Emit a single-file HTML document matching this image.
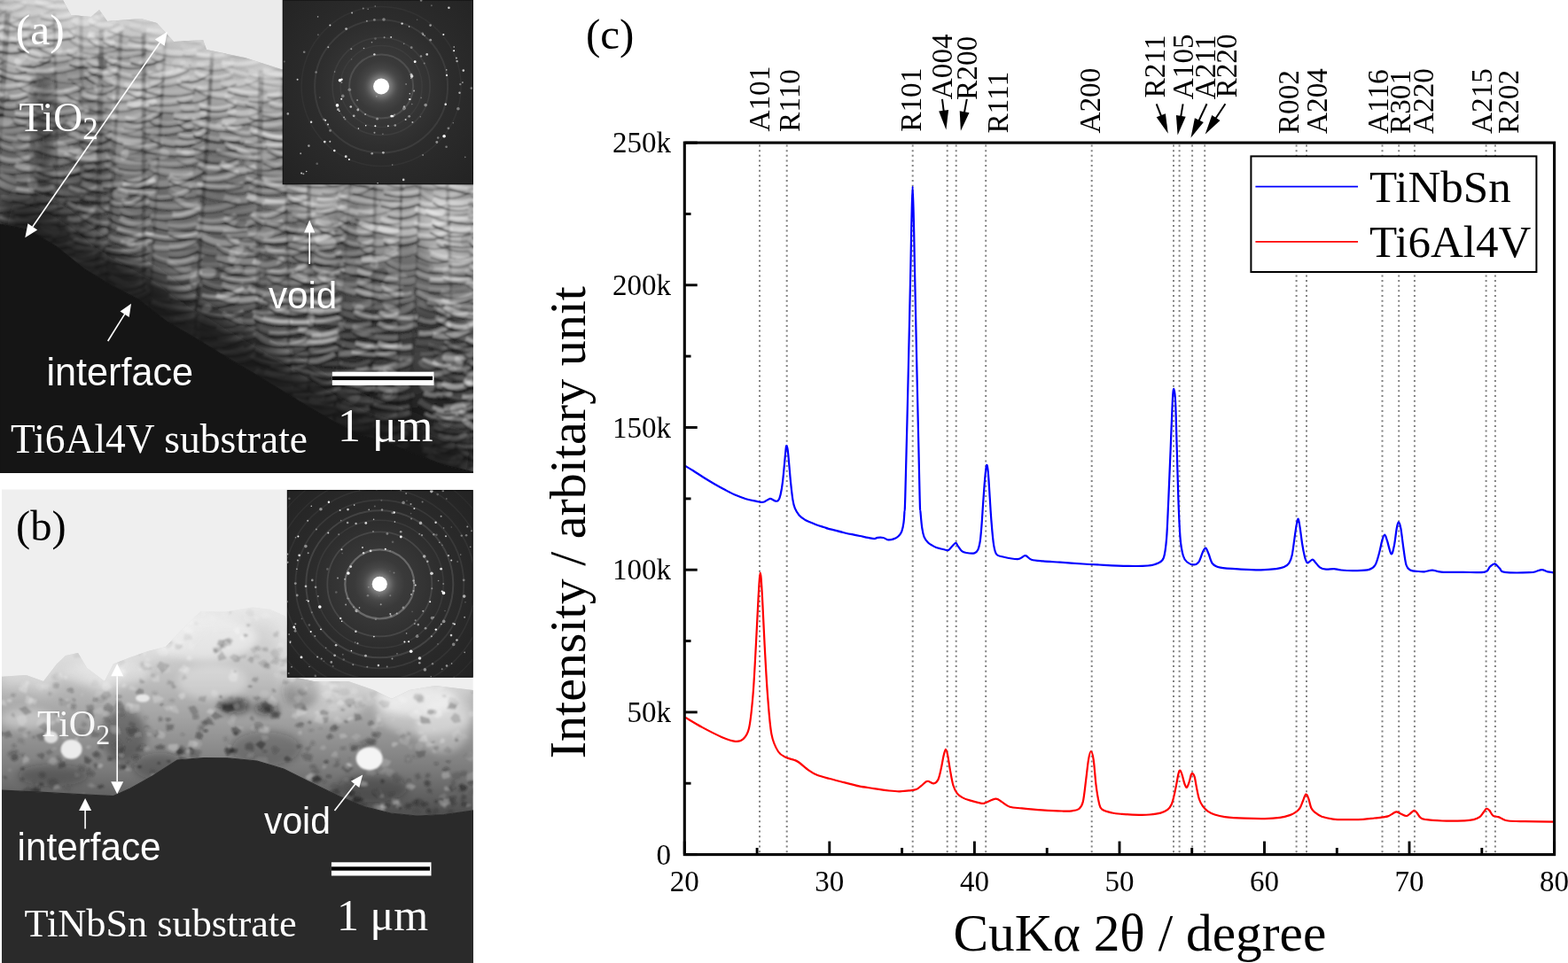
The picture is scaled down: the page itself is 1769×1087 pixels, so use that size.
<!DOCTYPE html>
<html><head><meta charset="utf-8"><title>Figure</title>
<style>
html,body{margin:0;padding:0;background:#fff;}
#fig{position:relative;width:1769px;height:1087px;overflow:hidden;background:#fff;}
svg{position:absolute;left:0;top:0;}
</style></head><body><div id="fig">
<svg width="1769" height="1087" viewBox="0 0 1769 1087">
<defs>
<filter id="bl1" x="-5%" y="-5%" width="110%" height="110%"><feGaussianBlur stdDeviation="1.2"/></filter>
<filter id="bl3" x="-50%" y="-50%" width="200%" height="200%"><feGaussianBlur stdDeviation="4"/></filter>
<filter id="bl8" x="-20%" y="-20%" width="140%" height="140%"><feGaussianBlur stdDeviation="8"/></filter>
<filter id="bl12" x="-30%" y="-30%" width="160%" height="160%"><feGaussianBlur stdDeviation="13"/></filter>
<clipPath id="cpA"><rect x="0" y="0" width="533.7" height="533.7"/></clipPath>
<clipPath id="cpB"><rect x="2" y="552.5" width="531.7" height="534.5"/></clipPath>
<clipPath id="fA"><path d="M0.0 0.0 L71.0 0.0 L80.0 17.0 L103.0 19.0 L112.0 11.0 L121.0 24.0 L159.0 21.0 L177.0 26.0 L196.0 47.0 L229.0 45.0 L233.0 56.0 L276.0 65.0 L317.0 78.0 L534.0 78.0 L534.0 534.0 L534.0 533.0 L501.0 525.0 L469.0 513.0 L438.0 500.0 L407.0 491.0 L375.0 475.0 L344.0 457.0 L313.0 438.0 L282.0 419.0 L250.0 400.0 L219.0 381.0 L188.0 363.0 L156.0 338.0 L125.0 322.0 L94.0 303.0 L63.0 278.0 L31.0 259.0 L0.0 253.0 Z"/></clipPath>
<clipPath id="fB"><path d="M0.0 764.0 L29.5 762.0 L49.0 769.0 L64.0 749.5 L74.0 740.0 L88.0 737.0 L98.0 754.0 L118.0 769.0 L128.0 749.5 L147.0 742.0 L167.0 735.0 L187.0 730.0 L206.0 710.0 L226.0 690.5 L255.0 690.5 L285.0 685.6 L305.0 688.0 L322.0 695.5 L330.0 764.0 L354.0 769.0 L393.0 769.0 L422.0 779.0 L442.0 789.0 L462.0 779.0 L491.0 774.0 L534.0 779.0 L534.0 915.0 L501.0 919.5 L470.8 921.0 L440.7 918.0 L410.6 910.5 L380.6 898.0 L350.0 883.0 L320.0 868.0 L290.0 859.0 L260.0 856.0 L230.0 855.5 L200.0 858.0 L172.0 876.0 L147.0 890.0 L128.0 898.6 L98.0 897.0 L49.0 894.4 L0.0 892.0 Z"/></clipPath>
<linearGradient id="gA" gradientUnits="userSpaceOnUse" x1="101.2" y1="439.8" x2="241.5" y2="0.6"><stop offset="0" stop-color="#222222"/><stop offset="0.5" stop-color="#686868"/><stop offset="0.8" stop-color="#959595"/><stop offset="1" stop-color="#c0c0c0"/></linearGradient>
<linearGradient id="gB" gradientUnits="userSpaceOnUse" x1="0" y1="690" x2="0" y2="915"><stop offset="0" stop-color="#e0e0e0"/><stop offset="0.3" stop-color="#c4c4c4"/><stop offset="0.55" stop-color="#a0a0a0"/><stop offset="0.8" stop-color="#7a7a7a"/><stop offset="1" stop-color="#525252"/></linearGradient>
</defs>
<g clip-path="url(#cpA)">
<rect x="0" y="0" width="534" height="534" fill="#ebebeb"/>
<path d="M0.0 0.0 L71.0 0.0 L80.0 17.0 L103.0 19.0 L112.0 11.0 L121.0 24.0 L159.0 21.0 L177.0 26.0 L196.0 47.0 L229.0 45.0 L233.0 56.0 L276.0 65.0 L317.0 78.0 L534.0 78.0 L534.0 534.0 L534.0 533.0 L501.0 525.0 L469.0 513.0 L438.0 500.0 L407.0 491.0 L375.0 475.0 L344.0 457.0 L313.0 438.0 L282.0 419.0 L250.0 400.0 L219.0 381.0 L188.0 363.0 L156.0 338.0 L125.0 322.0 L94.0 303.0 L63.0 278.0 L31.0 259.0 L0.0 253.0 Z" fill="url(#gA)"/>
<g clip-path="url(#fA)"><g filter="url(#bl1)"><ellipse cx="100" cy="170" rx="8" ry="70" fill="#2a2a2a" opacity="0.30" filter="url(#bl8)"/>
<ellipse cx="140" cy="120" rx="30" ry="50" fill="#ffffff" opacity="0.22" filter="url(#bl8)"/>
<ellipse cx="20" cy="90" rx="20" ry="30" fill="#ffffff" opacity="0.25" filter="url(#bl8)"/>
<ellipse cx="300" cy="95" rx="25" ry="15" fill="#ffffff" opacity="0.30" filter="url(#bl8)"/>
<ellipse cx="360" cy="228" rx="25" ry="20" fill="#ffffff" opacity="0.35" filter="url(#bl8)"/>
<ellipse cx="505" cy="260" rx="30" ry="50" fill="#ffffff" opacity="0.35" filter="url(#bl8)"/>
<ellipse cx="460" cy="240" rx="40" ry="25" fill="#ffffff" opacity="0.25" filter="url(#bl8)"/>
<ellipse cx="430" cy="260" rx="20" ry="40" fill="#ffffff" opacity="0.12" filter="url(#bl8)"/>
<ellipse cx="250" cy="200" rx="30" ry="40" fill="#202020" opacity="0.18" filter="url(#bl8)"/>
<ellipse cx="390" cy="300" rx="25" ry="50" fill="#202020" opacity="0.18" filter="url(#bl8)"/>
<ellipse cx="180" cy="290" rx="40" ry="25" fill="#ffffff" opacity="0.12" filter="url(#bl8)"/>
<ellipse cx="460" cy="420" rx="40" ry="30" fill="#ffffff" opacity="0.10" filter="url(#bl8)"/>
<ellipse cx="215" cy="75" rx="30" ry="20" fill="#ffffff" opacity="0.20" filter="url(#bl8)"/>
<ellipse cx="270" cy="100" rx="20" ry="20" fill="#ffffff" opacity="0.15" filter="url(#bl8)"/>
<ellipse cx="160" cy="40" rx="30" ry="15" fill="#ffffff" opacity="0.25" filter="url(#bl8)"/>
<ellipse cx="60" cy="35" rx="70" ry="35" fill="#ffffff" opacity="0.30" filter="url(#bl8)"/>
<ellipse cx="210" cy="100" rx="70" ry="25" fill="#ffffff" opacity="0.20" filter="url(#bl8)"/>
<ellipse cx="450" cy="410" rx="100" ry="60" fill="#101010" opacity="0.35" filter="url(#bl8)"/>
<ellipse cx="360" cy="360" rx="40" ry="30" fill="#101010" opacity="0.20" filter="url(#bl8)"/>
<ellipse cx="480" cy="470" rx="70" ry="50" fill="#101010" opacity="0.30" filter="url(#bl8)"/>
<path d="M-23.7 -10.7 Q-8.4 -3.7 7.0 -13.3" stroke="#fafafa" stroke-width="3.2" fill="none" opacity="0.27"/>
<path d="M-23.7 -5.7 Q-8.4 1.3 7.0 -8.3" stroke="#121212" stroke-width="1.6" fill="none" opacity="0.13"/>
<path d="M-29.9 1.1 Q-12.3 8.0 5.3 -6.4" stroke="#fafafa" stroke-width="3.8" fill="none" opacity="0.31"/>
<path d="M-29.9 6.1 Q-12.3 13.0 5.3 -1.4" stroke="#121212" stroke-width="2.9" fill="none" opacity="0.15"/>
<path d="M-22.8 10.4 Q-7.7 19.2 7.5 6.2" stroke="#fafafa" stroke-width="3.5" fill="none" opacity="0.12"/>
<path d="M-22.8 15.4 Q-7.7 24.2 7.5 11.2" stroke="#121212" stroke-width="2.0" fill="none" opacity="0.26"/>
<path d="M-29.6 17.8 Q-10.6 25.2 8.4 18.7" stroke="#fafafa" stroke-width="3.2" fill="none" opacity="0.10"/>
<path d="M-29.6 22.8 Q-10.6 30.2 8.4 23.7" stroke="#121212" stroke-width="1.8" fill="none" opacity="0.31"/>
<path d="M-31.6 31.4 Q-12.9 37.0 5.7 27.4" stroke="#fafafa" stroke-width="5.8" fill="none" opacity="0.34"/>
<path d="M-31.6 36.4 Q-12.9 42.0 5.7 32.4" stroke="#121212" stroke-width="1.9" fill="none" opacity="0.36"/>
<path d="M-29.9 36.2 Q-10.3 47.3 9.3 45.8" stroke="#fafafa" stroke-width="3.4" fill="none" opacity="0.23"/>
<path d="M-29.9 41.2 Q-10.3 52.3 9.3 50.8" stroke="#121212" stroke-width="2.6" fill="none" opacity="0.26"/>
<path d="M-35.2 51.7 Q-16.0 62.6 3.2 53.2" stroke="#fafafa" stroke-width="6.1" fill="none" opacity="0.20"/>
<path d="M-35.2 56.7 Q-16.0 67.6 3.2 58.2" stroke="#121212" stroke-width="2.5" fill="none" opacity="0.44"/>
<path d="M-34.6 64.6 Q-14.2 75.9 6.1 64.1" stroke="#fafafa" stroke-width="5.3" fill="none" opacity="0.10"/>
<path d="M-34.6 69.6 Q-14.2 80.9 6.1 69.1" stroke="#121212" stroke-width="2.6" fill="none" opacity="0.46"/>
<path d="M-29.6 76.6 Q-12.9 85.4 3.8 80.0" stroke="#fafafa" stroke-width="3.1" fill="none" opacity="0.25"/>
<path d="M-29.6 81.6 Q-12.9 90.4 3.8 85.0" stroke="#121212" stroke-width="1.8" fill="none" opacity="0.25"/>
<path d="M-29.5 88.7 Q-13.8 93.6 1.9 86.5" stroke="#fafafa" stroke-width="6.0" fill="none" opacity="0.11"/>
<path d="M-29.5 93.7 Q-13.8 98.6 1.9 91.5" stroke="#121212" stroke-width="2.2" fill="none" opacity="0.42"/>
<path d="M-34.8 101.9 Q-14.3 107.2 6.1 100.2" stroke="#fafafa" stroke-width="4.3" fill="none" opacity="0.41"/>
<path d="M-34.8 106.9 Q-14.3 112.2 6.1 105.2" stroke="#121212" stroke-width="2.9" fill="none" opacity="0.26"/>
<path d="M-34.8 110.0 Q-18.5 118.8 -2.1 111.8" stroke="#fafafa" stroke-width="3.9" fill="none" opacity="0.08"/>
<path d="M-34.8 115.0 Q-18.5 123.8 -2.1 116.8" stroke="#121212" stroke-width="2.1" fill="none" opacity="0.35"/>
<path d="M-34.2 121.6 Q-14.9 130.9 4.5 123.9" stroke="#fafafa" stroke-width="5.4" fill="none" opacity="0.10"/>
<path d="M-34.2 126.6 Q-14.9 135.9 4.5 128.9" stroke="#121212" stroke-width="2.8" fill="none" opacity="0.51"/>
<path d="M-34.0 140.1 Q-16.6 143.3 0.8 132.1" stroke="#fafafa" stroke-width="5.2" fill="none" opacity="0.10"/>
<path d="M-34.0 145.1 Q-16.6 148.3 0.8 137.1" stroke="#121212" stroke-width="1.6" fill="none" opacity="0.28"/>
<path d="M-35.2 149.4 Q-20.0 149.9 -4.8 142.4" stroke="#fafafa" stroke-width="3.4" fill="none" opacity="0.21"/>
<path d="M-35.2 154.4 Q-20.0 154.9 -4.8 147.4" stroke="#121212" stroke-width="1.5" fill="none" opacity="0.55"/>
<path d="M-38.4 159.3 Q-21.9 164.8 -5.4 156.6" stroke="#fafafa" stroke-width="3.4" fill="none" opacity="0.39"/>
<path d="M-38.4 164.3 Q-21.9 169.8 -5.4 161.6" stroke="#121212" stroke-width="3.0" fill="none" opacity="0.39"/>
<path d="M-38.5 171.8 Q-23.0 176.1 -7.5 167.1" stroke="#fafafa" stroke-width="5.9" fill="none" opacity="0.14"/>
<path d="M-38.5 176.8 Q-23.0 181.1 -7.5 172.1" stroke="#121212" stroke-width="1.5" fill="none" opacity="0.58"/>
<path d="M-41.7 180.8 Q-23.3 185.3 -4.9 181.3" stroke="#fafafa" stroke-width="6.4" fill="none" opacity="0.40"/>
<path d="M-41.7 185.8 Q-23.3 190.3 -4.9 186.3" stroke="#121212" stroke-width="2.5" fill="none" opacity="0.30"/>
<path d="M-43.7 189.1 Q-23.9 200.1 -4.0 194.7" stroke="#fafafa" stroke-width="4.2" fill="none" opacity="0.16"/>
<path d="M-43.7 194.1 Q-23.9 205.1 -4.0 199.7" stroke="#121212" stroke-width="2.7" fill="none" opacity="0.59"/>
<path d="M-41.0 207.9 Q-20.9 215.1 -0.7 202.4" stroke="#fafafa" stroke-width="4.8" fill="none" opacity="0.21"/>
<path d="M-41.0 212.9 Q-20.9 220.1 -0.7 207.4" stroke="#121212" stroke-width="1.5" fill="none" opacity="0.21"/>
<path d="M-44.1 216.1 Q-24.8 227.2 -5.4 215.0" stroke="#fafafa" stroke-width="6.3" fill="none" opacity="0.45"/>
<path d="M-44.1 221.1 Q-24.8 232.2 -5.4 220.0" stroke="#121212" stroke-width="2.9" fill="none" opacity="0.35"/>
<path d="M-41.7 224.4 Q-25.6 231.3 -9.5 226.9" stroke="#fafafa" stroke-width="6.2" fill="none" opacity="0.39"/>
<path d="M-41.7 229.4 Q-25.6 236.3 -9.5 231.9" stroke="#121212" stroke-width="2.2" fill="none" opacity="0.46"/>
<path d="M-46.4 235.8 Q-27.3 249.9 -8.1 241.5" stroke="#fafafa" stroke-width="5.6" fill="none" opacity="0.26"/>
<path d="M-46.4 240.8 Q-27.3 254.9 -8.1 246.5" stroke="#121212" stroke-width="1.8" fill="none" opacity="0.52"/>
<path d="M-44.8 250.3 Q-23.6 256.5 -2.5 248.3" stroke="#fafafa" stroke-width="6.3" fill="none" opacity="0.35"/>
<path d="M-44.8 255.3 Q-23.6 261.5 -2.5 253.3" stroke="#121212" stroke-width="1.8" fill="none" opacity="0.25"/>
<path d="M-43.7 255.8 Q-23.6 264.2 -3.5 262.3" stroke="#fafafa" stroke-width="6.4" fill="none" opacity="0.32"/>
<path d="M-43.7 260.8 Q-23.6 269.2 -3.5 267.3" stroke="#121212" stroke-width="2.0" fill="none" opacity="0.42"/>
<line x1="8.6" y1="15.0" x2="-7.1" y2="253.0" stroke="#1a1a1a" stroke-width="6.9" opacity="0.31"/>
<path d="M-11.3 -4.1 Q11.7 3.6 34.6 -9.9" stroke="#fafafa" stroke-width="3.9" fill="none" opacity="0.19"/>
<path d="M-11.3 0.9 Q11.7 8.6 34.6 -4.9" stroke="#121212" stroke-width="1.9" fill="none" opacity="0.15"/>
<path d="M-5.7 4.8 Q11.9 14.6 29.5 1.8" stroke="#fafafa" stroke-width="4.6" fill="none" opacity="0.30"/>
<path d="M-5.7 9.8 Q11.9 19.6 29.5 6.8" stroke="#121212" stroke-width="2.9" fill="none" opacity="0.15"/>
<path d="M-7.7 21.7 Q12.8 25.1 33.3 12.1" stroke="#fafafa" stroke-width="4.5" fill="none" opacity="0.15"/>
<path d="M-7.7 26.7 Q12.8 30.1 33.3 17.1" stroke="#121212" stroke-width="1.5" fill="none" opacity="0.33"/>
<path d="M-8.9 28.5 Q13.0 35.2 34.9 25.0" stroke="#fafafa" stroke-width="4.8" fill="none" opacity="0.29"/>
<path d="M-8.9 33.5 Q13.0 40.2 34.9 30.0" stroke="#121212" stroke-width="2.7" fill="none" opacity="0.19"/>
<path d="M-6.6 38.5 Q12.0 48.7 30.6 38.6" stroke="#fafafa" stroke-width="5.0" fill="none" opacity="0.36"/>
<path d="M-6.6 43.5 Q12.0 53.7 30.6 43.6" stroke="#121212" stroke-width="2.9" fill="none" opacity="0.37"/>
<path d="M-6.4 51.1 Q13.9 60.2 34.3 50.1" stroke="#fafafa" stroke-width="4.9" fill="none" opacity="0.26"/>
<path d="M-6.4 56.1 Q13.9 65.2 34.3 55.1" stroke="#121212" stroke-width="2.9" fill="none" opacity="0.48"/>
<path d="M-1.5 59.6 Q17.0 72.5 35.5 68.4" stroke="#fafafa" stroke-width="5.9" fill="none" opacity="0.13"/>
<path d="M-1.5 64.6 Q17.0 77.5 35.5 73.4" stroke="#121212" stroke-width="1.7" fill="none" opacity="0.38"/>
<path d="M-4.1 70.5 Q13.1 82.7 30.2 76.2" stroke="#fafafa" stroke-width="6.1" fill="none" opacity="0.14"/>
<path d="M-4.1 75.5 Q13.1 87.7 30.2 81.2" stroke="#121212" stroke-width="2.6" fill="none" opacity="0.46"/>
<path d="M-6.4 78.5 Q17.2 88.8 40.9 87.6" stroke="#fafafa" stroke-width="4.4" fill="none" opacity="0.26"/>
<path d="M-6.4 83.5 Q17.2 93.8 40.9 92.6" stroke="#121212" stroke-width="3.0" fill="none" opacity="0.53"/>
<path d="M-5.5 95.9 Q14.8 99.6 35.2 89.8" stroke="#fafafa" stroke-width="4.1" fill="none" opacity="0.35"/>
<path d="M-5.5 100.9 Q14.8 104.6 35.2 94.8" stroke="#121212" stroke-width="1.5" fill="none" opacity="0.42"/>
<path d="M-6.3 104.0 Q12.7 113.1 31.8 104.2" stroke="#fafafa" stroke-width="3.2" fill="none" opacity="0.44"/>
<path d="M-6.3 109.0 Q12.7 118.1 31.8 109.2" stroke="#121212" stroke-width="2.7" fill="none" opacity="0.59"/>
<path d="M-2.4 115.9 Q14.5 123.8 31.4 111.3" stroke="#fafafa" stroke-width="3.5" fill="none" opacity="0.24"/>
<path d="M-2.4 120.9 Q14.5 128.8 31.4 116.3" stroke="#121212" stroke-width="2.9" fill="none" opacity="0.53"/>
<path d="M-9.2 121.9 Q14.1 132.5 37.5 125.9" stroke="#fafafa" stroke-width="3.3" fill="none" opacity="0.10"/>
<path d="M-9.2 126.9 Q14.1 137.5 37.5 130.9" stroke="#121212" stroke-width="2.5" fill="none" opacity="0.37"/>
<path d="M-2.1 137.4 Q19.2 143.7 40.4 129.1" stroke="#fafafa" stroke-width="6.0" fill="none" opacity="0.10"/>
<path d="M-2.1 142.4 Q19.2 148.7 40.4 134.1" stroke="#121212" stroke-width="2.8" fill="none" opacity="0.38"/>
<path d="M-6.2 147.7 Q17.2 150.1 40.6 140.2" stroke="#fafafa" stroke-width="4.8" fill="none" opacity="0.17"/>
<path d="M-6.2 152.7 Q17.2 155.1 40.6 145.2" stroke="#121212" stroke-width="1.7" fill="none" opacity="0.26"/>
<path d="M-3.5 150.6 Q15.4 159.6 34.3 155.8" stroke="#fafafa" stroke-width="4.0" fill="none" opacity="0.27"/>
<path d="M-3.5 155.6 Q15.4 164.6 34.3 160.8" stroke="#121212" stroke-width="1.8" fill="none" opacity="0.34"/>
<path d="M-0.8 161.8 Q16.0 172.2 32.7 162.8" stroke="#fafafa" stroke-width="3.7" fill="none" opacity="0.26"/>
<path d="M-0.8 166.8 Q16.0 177.2 32.7 167.8" stroke="#121212" stroke-width="2.9" fill="none" opacity="0.24"/>
<path d="M-2.7 176.5 Q17.5 186.1 37.7 174.3" stroke="#fafafa" stroke-width="4.8" fill="none" opacity="0.33"/>
<path d="M-2.7 181.5 Q17.5 191.1 37.7 179.3" stroke="#121212" stroke-width="3.0" fill="none" opacity="0.34"/>
<path d="M-1.7 190.1 Q19.6 195.8 40.8 187.0" stroke="#fafafa" stroke-width="3.2" fill="none" opacity="0.13"/>
<path d="M-1.7 195.1 Q19.6 200.8 40.8 192.0" stroke="#121212" stroke-width="1.6" fill="none" opacity="0.50"/>
<path d="M-0.6 195.1 Q16.6 209.6 33.9 202.5" stroke="#fafafa" stroke-width="5.3" fill="none" opacity="0.18"/>
<path d="M-0.6 200.1 Q16.6 214.6 33.9 207.5" stroke="#121212" stroke-width="1.9" fill="none" opacity="0.32"/>
<path d="M-2.9 205.5 Q17.0 216.2 36.8 214.7" stroke="#fafafa" stroke-width="6.4" fill="none" opacity="0.28"/>
<path d="M-2.9 210.5 Q17.0 221.2 36.8 219.7" stroke="#121212" stroke-width="1.9" fill="none" opacity="0.59"/>
<path d="M1.8 220.9 Q18.5 227.7 35.1 220.4" stroke="#fafafa" stroke-width="4.8" fill="none" opacity="0.15"/>
<path d="M1.8 225.9 Q18.5 232.7 35.1 225.4" stroke="#121212" stroke-width="2.3" fill="none" opacity="0.20"/>
<path d="M-2.3 235.8 Q17.2 235.3 36.8 226.2" stroke="#fafafa" stroke-width="4.1" fill="none" opacity="0.17"/>
<path d="M-2.3 240.8 Q17.2 240.3 36.8 231.2" stroke="#121212" stroke-width="2.4" fill="none" opacity="0.41"/>
<path d="M-0.8 244.9 Q21.0 254.8 42.9 242.6" stroke="#fafafa" stroke-width="4.1" fill="none" opacity="0.44"/>
<path d="M-0.8 249.9 Q21.0 259.8 42.9 247.6" stroke="#121212" stroke-width="1.7" fill="none" opacity="0.49"/>
<path d="M-5.0 254.7 Q17.7 267.1 40.4 257.2" stroke="#fafafa" stroke-width="5.6" fill="none" opacity="0.38"/>
<path d="M-5.0 259.7 Q17.7 272.1 40.4 262.2" stroke="#121212" stroke-width="1.7" fill="none" opacity="0.41"/>
<path d="M11.0 -13.9 Q37.5 -2.5 64.0 -10.1" stroke="#fafafa" stroke-width="3.8" fill="none" opacity="0.09"/>
<path d="M11.0 -8.9 Q37.5 2.5 64.0 -5.1" stroke="#121212" stroke-width="1.7" fill="none" opacity="0.12"/>
<path d="M15.4 -3.7 Q39.2 6.5 62.9 -1.2" stroke="#fafafa" stroke-width="5.4" fill="none" opacity="0.26"/>
<path d="M15.4 1.3 Q39.2 11.5 62.9 3.8" stroke="#121212" stroke-width="1.5" fill="none" opacity="0.18"/>
<path d="M13.9 14.6 Q37.4 19.5 61.0 5.9" stroke="#fafafa" stroke-width="5.6" fill="none" opacity="0.17"/>
<path d="M13.9 19.6 Q37.4 24.5 61.0 10.9" stroke="#121212" stroke-width="1.6" fill="none" opacity="0.16"/>
<path d="M10.6 23.0 Q35.9 34.7 61.2 22.9" stroke="#fafafa" stroke-width="4.3" fill="none" opacity="0.26"/>
<path d="M10.6 28.0 Q35.9 39.7 61.2 27.9" stroke="#121212" stroke-width="2.5" fill="none" opacity="0.37"/>
<path d="M19.0 37.5 Q38.8 40.2 58.5 32.5" stroke="#fafafa" stroke-width="5.6" fill="none" opacity="0.19"/>
<path d="M19.0 42.5 Q38.8 45.2 58.5 37.5" stroke="#121212" stroke-width="2.4" fill="none" opacity="0.19"/>
<path d="M12.0 42.5 Q36.7 53.8 61.4 46.1" stroke="#fafafa" stroke-width="4.0" fill="none" opacity="0.27"/>
<path d="M12.0 47.5 Q36.7 58.8 61.4 51.1" stroke="#121212" stroke-width="2.2" fill="none" opacity="0.39"/>
<path d="M19.9 49.5 Q40.6 65.7 61.4 58.3" stroke="#fafafa" stroke-width="3.1" fill="none" opacity="0.25"/>
<path d="M19.9 54.5 Q40.6 70.7 61.4 63.3" stroke="#121212" stroke-width="2.7" fill="none" opacity="0.59"/>
<path d="M16.3 68.0 Q37.1 76.7 57.9 62.2" stroke="#fafafa" stroke-width="5.0" fill="none" opacity="0.13"/>
<path d="M16.3 73.0 Q37.1 81.7 57.9 67.2" stroke="#121212" stroke-width="2.3" fill="none" opacity="0.58"/>
<path d="M17.3 72.8 Q40.6 85.9 63.9 76.8" stroke="#fafafa" stroke-width="3.8" fill="none" opacity="0.41"/>
<path d="M17.3 77.8 Q40.6 90.9 63.9 81.8" stroke="#121212" stroke-width="2.2" fill="none" opacity="0.21"/>
<path d="M15.9 87.4 Q38.8 90.2 61.6 80.2" stroke="#fafafa" stroke-width="4.2" fill="none" opacity="0.20"/>
<path d="M15.9 92.4 Q38.8 95.2 61.6 85.2" stroke="#121212" stroke-width="2.8" fill="none" opacity="0.20"/>
<path d="M21.0 94.4 Q41.1 108.0 61.2 98.7" stroke="#fafafa" stroke-width="6.2" fill="none" opacity="0.19"/>
<path d="M21.0 99.4 Q41.1 113.0 61.2 103.7" stroke="#121212" stroke-width="2.1" fill="none" opacity="0.36"/>
<path d="M17.8 112.8 Q39.9 118.0 62.0 108.3" stroke="#fafafa" stroke-width="3.2" fill="none" opacity="0.12"/>
<path d="M17.8 117.8 Q39.9 123.0 62.0 113.3" stroke="#121212" stroke-width="2.8" fill="none" opacity="0.31"/>
<path d="M16.8 127.3 Q38.1 132.3 59.4 121.1" stroke="#fafafa" stroke-width="4.3" fill="none" opacity="0.43"/>
<path d="M16.8 132.3 Q38.1 137.3 59.4 126.1" stroke="#121212" stroke-width="2.8" fill="none" opacity="0.52"/>
<path d="M15.4 134.2 Q42.3 144.8 69.3 138.6" stroke="#fafafa" stroke-width="3.2" fill="none" opacity="0.35"/>
<path d="M15.4 139.2 Q42.3 149.8 69.3 143.6" stroke="#121212" stroke-width="2.2" fill="none" opacity="0.50"/>
<path d="M19.3 152.4 Q38.8 160.0 58.3 144.9" stroke="#fafafa" stroke-width="4.7" fill="none" opacity="0.21"/>
<path d="M19.3 157.4 Q38.8 165.0 58.3 149.9" stroke="#121212" stroke-width="1.9" fill="none" opacity="0.50"/>
<path d="M14.3 161.9 Q38.9 168.9 63.5 163.1" stroke="#fafafa" stroke-width="4.4" fill="none" opacity="0.14"/>
<path d="M14.3 166.9 Q38.9 173.9 63.5 168.1" stroke="#121212" stroke-width="1.7" fill="none" opacity="0.28"/>
<path d="M19.7 171.1 Q40.6 187.3 61.5 181.0" stroke="#fafafa" stroke-width="4.6" fill="none" opacity="0.13"/>
<path d="M19.7 176.1 Q40.6 192.3 61.5 186.0" stroke="#121212" stroke-width="1.8" fill="none" opacity="0.24"/>
<path d="M17.3 186.0 Q38.4 192.8 59.4 187.4" stroke="#fafafa" stroke-width="6.1" fill="none" opacity="0.36"/>
<path d="M17.3 191.0 Q38.4 197.8 59.4 192.4" stroke="#121212" stroke-width="2.1" fill="none" opacity="0.37"/>
<path d="M18.4 200.6 Q40.3 202.9 62.2 196.1" stroke="#fafafa" stroke-width="6.4" fill="none" opacity="0.13"/>
<path d="M18.4 205.6 Q40.3 207.9 62.2 201.1" stroke="#121212" stroke-width="2.3" fill="none" opacity="0.45"/>
<path d="M18.2 212.7 Q39.6 217.7 60.9 210.7" stroke="#fafafa" stroke-width="4.6" fill="none" opacity="0.43"/>
<path d="M18.2 217.7 Q39.6 222.7 60.9 215.7" stroke="#121212" stroke-width="2.8" fill="none" opacity="0.55"/>
<path d="M13.6 221.1 Q38.7 232.0 63.7 220.5" stroke="#fafafa" stroke-width="5.1" fill="none" opacity="0.08"/>
<path d="M13.6 226.1 Q38.7 237.0 63.7 225.5" stroke="#121212" stroke-width="2.1" fill="none" opacity="0.57"/>
<path d="M16.6 237.8 Q43.8 239.9 71.0 230.0" stroke="#fafafa" stroke-width="3.5" fill="none" opacity="0.27"/>
<path d="M16.6 242.8 Q43.8 244.9 71.0 235.0" stroke="#121212" stroke-width="2.5" fill="none" opacity="0.58"/>
<path d="M17.4 246.0 Q42.8 254.2 68.3 247.0" stroke="#fafafa" stroke-width="3.1" fill="none" opacity="0.37"/>
<path d="M17.4 251.0 Q42.8 259.2 68.3 252.0" stroke="#121212" stroke-width="1.8" fill="none" opacity="0.57"/>
<path d="M20.9 257.4 Q41.0 264.8 61.2 260.1" stroke="#fafafa" stroke-width="5.4" fill="none" opacity="0.12"/>
<path d="M20.9 262.4 Q41.0 269.8 61.2 265.1" stroke="#121212" stroke-width="1.6" fill="none" opacity="0.41"/>
<path d="M20.8 275.6 Q41.7 279.5 62.7 265.8" stroke="#fafafa" stroke-width="4.1" fill="none" opacity="0.25"/>
<path d="M20.8 280.6 Q41.7 284.5 62.7 270.8" stroke="#121212" stroke-width="2.9" fill="none" opacity="0.46"/>
<line x1="61.1" y1="15.0" x2="66.1" y2="262.7" stroke="#1a1a1a" stroke-width="3.9" opacity="0.21"/>
<path d="M44.0 -8.7 Q64.7 1.0 85.3 -5.3" stroke="#fafafa" stroke-width="4.5" fill="none" opacity="0.18"/>
<path d="M44.0 -3.7 Q64.7 6.0 85.3 -0.3" stroke="#121212" stroke-width="2.5" fill="none" opacity="0.20"/>
<path d="M39.6 1.3 Q63.1 10.5 86.5 5.0" stroke="#fafafa" stroke-width="3.7" fill="none" opacity="0.37"/>
<path d="M39.6 6.3 Q63.1 15.5 86.5 10.0" stroke="#121212" stroke-width="2.6" fill="none" opacity="0.16"/>
<path d="M45.5 15.9 Q68.7 23.7 92.0 10.5" stroke="#fafafa" stroke-width="3.8" fill="none" opacity="0.36"/>
<path d="M45.5 20.9 Q68.7 28.7 92.0 15.5" stroke="#121212" stroke-width="1.9" fill="none" opacity="0.33"/>
<path d="M41.6 23.0 Q64.1 32.0 86.5 26.3" stroke="#fafafa" stroke-width="6.3" fill="none" opacity="0.13"/>
<path d="M41.6 28.0 Q64.1 37.0 86.5 31.3" stroke="#121212" stroke-width="2.1" fill="none" opacity="0.22"/>
<path d="M43.0 39.6 Q63.9 43.0 84.8 37.4" stroke="#fafafa" stroke-width="6.1" fill="none" opacity="0.41"/>
<path d="M43.0 44.6 Q63.9 48.0 84.8 42.4" stroke="#121212" stroke-width="2.6" fill="none" opacity="0.59"/>
<path d="M42.9 49.7 Q65.1 63.7 87.2 54.6" stroke="#fafafa" stroke-width="3.1" fill="none" opacity="0.33"/>
<path d="M42.9 54.7 Q65.1 68.7 87.2 59.6" stroke="#121212" stroke-width="2.1" fill="none" opacity="0.35"/>
<path d="M43.7 64.3 Q64.1 69.1 84.6 61.3" stroke="#fafafa" stroke-width="6.3" fill="none" opacity="0.13"/>
<path d="M43.7 69.3 Q64.1 74.1 84.6 66.3" stroke="#121212" stroke-width="2.9" fill="none" opacity="0.28"/>
<path d="M40.3 78.1 Q68.1 81.1 95.9 69.1" stroke="#fafafa" stroke-width="4.7" fill="none" opacity="0.22"/>
<path d="M40.3 83.1 Q68.1 86.1 95.9 74.1" stroke="#121212" stroke-width="2.9" fill="none" opacity="0.28"/>
<path d="M47.9 81.3 Q68.6 91.7 89.3 87.5" stroke="#fafafa" stroke-width="5.7" fill="none" opacity="0.10"/>
<path d="M47.9 86.3 Q68.6 96.7 89.3 92.5" stroke="#121212" stroke-width="1.6" fill="none" opacity="0.23"/>
<path d="M37.7 99.6 Q64.8 109.2 92.0 96.4" stroke="#fafafa" stroke-width="4.0" fill="none" opacity="0.43"/>
<path d="M37.7 104.6 Q64.8 114.2 92.0 101.4" stroke="#121212" stroke-width="2.4" fill="none" opacity="0.30"/>
<path d="M42.3 108.1 Q65.3 114.6 88.2 113.2" stroke="#fafafa" stroke-width="6.2" fill="none" opacity="0.31"/>
<path d="M42.3 113.1 Q65.3 119.6 88.2 118.2" stroke="#121212" stroke-width="2.9" fill="none" opacity="0.21"/>
<path d="M37.2 121.9 Q66.2 132.4 95.3 119.6" stroke="#fafafa" stroke-width="3.9" fill="none" opacity="0.24"/>
<path d="M37.2 126.9 Q66.2 137.4 95.3 124.6" stroke="#121212" stroke-width="2.2" fill="none" opacity="0.57"/>
<path d="M41.2 128.0 Q68.3 141.3 95.3 133.4" stroke="#fafafa" stroke-width="5.1" fill="none" opacity="0.20"/>
<path d="M41.2 133.0 Q68.3 146.3 95.3 138.4" stroke="#121212" stroke-width="2.0" fill="none" opacity="0.34"/>
<path d="M41.8 146.1 Q64.0 153.6 86.2 141.1" stroke="#fafafa" stroke-width="3.2" fill="none" opacity="0.09"/>
<path d="M41.8 151.1 Q64.0 158.6 86.2 146.1" stroke="#121212" stroke-width="2.3" fill="none" opacity="0.33"/>
<path d="M39.6 161.7 Q68.9 163.6 98.2 153.4" stroke="#fafafa" stroke-width="3.3" fill="none" opacity="0.26"/>
<path d="M39.6 166.7 Q68.9 168.6 98.2 158.4" stroke="#121212" stroke-width="2.6" fill="none" opacity="0.38"/>
<path d="M40.1 165.2 Q66.1 177.1 92.1 170.2" stroke="#fafafa" stroke-width="6.0" fill="none" opacity="0.33"/>
<path d="M40.1 170.2 Q66.1 182.1 92.1 175.2" stroke="#121212" stroke-width="1.7" fill="none" opacity="0.54"/>
<path d="M43.3 181.2 Q67.1 188.1 90.9 175.1" stroke="#fafafa" stroke-width="3.9" fill="none" opacity="0.17"/>
<path d="M43.3 186.2 Q67.1 193.1 90.9 180.1" stroke="#121212" stroke-width="1.7" fill="none" opacity="0.55"/>
<path d="M41.7 190.0 Q65.7 202.0 89.7 190.1" stroke="#fafafa" stroke-width="3.8" fill="none" opacity="0.38"/>
<path d="M41.7 195.0 Q65.7 207.0 89.7 195.1" stroke="#121212" stroke-width="2.5" fill="none" opacity="0.60"/>
<path d="M38.8 195.4 Q66.6 210.3 94.4 203.7" stroke="#fafafa" stroke-width="3.1" fill="none" opacity="0.19"/>
<path d="M38.8 200.4 Q66.6 215.3 94.4 208.7" stroke="#121212" stroke-width="1.7" fill="none" opacity="0.28"/>
<path d="M38.5 209.8 Q67.3 220.4 96.1 217.1" stroke="#fafafa" stroke-width="4.6" fill="none" opacity="0.18"/>
<path d="M38.5 214.8 Q67.3 225.4 96.1 222.1" stroke="#121212" stroke-width="2.7" fill="none" opacity="0.58"/>
<path d="M41.4 224.3 Q67.4 228.7 93.4 221.6" stroke="#fafafa" stroke-width="3.5" fill="none" opacity="0.16"/>
<path d="M41.4 229.3 Q67.4 233.7 93.4 226.6" stroke="#121212" stroke-width="1.9" fill="none" opacity="0.44"/>
<path d="M44.6 233.4 Q65.1 241.8 85.7 237.0" stroke="#fafafa" stroke-width="3.6" fill="none" opacity="0.20"/>
<path d="M44.6 238.4 Q65.1 246.8 85.7 242.0" stroke="#121212" stroke-width="1.8" fill="none" opacity="0.52"/>
<path d="M43.0 246.4 Q64.4 254.1 85.7 247.4" stroke="#fafafa" stroke-width="5.2" fill="none" opacity="0.11"/>
<path d="M43.0 251.4 Q64.4 259.1 85.7 252.4" stroke="#121212" stroke-width="1.7" fill="none" opacity="0.48"/>
<path d="M42.5 259.9 Q65.7 269.6 88.9 256.1" stroke="#fafafa" stroke-width="5.0" fill="none" opacity="0.21"/>
<path d="M42.5 264.9 Q65.7 274.6 88.9 261.1" stroke="#121212" stroke-width="2.1" fill="none" opacity="0.55"/>
<path d="M44.1 274.9 Q66.3 281.8 88.5 269.0" stroke="#fafafa" stroke-width="3.0" fill="none" opacity="0.41"/>
<path d="M44.1 279.9 Q66.3 286.8 88.5 274.0" stroke="#121212" stroke-width="2.1" fill="none" opacity="0.53"/>
<path d="M44.9 287.9 Q69.4 288.3 94.0 278.2" stroke="#fafafa" stroke-width="4.9" fill="none" opacity="0.32"/>
<path d="M44.9 292.9 Q69.4 293.3 94.0 283.2" stroke="#121212" stroke-width="2.9" fill="none" opacity="0.24"/>
<line x1="91.4" y1="15.0" x2="92.7" y2="280.3" stroke="#1a1a1a" stroke-width="5.0" opacity="0.19"/>
<path d="M84.1 3.4 Q99.3 14.4 114.5 9.5" stroke="#fafafa" stroke-width="6.4" fill="none" opacity="0.15"/>
<path d="M84.1 8.4 Q99.3 19.4 114.5 14.5" stroke="#121212" stroke-width="1.7" fill="none" opacity="0.20"/>
<path d="M81.6 21.4 Q96.4 31.7 111.2 19.2" stroke="#fafafa" stroke-width="6.2" fill="none" opacity="0.31"/>
<path d="M81.6 26.4 Q96.4 36.7 111.2 24.2" stroke="#121212" stroke-width="2.7" fill="none" opacity="0.10"/>
<path d="M77.5 30.0 Q94.6 44.0 111.7 36.5" stroke="#fafafa" stroke-width="3.6" fill="none" opacity="0.16"/>
<path d="M77.5 35.0 Q94.6 49.0 111.7 41.5" stroke="#121212" stroke-width="2.1" fill="none" opacity="0.24"/>
<path d="M77.8 40.2 Q93.8 54.0 109.9 48.1" stroke="#fafafa" stroke-width="3.1" fill="none" opacity="0.29"/>
<path d="M77.8 45.2 Q93.8 59.0 109.9 53.1" stroke="#121212" stroke-width="2.6" fill="none" opacity="0.17"/>
<path d="M75.3 56.1 Q93.6 65.8 111.8 58.6" stroke="#fafafa" stroke-width="4.1" fill="none" opacity="0.24"/>
<path d="M75.3 61.1 Q93.6 70.8 111.8 63.6" stroke="#121212" stroke-width="2.4" fill="none" opacity="0.37"/>
<path d="M78.0 68.5 Q95.3 73.8 112.6 70.8" stroke="#fafafa" stroke-width="4.7" fill="none" opacity="0.17"/>
<path d="M78.0 73.5 Q95.3 78.8 112.6 75.8" stroke="#121212" stroke-width="2.6" fill="none" opacity="0.51"/>
<path d="M76.0 84.7 Q93.5 85.8 111.0 77.2" stroke="#fafafa" stroke-width="4.5" fill="none" opacity="0.11"/>
<path d="M76.0 89.7 Q93.5 90.8 111.0 82.2" stroke="#121212" stroke-width="2.2" fill="none" opacity="0.40"/>
<path d="M81.1 87.4 Q96.1 100.0 111.1 92.9" stroke="#fafafa" stroke-width="4.8" fill="none" opacity="0.10"/>
<path d="M81.1 92.4 Q96.1 105.0 111.1 97.9" stroke="#121212" stroke-width="2.3" fill="none" opacity="0.35"/>
<path d="M72.9 101.6 Q92.9 115.9 112.8 106.2" stroke="#fafafa" stroke-width="5.9" fill="none" opacity="0.15"/>
<path d="M72.9 106.6 Q92.9 120.9 112.8 111.2" stroke="#121212" stroke-width="3.0" fill="none" opacity="0.40"/>
<path d="M81.8 113.4 Q97.3 128.0 112.8 122.0" stroke="#fafafa" stroke-width="3.2" fill="none" opacity="0.21"/>
<path d="M81.8 118.4 Q97.3 133.0 112.8 127.0" stroke="#121212" stroke-width="2.6" fill="none" opacity="0.26"/>
<path d="M73.5 131.1 Q93.2 136.3 112.9 131.2" stroke="#fafafa" stroke-width="6.2" fill="none" opacity="0.16"/>
<path d="M73.5 136.1 Q93.2 141.3 112.9 136.2" stroke="#121212" stroke-width="1.9" fill="none" opacity="0.40"/>
<path d="M75.9 137.4 Q91.6 147.0 107.2 146.1" stroke="#fafafa" stroke-width="5.4" fill="none" opacity="0.41"/>
<path d="M75.9 142.4 Q91.6 152.0 107.2 151.1" stroke="#121212" stroke-width="1.8" fill="none" opacity="0.51"/>
<path d="M75.9 147.6 Q94.4 158.2 112.9 155.1" stroke="#fafafa" stroke-width="4.9" fill="none" opacity="0.29"/>
<path d="M75.9 152.6 Q94.4 163.2 112.9 160.1" stroke="#121212" stroke-width="2.8" fill="none" opacity="0.24"/>
<path d="M77.7 167.7 Q94.7 175.7 111.7 162.9" stroke="#fafafa" stroke-width="6.5" fill="none" opacity="0.29"/>
<path d="M77.7 172.7 Q94.7 180.7 111.7 167.9" stroke="#121212" stroke-width="2.0" fill="none" opacity="0.51"/>
<path d="M72.6 173.3 Q91.8 180.9 111.0 179.7" stroke="#fafafa" stroke-width="3.9" fill="none" opacity="0.32"/>
<path d="M72.6 178.3 Q91.8 185.9 111.0 184.7" stroke="#121212" stroke-width="3.0" fill="none" opacity="0.43"/>
<path d="M77.9 192.3 Q92.4 193.1 106.9 185.3" stroke="#fafafa" stroke-width="5.2" fill="none" opacity="0.24"/>
<path d="M77.9 197.3 Q92.4 198.1 106.9 190.3" stroke="#121212" stroke-width="2.3" fill="none" opacity="0.56"/>
<path d="M73.1 203.5 Q91.7 202.7 110.4 193.5" stroke="#fafafa" stroke-width="4.2" fill="none" opacity="0.12"/>
<path d="M73.1 208.5 Q91.7 207.7 110.4 198.5" stroke="#121212" stroke-width="2.0" fill="none" opacity="0.29"/>
<path d="M77.9 210.7 Q93.7 219.4 109.5 210.2" stroke="#fafafa" stroke-width="3.5" fill="none" opacity="0.43"/>
<path d="M77.9 215.7 Q93.7 224.4 109.5 215.2" stroke="#121212" stroke-width="1.9" fill="none" opacity="0.26"/>
<path d="M73.8 220.9 Q93.8 230.1 113.9 218.9" stroke="#fafafa" stroke-width="3.9" fill="none" opacity="0.08"/>
<path d="M73.8 225.9 Q93.8 235.1 113.9 223.9" stroke="#121212" stroke-width="2.5" fill="none" opacity="0.42"/>
<path d="M76.4 228.3 Q93.7 242.1 111.0 233.0" stroke="#fafafa" stroke-width="3.9" fill="none" opacity="0.41"/>
<path d="M76.4 233.3 Q93.7 247.1 111.0 238.0" stroke="#121212" stroke-width="1.6" fill="none" opacity="0.41"/>
<path d="M76.2 246.5 Q91.1 251.9 105.9 236.8" stroke="#fafafa" stroke-width="4.9" fill="none" opacity="0.43"/>
<path d="M76.2 251.5 Q91.1 256.9 105.9 241.8" stroke="#121212" stroke-width="1.7" fill="none" opacity="0.28"/>
<path d="M73.9 257.0 Q92.5 264.2 111.0 250.5" stroke="#fafafa" stroke-width="4.1" fill="none" opacity="0.19"/>
<path d="M73.9 262.0 Q92.5 269.2 111.0 255.5" stroke="#121212" stroke-width="1.6" fill="none" opacity="0.56"/>
<path d="M79.0 264.2 Q93.5 277.4 108.0 269.1" stroke="#fafafa" stroke-width="4.6" fill="none" opacity="0.35"/>
<path d="M79.0 269.2 Q93.5 282.4 108.0 274.1" stroke="#121212" stroke-width="2.2" fill="none" opacity="0.29"/>
<path d="M75.7 273.7 Q90.4 282.8 105.2 278.6" stroke="#fafafa" stroke-width="5.4" fill="none" opacity="0.39"/>
<path d="M75.7 278.7 Q90.4 287.8 105.2 283.6" stroke="#121212" stroke-width="2.6" fill="none" opacity="0.31"/>
<path d="M71.9 290.3 Q91.4 296.1 110.9 285.6" stroke="#fafafa" stroke-width="5.2" fill="none" opacity="0.44"/>
<path d="M71.9 295.3 Q91.4 301.1 110.9 290.6" stroke="#121212" stroke-width="1.8" fill="none" opacity="0.55"/>
<path d="M74.2 292.5 Q90.2 306.9 106.2 301.4" stroke="#fafafa" stroke-width="5.6" fill="none" opacity="0.20"/>
<path d="M74.2 297.5 Q90.2 311.9 106.2 306.4" stroke="#121212" stroke-width="2.8" fill="none" opacity="0.33"/>
<path d="M75.4 305.5 Q93.9 316.7 112.4 308.8" stroke="#fafafa" stroke-width="6.4" fill="none" opacity="0.25"/>
<path d="M75.4 310.5 Q93.9 321.7 112.4 313.8" stroke="#121212" stroke-width="2.8" fill="none" opacity="0.48"/>
<line x1="114.6" y1="33.4" x2="109.6" y2="304.5" stroke="#1a1a1a" stroke-width="5.9" opacity="0.29"/>
<path d="M104.2 16.6 Q119.4 24.3 134.6 9.5" stroke="#fafafa" stroke-width="3.1" fill="none" opacity="0.12"/>
<path d="M104.2 21.6 Q119.4 29.3 134.6 14.5" stroke="#121212" stroke-width="2.9" fill="none" opacity="0.12"/>
<path d="M100.3 21.4 Q115.3 32.3 130.3 24.1" stroke="#fafafa" stroke-width="5.4" fill="none" opacity="0.35"/>
<path d="M100.3 26.4 Q115.3 37.3 130.3 29.1" stroke="#121212" stroke-width="1.6" fill="none" opacity="0.17"/>
<path d="M99.5 37.9 Q119.4 44.7 139.4 29.2" stroke="#fafafa" stroke-width="6.0" fill="none" opacity="0.42"/>
<path d="M99.5 42.9 Q119.4 49.7 139.4 34.2" stroke="#121212" stroke-width="2.9" fill="none" opacity="0.14"/>
<path d="M99.7 40.5 Q114.7 54.4 129.6 46.7" stroke="#fafafa" stroke-width="5.2" fill="none" opacity="0.39"/>
<path d="M99.7 45.5 Q114.7 59.4 129.6 51.7" stroke="#121212" stroke-width="2.4" fill="none" opacity="0.23"/>
<path d="M94.5 54.9 Q114.1 58.7 133.6 51.3" stroke="#fafafa" stroke-width="4.5" fill="none" opacity="0.09"/>
<path d="M94.5 59.9 Q114.1 63.7 133.6 56.3" stroke="#121212" stroke-width="1.9" fill="none" opacity="0.28"/>
<path d="M98.2 65.6 Q115.0 77.4 131.8 65.7" stroke="#fafafa" stroke-width="6.0" fill="none" opacity="0.31"/>
<path d="M98.2 70.6 Q115.0 82.4 131.8 70.7" stroke="#121212" stroke-width="1.5" fill="none" opacity="0.37"/>
<path d="M99.9 76.5 Q116.8 86.5 133.7 77.2" stroke="#fafafa" stroke-width="3.8" fill="none" opacity="0.40"/>
<path d="M99.9 81.5 Q116.8 91.5 133.7 82.2" stroke="#121212" stroke-width="1.6" fill="none" opacity="0.53"/>
<path d="M95.6 81.9 Q111.6 96.8 127.6 91.5" stroke="#fafafa" stroke-width="3.0" fill="none" opacity="0.26"/>
<path d="M95.6 86.9 Q111.6 101.8 127.6 96.5" stroke="#121212" stroke-width="2.2" fill="none" opacity="0.52"/>
<path d="M97.1 99.0 Q114.1 107.3 131.0 94.2" stroke="#fafafa" stroke-width="6.3" fill="none" opacity="0.18"/>
<path d="M97.1 104.0 Q114.1 112.3 131.0 99.2" stroke="#121212" stroke-width="1.8" fill="none" opacity="0.48"/>
<path d="M92.3 105.3 Q111.1 112.8 129.9 111.0" stroke="#fafafa" stroke-width="5.4" fill="none" opacity="0.37"/>
<path d="M92.3 110.3 Q111.1 117.8 129.9 116.0" stroke="#121212" stroke-width="2.4" fill="none" opacity="0.34"/>
<path d="M91.8 115.3 Q112.2 123.8 132.7 123.0" stroke="#fafafa" stroke-width="3.1" fill="none" opacity="0.16"/>
<path d="M91.8 120.3 Q112.2 128.8 132.7 128.0" stroke="#121212" stroke-width="1.9" fill="none" opacity="0.56"/>
<path d="M91.1 131.0 Q111.5 136.5 131.9 130.3" stroke="#fafafa" stroke-width="4.9" fill="none" opacity="0.36"/>
<path d="M91.1 136.0 Q111.5 141.5 131.9 135.3" stroke="#121212" stroke-width="2.6" fill="none" opacity="0.46"/>
<path d="M94.9 139.8 Q110.6 152.1 126.3 143.0" stroke="#fafafa" stroke-width="5.6" fill="none" opacity="0.14"/>
<path d="M94.9 144.8 Q110.6 157.1 126.3 148.0" stroke="#121212" stroke-width="2.2" fill="none" opacity="0.51"/>
<path d="M91.1 155.9 Q108.8 164.4 126.4 150.7" stroke="#fafafa" stroke-width="3.7" fill="none" opacity="0.19"/>
<path d="M91.1 160.9 Q108.8 169.4 126.4 155.7" stroke="#121212" stroke-width="2.6" fill="none" opacity="0.54"/>
<path d="M92.1 162.8 Q108.4 169.7 124.7 163.3" stroke="#fafafa" stroke-width="3.6" fill="none" opacity="0.20"/>
<path d="M92.1 167.8 Q108.4 174.7 124.7 168.3" stroke="#121212" stroke-width="1.8" fill="none" opacity="0.59"/>
<path d="M86.5 176.9 Q107.4 180.5 128.3 174.5" stroke="#fafafa" stroke-width="6.4" fill="none" opacity="0.37"/>
<path d="M86.5 181.9 Q107.4 185.5 128.3 179.5" stroke="#121212" stroke-width="2.6" fill="none" opacity="0.37"/>
<path d="M94.7 186.8 Q110.1 191.3 125.5 184.6" stroke="#fafafa" stroke-width="3.1" fill="none" opacity="0.23"/>
<path d="M94.7 191.8 Q110.1 196.3 125.5 189.6" stroke="#121212" stroke-width="2.7" fill="none" opacity="0.48"/>
<path d="M91.7 196.1 Q109.4 202.3 127.1 198.2" stroke="#fafafa" stroke-width="4.4" fill="none" opacity="0.35"/>
<path d="M91.7 201.1 Q109.4 207.3 127.1 203.2" stroke="#121212" stroke-width="2.9" fill="none" opacity="0.37"/>
<path d="M92.0 206.8 Q109.4 214.9 126.9 211.3" stroke="#fafafa" stroke-width="6.1" fill="none" opacity="0.37"/>
<path d="M92.0 211.8 Q109.4 219.9 126.9 216.3" stroke="#121212" stroke-width="2.6" fill="none" opacity="0.54"/>
<path d="M90.5 220.2 Q108.1 228.0 125.8 222.7" stroke="#fafafa" stroke-width="3.3" fill="none" opacity="0.24"/>
<path d="M90.5 225.2 Q108.1 233.0 125.8 227.7" stroke="#121212" stroke-width="2.7" fill="none" opacity="0.49"/>
<path d="M87.7 232.4 Q105.1 241.2 122.5 234.8" stroke="#fafafa" stroke-width="4.4" fill="none" opacity="0.33"/>
<path d="M87.7 237.4 Q105.1 246.2 122.5 239.8" stroke="#121212" stroke-width="2.9" fill="none" opacity="0.27"/>
<path d="M90.4 241.1 Q107.6 253.8 124.8 250.6" stroke="#fafafa" stroke-width="3.1" fill="none" opacity="0.28"/>
<path d="M90.4 246.1 Q107.6 258.8 124.8 255.6" stroke="#121212" stroke-width="1.7" fill="none" opacity="0.51"/>
<path d="M90.0 259.2 Q105.3 268.2 120.7 260.0" stroke="#fafafa" stroke-width="5.5" fill="none" opacity="0.27"/>
<path d="M90.0 264.2 Q105.3 273.2 120.7 265.0" stroke="#121212" stroke-width="2.5" fill="none" opacity="0.53"/>
<path d="M83.2 269.3 Q104.0 276.9 124.8 273.0" stroke="#fafafa" stroke-width="4.4" fill="none" opacity="0.36"/>
<path d="M83.2 274.3 Q104.0 281.9 124.8 278.0" stroke="#121212" stroke-width="1.7" fill="none" opacity="0.59"/>
<path d="M84.8 286.8 Q101.3 289.2 117.8 277.1" stroke="#fafafa" stroke-width="4.5" fill="none" opacity="0.24"/>
<path d="M84.8 291.8 Q101.3 294.2 117.8 282.1" stroke="#121212" stroke-width="2.5" fill="none" opacity="0.34"/>
<path d="M82.3 292.0 Q101.8 303.8 121.2 292.6" stroke="#fafafa" stroke-width="3.8" fill="none" opacity="0.38"/>
<path d="M82.3 297.0 Q101.8 308.8 121.2 297.6" stroke="#121212" stroke-width="2.1" fill="none" opacity="0.28"/>
<path d="M84.6 302.2 Q104.5 311.0 124.5 301.6" stroke="#fafafa" stroke-width="5.0" fill="none" opacity="0.16"/>
<path d="M84.6 307.2 Q104.5 316.0 124.5 306.6" stroke="#121212" stroke-width="2.9" fill="none" opacity="0.34"/>
<path d="M84.2 316.2 Q104.1 321.9 124.1 312.1" stroke="#fafafa" stroke-width="4.9" fill="none" opacity="0.13"/>
<path d="M84.2 321.2 Q104.1 326.9 124.1 317.1" stroke="#121212" stroke-width="2.8" fill="none" opacity="0.34"/>
<path d="M83.0 328.1 Q100.1 333.4 117.2 326.6" stroke="#fafafa" stroke-width="3.7" fill="none" opacity="0.08"/>
<path d="M83.0 333.1 Q100.1 338.4 117.2 331.6" stroke="#121212" stroke-width="2.6" fill="none" opacity="0.31"/>
<line x1="136.7" y1="35.1" x2="120.4" y2="317.9" stroke="#1a1a1a" stroke-width="4.9" opacity="0.26"/>
<path d="M114.8 14.9 Q139.5 21.3 164.3 6.0" stroke="#fafafa" stroke-width="5.9" fill="none" opacity="0.42"/>
<path d="M114.8 19.9 Q139.5 26.3 164.3 11.0" stroke="#121212" stroke-width="2.7" fill="none" opacity="0.09"/>
<path d="M123.4 19.1 Q141.1 27.7 158.9 28.1" stroke="#fafafa" stroke-width="5.3" fill="none" opacity="0.17"/>
<path d="M123.4 24.1 Q141.1 32.7 158.9 33.1" stroke="#121212" stroke-width="1.7" fill="none" opacity="0.09"/>
<path d="M121.7 29.8 Q142.0 39.0 162.3 37.8" stroke="#fafafa" stroke-width="5.8" fill="none" opacity="0.14"/>
<path d="M121.7 34.8 Q142.0 44.0 162.3 42.8" stroke="#121212" stroke-width="2.8" fill="none" opacity="0.24"/>
<path d="M116.8 43.3 Q141.3 57.0 165.8 50.1" stroke="#fafafa" stroke-width="3.7" fill="none" opacity="0.34"/>
<path d="M116.8 48.3 Q141.3 62.0 165.8 55.1" stroke="#121212" stroke-width="2.3" fill="none" opacity="0.37"/>
<path d="M120.7 60.6 Q142.6 64.0 164.5 55.2" stroke="#fafafa" stroke-width="3.5" fill="none" opacity="0.26"/>
<path d="M120.7 65.6 Q142.6 69.0 164.5 60.2" stroke="#121212" stroke-width="1.6" fill="none" opacity="0.36"/>
<path d="M118.8 64.0 Q140.2 75.9 161.7 71.2" stroke="#fafafa" stroke-width="3.0" fill="none" opacity="0.39"/>
<path d="M118.8 69.0 Q140.2 80.9 161.7 76.2" stroke="#121212" stroke-width="2.2" fill="none" opacity="0.43"/>
<path d="M121.8 75.3 Q142.3 87.3 162.8 84.6" stroke="#fafafa" stroke-width="3.3" fill="none" opacity="0.32"/>
<path d="M121.8 80.3 Q142.3 92.3 162.8 89.6" stroke="#121212" stroke-width="2.5" fill="none" opacity="0.21"/>
<path d="M116.6 87.2 Q141.4 98.6 166.1 96.8" stroke="#fafafa" stroke-width="4.8" fill="none" opacity="0.26"/>
<path d="M116.6 92.2 Q141.4 103.6 166.1 101.8" stroke="#121212" stroke-width="2.8" fill="none" opacity="0.21"/>
<path d="M120.8 105.9 Q141.0 115.5 161.2 103.2" stroke="#fafafa" stroke-width="4.7" fill="none" opacity="0.27"/>
<path d="M120.8 110.9 Q141.0 120.5 161.2 108.2" stroke="#121212" stroke-width="2.7" fill="none" opacity="0.28"/>
<path d="M117.9 117.8 Q139.8 126.4 161.7 113.7" stroke="#fafafa" stroke-width="5.9" fill="none" opacity="0.23"/>
<path d="M117.9 122.8 Q139.8 131.4 161.7 118.7" stroke="#121212" stroke-width="2.3" fill="none" opacity="0.31"/>
<path d="M120.4 129.0 Q143.1 137.6 165.7 125.6" stroke="#fafafa" stroke-width="4.1" fill="none" opacity="0.19"/>
<path d="M120.4 134.0 Q143.1 142.6 165.7 130.6" stroke="#121212" stroke-width="2.4" fill="none" opacity="0.45"/>
<path d="M114.3 139.8 Q137.5 151.3 160.6 140.7" stroke="#fafafa" stroke-width="3.2" fill="none" opacity="0.19"/>
<path d="M114.3 144.8 Q137.5 156.3 160.6 145.7" stroke="#121212" stroke-width="1.5" fill="none" opacity="0.28"/>
<path d="M118.2 149.7 Q140.9 164.1 163.5 157.9" stroke="#fafafa" stroke-width="5.1" fill="none" opacity="0.31"/>
<path d="M118.2 154.7 Q140.9 169.1 163.5 162.9" stroke="#121212" stroke-width="2.4" fill="none" opacity="0.48"/>
<path d="M122.0 166.2 Q141.3 175.1 160.5 165.4" stroke="#fafafa" stroke-width="5.7" fill="none" opacity="0.12"/>
<path d="M122.0 171.2 Q141.3 180.1 160.5 170.4" stroke="#121212" stroke-width="1.8" fill="none" opacity="0.21"/>
<path d="M120.0 175.5 Q142.7 185.6 165.3 181.9" stroke="#fafafa" stroke-width="5.8" fill="none" opacity="0.29"/>
<path d="M120.0 180.5 Q142.7 190.6 165.3 186.9" stroke="#121212" stroke-width="1.9" fill="none" opacity="0.32"/>
<path d="M118.2 185.4 Q139.1 198.9 160.0 194.1" stroke="#fafafa" stroke-width="3.2" fill="none" opacity="0.29"/>
<path d="M118.2 190.4 Q139.1 203.9 160.0 199.1" stroke="#121212" stroke-width="1.6" fill="none" opacity="0.25"/>
<path d="M115.9 207.7 Q140.6 210.4 165.3 198.0" stroke="#fafafa" stroke-width="4.4" fill="none" opacity="0.30"/>
<path d="M115.9 212.7 Q140.6 215.4 165.3 203.0" stroke="#121212" stroke-width="2.9" fill="none" opacity="0.59"/>
<path d="M121.2 217.1 Q139.6 223.4 158.0 211.3" stroke="#fafafa" stroke-width="3.5" fill="none" opacity="0.09"/>
<path d="M121.2 222.1 Q139.6 228.4 158.0 216.3" stroke="#121212" stroke-width="1.5" fill="none" opacity="0.47"/>
<path d="M124.7 227.5 Q142.9 234.8 161.2 220.1" stroke="#fafafa" stroke-width="3.1" fill="none" opacity="0.35"/>
<path d="M124.7 232.5 Q142.9 239.8 161.2 225.1" stroke="#121212" stroke-width="1.9" fill="none" opacity="0.49"/>
<path d="M113.9 230.2 Q137.4 243.5 161.0 237.3" stroke="#fafafa" stroke-width="5.6" fill="none" opacity="0.11"/>
<path d="M113.9 235.2 Q137.4 248.5 161.0 242.3" stroke="#121212" stroke-width="2.4" fill="none" opacity="0.48"/>
<path d="M123.2 242.9 Q142.7 256.8 162.3 247.2" stroke="#fafafa" stroke-width="3.0" fill="none" opacity="0.09"/>
<path d="M123.2 247.9 Q142.7 261.8 162.3 252.2" stroke="#121212" stroke-width="2.5" fill="none" opacity="0.53"/>
<path d="M115.8 250.9 Q139.0 259.8 162.2 258.1" stroke="#fafafa" stroke-width="4.7" fill="none" opacity="0.10"/>
<path d="M115.8 255.9 Q139.0 264.8 162.2 263.1" stroke="#121212" stroke-width="2.1" fill="none" opacity="0.43"/>
<path d="M122.4 267.0 Q141.2 276.0 159.9 264.3" stroke="#fafafa" stroke-width="5.3" fill="none" opacity="0.31"/>
<path d="M122.4 272.0 Q141.2 281.0 159.9 269.3" stroke="#121212" stroke-width="2.1" fill="none" opacity="0.35"/>
<path d="M119.1 280.7 Q142.8 287.1 166.4 276.5" stroke="#fafafa" stroke-width="3.2" fill="none" opacity="0.44"/>
<path d="M119.1 285.7 Q142.8 292.1 166.4 281.5" stroke="#121212" stroke-width="2.6" fill="none" opacity="0.53"/>
<path d="M115.6 288.2 Q140.7 299.9 165.9 290.3" stroke="#fafafa" stroke-width="4.1" fill="none" opacity="0.24"/>
<path d="M115.6 293.2 Q140.7 304.9 165.9 295.3" stroke="#121212" stroke-width="2.8" fill="none" opacity="0.35"/>
<path d="M116.2 303.8 Q140.7 312.1 165.2 299.5" stroke="#fafafa" stroke-width="3.0" fill="none" opacity="0.18"/>
<path d="M116.2 308.8 Q140.7 317.1 165.2 304.5" stroke="#121212" stroke-width="2.1" fill="none" opacity="0.43"/>
<path d="M124.5 311.6 Q142.4 325.4 160.3 317.9" stroke="#fafafa" stroke-width="6.0" fill="none" opacity="0.29"/>
<path d="M124.5 316.6 Q142.4 330.4 160.3 322.9" stroke="#121212" stroke-width="1.9" fill="none" opacity="0.54"/>
<path d="M116.5 331.9 Q141.2 334.6 165.8 323.6" stroke="#fafafa" stroke-width="4.9" fill="none" opacity="0.38"/>
<path d="M116.5 336.9 Q141.2 339.6 165.8 328.6" stroke="#121212" stroke-width="1.8" fill="none" opacity="0.50"/>
<line x1="162.3" y1="37.5" x2="162.1" y2="329.9" stroke="#1a1a1a" stroke-width="5.4" opacity="0.32"/>
<path d="M144.3 16.6 Q165.7 26.5 187.0 15.7" stroke="#fafafa" stroke-width="3.3" fill="none" opacity="0.38"/>
<path d="M144.3 21.6 Q165.7 31.5 187.0 20.7" stroke="#121212" stroke-width="2.7" fill="none" opacity="0.10"/>
<path d="M146.5 28.3 Q168.9 36.2 191.2 27.8" stroke="#fafafa" stroke-width="5.1" fill="none" opacity="0.15"/>
<path d="M146.5 33.3 Q168.9 41.2 191.2 32.8" stroke="#121212" stroke-width="1.8" fill="none" opacity="0.12"/>
<path d="M144.9 40.4 Q165.0 47.8 185.0 40.7" stroke="#fafafa" stroke-width="3.5" fill="none" opacity="0.10"/>
<path d="M144.9 45.4 Q165.0 52.8 185.0 45.7" stroke="#121212" stroke-width="3.0" fill="none" opacity="0.22"/>
<path d="M144.4 49.1 Q166.1 55.3 187.7 51.1" stroke="#fafafa" stroke-width="4.2" fill="none" opacity="0.27"/>
<path d="M144.4 54.1 Q166.1 60.3 187.7 56.1" stroke="#121212" stroke-width="1.5" fill="none" opacity="0.17"/>
<path d="M147.2 66.4 Q166.7 72.6 186.2 61.7" stroke="#fafafa" stroke-width="5.7" fill="none" opacity="0.24"/>
<path d="M147.2 71.4 Q166.7 77.6 186.2 66.7" stroke="#121212" stroke-width="2.9" fill="none" opacity="0.51"/>
<path d="M148.7 80.1 Q166.5 81.4 184.4 74.1" stroke="#fafafa" stroke-width="3.6" fill="none" opacity="0.11"/>
<path d="M148.7 85.1 Q166.5 86.4 184.4 79.1" stroke="#121212" stroke-width="1.6" fill="none" opacity="0.42"/>
<path d="M140.0 94.8 Q162.8 101.8 185.5 86.1" stroke="#fafafa" stroke-width="5.1" fill="none" opacity="0.23"/>
<path d="M140.0 99.8 Q162.8 106.8 185.5 91.1" stroke="#121212" stroke-width="1.7" fill="none" opacity="0.58"/>
<path d="M142.2 99.1 Q162.8 112.4 183.4 102.5" stroke="#fafafa" stroke-width="4.4" fill="none" opacity="0.25"/>
<path d="M142.2 104.1 Q162.8 117.4 183.4 107.5" stroke="#121212" stroke-width="1.7" fill="none" opacity="0.59"/>
<path d="M143.6 116.2 Q160.0 120.8 176.4 113.2" stroke="#fafafa" stroke-width="6.2" fill="none" opacity="0.41"/>
<path d="M143.6 121.2 Q160.0 125.8 176.4 118.2" stroke="#121212" stroke-width="2.8" fill="none" opacity="0.22"/>
<path d="M141.6 132.1 Q162.2 139.5 182.9 123.2" stroke="#fafafa" stroke-width="3.5" fill="none" opacity="0.36"/>
<path d="M141.6 137.1 Q162.2 144.5 182.9 128.2" stroke="#121212" stroke-width="2.9" fill="none" opacity="0.47"/>
<path d="M139.5 139.9 Q160.9 143.0 182.4 136.4" stroke="#fafafa" stroke-width="3.9" fill="none" opacity="0.13"/>
<path d="M139.5 144.9 Q160.9 148.0 182.4 141.4" stroke="#121212" stroke-width="2.2" fill="none" opacity="0.27"/>
<path d="M136.8 146.2 Q157.7 152.4 178.6 150.5" stroke="#fafafa" stroke-width="3.7" fill="none" opacity="0.09"/>
<path d="M136.8 151.2 Q157.7 157.4 178.6 155.5" stroke="#121212" stroke-width="2.9" fill="none" opacity="0.29"/>
<path d="M138.9 162.5 Q161.3 167.1 183.6 161.5" stroke="#fafafa" stroke-width="3.3" fill="none" opacity="0.42"/>
<path d="M138.9 167.5 Q161.3 172.1 183.6 166.5" stroke="#121212" stroke-width="2.8" fill="none" opacity="0.45"/>
<path d="M135.6 172.0 Q157.5 181.1 179.4 174.6" stroke="#fafafa" stroke-width="3.5" fill="none" opacity="0.16"/>
<path d="M135.6 177.0 Q157.5 186.1 179.4 179.6" stroke="#121212" stroke-width="1.6" fill="none" opacity="0.49"/>
<path d="M133.4 185.9 Q155.7 191.2 177.9 184.2" stroke="#fafafa" stroke-width="3.5" fill="none" opacity="0.18"/>
<path d="M133.4 190.9 Q155.7 196.2 177.9 189.2" stroke="#121212" stroke-width="2.8" fill="none" opacity="0.33"/>
<path d="M138.9 198.7 Q157.2 206.1 175.5 191.0" stroke="#fafafa" stroke-width="6.4" fill="none" opacity="0.10"/>
<path d="M138.9 203.7 Q157.2 211.1 175.5 196.0" stroke="#121212" stroke-width="2.8" fill="none" opacity="0.47"/>
<path d="M138.5 207.9 Q156.6 211.0 174.7 202.0" stroke="#fafafa" stroke-width="4.3" fill="none" opacity="0.45"/>
<path d="M138.5 212.9 Q156.6 216.0 174.7 207.0" stroke="#121212" stroke-width="3.0" fill="none" opacity="0.57"/>
<path d="M132.5 212.2 Q154.9 218.9 177.3 216.7" stroke="#fafafa" stroke-width="4.0" fill="none" opacity="0.44"/>
<path d="M132.5 217.2 Q154.9 223.9 177.3 221.7" stroke="#121212" stroke-width="1.5" fill="none" opacity="0.52"/>
<path d="M137.3 224.9 Q153.4 235.8 169.5 225.4" stroke="#fafafa" stroke-width="3.7" fill="none" opacity="0.24"/>
<path d="M137.3 229.9 Q153.4 240.8 169.5 230.4" stroke="#121212" stroke-width="2.9" fill="none" opacity="0.29"/>
<path d="M135.4 234.9 Q152.8 247.2 170.1 239.1" stroke="#fafafa" stroke-width="3.7" fill="none" opacity="0.11"/>
<path d="M135.4 239.9 Q152.8 252.2 170.1 244.1" stroke="#121212" stroke-width="1.6" fill="none" opacity="0.44"/>
<path d="M135.4 246.4 Q152.9 257.4 170.5 250.5" stroke="#fafafa" stroke-width="5.8" fill="none" opacity="0.30"/>
<path d="M135.4 251.4 Q152.9 262.4 170.5 255.5" stroke="#121212" stroke-width="1.8" fill="none" opacity="0.23"/>
<path d="M131.9 258.0 Q153.1 265.6 174.2 264.2" stroke="#fafafa" stroke-width="4.2" fill="none" opacity="0.39"/>
<path d="M131.9 263.0 Q153.1 270.6 174.2 269.2" stroke="#121212" stroke-width="2.8" fill="none" opacity="0.40"/>
<path d="M136.1 272.5 Q155.6 281.2 175.0 267.9" stroke="#fafafa" stroke-width="3.7" fill="none" opacity="0.39"/>
<path d="M136.1 277.5 Q155.6 286.2 175.0 272.9" stroke="#121212" stroke-width="2.1" fill="none" opacity="0.27"/>
<path d="M136.9 281.6 Q153.1 289.2 169.2 280.5" stroke="#fafafa" stroke-width="4.8" fill="none" opacity="0.12"/>
<path d="M136.9 286.6 Q153.1 294.2 169.2 285.5" stroke="#121212" stroke-width="2.6" fill="none" opacity="0.53"/>
<path d="M129.6 291.9 Q150.7 301.4 171.8 296.9" stroke="#fafafa" stroke-width="3.2" fill="none" opacity="0.40"/>
<path d="M129.6 296.9 Q150.7 306.4 171.8 301.9" stroke="#121212" stroke-width="2.9" fill="none" opacity="0.40"/>
<path d="M131.4 301.3 Q151.3 310.1 171.2 310.6" stroke="#fafafa" stroke-width="3.8" fill="none" opacity="0.15"/>
<path d="M131.4 306.3 Q151.3 315.1 171.2 315.6" stroke="#121212" stroke-width="1.7" fill="none" opacity="0.30"/>
<path d="M130.8 322.1 Q147.6 328.6 164.4 316.0" stroke="#fafafa" stroke-width="3.1" fill="none" opacity="0.30"/>
<path d="M130.8 327.1 Q147.6 333.6 164.4 321.0" stroke="#121212" stroke-width="2.4" fill="none" opacity="0.41"/>
<path d="M125.1 336.1 Q147.3 341.3 169.5 327.0" stroke="#fafafa" stroke-width="3.4" fill="none" opacity="0.26"/>
<path d="M125.1 341.1 Q147.3 346.3 169.5 332.0" stroke="#121212" stroke-width="2.3" fill="none" opacity="0.31"/>
<path d="M131.6 337.6 Q148.6 349.9 165.7 344.8" stroke="#fafafa" stroke-width="3.5" fill="none" opacity="0.29"/>
<path d="M131.6 342.6 Q148.6 354.9 165.7 349.8" stroke="#121212" stroke-width="2.6" fill="none" opacity="0.27"/>
<path d="M132.3 350.9 Q151.1 361.7 169.9 357.7" stroke="#fafafa" stroke-width="4.8" fill="none" opacity="0.23"/>
<path d="M132.3 355.9 Q151.1 366.7 169.9 362.7" stroke="#121212" stroke-width="2.9" fill="none" opacity="0.51"/>
<line x1="186.9" y1="38.2" x2="169.0" y2="346.4" stroke="#1a1a1a" stroke-width="4.3" opacity="0.26"/>
<path d="M165.2 33.8 Q193.2 40.1 221.2 24.9" stroke="#fafafa" stroke-width="4.8" fill="none" opacity="0.43"/>
<path d="M165.2 38.8 Q193.2 45.1 221.2 29.9" stroke="#121212" stroke-width="2.9" fill="none" opacity="0.10"/>
<path d="M167.7 44.8 Q191.7 48.7 215.6 36.1" stroke="#fafafa" stroke-width="4.5" fill="none" opacity="0.27"/>
<path d="M167.7 49.8 Q191.7 53.7 215.6 41.1" stroke="#121212" stroke-width="1.5" fill="none" opacity="0.09"/>
<path d="M163.7 51.2 Q192.8 63.4 221.9 57.4" stroke="#fafafa" stroke-width="6.1" fill="none" opacity="0.41"/>
<path d="M163.7 56.2 Q192.8 68.4 221.9 62.4" stroke="#121212" stroke-width="1.6" fill="none" opacity="0.26"/>
<path d="M169.2 60.4 Q192.3 73.0 215.4 68.9" stroke="#fafafa" stroke-width="5.2" fill="none" opacity="0.17"/>
<path d="M169.2 65.4 Q192.3 78.0 215.4 73.9" stroke="#121212" stroke-width="2.3" fill="none" opacity="0.28"/>
<path d="M166.8 82.2 Q190.2 87.6 213.6 74.6" stroke="#fafafa" stroke-width="5.1" fill="none" opacity="0.43"/>
<path d="M166.8 87.2 Q190.2 92.6 213.6 79.6" stroke="#121212" stroke-width="2.3" fill="none" opacity="0.30"/>
<path d="M169.9 93.4 Q191.9 94.7 213.9 86.0" stroke="#fafafa" stroke-width="4.0" fill="none" opacity="0.23"/>
<path d="M169.9 98.4 Q191.9 99.7 213.9 91.0" stroke="#121212" stroke-width="1.9" fill="none" opacity="0.30"/>
<path d="M163.9 98.5 Q192.1 108.0 220.3 99.9" stroke="#fafafa" stroke-width="5.3" fill="none" opacity="0.15"/>
<path d="M163.9 103.5 Q192.1 113.0 220.3 104.9" stroke="#121212" stroke-width="2.6" fill="none" opacity="0.38"/>
<path d="M167.8 113.5 Q192.7 117.4 217.6 108.3" stroke="#fafafa" stroke-width="3.8" fill="none" opacity="0.27"/>
<path d="M167.8 118.5 Q192.7 122.4 217.6 113.3" stroke="#121212" stroke-width="2.1" fill="none" opacity="0.43"/>
<path d="M162.9 119.4 Q191.3 125.9 219.7 120.5" stroke="#fafafa" stroke-width="4.7" fill="none" opacity="0.19"/>
<path d="M162.9 124.4 Q191.3 130.9 219.7 125.5" stroke="#121212" stroke-width="3.0" fill="none" opacity="0.32"/>
<path d="M169.1 133.4 Q190.3 143.8 211.6 132.2" stroke="#fafafa" stroke-width="3.2" fill="none" opacity="0.22"/>
<path d="M169.1 138.4 Q190.3 148.8 211.6 137.2" stroke="#121212" stroke-width="2.2" fill="none" opacity="0.49"/>
<path d="M161.6 145.8 Q190.9 152.3 220.2 138.9" stroke="#fafafa" stroke-width="4.2" fill="none" opacity="0.21"/>
<path d="M161.6 150.8 Q190.9 157.3 220.2 143.9" stroke="#121212" stroke-width="2.5" fill="none" opacity="0.45"/>
<path d="M169.4 153.2 Q194.7 165.5 220.0 158.0" stroke="#fafafa" stroke-width="5.7" fill="none" opacity="0.26"/>
<path d="M169.4 158.2 Q194.7 170.5 220.0 163.0" stroke="#121212" stroke-width="2.7" fill="none" opacity="0.48"/>
<path d="M162.3 166.5 Q190.8 173.2 219.3 171.8" stroke="#fafafa" stroke-width="5.1" fill="none" opacity="0.26"/>
<path d="M162.3 171.5 Q190.8 178.2 219.3 176.8" stroke="#121212" stroke-width="2.9" fill="none" opacity="0.43"/>
<path d="M166.4 181.5 Q194.9 189.1 223.4 179.1" stroke="#fafafa" stroke-width="4.6" fill="none" opacity="0.25"/>
<path d="M166.4 186.5 Q194.9 194.1 223.4 184.1" stroke="#121212" stroke-width="2.6" fill="none" opacity="0.32"/>
<path d="M169.6 188.4 Q193.7 197.8 217.8 194.1" stroke="#fafafa" stroke-width="6.0" fill="none" opacity="0.26"/>
<path d="M169.6 193.4 Q193.7 202.8 217.8 199.1" stroke="#121212" stroke-width="2.2" fill="none" opacity="0.27"/>
<path d="M165.6 205.9 Q191.4 210.4 217.2 197.6" stroke="#fafafa" stroke-width="6.2" fill="none" opacity="0.20"/>
<path d="M165.6 210.9 Q191.4 215.4 217.2 202.6" stroke="#121212" stroke-width="2.8" fill="none" opacity="0.54"/>
<path d="M167.5 220.4 Q192.0 226.8 216.5 210.7" stroke="#fafafa" stroke-width="3.2" fill="none" opacity="0.29"/>
<path d="M167.5 225.4 Q192.0 231.8 216.5 215.7" stroke="#121212" stroke-width="2.2" fill="none" opacity="0.57"/>
<path d="M164.6 228.2 Q194.2 236.6 223.9 228.6" stroke="#fafafa" stroke-width="5.4" fill="none" opacity="0.22"/>
<path d="M164.6 233.2 Q194.2 241.6 223.9 233.6" stroke="#121212" stroke-width="2.0" fill="none" opacity="0.44"/>
<path d="M170.1 243.2 Q196.8 247.4 223.6 235.2" stroke="#fafafa" stroke-width="4.3" fill="none" opacity="0.23"/>
<path d="M170.1 248.2 Q196.8 252.4 223.6 240.2" stroke="#121212" stroke-width="2.3" fill="none" opacity="0.43"/>
<path d="M172.1 251.3 Q197.2 260.1 222.2 253.8" stroke="#fafafa" stroke-width="6.5" fill="none" opacity="0.21"/>
<path d="M172.1 256.3 Q197.2 265.1 222.2 258.8" stroke="#121212" stroke-width="2.3" fill="none" opacity="0.53"/>
<path d="M164.0 262.3 Q193.4 273.0 222.9 262.5" stroke="#fafafa" stroke-width="3.4" fill="none" opacity="0.41"/>
<path d="M164.0 267.3 Q193.4 278.0 222.9 267.5" stroke="#121212" stroke-width="2.5" fill="none" opacity="0.53"/>
<path d="M172.7 278.5 Q197.1 281.6 221.5 274.3" stroke="#fafafa" stroke-width="4.8" fill="none" opacity="0.27"/>
<path d="M172.7 283.5 Q197.1 286.6 221.5 279.3" stroke="#121212" stroke-width="1.8" fill="none" opacity="0.27"/>
<path d="M171.8 287.2 Q195.6 300.5 219.4 289.9" stroke="#fafafa" stroke-width="3.1" fill="none" opacity="0.23"/>
<path d="M171.8 292.2 Q195.6 305.5 219.4 294.9" stroke="#121212" stroke-width="2.7" fill="none" opacity="0.32"/>
<path d="M168.8 300.1 Q192.2 311.7 215.6 301.8" stroke="#fafafa" stroke-width="5.3" fill="none" opacity="0.15"/>
<path d="M168.8 305.1 Q192.2 316.7 215.6 306.8" stroke="#121212" stroke-width="2.2" fill="none" opacity="0.42"/>
<path d="M170.8 310.6 Q196.2 323.3 221.7 312.1" stroke="#fafafa" stroke-width="4.4" fill="none" opacity="0.12"/>
<path d="M170.8 315.6 Q196.2 328.3 221.7 317.1" stroke="#121212" stroke-width="1.7" fill="none" opacity="0.50"/>
<path d="M170.9 317.6 Q193.1 329.0 215.3 324.1" stroke="#fafafa" stroke-width="5.1" fill="none" opacity="0.38"/>
<path d="M170.9 322.6 Q193.1 334.0 215.3 329.1" stroke="#121212" stroke-width="1.6" fill="none" opacity="0.20"/>
<path d="M167.6 337.0 Q194.7 340.5 221.7 330.4" stroke="#fafafa" stroke-width="3.9" fill="none" opacity="0.12"/>
<path d="M167.6 342.0 Q194.7 345.5 221.7 335.4" stroke="#121212" stroke-width="2.9" fill="none" opacity="0.43"/>
<path d="M171.5 340.5 Q195.6 348.9 219.7 348.3" stroke="#fafafa" stroke-width="5.0" fill="none" opacity="0.44"/>
<path d="M171.5 345.5 Q195.6 353.9 219.7 353.3" stroke="#121212" stroke-width="2.2" fill="none" opacity="0.45"/>
<path d="M164.3 356.5 Q193.3 365.5 222.4 352.8" stroke="#fafafa" stroke-width="6.1" fill="none" opacity="0.38"/>
<path d="M164.3 361.5 Q193.3 370.5 222.4 357.8" stroke="#121212" stroke-width="2.0" fill="none" opacity="0.44"/>
<path d="M167.1 369.6 Q196.3 374.4 225.5 367.4" stroke="#fafafa" stroke-width="5.5" fill="none" opacity="0.16"/>
<path d="M167.1 374.6 Q196.3 379.4 225.5 372.4" stroke="#121212" stroke-width="2.0" fill="none" opacity="0.55"/>
<path d="M206.1 40.5 Q221.4 50.2 236.7 36.3" stroke="#fafafa" stroke-width="5.0" fill="none" opacity="0.12"/>
<path d="M206.1 45.5 Q221.4 55.2 236.7 41.3" stroke="#121212" stroke-width="2.3" fill="none" opacity="0.12"/>
<path d="M204.1 50.9 Q219.0 60.1 233.9 48.0" stroke="#fafafa" stroke-width="3.9" fill="none" opacity="0.15"/>
<path d="M204.1 55.9 Q219.0 65.1 233.9 53.0" stroke="#121212" stroke-width="1.9" fill="none" opacity="0.12"/>
<path d="M205.8 56.6 Q222.0 63.9 238.3 60.7" stroke="#fafafa" stroke-width="3.3" fill="none" opacity="0.18"/>
<path d="M205.8 61.6 Q222.0 68.9 238.3 65.7" stroke="#121212" stroke-width="2.8" fill="none" opacity="0.14"/>
<path d="M203.3 71.3 Q222.4 75.1 241.5 68.4" stroke="#fafafa" stroke-width="5.5" fill="none" opacity="0.22"/>
<path d="M203.3 76.3 Q222.4 80.1 241.5 73.4" stroke="#121212" stroke-width="2.9" fill="none" opacity="0.21"/>
<path d="M204.1 87.3 Q219.6 91.2 235.2 79.9" stroke="#fafafa" stroke-width="5.5" fill="none" opacity="0.18"/>
<path d="M204.1 92.3 Q219.6 96.2 235.2 84.9" stroke="#121212" stroke-width="2.8" fill="none" opacity="0.43"/>
<path d="M199.5 90.7 Q217.4 100.1 235.3 98.2" stroke="#fafafa" stroke-width="3.4" fill="none" opacity="0.27"/>
<path d="M199.5 95.7 Q217.4 105.1 235.3 103.2" stroke="#121212" stroke-width="2.3" fill="none" opacity="0.31"/>
<path d="M199.3 109.2 Q217.5 115.8 235.7 105.4" stroke="#fafafa" stroke-width="4.4" fill="none" opacity="0.11"/>
<path d="M199.3 114.2 Q217.5 120.8 235.7 110.4" stroke="#121212" stroke-width="1.8" fill="none" opacity="0.54"/>
<path d="M203.7 119.3 Q218.5 126.4 233.3 116.5" stroke="#fafafa" stroke-width="4.8" fill="none" opacity="0.19"/>
<path d="M203.7 124.3 Q218.5 131.4 233.3 121.5" stroke="#121212" stroke-width="1.6" fill="none" opacity="0.32"/>
<path d="M196.1 129.0 Q214.7 134.3 233.3 127.1" stroke="#fafafa" stroke-width="6.2" fill="none" opacity="0.37"/>
<path d="M196.1 134.0 Q214.7 139.3 233.3 132.1" stroke="#121212" stroke-width="2.8" fill="none" opacity="0.54"/>
<path d="M200.7 136.1 Q215.0 147.1 229.4 139.3" stroke="#fafafa" stroke-width="4.2" fill="none" opacity="0.23"/>
<path d="M200.7 141.1 Q215.0 152.1 229.4 144.3" stroke="#121212" stroke-width="2.5" fill="none" opacity="0.48"/>
<path d="M201.5 151.1 Q217.8 157.0 234.2 144.8" stroke="#fafafa" stroke-width="3.4" fill="none" opacity="0.42"/>
<path d="M201.5 156.1 Q217.8 162.0 234.2 149.8" stroke="#121212" stroke-width="2.6" fill="none" opacity="0.49"/>
<path d="M197.3 159.1 Q212.5 162.7 227.6 155.2" stroke="#fafafa" stroke-width="4.3" fill="none" opacity="0.09"/>
<path d="M197.3 164.1 Q212.5 167.7 227.6 160.2" stroke="#121212" stroke-width="2.0" fill="none" opacity="0.46"/>
<path d="M199.0 169.5 Q216.7 176.8 234.3 164.6" stroke="#fafafa" stroke-width="4.5" fill="none" opacity="0.33"/>
<path d="M199.0 174.5 Q216.7 181.8 234.3 169.6" stroke="#121212" stroke-width="2.0" fill="none" opacity="0.20"/>
<path d="M199.6 176.7 Q215.5 184.6 231.4 183.7" stroke="#fafafa" stroke-width="5.1" fill="none" opacity="0.10"/>
<path d="M199.6 181.7 Q215.5 189.6 231.4 188.7" stroke="#121212" stroke-width="1.9" fill="none" opacity="0.24"/>
<path d="M191.6 197.3 Q211.4 203.2 231.2 189.0" stroke="#fafafa" stroke-width="5.4" fill="none" opacity="0.23"/>
<path d="M191.6 202.3 Q211.4 208.2 231.2 194.0" stroke="#121212" stroke-width="2.6" fill="none" opacity="0.53"/>
<path d="M190.0 199.3 Q210.0 211.0 230.0 207.9" stroke="#fafafa" stroke-width="5.4" fill="none" opacity="0.35"/>
<path d="M190.0 204.3 Q210.0 216.0 230.0 212.9" stroke="#121212" stroke-width="2.7" fill="none" opacity="0.45"/>
<path d="M190.7 214.7 Q209.1 222.3 227.6 215.0" stroke="#fafafa" stroke-width="6.2" fill="none" opacity="0.13"/>
<path d="M190.7 219.7 Q209.1 227.3 227.6 220.0" stroke="#121212" stroke-width="2.6" fill="none" opacity="0.22"/>
<path d="M197.1 222.7 Q212.9 235.7 228.7 232.0" stroke="#fafafa" stroke-width="5.2" fill="none" opacity="0.28"/>
<path d="M197.1 227.7 Q212.9 240.7 228.7 237.0" stroke="#121212" stroke-width="1.9" fill="none" opacity="0.22"/>
<path d="M194.5 241.8 Q209.9 244.6 225.3 234.5" stroke="#fafafa" stroke-width="5.5" fill="none" opacity="0.33"/>
<path d="M194.5 246.8 Q209.9 249.6 225.3 239.5" stroke="#121212" stroke-width="1.9" fill="none" opacity="0.30"/>
<path d="M189.5 251.7 Q209.4 256.5 229.3 247.7" stroke="#fafafa" stroke-width="6.1" fill="none" opacity="0.13"/>
<path d="M189.5 256.7 Q209.4 261.5 229.3 252.7" stroke="#121212" stroke-width="2.3" fill="none" opacity="0.33"/>
<path d="M190.4 261.1 Q209.3 268.1 228.1 264.5" stroke="#fafafa" stroke-width="5.1" fill="none" opacity="0.25"/>
<path d="M190.4 266.1 Q209.3 273.1 228.1 269.5" stroke="#121212" stroke-width="2.6" fill="none" opacity="0.53"/>
<path d="M190.8 276.8 Q207.1 278.0 223.5 268.0" stroke="#fafafa" stroke-width="4.0" fill="none" opacity="0.15"/>
<path d="M190.8 281.8 Q207.1 283.0 223.5 273.0" stroke="#121212" stroke-width="2.6" fill="none" opacity="0.38"/>
<path d="M189.7 285.2 Q206.8 288.8 223.8 278.6" stroke="#fafafa" stroke-width="3.3" fill="none" opacity="0.08"/>
<path d="M189.7 290.2 Q206.8 293.8 223.8 283.6" stroke="#121212" stroke-width="3.0" fill="none" opacity="0.50"/>
<path d="M188.4 295.3 Q208.6 299.9 228.8 287.4" stroke="#fafafa" stroke-width="4.7" fill="none" opacity="0.24"/>
<path d="M188.4 300.3 Q208.6 304.9 228.8 292.4" stroke="#121212" stroke-width="1.8" fill="none" opacity="0.42"/>
<path d="M191.1 296.0 Q209.3 309.4 227.4 304.7" stroke="#fafafa" stroke-width="5.3" fill="none" opacity="0.17"/>
<path d="M191.1 301.0 Q209.3 314.4 227.4 309.7" stroke="#121212" stroke-width="1.9" fill="none" opacity="0.26"/>
<path d="M188.5 312.7 Q207.9 315.9 227.2 306.4" stroke="#fafafa" stroke-width="5.2" fill="none" opacity="0.39"/>
<path d="M188.5 317.7 Q207.9 320.9 227.2 311.4" stroke="#121212" stroke-width="2.9" fill="none" opacity="0.27"/>
<path d="M188.7 325.6 Q207.4 329.1 226.2 319.3" stroke="#fafafa" stroke-width="5.9" fill="none" opacity="0.20"/>
<path d="M188.7 330.6 Q207.4 334.1 226.2 324.3" stroke="#121212" stroke-width="2.1" fill="none" opacity="0.42"/>
<path d="M191.2 332.6 Q206.8 337.6 222.4 334.0" stroke="#fafafa" stroke-width="5.2" fill="none" opacity="0.38"/>
<path d="M191.2 337.6 Q206.8 342.6 222.4 339.0" stroke="#121212" stroke-width="2.6" fill="none" opacity="0.56"/>
<path d="M186.7 349.0 Q204.0 352.3 221.2 345.0" stroke="#fafafa" stroke-width="5.0" fill="none" opacity="0.11"/>
<path d="M186.7 354.0 Q204.0 357.3 221.2 350.0" stroke="#121212" stroke-width="2.5" fill="none" opacity="0.27"/>
<path d="M191.4 358.8 Q206.1 362.6 220.8 357.6" stroke="#fafafa" stroke-width="3.7" fill="none" opacity="0.35"/>
<path d="M191.4 363.8 Q206.1 367.6 220.8 362.6" stroke="#121212" stroke-width="1.5" fill="none" opacity="0.54"/>
<path d="M187.5 369.9 Q204.3 377.8 221.0 373.1" stroke="#fafafa" stroke-width="4.8" fill="none" opacity="0.24"/>
<path d="M187.5 374.9 Q204.3 382.8 221.0 378.1" stroke="#121212" stroke-width="2.0" fill="none" opacity="0.38"/>
<path d="M184.0 385.9 Q203.8 389.2 223.5 381.8" stroke="#fafafa" stroke-width="4.6" fill="none" opacity="0.29"/>
<path d="M184.0 390.9 Q203.8 394.2 223.5 386.8" stroke="#121212" stroke-width="2.0" fill="none" opacity="0.28"/>
<line x1="239.5" y1="60.4" x2="219.6" y2="382.7" stroke="#1a1a1a" stroke-width="4.8" opacity="0.39"/>
<path d="M217.2 43.0 Q245.6 55.1 274.0 49.2" stroke="#fafafa" stroke-width="3.2" fill="none" opacity="0.33"/>
<path d="M217.2 48.0 Q245.6 60.1 274.0 54.2" stroke="#121212" stroke-width="2.4" fill="none" opacity="0.11"/>
<path d="M221.6 60.0 Q245.8 67.1 270.0 56.0" stroke="#fafafa" stroke-width="4.2" fill="none" opacity="0.41"/>
<path d="M221.6 65.0 Q245.8 72.1 270.0 61.0" stroke="#121212" stroke-width="1.5" fill="none" opacity="0.10"/>
<path d="M222.3 71.6 Q243.0 79.6 263.8 69.1" stroke="#fafafa" stroke-width="5.0" fill="none" opacity="0.23"/>
<path d="M222.3 76.6 Q243.0 84.6 263.8 74.1" stroke="#121212" stroke-width="2.3" fill="none" opacity="0.24"/>
<path d="M219.7 80.9 Q241.3 92.5 262.9 81.8" stroke="#fafafa" stroke-width="3.4" fill="none" opacity="0.40"/>
<path d="M219.7 85.9 Q241.3 97.5 262.9 86.8" stroke="#121212" stroke-width="1.9" fill="none" opacity="0.18"/>
<path d="M218.1 95.7 Q242.4 101.4 266.7 90.3" stroke="#fafafa" stroke-width="5.0" fill="none" opacity="0.12"/>
<path d="M218.1 100.7 Q242.4 106.4 266.7 95.3" stroke="#121212" stroke-width="2.3" fill="none" opacity="0.41"/>
<path d="M222.9 98.8 Q243.6 109.9 264.2 106.0" stroke="#fafafa" stroke-width="4.9" fill="none" opacity="0.34"/>
<path d="M222.9 103.8 Q243.6 114.9 264.2 111.0" stroke="#121212" stroke-width="2.6" fill="none" opacity="0.25"/>
<path d="M224.9 117.4 Q245.8 127.0 266.7 115.3" stroke="#fafafa" stroke-width="3.6" fill="none" opacity="0.44"/>
<path d="M224.9 122.4 Q245.8 132.0 266.7 120.3" stroke="#121212" stroke-width="2.3" fill="none" opacity="0.51"/>
<path d="M225.8 127.3 Q246.3 131.9 266.8 124.7" stroke="#fafafa" stroke-width="3.1" fill="none" opacity="0.30"/>
<path d="M225.8 132.3 Q246.3 136.9 266.8 129.7" stroke="#121212" stroke-width="1.8" fill="none" opacity="0.32"/>
<path d="M216.8 134.8 Q244.5 147.5 272.3 142.3" stroke="#fafafa" stroke-width="5.0" fill="none" opacity="0.42"/>
<path d="M216.8 139.8 Q244.5 152.5 272.3 147.3" stroke="#121212" stroke-width="2.8" fill="none" opacity="0.27"/>
<path d="M217.6 148.0 Q244.3 160.7 271.0 154.5" stroke="#fafafa" stroke-width="3.4" fill="none" opacity="0.22"/>
<path d="M217.6 153.0 Q244.3 165.7 271.0 159.5" stroke="#121212" stroke-width="2.6" fill="none" opacity="0.58"/>
<path d="M217.6 163.4 Q242.8 168.7 268.1 164.4" stroke="#fafafa" stroke-width="5.8" fill="none" opacity="0.12"/>
<path d="M217.6 168.4 Q242.8 173.7 268.1 169.4" stroke="#121212" stroke-width="2.9" fill="none" opacity="0.47"/>
<path d="M220.1 173.4 Q244.0 184.9 267.9 175.0" stroke="#fafafa" stroke-width="3.4" fill="none" opacity="0.09"/>
<path d="M220.1 178.4 Q244.0 189.9 267.9 180.0" stroke="#121212" stroke-width="1.7" fill="none" opacity="0.52"/>
<path d="M223.8 185.3 Q246.4 193.6 268.9 182.9" stroke="#fafafa" stroke-width="3.5" fill="none" opacity="0.40"/>
<path d="M223.8 190.3 Q246.4 198.6 268.9 187.9" stroke="#121212" stroke-width="2.3" fill="none" opacity="0.48"/>
<path d="M228.9 200.6 Q249.1 203.9 269.2 193.6" stroke="#fafafa" stroke-width="4.8" fill="none" opacity="0.40"/>
<path d="M228.9 205.6 Q249.1 208.9 269.2 198.6" stroke="#121212" stroke-width="2.7" fill="none" opacity="0.21"/>
<path d="M222.6 207.3 Q248.5 214.2 274.5 206.8" stroke="#fafafa" stroke-width="3.6" fill="none" opacity="0.39"/>
<path d="M222.6 212.3 Q248.5 219.2 274.5 211.8" stroke="#121212" stroke-width="2.1" fill="none" opacity="0.55"/>
<path d="M221.5 215.2 Q244.3 224.8 267.2 223.0" stroke="#fafafa" stroke-width="5.1" fill="none" opacity="0.10"/>
<path d="M221.5 220.2 Q244.3 229.8 267.2 228.0" stroke="#121212" stroke-width="1.8" fill="none" opacity="0.34"/>
<path d="M224.2 235.4 Q247.6 237.3 271.0 225.5" stroke="#fafafa" stroke-width="5.0" fill="none" opacity="0.20"/>
<path d="M224.2 240.4 Q247.6 242.3 271.0 230.5" stroke="#121212" stroke-width="1.5" fill="none" opacity="0.38"/>
<path d="M223.5 246.6 Q244.8 253.7 266.0 242.1" stroke="#fafafa" stroke-width="4.0" fill="none" opacity="0.27"/>
<path d="M223.5 251.6 Q244.8 258.7 266.0 247.1" stroke="#121212" stroke-width="1.9" fill="none" opacity="0.43"/>
<path d="M221.8 255.4 Q250.5 260.3 279.2 256.6" stroke="#fafafa" stroke-width="5.7" fill="none" opacity="0.40"/>
<path d="M221.8 260.4 Q250.5 265.3 279.2 261.6" stroke="#121212" stroke-width="2.7" fill="none" opacity="0.45"/>
<path d="M224.8 264.5 Q247.2 278.6 269.7 271.9" stroke="#fafafa" stroke-width="6.3" fill="none" opacity="0.33"/>
<path d="M224.8 269.5 Q247.2 283.6 269.7 276.9" stroke="#121212" stroke-width="2.0" fill="none" opacity="0.51"/>
<path d="M222.9 280.4 Q248.4 287.7 274.0 281.4" stroke="#fafafa" stroke-width="4.4" fill="none" opacity="0.10"/>
<path d="M222.9 285.4 Q248.4 292.7 274.0 286.4" stroke="#121212" stroke-width="2.0" fill="none" opacity="0.33"/>
<path d="M225.4 297.5 Q248.6 300.8 271.8 292.2" stroke="#fafafa" stroke-width="4.2" fill="none" opacity="0.13"/>
<path d="M225.4 302.5 Q248.6 305.8 271.8 297.2" stroke="#121212" stroke-width="1.5" fill="none" opacity="0.55"/>
<path d="M223.7 309.4 Q248.6 312.5 273.6 302.8" stroke="#fafafa" stroke-width="3.2" fill="none" opacity="0.19"/>
<path d="M223.7 314.4 Q248.6 317.5 273.6 307.8" stroke="#121212" stroke-width="2.0" fill="none" opacity="0.49"/>
<path d="M228.9 317.0 Q251.9 329.2 274.8 318.7" stroke="#fafafa" stroke-width="3.3" fill="none" opacity="0.15"/>
<path d="M228.9 322.0 Q251.9 334.2 274.8 323.7" stroke="#121212" stroke-width="2.4" fill="none" opacity="0.59"/>
<path d="M227.4 333.0 Q251.1 339.6 274.9 324.3" stroke="#fafafa" stroke-width="4.7" fill="none" opacity="0.41"/>
<path d="M227.4 338.0 Q251.1 344.6 274.9 329.3" stroke="#121212" stroke-width="1.9" fill="none" opacity="0.30"/>
<path d="M225.4 340.6 Q247.7 347.4 270.0 334.9" stroke="#fafafa" stroke-width="4.4" fill="none" opacity="0.15"/>
<path d="M225.4 345.6 Q247.7 352.4 270.0 339.9" stroke="#121212" stroke-width="2.4" fill="none" opacity="0.55"/>
<path d="M221.8 349.0 Q248.2 361.7 274.6 351.0" stroke="#fafafa" stroke-width="3.3" fill="none" opacity="0.38"/>
<path d="M221.8 354.0 Q248.2 366.7 274.6 356.0" stroke="#121212" stroke-width="2.8" fill="none" opacity="0.34"/>
<path d="M223.7 358.3 Q248.4 370.7 273.1 361.1" stroke="#fafafa" stroke-width="6.2" fill="none" opacity="0.16"/>
<path d="M223.7 363.3 Q248.4 375.7 273.1 366.1" stroke="#121212" stroke-width="2.0" fill="none" opacity="0.50"/>
<path d="M224.0 376.3 Q250.0 378.6 275.9 367.5" stroke="#fafafa" stroke-width="4.4" fill="none" opacity="0.10"/>
<path d="M224.0 381.3 Q250.0 383.6 275.9 372.5" stroke="#121212" stroke-width="2.4" fill="none" opacity="0.33"/>
<path d="M229.1 388.3 Q251.4 391.1 273.6 378.5" stroke="#fafafa" stroke-width="6.2" fill="none" opacity="0.29"/>
<path d="M229.1 393.3 Q251.4 396.1 273.6 383.5" stroke="#121212" stroke-width="3.0" fill="none" opacity="0.22"/>
<path d="M229.6 398.9 Q252.4 400.2 275.3 392.0" stroke="#fafafa" stroke-width="3.5" fill="none" opacity="0.36"/>
<path d="M229.6 403.9 Q252.4 405.2 275.3 397.0" stroke="#121212" stroke-width="1.6" fill="none" opacity="0.53"/>
<path d="M252.4 55.0 Q274.1 64.0 295.8 59.8" stroke="#fafafa" stroke-width="3.9" fill="none" opacity="0.34"/>
<path d="M252.4 60.0 Q274.1 69.0 295.8 64.8" stroke="#121212" stroke-width="2.6" fill="none" opacity="0.18"/>
<path d="M250.1 70.1 Q274.6 75.6 299.2 65.7" stroke="#fafafa" stroke-width="4.8" fill="none" opacity="0.43"/>
<path d="M250.1 75.1 Q274.6 80.6 299.2 70.7" stroke="#121212" stroke-width="1.7" fill="none" opacity="0.08"/>
<path d="M250.8 74.4 Q273.8 86.2 296.8 84.2" stroke="#fafafa" stroke-width="3.8" fill="none" opacity="0.36"/>
<path d="M250.8 79.4 Q273.8 91.2 296.8 89.2" stroke="#121212" stroke-width="1.6" fill="none" opacity="0.13"/>
<path d="M249.1 92.2 Q270.1 97.4 291.0 85.8" stroke="#fafafa" stroke-width="6.3" fill="none" opacity="0.22"/>
<path d="M249.1 97.2 Q270.1 102.4 291.0 90.8" stroke="#121212" stroke-width="1.7" fill="none" opacity="0.21"/>
<path d="M256.7 98.9 Q275.1 105.9 293.5 104.4" stroke="#fafafa" stroke-width="3.8" fill="none" opacity="0.44"/>
<path d="M256.7 103.9 Q275.1 110.9 293.5 109.4" stroke="#121212" stroke-width="2.2" fill="none" opacity="0.44"/>
<path d="M253.6 108.4 Q274.2 119.0 294.8 116.4" stroke="#fafafa" stroke-width="3.4" fill="none" opacity="0.35"/>
<path d="M253.6 113.4 Q274.2 124.0 294.8 121.4" stroke="#121212" stroke-width="1.6" fill="none" opacity="0.46"/>
<path d="M256.8 124.3 Q274.4 131.9 292.1 122.5" stroke="#fafafa" stroke-width="6.2" fill="none" opacity="0.43"/>
<path d="M256.8 129.3 Q274.4 136.9 292.1 127.5" stroke="#121212" stroke-width="2.4" fill="none" opacity="0.29"/>
<path d="M250.3 136.6 Q270.7 139.5 291.1 130.7" stroke="#fafafa" stroke-width="5.7" fill="none" opacity="0.32"/>
<path d="M250.3 141.6 Q270.7 144.5 291.1 135.7" stroke="#121212" stroke-width="1.9" fill="none" opacity="0.60"/>
<path d="M254.0 140.0 Q272.4 154.6 290.8 147.4" stroke="#fafafa" stroke-width="3.9" fill="none" opacity="0.36"/>
<path d="M254.0 145.0 Q272.4 159.6 290.8 152.4" stroke="#121212" stroke-width="2.7" fill="none" opacity="0.31"/>
<path d="M247.9 152.6 Q271.8 159.7 295.6 156.2" stroke="#fafafa" stroke-width="5.1" fill="none" opacity="0.25"/>
<path d="M247.9 157.6 Q271.8 164.7 295.6 161.2" stroke="#121212" stroke-width="2.4" fill="none" opacity="0.55"/>
<path d="M254.1 160.8 Q274.0 174.7 293.9 168.1" stroke="#fafafa" stroke-width="3.6" fill="none" opacity="0.40"/>
<path d="M254.1 165.8 Q274.0 179.7 293.9 173.1" stroke="#121212" stroke-width="3.0" fill="none" opacity="0.32"/>
<path d="M244.7 169.5 Q269.2 177.6 293.8 177.7" stroke="#fafafa" stroke-width="3.5" fill="none" opacity="0.35"/>
<path d="M244.7 174.5 Q269.2 182.6 293.8 182.7" stroke="#121212" stroke-width="1.6" fill="none" opacity="0.27"/>
<path d="M249.2 183.8 Q269.0 197.3 288.7 188.1" stroke="#fafafa" stroke-width="6.1" fill="none" opacity="0.44"/>
<path d="M249.2 188.8 Q269.0 202.3 288.7 193.1" stroke="#121212" stroke-width="1.5" fill="none" opacity="0.29"/>
<path d="M254.9 201.6 Q272.4 207.0 289.8 196.3" stroke="#fafafa" stroke-width="4.5" fill="none" opacity="0.12"/>
<path d="M254.9 206.6 Q272.4 212.0 289.8 201.3" stroke="#121212" stroke-width="1.5" fill="none" opacity="0.60"/>
<path d="M255.3 213.2 Q273.4 217.4 291.5 205.9" stroke="#fafafa" stroke-width="4.5" fill="none" opacity="0.15"/>
<path d="M255.3 218.2 Q273.4 222.4 291.5 210.9" stroke="#121212" stroke-width="2.5" fill="none" opacity="0.26"/>
<path d="M252.9 222.3 Q270.9 229.0 289.0 222.2" stroke="#fafafa" stroke-width="6.2" fill="none" opacity="0.21"/>
<path d="M252.9 227.3 Q270.9 234.0 289.0 227.2" stroke="#121212" stroke-width="1.8" fill="none" opacity="0.59"/>
<path d="M252.9 238.0 Q272.1 241.0 291.4 233.3" stroke="#fafafa" stroke-width="3.2" fill="none" opacity="0.10"/>
<path d="M252.9 243.0 Q272.1 246.0 291.4 238.3" stroke="#121212" stroke-width="2.3" fill="none" opacity="0.36"/>
<path d="M252.5 245.9 Q269.8 256.9 287.0 248.9" stroke="#fafafa" stroke-width="4.9" fill="none" opacity="0.28"/>
<path d="M252.5 250.9 Q269.8 261.9 287.0 253.9" stroke="#121212" stroke-width="2.5" fill="none" opacity="0.59"/>
<path d="M251.5 261.6 Q271.7 267.3 291.9 260.0" stroke="#fafafa" stroke-width="6.4" fill="none" opacity="0.22"/>
<path d="M251.5 266.6 Q271.7 272.3 291.9 265.0" stroke="#121212" stroke-width="2.1" fill="none" opacity="0.36"/>
<path d="M256.1 266.2 Q273.3 279.4 290.5 274.8" stroke="#fafafa" stroke-width="3.9" fill="none" opacity="0.31"/>
<path d="M256.1 271.2 Q273.3 284.4 290.5 279.8" stroke="#121212" stroke-width="2.1" fill="none" opacity="0.30"/>
<path d="M244.3 276.4 Q267.8 290.8 291.4 284.6" stroke="#fafafa" stroke-width="3.2" fill="none" opacity="0.34"/>
<path d="M244.3 281.4 Q267.8 295.8 291.4 289.6" stroke="#121212" stroke-width="2.0" fill="none" opacity="0.46"/>
<path d="M244.4 289.8 Q268.9 296.2 293.4 294.7" stroke="#fafafa" stroke-width="6.0" fill="none" opacity="0.27"/>
<path d="M244.4 294.8 Q268.9 301.2 293.4 299.7" stroke="#121212" stroke-width="2.4" fill="none" opacity="0.60"/>
<path d="M247.9 300.3 Q270.6 309.4 293.4 304.5" stroke="#fafafa" stroke-width="4.4" fill="none" opacity="0.27"/>
<path d="M247.9 305.3 Q270.6 314.4 293.4 309.5" stroke="#121212" stroke-width="2.4" fill="none" opacity="0.47"/>
<path d="M249.2 311.9 Q270.5 318.8 291.7 314.1" stroke="#fafafa" stroke-width="3.9" fill="none" opacity="0.42"/>
<path d="M249.2 316.9 Q270.5 323.8 291.7 319.1" stroke="#121212" stroke-width="2.2" fill="none" opacity="0.49"/>
<path d="M250.6 320.4 Q269.4 329.8 288.3 328.9" stroke="#fafafa" stroke-width="4.9" fill="none" opacity="0.27"/>
<path d="M250.6 325.4 Q269.4 334.8 288.3 333.9" stroke="#121212" stroke-width="2.3" fill="none" opacity="0.53"/>
<path d="M244.1 333.4 Q267.5 342.5 290.8 336.2" stroke="#fafafa" stroke-width="5.9" fill="none" opacity="0.41"/>
<path d="M244.1 338.4 Q267.5 347.5 290.8 341.2" stroke="#121212" stroke-width="2.8" fill="none" opacity="0.22"/>
<path d="M247.9 349.2 Q271.3 350.7 294.6 342.3" stroke="#fafafa" stroke-width="3.9" fill="none" opacity="0.12"/>
<path d="M247.9 354.2 Q271.3 355.7 294.6 347.3" stroke="#121212" stroke-width="2.0" fill="none" opacity="0.52"/>
<path d="M251.0 352.4 Q268.8 364.5 286.7 362.3" stroke="#fafafa" stroke-width="5.4" fill="none" opacity="0.25"/>
<path d="M251.0 357.4 Q268.8 369.5 286.7 367.3" stroke="#121212" stroke-width="2.2" fill="none" opacity="0.52"/>
<path d="M244.6 369.9 Q266.8 377.1 289.1 370.3" stroke="#fafafa" stroke-width="3.8" fill="none" opacity="0.22"/>
<path d="M244.6 374.9 Q266.8 382.1 289.1 375.3" stroke="#121212" stroke-width="2.0" fill="none" opacity="0.35"/>
<path d="M245.6 382.4 Q267.0 383.7 288.5 376.0" stroke="#fafafa" stroke-width="5.5" fill="none" opacity="0.18"/>
<path d="M245.6 387.4 Q267.0 388.7 288.5 381.0" stroke="#121212" stroke-width="2.0" fill="none" opacity="0.30"/>
<path d="M244.2 395.4 Q266.2 403.3 288.2 389.4" stroke="#fafafa" stroke-width="4.5" fill="none" opacity="0.37"/>
<path d="M244.2 400.4 Q266.2 408.3 288.2 394.4" stroke="#121212" stroke-width="2.4" fill="none" opacity="0.35"/>
<path d="M248.2 403.7 Q268.2 411.3 288.1 399.6" stroke="#fafafa" stroke-width="4.4" fill="none" opacity="0.32"/>
<path d="M248.2 408.7 Q268.2 416.3 288.1 404.6" stroke="#121212" stroke-width="2.7" fill="none" opacity="0.34"/>
<path d="M244.7 407.8 Q268.9 418.1 293.0 417.2" stroke="#fafafa" stroke-width="5.5" fill="none" opacity="0.22"/>
<path d="M244.7 412.8 Q268.9 423.1 293.0 422.2" stroke="#121212" stroke-width="2.5" fill="none" opacity="0.33"/>
<path d="M249.8 421.9 Q269.8 430.1 289.8 421.9" stroke="#fafafa" stroke-width="6.2" fill="none" opacity="0.36"/>
<path d="M249.8 426.9 Q269.8 435.1 289.8 426.9" stroke="#121212" stroke-width="1.5" fill="none" opacity="0.44"/>
<line x1="294.5" y1="79.4" x2="289.8" y2="413.7" stroke="#1a1a1a" stroke-width="6.4" opacity="0.25"/>
<path d="M278.5 57.0 Q298.1 68.3 317.8 63.5" stroke="#fafafa" stroke-width="5.3" fill="none" opacity="0.35"/>
<path d="M278.5 62.0 Q298.1 73.3 317.8 68.5" stroke="#121212" stroke-width="2.1" fill="none" opacity="0.08"/>
<path d="M277.5 76.5 Q299.1 82.8 320.8 68.8" stroke="#fafafa" stroke-width="3.8" fill="none" opacity="0.11"/>
<path d="M277.5 81.5 Q299.1 87.8 320.8 73.8" stroke="#121212" stroke-width="2.7" fill="none" opacity="0.09"/>
<path d="M280.4 80.3 Q300.6 86.5 320.8 83.9" stroke="#fafafa" stroke-width="5.5" fill="none" opacity="0.26"/>
<path d="M280.4 85.3 Q300.6 91.5 320.8 88.9" stroke="#121212" stroke-width="1.6" fill="none" opacity="0.24"/>
<path d="M276.6 89.4 Q299.9 103.7 323.1 96.9" stroke="#fafafa" stroke-width="3.5" fill="none" opacity="0.20"/>
<path d="M276.6 94.4 Q299.9 108.7 323.1 101.9" stroke="#121212" stroke-width="2.3" fill="none" opacity="0.14"/>
<path d="M280.4 109.6 Q298.4 113.6 316.4 104.7" stroke="#fafafa" stroke-width="6.0" fill="none" opacity="0.29"/>
<path d="M280.4 114.6 Q298.4 118.6 316.4 109.7" stroke="#121212" stroke-width="2.3" fill="none" opacity="0.34"/>
<path d="M276.5 112.8 Q298.8 126.8 321.1 119.9" stroke="#fafafa" stroke-width="3.9" fill="none" opacity="0.15"/>
<path d="M276.5 117.8 Q298.8 131.8 321.1 124.9" stroke="#121212" stroke-width="1.6" fill="none" opacity="0.41"/>
<path d="M280.4 128.6 Q300.1 135.9 319.7 125.9" stroke="#fafafa" stroke-width="5.8" fill="none" opacity="0.15"/>
<path d="M280.4 133.6 Q300.1 140.9 319.7 130.9" stroke="#121212" stroke-width="2.9" fill="none" opacity="0.42"/>
<path d="M279.5 135.8 Q299.4 143.8 319.4 137.1" stroke="#fafafa" stroke-width="4.1" fill="none" opacity="0.18"/>
<path d="M279.5 140.8 Q299.4 148.8 319.4 142.1" stroke="#121212" stroke-width="2.7" fill="none" opacity="0.32"/>
<path d="M282.3 144.7 Q302.7 156.7 323.0 153.4" stroke="#fafafa" stroke-width="4.6" fill="none" opacity="0.40"/>
<path d="M282.3 149.7 Q302.7 161.7 323.0 158.4" stroke="#121212" stroke-width="1.6" fill="none" opacity="0.37"/>
<path d="M276.2 160.3 Q298.5 165.8 320.8 162.2" stroke="#fafafa" stroke-width="3.6" fill="none" opacity="0.42"/>
<path d="M276.2 165.3 Q298.5 170.8 320.8 167.2" stroke="#121212" stroke-width="2.3" fill="none" opacity="0.52"/>
<path d="M281.6 175.6 Q302.6 179.1 323.5 169.8" stroke="#fafafa" stroke-width="5.9" fill="none" opacity="0.13"/>
<path d="M281.6 180.6 Q302.6 184.1 323.5 174.8" stroke="#121212" stroke-width="2.9" fill="none" opacity="0.28"/>
<path d="M277.6 183.1 Q299.3 193.8 321.1 181.4" stroke="#fafafa" stroke-width="5.3" fill="none" opacity="0.18"/>
<path d="M277.6 188.1 Q299.3 198.8 321.1 186.4" stroke="#121212" stroke-width="2.9" fill="none" opacity="0.47"/>
<path d="M278.3 188.6 Q299.4 196.3 320.5 195.4" stroke="#fafafa" stroke-width="4.0" fill="none" opacity="0.17"/>
<path d="M278.3 193.6 Q299.4 201.3 320.5 200.4" stroke="#121212" stroke-width="2.4" fill="none" opacity="0.33"/>
<path d="M277.6 200.4 Q300.3 210.4 322.9 207.2" stroke="#fafafa" stroke-width="3.5" fill="none" opacity="0.38"/>
<path d="M277.6 205.4 Q300.3 215.4 322.9 212.2" stroke="#121212" stroke-width="3.0" fill="none" opacity="0.36"/>
<path d="M281.2 212.5 Q301.9 218.8 322.6 213.4" stroke="#fafafa" stroke-width="3.3" fill="none" opacity="0.25"/>
<path d="M281.2 217.5 Q301.9 223.8 322.6 218.4" stroke="#121212" stroke-width="2.6" fill="none" opacity="0.37"/>
<path d="M278.6 221.1 Q300.6 230.3 322.6 229.6" stroke="#fafafa" stroke-width="6.5" fill="none" opacity="0.43"/>
<path d="M278.6 226.1 Q300.6 235.3 322.6 234.6" stroke="#121212" stroke-width="2.3" fill="none" opacity="0.32"/>
<path d="M285.0 240.2 Q304.7 247.5 324.4 232.0" stroke="#fafafa" stroke-width="4.7" fill="none" opacity="0.40"/>
<path d="M285.0 245.2 Q304.7 252.5 324.4 237.0" stroke="#121212" stroke-width="2.4" fill="none" opacity="0.42"/>
<path d="M283.2 242.1 Q301.3 256.7 319.4 249.0" stroke="#fafafa" stroke-width="3.8" fill="none" opacity="0.42"/>
<path d="M283.2 247.1 Q301.3 261.7 319.4 254.0" stroke="#121212" stroke-width="1.5" fill="none" opacity="0.44"/>
<path d="M280.1 263.9 Q302.9 268.6 325.7 254.9" stroke="#fafafa" stroke-width="4.2" fill="none" opacity="0.25"/>
<path d="M280.1 268.9 Q302.9 273.6 325.7 259.9" stroke="#121212" stroke-width="1.9" fill="none" opacity="0.50"/>
<path d="M287.5 268.7 Q305.8 273.8 324.1 269.9" stroke="#fafafa" stroke-width="3.3" fill="none" opacity="0.28"/>
<path d="M287.5 273.7 Q305.8 278.8 324.1 274.9" stroke="#121212" stroke-width="2.7" fill="none" opacity="0.44"/>
<path d="M281.8 279.1 Q301.6 285.4 321.4 282.1" stroke="#fafafa" stroke-width="3.5" fill="none" opacity="0.29"/>
<path d="M281.8 284.1 Q301.6 290.4 321.4 287.1" stroke="#121212" stroke-width="2.0" fill="none" opacity="0.35"/>
<path d="M285.4 294.6 Q302.7 304.4 320.1 291.2" stroke="#fafafa" stroke-width="5.9" fill="none" opacity="0.40"/>
<path d="M285.4 299.6 Q302.7 309.4 320.1 296.2" stroke="#121212" stroke-width="2.2" fill="none" opacity="0.26"/>
<path d="M290.3 302.0 Q307.3 310.3 324.3 302.7" stroke="#fafafa" stroke-width="3.4" fill="none" opacity="0.25"/>
<path d="M290.3 307.0 Q307.3 315.3 324.3 307.7" stroke="#121212" stroke-width="1.7" fill="none" opacity="0.41"/>
<path d="M286.9 316.9 Q304.5 321.1 322.1 310.9" stroke="#fafafa" stroke-width="3.4" fill="none" opacity="0.17"/>
<path d="M286.9 321.9 Q304.5 326.1 322.1 315.9" stroke="#121212" stroke-width="2.8" fill="none" opacity="0.40"/>
<path d="M279.9 324.5 Q302.8 335.3 325.6 330.3" stroke="#fafafa" stroke-width="5.0" fill="none" opacity="0.33"/>
<path d="M279.9 329.5 Q302.8 340.3 325.6 335.3" stroke="#121212" stroke-width="1.8" fill="none" opacity="0.50"/>
<path d="M288.1 336.9 Q304.5 344.3 320.9 337.3" stroke="#fafafa" stroke-width="4.0" fill="none" opacity="0.41"/>
<path d="M288.1 341.9 Q304.5 349.3 320.9 342.3" stroke="#121212" stroke-width="1.6" fill="none" opacity="0.43"/>
<path d="M285.1 351.7 Q306.8 357.0 328.5 342.9" stroke="#fafafa" stroke-width="3.9" fill="none" opacity="0.30"/>
<path d="M285.1 356.7 Q306.8 362.0 328.5 347.9" stroke="#121212" stroke-width="3.0" fill="none" opacity="0.22"/>
<path d="M285.7 356.3 Q307.7 366.1 329.6 362.5" stroke="#fafafa" stroke-width="4.6" fill="none" opacity="0.42"/>
<path d="M285.7 361.3 Q307.7 371.1 329.6 367.5" stroke="#121212" stroke-width="1.5" fill="none" opacity="0.58"/>
<path d="M289.5 368.1 Q306.3 376.4 323.0 372.8" stroke="#fafafa" stroke-width="5.4" fill="none" opacity="0.14"/>
<path d="M289.5 373.1 Q306.3 381.4 323.0 377.8" stroke="#121212" stroke-width="2.0" fill="none" opacity="0.26"/>
<path d="M286.9 375.5 Q305.4 392.2 323.9 385.4" stroke="#fafafa" stroke-width="5.8" fill="none" opacity="0.26"/>
<path d="M286.9 380.5 Q305.4 397.2 323.9 390.4" stroke="#121212" stroke-width="2.2" fill="none" opacity="0.51"/>
<path d="M288.3 392.7 Q309.0 399.6 329.6 395.2" stroke="#fafafa" stroke-width="6.0" fill="none" opacity="0.37"/>
<path d="M288.3 397.7 Q309.0 404.6 329.6 400.2" stroke="#121212" stroke-width="1.6" fill="none" opacity="0.49"/>
<path d="M282.7 402.3 Q305.7 414.1 328.7 407.2" stroke="#fafafa" stroke-width="3.5" fill="none" opacity="0.39"/>
<path d="M282.7 407.3 Q305.7 419.1 328.7 412.2" stroke="#121212" stroke-width="2.9" fill="none" opacity="0.56"/>
<path d="M288.2 418.1 Q310.1 426.2 331.9 416.8" stroke="#fafafa" stroke-width="5.9" fill="none" opacity="0.37"/>
<path d="M288.2 423.1 Q310.1 431.2 331.9 421.8" stroke="#121212" stroke-width="2.8" fill="none" opacity="0.32"/>
<path d="M285.8 426.6 Q308.6 436.2 331.5 435.9" stroke="#fafafa" stroke-width="5.8" fill="none" opacity="0.17"/>
<path d="M285.8 431.6 Q308.6 441.2 331.5 440.9" stroke="#121212" stroke-width="2.8" fill="none" opacity="0.29"/>
<line x1="319.0" y1="87.2" x2="328.6" y2="429.3" stroke="#1a1a1a" stroke-width="3.9" opacity="0.27"/>
<path d="M300.9 68.1 Q324.3 81.3 347.7 73.9" stroke="#fafafa" stroke-width="5.4" fill="none" opacity="0.43"/>
<path d="M300.9 73.1 Q324.3 86.3 347.7 78.9" stroke="#121212" stroke-width="2.7" fill="none" opacity="0.13"/>
<path d="M296.7 79.5 Q324.0 87.2 351.3 81.4" stroke="#fafafa" stroke-width="5.9" fill="none" opacity="0.37"/>
<path d="M296.7 84.5 Q324.0 92.2 351.3 86.4" stroke="#121212" stroke-width="1.5" fill="none" opacity="0.15"/>
<path d="M293.7 88.5 Q320.8 96.9 347.8 90.6" stroke="#fafafa" stroke-width="4.6" fill="none" opacity="0.20"/>
<path d="M293.7 93.5 Q320.8 101.9 347.8 95.6" stroke="#121212" stroke-width="1.8" fill="none" opacity="0.19"/>
<path d="M301.3 105.0 Q323.8 107.4 346.4 100.5" stroke="#fafafa" stroke-width="5.5" fill="none" opacity="0.24"/>
<path d="M301.3 110.0 Q323.8 112.4 346.4 105.5" stroke="#121212" stroke-width="2.5" fill="none" opacity="0.40"/>
<path d="M303.9 115.5 Q324.2 122.9 344.6 109.2" stroke="#fafafa" stroke-width="4.0" fill="none" opacity="0.43"/>
<path d="M303.9 120.5 Q324.2 127.9 344.6 114.2" stroke="#121212" stroke-width="2.0" fill="none" opacity="0.27"/>
<path d="M296.0 125.8 Q323.8 132.9 351.6 125.8" stroke="#fafafa" stroke-width="6.3" fill="none" opacity="0.27"/>
<path d="M296.0 130.8 Q323.8 137.9 351.6 130.8" stroke="#121212" stroke-width="3.0" fill="none" opacity="0.28"/>
<path d="M296.6 142.2 Q321.2 142.9 345.8 135.7" stroke="#fafafa" stroke-width="6.3" fill="none" opacity="0.25"/>
<path d="M296.6 147.2 Q321.2 147.9 345.8 140.7" stroke="#121212" stroke-width="2.7" fill="none" opacity="0.30"/>
<path d="M296.0 149.6 Q320.8 160.6 345.7 149.8" stroke="#fafafa" stroke-width="4.3" fill="none" opacity="0.42"/>
<path d="M296.0 154.6 Q320.8 165.6 345.7 154.8" stroke="#121212" stroke-width="2.8" fill="none" opacity="0.47"/>
<path d="M300.1 160.5 Q324.0 170.7 347.9 157.7" stroke="#fafafa" stroke-width="5.3" fill="none" opacity="0.31"/>
<path d="M300.1 165.5 Q324.0 175.7 347.9 162.7" stroke="#121212" stroke-width="2.1" fill="none" opacity="0.41"/>
<path d="M301.4 166.7 Q325.7 178.4 350.1 176.2" stroke="#fafafa" stroke-width="3.2" fill="none" opacity="0.39"/>
<path d="M301.4 171.7 Q325.7 183.4 350.1 181.2" stroke="#121212" stroke-width="2.5" fill="none" opacity="0.42"/>
<path d="M297.0 180.2 Q324.8 192.5 352.6 185.2" stroke="#fafafa" stroke-width="3.1" fill="none" opacity="0.20"/>
<path d="M297.0 185.2 Q324.8 197.5 352.6 190.2" stroke="#121212" stroke-width="1.7" fill="none" opacity="0.58"/>
<path d="M296.1 200.7 Q321.2 204.8 346.3 191.6" stroke="#fafafa" stroke-width="4.4" fill="none" opacity="0.36"/>
<path d="M296.1 205.7 Q321.2 209.8 346.3 196.6" stroke="#121212" stroke-width="2.5" fill="none" opacity="0.31"/>
<path d="M297.4 204.2 Q322.1 216.3 346.9 213.8" stroke="#fafafa" stroke-width="5.3" fill="none" opacity="0.38"/>
<path d="M297.4 209.2 Q322.1 221.3 346.9 218.8" stroke="#121212" stroke-width="2.5" fill="none" opacity="0.35"/>
<path d="M298.6 226.2 Q324.6 229.0 350.7 219.4" stroke="#fafafa" stroke-width="5.0" fill="none" opacity="0.39"/>
<path d="M298.6 231.2 Q324.6 234.0 350.7 224.4" stroke="#121212" stroke-width="2.7" fill="none" opacity="0.34"/>
<path d="M295.8 230.1 Q323.5 237.8 351.2 234.9" stroke="#fafafa" stroke-width="3.6" fill="none" opacity="0.20"/>
<path d="M295.8 235.1 Q323.5 242.8 351.2 239.9" stroke="#121212" stroke-width="1.6" fill="none" opacity="0.32"/>
<path d="M297.8 245.3 Q326.2 248.9 354.6 241.5" stroke="#fafafa" stroke-width="6.3" fill="none" opacity="0.15"/>
<path d="M297.8 250.3 Q326.2 253.9 354.6 246.5" stroke="#121212" stroke-width="2.0" fill="none" opacity="0.38"/>
<path d="M298.6 248.3 Q322.0 260.0 345.5 257.6" stroke="#fafafa" stroke-width="3.9" fill="none" opacity="0.16"/>
<path d="M298.6 253.3 Q322.0 265.0 345.5 262.6" stroke="#121212" stroke-width="2.9" fill="none" opacity="0.38"/>
<path d="M297.5 269.6 Q324.3 272.7 351.1 262.7" stroke="#fafafa" stroke-width="5.6" fill="none" opacity="0.25"/>
<path d="M297.5 274.6 Q324.3 277.7 351.1 267.7" stroke="#121212" stroke-width="2.3" fill="none" opacity="0.47"/>
<path d="M299.0 278.6 Q322.2 290.2 345.3 279.2" stroke="#fafafa" stroke-width="4.0" fill="none" opacity="0.31"/>
<path d="M299.0 283.6 Q322.2 295.2 345.3 284.2" stroke="#121212" stroke-width="1.9" fill="none" opacity="0.51"/>
<path d="M300.5 283.7 Q325.5 294.9 350.4 292.5" stroke="#fafafa" stroke-width="3.9" fill="none" opacity="0.17"/>
<path d="M300.5 288.7 Q325.5 299.9 350.4 297.5" stroke="#121212" stroke-width="1.6" fill="none" opacity="0.42"/>
<path d="M301.0 304.8 Q324.6 311.3 348.2 297.0" stroke="#fafafa" stroke-width="4.1" fill="none" opacity="0.32"/>
<path d="M301.0 309.8 Q324.6 316.3 348.2 302.0" stroke="#121212" stroke-width="3.0" fill="none" opacity="0.45"/>
<path d="M301.8 310.9 Q325.2 324.9 348.7 315.8" stroke="#fafafa" stroke-width="4.2" fill="none" opacity="0.23"/>
<path d="M301.8 315.9 Q325.2 329.9 348.7 320.8" stroke="#121212" stroke-width="2.7" fill="none" opacity="0.34"/>
<path d="M301.2 321.6 Q325.8 331.4 350.5 325.0" stroke="#fafafa" stroke-width="6.2" fill="none" opacity="0.13"/>
<path d="M301.2 326.6 Q325.8 336.4 350.5 330.0" stroke="#121212" stroke-width="2.0" fill="none" opacity="0.23"/>
<path d="M296.2 333.5 Q323.6 343.7 351.1 335.1" stroke="#fafafa" stroke-width="4.4" fill="none" opacity="0.29"/>
<path d="M296.2 338.5 Q323.6 348.7 351.1 340.1" stroke="#121212" stroke-width="1.9" fill="none" opacity="0.54"/>
<path d="M304.4 344.7 Q325.7 356.6 347.0 349.8" stroke="#fafafa" stroke-width="4.8" fill="none" opacity="0.41"/>
<path d="M304.4 349.7 Q325.7 361.6 347.0 354.8" stroke="#121212" stroke-width="2.8" fill="none" opacity="0.50"/>
<path d="M296.9 358.3 Q324.6 365.4 352.3 362.4" stroke="#fafafa" stroke-width="5.5" fill="none" opacity="0.31"/>
<path d="M296.9 363.3 Q324.6 370.4 352.3 367.4" stroke="#121212" stroke-width="1.9" fill="none" opacity="0.23"/>
<path d="M303.3 375.2 Q325.7 378.1 348.0 369.6" stroke="#fafafa" stroke-width="3.3" fill="none" opacity="0.33"/>
<path d="M303.3 380.2 Q325.7 383.1 348.0 374.6" stroke="#121212" stroke-width="3.0" fill="none" opacity="0.52"/>
<path d="M304.3 384.9 Q324.9 393.9 345.6 381.4" stroke="#fafafa" stroke-width="3.0" fill="none" opacity="0.31"/>
<path d="M304.3 389.9 Q324.9 398.9 345.6 386.4" stroke="#121212" stroke-width="1.7" fill="none" opacity="0.31"/>
<path d="M298.6 397.1 Q323.4 402.9 348.3 387.9" stroke="#fafafa" stroke-width="5.9" fill="none" opacity="0.12"/>
<path d="M298.6 402.1 Q323.4 407.9 348.3 392.9" stroke="#121212" stroke-width="1.8" fill="none" opacity="0.45"/>
<path d="M297.8 400.3 Q322.8 408.9 347.7 406.1" stroke="#fafafa" stroke-width="3.7" fill="none" opacity="0.39"/>
<path d="M297.8 405.3 Q322.8 413.9 347.7 411.1" stroke="#121212" stroke-width="2.7" fill="none" opacity="0.41"/>
<path d="M305.2 413.1 Q325.5 420.4 345.7 411.6" stroke="#fafafa" stroke-width="3.2" fill="none" opacity="0.31"/>
<path d="M305.2 418.1 Q325.5 425.4 345.7 416.6" stroke="#121212" stroke-width="2.6" fill="none" opacity="0.43"/>
<path d="M298.8 419.7 Q323.9 429.2 349.0 427.0" stroke="#fafafa" stroke-width="6.5" fill="none" opacity="0.38"/>
<path d="M298.8 424.7 Q323.9 434.2 349.0 432.0" stroke="#121212" stroke-width="2.9" fill="none" opacity="0.33"/>
<path d="M297.1 437.7 Q321.3 442.3 345.5 436.8" stroke="#fafafa" stroke-width="5.4" fill="none" opacity="0.34"/>
<path d="M297.1 442.7 Q321.3 447.3 345.5 441.8" stroke="#121212" stroke-width="2.2" fill="none" opacity="0.34"/>
<path d="M300.8 444.9 Q323.3 452.8 345.8 449.6" stroke="#fafafa" stroke-width="4.8" fill="none" opacity="0.24"/>
<path d="M300.8 449.9 Q323.3 457.8 345.8 454.6" stroke="#121212" stroke-width="1.8" fill="none" opacity="0.48"/>
<line x1="348.1" y1="93.0" x2="348.9" y2="444.2" stroke="#1a1a1a" stroke-width="5.2" opacity="0.33"/>
<path d="M326.8 63.8 Q355.6 75.8 384.5 68.2" stroke="#fafafa" stroke-width="3.2" fill="none" opacity="0.16"/>
<path d="M326.8 68.8 Q355.6 80.8 384.5 73.2" stroke="#121212" stroke-width="1.5" fill="none" opacity="0.19"/>
<path d="M330.9 82.0 Q353.8 85.5 376.8 75.2" stroke="#fafafa" stroke-width="5.2" fill="none" opacity="0.45"/>
<path d="M330.9 87.0 Q353.8 90.5 376.8 80.2" stroke="#121212" stroke-width="2.0" fill="none" opacity="0.08"/>
<path d="M323.6 88.9 Q352.3 98.9 380.9 88.0" stroke="#fafafa" stroke-width="3.4" fill="none" opacity="0.12"/>
<path d="M323.6 93.9 Q352.3 103.9 380.9 93.0" stroke="#121212" stroke-width="1.7" fill="none" opacity="0.27"/>
<path d="M327.4 100.1 Q356.2 110.2 385.0 99.6" stroke="#fafafa" stroke-width="5.9" fill="none" opacity="0.13"/>
<path d="M327.4 105.1 Q356.2 115.2 385.0 104.6" stroke="#121212" stroke-width="1.7" fill="none" opacity="0.30"/>
<path d="M328.8 107.3 Q351.6 115.6 374.5 115.5" stroke="#fafafa" stroke-width="5.5" fill="none" opacity="0.43"/>
<path d="M328.8 112.3 Q351.6 120.6 374.5 120.5" stroke="#121212" stroke-width="3.0" fill="none" opacity="0.34"/>
<path d="M324.9 127.7 Q352.8 134.8 380.7 120.4" stroke="#fafafa" stroke-width="3.0" fill="none" opacity="0.16"/>
<path d="M324.9 132.7 Q352.8 139.8 380.7 125.4" stroke="#121212" stroke-width="2.4" fill="none" opacity="0.35"/>
<path d="M327.9 137.7 Q355.6 140.8 383.2 128.5" stroke="#fafafa" stroke-width="6.1" fill="none" opacity="0.28"/>
<path d="M327.9 142.7 Q355.6 145.8 383.2 133.5" stroke="#121212" stroke-width="1.6" fill="none" opacity="0.33"/>
<path d="M331.1 148.2 Q356.0 154.3 380.9 142.3" stroke="#fafafa" stroke-width="3.9" fill="none" opacity="0.42"/>
<path d="M331.1 153.2 Q356.0 159.3 380.9 147.3" stroke="#121212" stroke-width="2.1" fill="none" opacity="0.24"/>
<path d="M329.2 156.3 Q351.6 164.8 373.9 158.0" stroke="#fafafa" stroke-width="5.2" fill="none" opacity="0.34"/>
<path d="M329.2 161.3 Q351.6 169.8 373.9 163.0" stroke="#121212" stroke-width="2.2" fill="none" opacity="0.23"/>
<path d="M326.5 168.1 Q351.3 177.0 376.1 171.5" stroke="#fafafa" stroke-width="5.5" fill="none" opacity="0.17"/>
<path d="M326.5 173.1 Q351.3 182.0 376.1 176.5" stroke="#121212" stroke-width="2.5" fill="none" opacity="0.48"/>
<path d="M323.2 185.5 Q351.9 189.9 380.6 176.8" stroke="#fafafa" stroke-width="3.8" fill="none" opacity="0.45"/>
<path d="M323.2 190.5 Q351.9 194.9 380.6 181.8" stroke="#121212" stroke-width="1.8" fill="none" opacity="0.36"/>
<path d="M329.9 198.7 Q356.1 204.0 382.4 189.5" stroke="#fafafa" stroke-width="3.3" fill="none" opacity="0.44"/>
<path d="M329.9 203.7 Q356.1 209.0 382.4 194.5" stroke="#121212" stroke-width="2.7" fill="none" opacity="0.22"/>
<path d="M323.8 201.6 Q352.7 209.1 381.6 205.1" stroke="#fafafa" stroke-width="6.3" fill="none" opacity="0.32"/>
<path d="M323.8 206.6 Q352.7 214.1 381.6 210.1" stroke="#121212" stroke-width="2.9" fill="none" opacity="0.31"/>
<path d="M324.1 208.4 Q351.5 217.9 378.8 217.8" stroke="#fafafa" stroke-width="5.5" fill="none" opacity="0.15"/>
<path d="M324.1 213.4 Q351.5 222.9 378.8 222.8" stroke="#121212" stroke-width="2.7" fill="none" opacity="0.27"/>
<path d="M324.5 220.5 Q352.1 235.8 379.8 228.8" stroke="#fafafa" stroke-width="3.0" fill="none" opacity="0.40"/>
<path d="M324.5 225.5 Q352.1 240.8 379.8 233.8" stroke="#121212" stroke-width="2.3" fill="none" opacity="0.53"/>
<path d="M329.4 240.4 Q355.3 246.6 381.2 231.9" stroke="#fafafa" stroke-width="3.2" fill="none" opacity="0.28"/>
<path d="M329.4 245.4 Q355.3 251.6 381.2 236.9" stroke="#121212" stroke-width="1.9" fill="none" opacity="0.36"/>
<path d="M335.4 242.1 Q356.1 255.8 376.9 248.3" stroke="#fafafa" stroke-width="4.6" fill="none" opacity="0.13"/>
<path d="M335.4 247.1 Q356.1 260.8 376.9 253.3" stroke="#121212" stroke-width="2.5" fill="none" opacity="0.28"/>
<path d="M323.1 257.8 Q352.4 264.7 381.8 254.9" stroke="#fafafa" stroke-width="3.3" fill="none" opacity="0.35"/>
<path d="M323.1 262.8 Q352.4 269.7 381.8 259.9" stroke="#121212" stroke-width="2.8" fill="none" opacity="0.54"/>
<path d="M330.8 269.4 Q354.1 276.0 377.4 262.3" stroke="#fafafa" stroke-width="5.1" fill="none" opacity="0.44"/>
<path d="M330.8 274.4 Q354.1 281.0 377.4 267.3" stroke="#121212" stroke-width="2.7" fill="none" opacity="0.20"/>
<path d="M325.9 275.0 Q352.6 284.0 379.4 275.4" stroke="#fafafa" stroke-width="4.6" fill="none" opacity="0.23"/>
<path d="M325.9 280.0 Q352.6 289.0 379.4 280.4" stroke="#121212" stroke-width="2.4" fill="none" opacity="0.46"/>
<path d="M328.8 285.4 Q356.5 300.1 384.2 292.2" stroke="#fafafa" stroke-width="5.5" fill="none" opacity="0.09"/>
<path d="M328.8 290.4 Q356.5 305.1 384.2 297.2" stroke="#121212" stroke-width="2.5" fill="none" opacity="0.54"/>
<path d="M335.3 300.6 Q357.5 311.5 379.7 299.4" stroke="#fafafa" stroke-width="5.5" fill="none" opacity="0.17"/>
<path d="M335.3 305.6 Q357.5 316.5 379.7 304.4" stroke="#121212" stroke-width="2.0" fill="none" opacity="0.34"/>
<path d="M328.3 309.1 Q352.9 322.4 377.4 312.1" stroke="#fafafa" stroke-width="6.3" fill="none" opacity="0.36"/>
<path d="M328.3 314.1 Q352.9 327.4 377.4 317.1" stroke="#121212" stroke-width="2.8" fill="none" opacity="0.60"/>
<path d="M331.3 328.2 Q354.1 330.7 376.9 318.6" stroke="#fafafa" stroke-width="3.8" fill="none" opacity="0.41"/>
<path d="M331.3 333.2 Q354.1 335.7 376.9 323.6" stroke="#121212" stroke-width="2.9" fill="none" opacity="0.33"/>
<path d="M328.6 335.9 Q357.2 346.6 385.8 336.5" stroke="#fafafa" stroke-width="3.4" fill="none" opacity="0.39"/>
<path d="M328.6 340.9 Q357.2 351.6 385.8 341.5" stroke="#121212" stroke-width="2.0" fill="none" opacity="0.45"/>
<path d="M326.6 346.7 Q355.9 352.3 385.1 347.4" stroke="#fafafa" stroke-width="5.3" fill="none" opacity="0.28"/>
<path d="M326.6 351.7 Q355.9 357.3 385.1 352.4" stroke="#121212" stroke-width="2.9" fill="none" opacity="0.36"/>
<path d="M327.7 363.5 Q356.9 365.3 386.2 357.7" stroke="#fafafa" stroke-width="4.0" fill="none" opacity="0.42"/>
<path d="M327.7 368.5 Q356.9 370.3 386.2 362.7" stroke="#121212" stroke-width="1.5" fill="none" opacity="0.30"/>
<path d="M336.7 371.3 Q358.9 380.7 381.0 375.1" stroke="#fafafa" stroke-width="5.4" fill="none" opacity="0.36"/>
<path d="M336.7 376.3 Q358.9 385.7 381.0 380.1" stroke="#121212" stroke-width="2.6" fill="none" opacity="0.30"/>
<path d="M326.4 385.9 Q353.2 389.2 380.0 381.1" stroke="#fafafa" stroke-width="6.4" fill="none" opacity="0.32"/>
<path d="M326.4 390.9 Q353.2 394.2 380.0 386.1" stroke="#121212" stroke-width="2.4" fill="none" opacity="0.46"/>
<path d="M334.0 399.8 Q357.3 400.0 380.6 391.1" stroke="#fafafa" stroke-width="3.1" fill="none" opacity="0.21"/>
<path d="M334.0 404.8 Q357.3 405.0 380.6 396.1" stroke="#121212" stroke-width="1.7" fill="none" opacity="0.25"/>
<path d="M332.3 404.2 Q359.1 413.1 385.8 409.6" stroke="#fafafa" stroke-width="3.6" fill="none" opacity="0.12"/>
<path d="M332.3 409.2 Q359.1 418.1 385.8 414.6" stroke="#121212" stroke-width="2.0" fill="none" opacity="0.36"/>
<path d="M328.9 415.1 Q356.0 424.1 383.2 423.7" stroke="#fafafa" stroke-width="4.2" fill="none" opacity="0.39"/>
<path d="M328.9 420.1 Q356.0 429.1 383.2 428.7" stroke="#121212" stroke-width="1.5" fill="none" opacity="0.53"/>
<path d="M330.8 431.7 Q358.6 438.9 386.4 427.3" stroke="#fafafa" stroke-width="3.0" fill="none" opacity="0.15"/>
<path d="M330.8 436.7 Q358.6 443.9 386.4 432.3" stroke="#121212" stroke-width="2.9" fill="none" opacity="0.26"/>
<path d="M330.6 445.4 Q357.1 447.3 383.6 438.3" stroke="#fafafa" stroke-width="3.3" fill="none" opacity="0.44"/>
<path d="M330.6 450.4 Q357.1 452.3 383.6 443.3" stroke="#121212" stroke-width="2.1" fill="none" opacity="0.46"/>
<path d="M333.9 450.1 Q355.0 457.8 376.2 457.2" stroke="#fafafa" stroke-width="3.5" fill="none" opacity="0.44"/>
<path d="M333.9 455.1 Q355.0 462.8 376.2 462.2" stroke="#121212" stroke-width="2.0" fill="none" opacity="0.49"/>
<path d="M335.7 463.1 Q358.5 470.3 381.3 463.6" stroke="#fafafa" stroke-width="3.4" fill="none" opacity="0.17"/>
<path d="M335.7 468.1 Q358.5 475.3 381.3 468.6" stroke="#121212" stroke-width="2.7" fill="none" opacity="0.31"/>
<path d="M366.3 69.6 Q382.6 77.9 398.9 72.4" stroke="#fafafa" stroke-width="4.7" fill="none" opacity="0.40"/>
<path d="M366.3 74.6 Q382.6 82.9 398.9 77.4" stroke="#121212" stroke-width="1.6" fill="none" opacity="0.16"/>
<path d="M367.8 88.0 Q382.0 91.7 396.1 80.3" stroke="#fafafa" stroke-width="4.6" fill="none" opacity="0.34"/>
<path d="M367.8 93.0 Q382.0 96.7 396.1 85.3" stroke="#121212" stroke-width="1.6" fill="none" opacity="0.11"/>
<path d="M365.6 99.4 Q380.9 103.1 396.3 91.8" stroke="#fafafa" stroke-width="3.2" fill="none" opacity="0.21"/>
<path d="M365.6 104.4 Q380.9 108.1 396.3 96.8" stroke="#121212" stroke-width="2.2" fill="none" opacity="0.37"/>
<path d="M364.3 106.7 Q379.7 117.3 395.0 108.0" stroke="#fafafa" stroke-width="6.0" fill="none" opacity="0.44"/>
<path d="M364.3 111.7 Q379.7 122.3 395.0 113.0" stroke="#121212" stroke-width="2.8" fill="none" opacity="0.20"/>
<path d="M366.2 117.4 Q381.6 126.4 397.0 124.7" stroke="#fafafa" stroke-width="3.7" fill="none" opacity="0.11"/>
<path d="M366.2 122.4 Q381.6 131.4 397.0 129.7" stroke="#121212" stroke-width="1.9" fill="none" opacity="0.57"/>
<path d="M367.8 134.2 Q382.2 140.0 396.6 130.6" stroke="#fafafa" stroke-width="3.7" fill="none" opacity="0.33"/>
<path d="M367.8 139.2 Q382.2 145.0 396.6 135.6" stroke="#121212" stroke-width="2.0" fill="none" opacity="0.25"/>
<path d="M364.8 144.8 Q379.9 150.4 395.0 147.8" stroke="#fafafa" stroke-width="4.8" fill="none" opacity="0.09"/>
<path d="M364.8 149.8 Q379.9 155.4 395.0 152.8" stroke="#121212" stroke-width="2.2" fill="none" opacity="0.50"/>
<path d="M360.7 156.5 Q377.8 166.8 394.8 159.5" stroke="#fafafa" stroke-width="3.5" fill="none" opacity="0.38"/>
<path d="M360.7 161.5 Q377.8 171.8 394.8 164.5" stroke="#121212" stroke-width="2.9" fill="none" opacity="0.50"/>
<path d="M358.3 174.0 Q377.8 176.7 397.3 168.5" stroke="#fafafa" stroke-width="5.1" fill="none" opacity="0.41"/>
<path d="M358.3 179.0 Q377.8 181.7 397.3 173.5" stroke="#121212" stroke-width="1.6" fill="none" opacity="0.29"/>
<path d="M362.9 178.0 Q377.7 186.0 392.5 182.9" stroke="#fafafa" stroke-width="5.0" fill="none" opacity="0.43"/>
<path d="M362.9 183.0 Q377.7 191.0 392.5 187.9" stroke="#121212" stroke-width="2.1" fill="none" opacity="0.47"/>
<path d="M364.9 189.4 Q380.3 197.3 395.7 189.6" stroke="#fafafa" stroke-width="6.3" fill="none" opacity="0.26"/>
<path d="M364.9 194.4 Q380.3 202.3 395.7 194.6" stroke="#121212" stroke-width="3.0" fill="none" opacity="0.45"/>
<path d="M363.8 200.0 Q379.0 211.6 394.2 199.2" stroke="#fafafa" stroke-width="3.8" fill="none" opacity="0.44"/>
<path d="M363.8 205.0 Q379.0 216.6 394.2 204.2" stroke="#121212" stroke-width="2.0" fill="none" opacity="0.36"/>
<path d="M363.3 213.7 Q377.4 217.3 391.5 206.9" stroke="#fafafa" stroke-width="5.9" fill="none" opacity="0.08"/>
<path d="M363.3 218.7 Q377.4 222.3 391.5 211.9" stroke="#121212" stroke-width="2.4" fill="none" opacity="0.30"/>
<path d="M357.8 224.2 Q376.1 226.7 394.4 219.0" stroke="#fafafa" stroke-width="3.4" fill="none" opacity="0.44"/>
<path d="M357.8 229.2 Q376.1 231.7 394.4 224.0" stroke="#121212" stroke-width="1.7" fill="none" opacity="0.25"/>
<path d="M356.2 235.8 Q375.6 237.6 395.0 230.5" stroke="#fafafa" stroke-width="3.6" fill="none" opacity="0.30"/>
<path d="M356.2 240.8 Q375.6 242.6 395.0 235.5" stroke="#121212" stroke-width="2.2" fill="none" opacity="0.36"/>
<path d="M356.1 248.9 Q375.3 258.3 394.5 244.3" stroke="#fafafa" stroke-width="6.3" fill="none" opacity="0.23"/>
<path d="M356.1 253.9 Q375.3 263.3 394.5 249.3" stroke="#121212" stroke-width="1.6" fill="none" opacity="0.57"/>
<path d="M355.2 251.5 Q370.9 262.5 386.6 260.8" stroke="#fafafa" stroke-width="6.0" fill="none" opacity="0.24"/>
<path d="M355.2 256.5 Q370.9 267.5 386.6 265.8" stroke="#121212" stroke-width="2.3" fill="none" opacity="0.54"/>
<path d="M356.9 271.8 Q374.0 274.1 391.1 266.6" stroke="#fafafa" stroke-width="5.3" fill="none" opacity="0.30"/>
<path d="M356.9 276.8 Q374.0 279.1 391.1 271.6" stroke="#121212" stroke-width="2.7" fill="none" opacity="0.56"/>
<path d="M356.0 282.3 Q370.4 294.2 384.9 283.7" stroke="#fafafa" stroke-width="3.6" fill="none" opacity="0.34"/>
<path d="M356.0 287.3 Q370.4 299.2 384.9 288.7" stroke="#121212" stroke-width="1.9" fill="none" opacity="0.29"/>
<path d="M353.7 291.4 Q371.8 298.4 389.9 296.2" stroke="#fafafa" stroke-width="5.2" fill="none" opacity="0.25"/>
<path d="M353.7 296.4 Q371.8 303.4 389.9 301.2" stroke="#121212" stroke-width="2.5" fill="none" opacity="0.52"/>
<path d="M352.9 301.4 Q371.0 312.6 389.1 304.4" stroke="#fafafa" stroke-width="3.6" fill="none" opacity="0.43"/>
<path d="M352.9 306.4 Q371.0 317.6 389.1 309.4" stroke="#121212" stroke-width="2.7" fill="none" opacity="0.29"/>
<path d="M358.0 309.4 Q373.3 321.3 388.5 318.7" stroke="#fafafa" stroke-width="6.2" fill="none" opacity="0.17"/>
<path d="M358.0 314.4 Q373.3 326.3 388.5 323.7" stroke="#121212" stroke-width="2.6" fill="none" opacity="0.34"/>
<path d="M356.7 329.2 Q371.4 332.1 386.2 323.5" stroke="#fafafa" stroke-width="3.9" fill="none" opacity="0.09"/>
<path d="M356.7 334.2 Q371.4 337.1 386.2 328.5" stroke="#121212" stroke-width="1.7" fill="none" opacity="0.36"/>
<path d="M349.1 336.7 Q366.6 349.0 384.2 338.2" stroke="#fafafa" stroke-width="4.2" fill="none" opacity="0.34"/>
<path d="M349.1 341.7 Q366.6 354.0 384.2 343.2" stroke="#121212" stroke-width="2.2" fill="none" opacity="0.27"/>
<path d="M347.5 350.2 Q365.6 354.2 383.7 347.6" stroke="#fafafa" stroke-width="6.4" fill="none" opacity="0.36"/>
<path d="M347.5 355.2 Q365.6 359.2 383.7 352.6" stroke="#121212" stroke-width="2.8" fill="none" opacity="0.46"/>
<path d="M349.2 358.4 Q369.1 366.6 388.9 363.7" stroke="#fafafa" stroke-width="4.1" fill="none" opacity="0.17"/>
<path d="M349.2 363.4 Q369.1 371.6 388.9 368.7" stroke="#121212" stroke-width="2.7" fill="none" opacity="0.44"/>
<path d="M351.8 379.1 Q369.3 379.9 386.9 369.4" stroke="#fafafa" stroke-width="4.9" fill="none" opacity="0.35"/>
<path d="M351.8 384.1 Q369.3 384.9 386.9 374.4" stroke="#121212" stroke-width="1.9" fill="none" opacity="0.23"/>
<path d="M346.4 386.0 Q364.6 387.3 382.8 380.6" stroke="#fafafa" stroke-width="3.9" fill="none" opacity="0.34"/>
<path d="M346.4 391.0 Q364.6 392.3 382.8 385.6" stroke="#121212" stroke-width="3.0" fill="none" opacity="0.21"/>
<path d="M348.7 394.5 Q368.6 398.1 388.5 391.2" stroke="#fafafa" stroke-width="4.8" fill="none" opacity="0.20"/>
<path d="M348.7 399.5 Q368.6 403.1 388.5 396.2" stroke="#121212" stroke-width="2.1" fill="none" opacity="0.39"/>
<path d="M348.3 407.3 Q362.8 408.5 377.3 399.1" stroke="#fafafa" stroke-width="5.2" fill="none" opacity="0.34"/>
<path d="M348.3 412.3 Q362.8 413.5 377.3 404.1" stroke="#121212" stroke-width="1.9" fill="none" opacity="0.52"/>
<path d="M346.8 411.5 Q363.8 421.3 380.8 420.1" stroke="#fafafa" stroke-width="5.0" fill="none" opacity="0.10"/>
<path d="M346.8 416.5 Q363.8 426.3 380.8 425.1" stroke="#121212" stroke-width="1.7" fill="none" opacity="0.48"/>
<path d="M350.0 423.7 Q365.4 437.1 380.8 429.8" stroke="#fafafa" stroke-width="3.3" fill="none" opacity="0.30"/>
<path d="M350.0 428.7 Q365.4 442.1 380.8 434.8" stroke="#121212" stroke-width="1.8" fill="none" opacity="0.48"/>
<path d="M349.7 438.1 Q365.1 444.5 380.5 441.4" stroke="#fafafa" stroke-width="5.0" fill="none" opacity="0.13"/>
<path d="M349.7 443.1 Q365.1 449.5 380.5 446.4" stroke="#121212" stroke-width="1.8" fill="none" opacity="0.43"/>
<path d="M348.2 450.1 Q363.6 455.4 379.1 448.5" stroke="#fafafa" stroke-width="4.9" fill="none" opacity="0.35"/>
<path d="M348.2 455.1 Q363.6 460.4 379.1 453.5" stroke="#121212" stroke-width="1.5" fill="none" opacity="0.49"/>
<path d="M343.1 458.3 Q361.0 468.9 378.9 460.6" stroke="#fafafa" stroke-width="6.2" fill="none" opacity="0.16"/>
<path d="M343.1 463.3 Q361.0 473.9 378.9 465.6" stroke="#121212" stroke-width="2.0" fill="none" opacity="0.47"/>
<path d="M344.3 466.4 Q359.6 479.9 375.0 473.0" stroke="#fafafa" stroke-width="5.5" fill="none" opacity="0.43"/>
<path d="M344.3 471.4 Q359.6 484.9 375.0 478.0" stroke="#121212" stroke-width="2.7" fill="none" opacity="0.32"/>
<path d="M348.1 484.4 Q362.4 489.2 376.7 476.2" stroke="#fafafa" stroke-width="3.2" fill="none" opacity="0.27"/>
<path d="M348.1 489.4 Q362.4 494.2 376.7 481.2" stroke="#121212" stroke-width="1.7" fill="none" opacity="0.57"/>
<line x1="401.4" y1="93.0" x2="378.6" y2="479.4" stroke="#1a1a1a" stroke-width="3.8" opacity="0.18"/>
<path d="M382.6 63.2 Q404.2 74.2 425.9 68.8" stroke="#fafafa" stroke-width="3.4" fill="none" opacity="0.11"/>
<path d="M382.6 68.2 Q404.2 79.2 425.9 73.8" stroke="#121212" stroke-width="2.1" fill="none" opacity="0.14"/>
<path d="M387.8 76.5 Q405.9 82.8 423.9 76.0" stroke="#fafafa" stroke-width="5.5" fill="none" opacity="0.37"/>
<path d="M387.8 81.5 Q405.9 87.8 423.9 81.0" stroke="#121212" stroke-width="2.1" fill="none" opacity="0.13"/>
<path d="M386.3 90.3 Q407.2 94.7 428.2 89.5" stroke="#fafafa" stroke-width="5.2" fill="none" opacity="0.18"/>
<path d="M386.3 95.3 Q407.2 99.7 428.2 94.5" stroke="#121212" stroke-width="1.6" fill="none" opacity="0.32"/>
<path d="M382.4 105.4 Q402.2 112.4 422.0 101.4" stroke="#fafafa" stroke-width="3.2" fill="none" opacity="0.36"/>
<path d="M382.4 110.4 Q402.2 117.4 422.0 106.4" stroke="#121212" stroke-width="2.7" fill="none" opacity="0.29"/>
<path d="M386.5 117.4 Q403.6 124.6 420.7 108.4" stroke="#fafafa" stroke-width="4.0" fill="none" opacity="0.36"/>
<path d="M386.5 122.4 Q403.6 129.6 420.7 113.4" stroke="#121212" stroke-width="1.7" fill="none" opacity="0.23"/>
<path d="M381.8 125.5 Q402.1 132.9 422.4 118.9" stroke="#fafafa" stroke-width="3.6" fill="none" opacity="0.36"/>
<path d="M381.8 130.5 Q402.1 137.9 422.4 123.9" stroke="#121212" stroke-width="2.1" fill="none" opacity="0.34"/>
<path d="M378.9 134.3 Q402.4 136.8 425.8 129.4" stroke="#fafafa" stroke-width="5.6" fill="none" opacity="0.41"/>
<path d="M378.9 139.3 Q402.4 141.8 425.8 134.4" stroke="#121212" stroke-width="2.9" fill="none" opacity="0.39"/>
<path d="M385.8 143.5 Q404.3 153.4 422.8 147.8" stroke="#fafafa" stroke-width="5.6" fill="none" opacity="0.13"/>
<path d="M385.8 148.5 Q404.3 158.4 422.8 152.8" stroke="#121212" stroke-width="1.8" fill="none" opacity="0.58"/>
<path d="M386.5 157.6 Q405.4 161.1 424.3 152.7" stroke="#fafafa" stroke-width="4.6" fill="none" opacity="0.45"/>
<path d="M386.5 162.6 Q405.4 166.1 424.3 157.7" stroke="#121212" stroke-width="1.7" fill="none" opacity="0.54"/>
<path d="M379.5 168.9 Q401.4 172.5 423.2 162.6" stroke="#fafafa" stroke-width="4.5" fill="none" opacity="0.38"/>
<path d="M379.5 173.9 Q401.4 177.5 423.2 167.6" stroke="#121212" stroke-width="2.8" fill="none" opacity="0.43"/>
<path d="M383.9 170.3 Q404.7 186.0 425.6 179.3" stroke="#fafafa" stroke-width="4.1" fill="none" opacity="0.39"/>
<path d="M383.9 175.3 Q404.7 191.0 425.6 184.3" stroke="#121212" stroke-width="2.7" fill="none" opacity="0.31"/>
<path d="M383.2 189.5 Q402.2 192.7 421.2 181.8" stroke="#fafafa" stroke-width="3.8" fill="none" opacity="0.42"/>
<path d="M383.2 194.5 Q402.2 197.7 421.2 186.8" stroke="#121212" stroke-width="2.1" fill="none" opacity="0.45"/>
<path d="M386.1 196.0 Q404.3 210.4 422.5 202.1" stroke="#fafafa" stroke-width="6.5" fill="none" opacity="0.35"/>
<path d="M386.1 201.0 Q404.3 215.4 422.5 207.1" stroke="#121212" stroke-width="2.6" fill="none" opacity="0.53"/>
<path d="M384.3 213.0 Q403.5 220.1 422.7 205.7" stroke="#fafafa" stroke-width="4.9" fill="none" opacity="0.20"/>
<path d="M384.3 218.0 Q403.5 225.1 422.7 210.7" stroke="#121212" stroke-width="2.7" fill="none" opacity="0.34"/>
<path d="M381.6 218.2 Q404.4 227.7 427.2 227.0" stroke="#fafafa" stroke-width="5.6" fill="none" opacity="0.33"/>
<path d="M381.6 223.2 Q404.4 232.7 427.2 232.0" stroke="#121212" stroke-width="2.5" fill="none" opacity="0.22"/>
<path d="M382.6 233.1 Q402.4 242.6 422.1 238.8" stroke="#fafafa" stroke-width="5.7" fill="none" opacity="0.40"/>
<path d="M382.6 238.1 Q402.4 247.6 422.1 243.8" stroke="#121212" stroke-width="1.8" fill="none" opacity="0.34"/>
<path d="M380.7 243.2 Q399.5 250.4 418.3 249.1" stroke="#fafafa" stroke-width="3.8" fill="none" opacity="0.11"/>
<path d="M380.7 248.2 Q399.5 255.4 418.3 254.1" stroke="#121212" stroke-width="1.6" fill="none" opacity="0.50"/>
<path d="M382.2 251.6 Q401.5 266.6 420.9 260.7" stroke="#fafafa" stroke-width="4.1" fill="none" opacity="0.31"/>
<path d="M382.2 256.6 Q401.5 271.6 420.9 265.7" stroke="#121212" stroke-width="2.8" fill="none" opacity="0.39"/>
<path d="M384.2 268.9 Q402.9 280.7 421.6 270.4" stroke="#fafafa" stroke-width="3.4" fill="none" opacity="0.30"/>
<path d="M384.2 273.9 Q402.9 285.7 421.6 275.4" stroke="#121212" stroke-width="2.7" fill="none" opacity="0.41"/>
<path d="M378.0 284.0 Q400.8 290.4 423.6 278.2" stroke="#fafafa" stroke-width="4.3" fill="none" opacity="0.21"/>
<path d="M378.0 289.0 Q400.8 295.4 423.6 283.2" stroke="#121212" stroke-width="2.9" fill="none" opacity="0.48"/>
<path d="M386.9 291.4 Q403.6 299.4 420.3 290.0" stroke="#fafafa" stroke-width="5.5" fill="none" opacity="0.24"/>
<path d="M386.9 296.4 Q403.6 304.4 420.3 295.0" stroke="#121212" stroke-width="1.6" fill="none" opacity="0.41"/>
<path d="M383.6 301.4 Q402.6 309.6 421.7 306.3" stroke="#fafafa" stroke-width="5.8" fill="none" opacity="0.16"/>
<path d="M383.6 306.4 Q402.6 314.6 421.7 311.3" stroke="#121212" stroke-width="2.8" fill="none" opacity="0.60"/>
<path d="M378.4 318.0 Q400.0 326.4 421.6 312.0" stroke="#fafafa" stroke-width="4.1" fill="none" opacity="0.20"/>
<path d="M378.4 323.0 Q400.0 331.4 421.6 317.0" stroke="#121212" stroke-width="2.6" fill="none" opacity="0.27"/>
<path d="M379.2 322.1 Q400.5 331.9 421.8 331.3" stroke="#fafafa" stroke-width="6.5" fill="none" opacity="0.29"/>
<path d="M379.2 327.1 Q400.5 336.9 421.8 336.3" stroke="#121212" stroke-width="2.7" fill="none" opacity="0.27"/>
<path d="M378.7 341.6 Q400.6 351.2 422.5 338.9" stroke="#fafafa" stroke-width="6.2" fill="none" opacity="0.16"/>
<path d="M378.7 346.6 Q400.6 356.2 422.5 343.9" stroke="#121212" stroke-width="1.5" fill="none" opacity="0.40"/>
<path d="M379.1 349.4 Q402.4 361.8 425.8 358.1" stroke="#fafafa" stroke-width="5.0" fill="none" opacity="0.13"/>
<path d="M379.1 354.4 Q402.4 366.8 425.8 363.1" stroke="#121212" stroke-width="2.4" fill="none" opacity="0.52"/>
<path d="M382.1 365.7 Q400.5 371.1 418.8 364.1" stroke="#fafafa" stroke-width="4.8" fill="none" opacity="0.25"/>
<path d="M382.1 370.7 Q400.5 376.1 418.8 369.1" stroke="#121212" stroke-width="1.6" fill="none" opacity="0.20"/>
<path d="M379.1 378.0 Q401.0 381.5 422.8 373.1" stroke="#fafafa" stroke-width="4.8" fill="none" opacity="0.14"/>
<path d="M379.1 383.0 Q401.0 386.5 422.8 378.1" stroke="#121212" stroke-width="2.4" fill="none" opacity="0.56"/>
<path d="M378.3 383.5 Q400.0 395.6 421.6 387.7" stroke="#fafafa" stroke-width="5.5" fill="none" opacity="0.18"/>
<path d="M378.3 388.5 Q400.0 400.6 421.6 392.7" stroke="#121212" stroke-width="2.8" fill="none" opacity="0.57"/>
<path d="M382.3 399.2 Q402.0 399.5 421.6 390.5" stroke="#fafafa" stroke-width="5.8" fill="none" opacity="0.33"/>
<path d="M382.3 404.2 Q402.0 404.5 421.6 395.5" stroke="#121212" stroke-width="1.7" fill="none" opacity="0.38"/>
<path d="M383.2 409.6 Q402.1 417.2 421.0 404.5" stroke="#fafafa" stroke-width="3.7" fill="none" opacity="0.14"/>
<path d="M383.2 414.6 Q402.1 422.2 421.0 409.5" stroke="#121212" stroke-width="2.1" fill="none" opacity="0.45"/>
<path d="M378.9 420.6 Q396.9 422.2 414.9 414.5" stroke="#fafafa" stroke-width="4.1" fill="none" opacity="0.27"/>
<path d="M378.9 425.6 Q396.9 427.2 414.9 419.5" stroke="#121212" stroke-width="1.8" fill="none" opacity="0.39"/>
<path d="M381.6 429.0 Q401.6 440.3 421.5 428.5" stroke="#fafafa" stroke-width="3.7" fill="none" opacity="0.30"/>
<path d="M381.6 434.0 Q401.6 445.3 421.5 433.5" stroke="#121212" stroke-width="1.7" fill="none" opacity="0.27"/>
<path d="M376.4 439.6 Q399.8 445.3 423.2 436.7" stroke="#fafafa" stroke-width="4.5" fill="none" opacity="0.21"/>
<path d="M376.4 444.6 Q399.8 450.3 423.2 441.7" stroke="#121212" stroke-width="2.5" fill="none" opacity="0.36"/>
<path d="M380.0 444.4 Q400.6 451.9 421.2 451.4" stroke="#fafafa" stroke-width="5.5" fill="none" opacity="0.21"/>
<path d="M380.0 449.4 Q400.6 456.9 421.2 456.4" stroke="#121212" stroke-width="2.4" fill="none" opacity="0.57"/>
<path d="M379.2 457.3 Q397.8 467.3 416.4 460.5" stroke="#fafafa" stroke-width="5.6" fill="none" opacity="0.43"/>
<path d="M379.2 462.3 Q397.8 472.3 416.4 465.5" stroke="#121212" stroke-width="1.7" fill="none" opacity="0.35"/>
<path d="M379.0 473.7 Q399.7 481.6 420.4 470.6" stroke="#fafafa" stroke-width="6.3" fill="none" opacity="0.28"/>
<path d="M379.0 478.7 Q399.7 486.6 420.4 475.6" stroke="#121212" stroke-width="2.1" fill="none" opacity="0.27"/>
<path d="M378.0 483.5 Q400.2 485.9 422.4 480.0" stroke="#fafafa" stroke-width="4.7" fill="none" opacity="0.26"/>
<path d="M378.0 488.5 Q400.2 490.9 422.4 485.0" stroke="#121212" stroke-width="2.0" fill="none" opacity="0.56"/>
<path d="M374.7 492.7 Q397.8 501.6 421.0 492.2" stroke="#fafafa" stroke-width="4.2" fill="none" opacity="0.22"/>
<path d="M374.7 497.7 Q397.8 506.6 421.0 497.2" stroke="#121212" stroke-width="2.4" fill="none" opacity="0.51"/>
<line x1="425.4" y1="93.0" x2="418.2" y2="489.9" stroke="#1a1a1a" stroke-width="4.6" opacity="0.24"/>
<path d="M405.4 74.4 Q428.3 81.6 451.2 67.6" stroke="#fafafa" stroke-width="5.4" fill="none" opacity="0.09"/>
<path d="M405.4 79.4 Q428.3 86.6 451.2 72.6" stroke="#121212" stroke-width="1.8" fill="none" opacity="0.08"/>
<path d="M405.3 86.4 Q427.3 88.5 449.4 81.7" stroke="#fafafa" stroke-width="5.6" fill="none" opacity="0.35"/>
<path d="M405.3 91.4 Q427.3 93.5 449.4 86.7" stroke="#121212" stroke-width="2.9" fill="none" opacity="0.26"/>
<path d="M411.0 96.4 Q431.8 107.2 452.6 95.1" stroke="#fafafa" stroke-width="3.7" fill="none" opacity="0.36"/>
<path d="M411.0 101.4 Q431.8 112.2 452.6 100.1" stroke="#121212" stroke-width="2.8" fill="none" opacity="0.23"/>
<path d="M404.7 100.5 Q431.4 114.0 458.0 110.0" stroke="#fafafa" stroke-width="3.1" fill="none" opacity="0.10"/>
<path d="M404.7 105.5 Q431.4 119.0 458.0 115.0" stroke="#121212" stroke-width="1.7" fill="none" opacity="0.17"/>
<path d="M408.7 121.0 Q429.7 123.1 450.7 114.6" stroke="#fafafa" stroke-width="5.1" fill="none" opacity="0.33"/>
<path d="M408.7 126.0 Q429.7 128.1 450.7 119.6" stroke="#121212" stroke-width="3.0" fill="none" opacity="0.34"/>
<path d="M404.9 134.4 Q428.3 137.7 451.8 129.0" stroke="#fafafa" stroke-width="6.4" fill="none" opacity="0.45"/>
<path d="M404.9 139.4 Q428.3 142.7 451.8 134.0" stroke="#121212" stroke-width="2.6" fill="none" opacity="0.27"/>
<path d="M403.4 146.0 Q426.5 151.5 449.6 137.2" stroke="#fafafa" stroke-width="4.9" fill="none" opacity="0.33"/>
<path d="M403.4 151.0 Q426.5 156.5 449.6 142.2" stroke="#121212" stroke-width="1.6" fill="none" opacity="0.38"/>
<path d="M404.8 153.5 Q428.8 165.6 452.8 155.5" stroke="#fafafa" stroke-width="4.2" fill="none" opacity="0.23"/>
<path d="M404.8 158.5 Q428.8 170.6 452.8 160.5" stroke="#121212" stroke-width="2.9" fill="none" opacity="0.54"/>
<path d="M407.2 169.3 Q428.5 173.5 449.8 166.9" stroke="#fafafa" stroke-width="5.4" fill="none" opacity="0.08"/>
<path d="M407.2 174.3 Q428.5 178.5 449.8 171.9" stroke="#121212" stroke-width="2.7" fill="none" opacity="0.51"/>
<path d="M398.0 178.0 Q425.0 187.0 452.0 181.4" stroke="#fafafa" stroke-width="5.0" fill="none" opacity="0.35"/>
<path d="M398.0 183.0 Q425.0 192.0 452.0 186.4" stroke="#121212" stroke-width="2.1" fill="none" opacity="0.58"/>
<path d="M404.9 194.7 Q430.3 200.0 455.8 192.2" stroke="#fafafa" stroke-width="3.9" fill="none" opacity="0.41"/>
<path d="M404.9 199.7 Q430.3 205.0 455.8 197.2" stroke="#121212" stroke-width="2.7" fill="none" opacity="0.52"/>
<path d="M404.4 204.0 Q430.5 213.1 456.6 209.1" stroke="#fafafa" stroke-width="3.9" fill="none" opacity="0.31"/>
<path d="M404.4 209.0 Q430.5 218.1 456.6 214.1" stroke="#121212" stroke-width="1.7" fill="none" opacity="0.54"/>
<path d="M397.9 213.7 Q426.0 222.7 454.2 222.3" stroke="#fafafa" stroke-width="5.6" fill="none" opacity="0.14"/>
<path d="M397.9 218.7 Q426.0 227.7 454.2 227.3" stroke="#121212" stroke-width="2.6" fill="none" opacity="0.43"/>
<path d="M403.9 235.7 Q427.7 243.0 451.5 227.4" stroke="#fafafa" stroke-width="5.7" fill="none" opacity="0.12"/>
<path d="M403.9 240.7 Q427.7 248.0 451.5 232.4" stroke="#121212" stroke-width="1.9" fill="none" opacity="0.25"/>
<path d="M400.2 242.6 Q426.6 251.0 453.0 247.2" stroke="#fafafa" stroke-width="5.3" fill="none" opacity="0.12"/>
<path d="M400.2 247.6 Q426.6 256.0 453.0 252.2" stroke="#121212" stroke-width="2.2" fill="none" opacity="0.49"/>
<path d="M405.3 250.8 Q427.8 261.9 450.2 259.2" stroke="#fafafa" stroke-width="6.3" fill="none" opacity="0.45"/>
<path d="M405.3 255.8 Q427.8 266.9 450.2 264.2" stroke="#121212" stroke-width="2.1" fill="none" opacity="0.43"/>
<path d="M404.1 269.0 Q428.2 278.9 452.2 267.0" stroke="#fafafa" stroke-width="6.3" fill="none" opacity="0.25"/>
<path d="M404.1 274.0 Q428.2 283.9 452.2 272.0" stroke="#121212" stroke-width="1.7" fill="none" opacity="0.50"/>
<path d="M407.1 277.3 Q427.6 289.7 448.1 278.2" stroke="#fafafa" stroke-width="5.6" fill="none" opacity="0.13"/>
<path d="M407.1 282.3 Q427.6 294.7 448.1 283.2" stroke="#121212" stroke-width="2.5" fill="none" opacity="0.35"/>
<path d="M407.9 292.1 Q428.2 295.8 448.5 283.9" stroke="#fafafa" stroke-width="6.0" fill="none" opacity="0.41"/>
<path d="M407.9 297.1 Q428.2 300.8 448.5 288.9" stroke="#121212" stroke-width="1.6" fill="none" opacity="0.39"/>
<path d="M401.0 295.0 Q427.5 306.1 453.9 303.7" stroke="#fafafa" stroke-width="3.6" fill="none" opacity="0.13"/>
<path d="M401.0 300.0 Q427.5 311.1 453.9 308.7" stroke="#121212" stroke-width="2.7" fill="none" opacity="0.25"/>
<path d="M403.0 305.0 Q426.0 314.6 449.0 313.6" stroke="#fafafa" stroke-width="4.7" fill="none" opacity="0.37"/>
<path d="M403.0 310.0 Q426.0 319.6 449.0 318.6" stroke="#121212" stroke-width="1.9" fill="none" opacity="0.57"/>
<path d="M402.9 316.7 Q428.3 331.1 453.7 322.1" stroke="#fafafa" stroke-width="5.2" fill="none" opacity="0.28"/>
<path d="M402.9 321.7 Q428.3 336.1 453.7 327.1" stroke="#121212" stroke-width="2.8" fill="none" opacity="0.38"/>
<path d="M401.1 326.4 Q428.2 338.3 455.3 331.3" stroke="#fafafa" stroke-width="3.8" fill="none" opacity="0.25"/>
<path d="M401.1 331.4 Q428.2 343.3 455.3 336.3" stroke="#121212" stroke-width="2.7" fill="none" opacity="0.58"/>
<path d="M397.4 343.4 Q423.4 350.9 449.5 341.5" stroke="#fafafa" stroke-width="3.6" fill="none" opacity="0.13"/>
<path d="M397.4 348.4 Q423.4 355.9 449.5 346.5" stroke="#121212" stroke-width="2.2" fill="none" opacity="0.40"/>
<path d="M399.6 351.9 Q424.5 362.9 449.4 353.7" stroke="#fafafa" stroke-width="3.6" fill="none" opacity="0.41"/>
<path d="M399.6 356.9 Q424.5 367.9 449.4 358.7" stroke="#121212" stroke-width="2.1" fill="none" opacity="0.58"/>
<path d="M397.8 367.9 Q423.0 378.5 448.1 365.6" stroke="#fafafa" stroke-width="4.9" fill="none" opacity="0.20"/>
<path d="M397.8 372.9 Q423.0 383.5 448.1 370.6" stroke="#121212" stroke-width="1.5" fill="none" opacity="0.28"/>
<path d="M398.1 371.9 Q423.7 384.9 449.2 380.8" stroke="#fafafa" stroke-width="5.4" fill="none" opacity="0.21"/>
<path d="M398.1 376.9 Q423.7 389.9 449.2 385.8" stroke="#121212" stroke-width="2.9" fill="none" opacity="0.45"/>
<path d="M401.1 387.0 Q427.0 394.9 452.9 389.1" stroke="#fafafa" stroke-width="4.1" fill="none" opacity="0.44"/>
<path d="M401.1 392.0 Q427.0 399.9 452.9 394.1" stroke="#121212" stroke-width="1.9" fill="none" opacity="0.59"/>
<path d="M396.8 397.3 Q421.7 403.0 446.6 397.5" stroke="#fafafa" stroke-width="3.4" fill="none" opacity="0.39"/>
<path d="M396.8 402.3 Q421.7 408.0 446.6 402.5" stroke="#121212" stroke-width="2.5" fill="none" opacity="0.47"/>
<path d="M401.4 416.0 Q427.4 420.7 453.4 406.0" stroke="#fafafa" stroke-width="3.2" fill="none" opacity="0.24"/>
<path d="M401.4 421.0 Q427.4 425.7 453.4 411.0" stroke="#121212" stroke-width="3.0" fill="none" opacity="0.33"/>
<path d="M397.6 422.0 Q421.3 434.1 445.0 423.8" stroke="#fafafa" stroke-width="5.9" fill="none" opacity="0.08"/>
<path d="M397.6 427.0 Q421.3 439.1 445.0 428.8" stroke="#121212" stroke-width="1.8" fill="none" opacity="0.27"/>
<path d="M393.5 432.2 Q421.7 442.2 449.9 439.8" stroke="#fafafa" stroke-width="4.8" fill="none" opacity="0.20"/>
<path d="M393.5 437.2 Q421.7 447.2 449.9 444.8" stroke="#121212" stroke-width="2.9" fill="none" opacity="0.36"/>
<path d="M394.0 452.4 Q421.3 460.4 448.6 444.6" stroke="#fafafa" stroke-width="5.6" fill="none" opacity="0.18"/>
<path d="M394.0 457.4 Q421.3 465.4 448.6 449.6" stroke="#121212" stroke-width="1.7" fill="none" opacity="0.35"/>
<path d="M397.6 459.6 Q426.4 472.8 455.1 462.1" stroke="#fafafa" stroke-width="5.3" fill="none" opacity="0.14"/>
<path d="M397.6 464.6 Q426.4 477.8 455.1 467.1" stroke="#121212" stroke-width="2.6" fill="none" opacity="0.42"/>
<path d="M403.6 475.0 Q425.9 476.7 448.2 468.2" stroke="#fafafa" stroke-width="3.5" fill="none" opacity="0.30"/>
<path d="M403.6 480.0 Q425.9 481.7 448.2 473.2" stroke="#121212" stroke-width="2.7" fill="none" opacity="0.26"/>
<path d="M398.8 482.7 Q423.8 490.4 448.7 483.6" stroke="#fafafa" stroke-width="3.1" fill="none" opacity="0.10"/>
<path d="M398.8 487.7 Q423.8 495.4 448.7 488.6" stroke="#121212" stroke-width="2.1" fill="none" opacity="0.29"/>
<path d="M394.3 500.0 Q421.6 501.8 448.8 491.8" stroke="#fafafa" stroke-width="4.7" fill="none" opacity="0.22"/>
<path d="M394.3 505.0 Q421.6 506.8 448.8 496.8" stroke="#121212" stroke-width="2.0" fill="none" opacity="0.51"/>
<path d="M396.6 506.0 Q424.0 513.6 451.4 506.1" stroke="#fafafa" stroke-width="6.2" fill="none" opacity="0.30"/>
<path d="M396.6 511.0 Q424.0 518.6 451.4 511.1" stroke="#121212" stroke-width="1.8" fill="none" opacity="0.23"/>
<line x1="454.6" y1="93.0" x2="448.2" y2="497.5" stroke="#1a1a1a" stroke-width="3.4" opacity="0.31"/>
<path d="M438.0 69.5 Q460.2 72.0 482.4 62.5" stroke="#fafafa" stroke-width="4.1" fill="none" opacity="0.20"/>
<path d="M438.0 74.5 Q460.2 77.0 482.4 67.5" stroke="#121212" stroke-width="2.9" fill="none" opacity="0.17"/>
<path d="M441.6 73.7 Q457.6 82.1 473.7 80.6" stroke="#fafafa" stroke-width="5.3" fill="none" opacity="0.14"/>
<path d="M441.6 78.7 Q457.6 87.1 473.7 85.6" stroke="#121212" stroke-width="2.4" fill="none" opacity="0.08"/>
<path d="M441.7 86.5 Q458.1 98.6 474.6 90.8" stroke="#fafafa" stroke-width="4.8" fill="none" opacity="0.14"/>
<path d="M441.7 91.5 Q458.1 103.6 474.6 95.8" stroke="#121212" stroke-width="2.5" fill="none" opacity="0.20"/>
<path d="M434.2 103.8 Q456.2 105.0 478.1 98.2" stroke="#fafafa" stroke-width="4.4" fill="none" opacity="0.15"/>
<path d="M434.2 108.8 Q456.2 110.0 478.1 103.2" stroke="#121212" stroke-width="1.6" fill="none" opacity="0.35"/>
<path d="M439.5 117.7 Q457.0 124.3 474.6 112.2" stroke="#fafafa" stroke-width="4.4" fill="none" opacity="0.33"/>
<path d="M439.5 122.7 Q457.0 129.3 474.6 117.2" stroke="#121212" stroke-width="2.1" fill="none" opacity="0.25"/>
<path d="M435.3 128.3 Q457.9 135.7 480.4 120.3" stroke="#fafafa" stroke-width="4.8" fill="none" opacity="0.26"/>
<path d="M435.3 133.3 Q457.9 140.7 480.4 125.3" stroke="#121212" stroke-width="1.8" fill="none" opacity="0.47"/>
<path d="M441.2 132.6 Q459.0 147.3 476.7 138.9" stroke="#fafafa" stroke-width="4.7" fill="none" opacity="0.13"/>
<path d="M441.2 137.6 Q459.0 152.3 476.7 143.9" stroke="#121212" stroke-width="2.2" fill="none" opacity="0.25"/>
<path d="M438.1 152.8 Q457.8 160.0 477.5 143.7" stroke="#fafafa" stroke-width="5.5" fill="none" opacity="0.38"/>
<path d="M438.1 157.8 Q457.8 165.0 477.5 148.7" stroke="#121212" stroke-width="1.7" fill="none" opacity="0.33"/>
<path d="M436.0 155.5 Q456.7 164.3 477.4 159.4" stroke="#fafafa" stroke-width="4.3" fill="none" opacity="0.34"/>
<path d="M436.0 160.5 Q456.7 169.3 477.4 164.4" stroke="#121212" stroke-width="1.9" fill="none" opacity="0.59"/>
<path d="M436.4 165.0 Q452.7 178.5 469.1 172.3" stroke="#fafafa" stroke-width="5.2" fill="none" opacity="0.14"/>
<path d="M436.4 170.0 Q452.7 183.5 469.1 177.3" stroke="#121212" stroke-width="2.8" fill="none" opacity="0.49"/>
<path d="M434.2 182.8 Q454.6 182.3 474.9 173.7" stroke="#fafafa" stroke-width="4.2" fill="none" opacity="0.40"/>
<path d="M434.2 187.8 Q454.6 187.3 474.9 178.7" stroke="#121212" stroke-width="3.0" fill="none" opacity="0.33"/>
<path d="M434.7 187.1 Q456.4 200.5 478.1 196.5" stroke="#fafafa" stroke-width="5.3" fill="none" opacity="0.43"/>
<path d="M434.7 192.1 Q456.4 205.5 478.1 201.5" stroke="#121212" stroke-width="2.3" fill="none" opacity="0.28"/>
<path d="M436.1 203.3 Q454.1 210.4 472.1 203.5" stroke="#fafafa" stroke-width="5.1" fill="none" opacity="0.16"/>
<path d="M436.1 208.3 Q454.1 215.4 472.1 208.5" stroke="#121212" stroke-width="1.9" fill="none" opacity="0.40"/>
<path d="M432.9 214.6 Q453.2 220.4 473.5 215.2" stroke="#fafafa" stroke-width="4.0" fill="none" opacity="0.36"/>
<path d="M432.9 219.6 Q453.2 225.4 473.5 220.2" stroke="#121212" stroke-width="2.6" fill="none" opacity="0.51"/>
<path d="M429.6 227.7 Q451.7 234.6 473.8 225.2" stroke="#fafafa" stroke-width="4.0" fill="none" opacity="0.23"/>
<path d="M429.6 232.7 Q451.7 239.6 473.8 230.2" stroke="#121212" stroke-width="2.6" fill="none" opacity="0.53"/>
<path d="M436.9 239.3 Q454.1 245.5 471.3 236.5" stroke="#fafafa" stroke-width="4.1" fill="none" opacity="0.21"/>
<path d="M436.9 244.3 Q454.1 250.5 471.3 241.5" stroke="#121212" stroke-width="2.6" fill="none" opacity="0.49"/>
<path d="M429.6 246.2 Q450.7 257.2 471.8 249.7" stroke="#fafafa" stroke-width="5.2" fill="none" opacity="0.34"/>
<path d="M429.6 251.2 Q450.7 262.2 471.8 254.7" stroke="#121212" stroke-width="1.9" fill="none" opacity="0.22"/>
<path d="M426.7 257.0 Q449.0 266.9 471.4 260.4" stroke="#fafafa" stroke-width="6.4" fill="none" opacity="0.38"/>
<path d="M426.7 262.0 Q449.0 271.9 471.4 265.4" stroke="#121212" stroke-width="1.8" fill="none" opacity="0.33"/>
<path d="M432.4 269.6 Q453.2 276.2 474.0 267.0" stroke="#fafafa" stroke-width="3.9" fill="none" opacity="0.26"/>
<path d="M432.4 274.6 Q453.2 281.2 474.0 272.0" stroke="#121212" stroke-width="2.6" fill="none" opacity="0.56"/>
<path d="M434.3 283.4 Q453.1 288.9 471.8 279.7" stroke="#fafafa" stroke-width="6.4" fill="none" opacity="0.15"/>
<path d="M434.3 288.4 Q453.1 293.9 471.8 284.7" stroke="#121212" stroke-width="1.7" fill="none" opacity="0.31"/>
<path d="M434.4 291.2 Q452.4 306.0 470.4 299.0" stroke="#fafafa" stroke-width="4.5" fill="none" opacity="0.15"/>
<path d="M434.4 296.2 Q452.4 311.0 470.4 304.0" stroke="#121212" stroke-width="2.7" fill="none" opacity="0.35"/>
<path d="M433.5 303.8 Q452.3 311.9 471.0 305.7" stroke="#fafafa" stroke-width="3.9" fill="none" opacity="0.09"/>
<path d="M433.5 308.8 Q452.3 316.9 471.0 310.7" stroke="#121212" stroke-width="2.1" fill="none" opacity="0.35"/>
<path d="M427.7 312.0 Q448.7 320.5 469.7 315.6" stroke="#fafafa" stroke-width="5.2" fill="none" opacity="0.15"/>
<path d="M427.7 317.0 Q448.7 325.5 469.7 320.6" stroke="#121212" stroke-width="1.5" fill="none" opacity="0.47"/>
<path d="M430.6 321.8 Q447.7 336.7 464.8 329.9" stroke="#fafafa" stroke-width="3.8" fill="none" opacity="0.30"/>
<path d="M430.6 326.8 Q447.7 341.7 464.8 334.9" stroke="#121212" stroke-width="2.4" fill="none" opacity="0.33"/>
<path d="M427.3 334.9 Q447.5 343.8 467.7 335.1" stroke="#fafafa" stroke-width="3.4" fill="none" opacity="0.16"/>
<path d="M427.3 339.9 Q447.5 348.8 467.7 340.1" stroke="#121212" stroke-width="2.0" fill="none" opacity="0.37"/>
<path d="M434.0 348.4 Q450.5 357.7 467.0 343.3" stroke="#fafafa" stroke-width="6.0" fill="none" opacity="0.17"/>
<path d="M434.0 353.4 Q450.5 362.7 467.0 348.3" stroke="#121212" stroke-width="2.4" fill="none" opacity="0.35"/>
<path d="M428.2 352.3 Q449.5 361.2 470.8 357.8" stroke="#fafafa" stroke-width="4.7" fill="none" opacity="0.45"/>
<path d="M428.2 357.3 Q449.5 366.2 470.8 362.8" stroke="#121212" stroke-width="1.6" fill="none" opacity="0.35"/>
<path d="M426.9 364.7 Q448.0 375.9 469.1 365.7" stroke="#fafafa" stroke-width="4.4" fill="none" opacity="0.38"/>
<path d="M426.9 369.7 Q448.0 380.9 469.1 370.7" stroke="#121212" stroke-width="1.7" fill="none" opacity="0.30"/>
<path d="M423.8 378.3 Q446.3 382.7 468.9 377.6" stroke="#fafafa" stroke-width="3.7" fill="none" opacity="0.08"/>
<path d="M423.8 383.3 Q446.3 387.7 468.9 382.6" stroke="#121212" stroke-width="1.6" fill="none" opacity="0.24"/>
<path d="M426.6 386.8 Q445.8 395.1 465.1 390.8" stroke="#fafafa" stroke-width="4.8" fill="none" opacity="0.44"/>
<path d="M426.6 391.8 Q445.8 400.1 465.1 395.8" stroke="#121212" stroke-width="1.8" fill="none" opacity="0.40"/>
<path d="M423.3 396.5 Q445.0 405.9 466.6 404.0" stroke="#fafafa" stroke-width="4.3" fill="none" opacity="0.20"/>
<path d="M423.3 401.5 Q445.0 410.9 466.6 409.0" stroke="#121212" stroke-width="2.4" fill="none" opacity="0.43"/>
<path d="M420.5 414.5 Q442.8 417.6 465.1 406.8" stroke="#fafafa" stroke-width="5.3" fill="none" opacity="0.28"/>
<path d="M420.5 419.5 Q442.8 422.6 465.1 411.8" stroke="#121212" stroke-width="2.0" fill="none" opacity="0.33"/>
<path d="M425.2 425.3 Q443.8 435.6 462.4 422.5" stroke="#fafafa" stroke-width="4.4" fill="none" opacity="0.14"/>
<path d="M425.2 430.3 Q443.8 440.6 462.4 427.5" stroke="#121212" stroke-width="2.5" fill="none" opacity="0.47"/>
<path d="M426.3 435.6 Q443.7 445.4 461.0 434.7" stroke="#fafafa" stroke-width="5.9" fill="none" opacity="0.22"/>
<path d="M426.3 440.6 Q443.7 450.4 461.0 439.7" stroke="#121212" stroke-width="2.6" fill="none" opacity="0.21"/>
<path d="M426.2 445.3 Q446.6 454.6 467.0 445.2" stroke="#fafafa" stroke-width="4.7" fill="none" opacity="0.15"/>
<path d="M426.2 450.3 Q446.6 459.6 467.0 450.2" stroke="#121212" stroke-width="1.8" fill="none" opacity="0.46"/>
<path d="M421.7 456.6 Q441.8 462.8 462.0 458.8" stroke="#fafafa" stroke-width="3.6" fill="none" opacity="0.27"/>
<path d="M421.7 461.6 Q441.8 467.8 462.0 463.8" stroke="#121212" stroke-width="2.0" fill="none" opacity="0.42"/>
<path d="M422.8 469.3 Q442.8 472.4 462.7 465.5" stroke="#fafafa" stroke-width="5.4" fill="none" opacity="0.28"/>
<path d="M422.8 474.3 Q442.8 477.4 462.7 470.5" stroke="#121212" stroke-width="2.4" fill="none" opacity="0.51"/>
<path d="M421.9 478.6 Q440.7 489.9 459.5 479.9" stroke="#fafafa" stroke-width="5.6" fill="none" opacity="0.21"/>
<path d="M421.9 483.6 Q440.7 494.9 459.5 484.9" stroke="#121212" stroke-width="2.2" fill="none" opacity="0.59"/>
<path d="M426.2 497.0 Q442.7 501.2 459.2 487.7" stroke="#fafafa" stroke-width="6.3" fill="none" opacity="0.44"/>
<path d="M426.2 502.0 Q442.7 506.2 459.2 492.7" stroke="#121212" stroke-width="2.6" fill="none" opacity="0.31"/>
<path d="M417.9 510.4 Q439.3 513.7 460.7 500.7" stroke="#fafafa" stroke-width="6.1" fill="none" opacity="0.24"/>
<path d="M417.9 515.4 Q439.3 518.7 460.7 505.7" stroke="#121212" stroke-width="2.7" fill="none" opacity="0.48"/>
<path d="M425.8 518.8 Q442.9 528.4 460.0 515.6" stroke="#fafafa" stroke-width="3.1" fill="none" opacity="0.20"/>
<path d="M425.8 523.8 Q442.9 533.4 460.0 520.6" stroke="#121212" stroke-width="1.6" fill="none" opacity="0.23"/>
<line x1="479.3" y1="93.0" x2="460.7" y2="509.1" stroke="#1a1a1a" stroke-width="3.6" opacity="0.22"/>
<path d="M465.4 71.6 Q485.4 82.9 505.4 70.4" stroke="#fafafa" stroke-width="5.8" fill="none" opacity="0.18"/>
<path d="M465.4 76.6 Q485.4 87.9 505.4 75.4" stroke="#121212" stroke-width="2.9" fill="none" opacity="0.18"/>
<path d="M466.7 83.1 Q481.7 95.1 496.8 84.2" stroke="#fafafa" stroke-width="5.1" fill="none" opacity="0.40"/>
<path d="M466.7 88.1 Q481.7 100.1 496.8 89.2" stroke="#121212" stroke-width="1.7" fill="none" opacity="0.21"/>
<path d="M468.1 90.4 Q485.4 100.6 502.8 99.5" stroke="#fafafa" stroke-width="4.0" fill="none" opacity="0.36"/>
<path d="M468.1 95.4 Q485.4 105.6 502.8 104.5" stroke="#121212" stroke-width="2.7" fill="none" opacity="0.19"/>
<path d="M467.6 102.9 Q483.5 113.2 499.3 112.0" stroke="#fafafa" stroke-width="4.3" fill="none" opacity="0.27"/>
<path d="M467.6 107.9 Q483.5 118.2 499.3 117.0" stroke="#121212" stroke-width="2.3" fill="none" opacity="0.18"/>
<path d="M465.9 123.1 Q485.9 127.1 505.9 117.3" stroke="#fafafa" stroke-width="4.2" fill="none" opacity="0.35"/>
<path d="M465.9 128.1 Q485.9 132.1 505.9 122.3" stroke="#121212" stroke-width="2.5" fill="none" opacity="0.36"/>
<path d="M462.5 131.8 Q482.7 139.6 503.0 131.9" stroke="#fafafa" stroke-width="5.8" fill="none" opacity="0.15"/>
<path d="M462.5 136.8 Q482.7 144.6 503.0 136.9" stroke="#121212" stroke-width="2.6" fill="none" opacity="0.34"/>
<path d="M466.6 145.1 Q482.8 154.0 499.0 144.7" stroke="#fafafa" stroke-width="4.3" fill="none" opacity="0.29"/>
<path d="M466.6 150.1 Q482.8 159.0 499.0 149.7" stroke="#121212" stroke-width="1.8" fill="none" opacity="0.37"/>
<path d="M471.2 153.4 Q487.3 164.6 503.3 154.4" stroke="#fafafa" stroke-width="5.1" fill="none" opacity="0.31"/>
<path d="M471.2 158.4 Q487.3 169.6 503.3 159.4" stroke="#121212" stroke-width="1.7" fill="none" opacity="0.51"/>
<path d="M468.6 161.2 Q488.0 173.8 507.4 167.5" stroke="#fafafa" stroke-width="4.5" fill="none" opacity="0.33"/>
<path d="M468.6 166.2 Q488.0 178.8 507.4 172.5" stroke="#121212" stroke-width="2.9" fill="none" opacity="0.28"/>
<path d="M467.9 176.7 Q485.6 179.1 503.2 171.1" stroke="#fafafa" stroke-width="6.0" fill="none" opacity="0.22"/>
<path d="M467.9 181.7 Q485.6 184.1 503.2 176.1" stroke="#121212" stroke-width="1.7" fill="none" opacity="0.27"/>
<path d="M467.1 186.4 Q484.6 194.1 502.1 185.2" stroke="#fafafa" stroke-width="4.8" fill="none" opacity="0.39"/>
<path d="M467.1 191.4 Q484.6 199.1 502.1 190.2" stroke="#121212" stroke-width="1.5" fill="none" opacity="0.57"/>
<path d="M464.7 195.4 Q484.0 204.3 503.3 196.1" stroke="#fafafa" stroke-width="3.8" fill="none" opacity="0.37"/>
<path d="M464.7 200.4 Q484.0 209.3 503.3 201.1" stroke="#121212" stroke-width="2.0" fill="none" opacity="0.49"/>
<path d="M469.0 206.1 Q487.5 212.9 506.1 205.7" stroke="#fafafa" stroke-width="3.2" fill="none" opacity="0.32"/>
<path d="M469.0 211.1 Q487.5 217.9 506.1 210.7" stroke="#121212" stroke-width="2.5" fill="none" opacity="0.26"/>
<path d="M473.7 214.0 Q488.8 228.4 503.9 221.4" stroke="#fafafa" stroke-width="3.2" fill="none" opacity="0.17"/>
<path d="M473.7 219.0 Q488.8 233.4 503.9 226.4" stroke="#121212" stroke-width="1.6" fill="none" opacity="0.30"/>
<path d="M471.6 227.5 Q487.7 233.5 503.7 226.7" stroke="#fafafa" stroke-width="4.3" fill="none" opacity="0.37"/>
<path d="M471.6 232.5 Q487.7 238.5 503.7 231.7" stroke="#121212" stroke-width="2.6" fill="none" opacity="0.25"/>
<path d="M468.5 235.2 Q485.1 242.1 501.6 239.2" stroke="#fafafa" stroke-width="5.7" fill="none" opacity="0.45"/>
<path d="M468.5 240.2 Q485.1 247.1 501.6 244.2" stroke="#121212" stroke-width="1.8" fill="none" opacity="0.21"/>
<path d="M467.5 251.9 Q487.9 257.1 508.2 248.1" stroke="#fafafa" stroke-width="3.3" fill="none" opacity="0.43"/>
<path d="M467.5 256.9 Q487.9 262.1 508.2 253.1" stroke="#121212" stroke-width="2.3" fill="none" opacity="0.38"/>
<path d="M470.7 264.4 Q490.4 269.0 510.1 258.0" stroke="#fafafa" stroke-width="4.4" fill="none" opacity="0.41"/>
<path d="M470.7 269.4 Q490.4 274.0 510.1 263.0" stroke="#121212" stroke-width="2.1" fill="none" opacity="0.46"/>
<path d="M470.8 272.4 Q488.9 278.9 507.0 273.6" stroke="#fafafa" stroke-width="6.0" fill="none" opacity="0.11"/>
<path d="M470.8 277.4 Q488.9 283.9 507.0 278.6" stroke="#121212" stroke-width="2.1" fill="none" opacity="0.55"/>
<path d="M468.2 283.4 Q486.6 295.9 505.0 290.3" stroke="#fafafa" stroke-width="4.6" fill="none" opacity="0.13"/>
<path d="M468.2 288.4 Q486.6 300.9 505.0 295.3" stroke="#121212" stroke-width="2.0" fill="none" opacity="0.49"/>
<path d="M469.6 297.9 Q488.1 308.8 506.7 301.1" stroke="#fafafa" stroke-width="3.1" fill="none" opacity="0.24"/>
<path d="M469.6 302.9 Q488.1 313.8 506.7 306.1" stroke="#121212" stroke-width="2.0" fill="none" opacity="0.44"/>
<path d="M469.3 307.3 Q488.0 316.5 506.7 313.1" stroke="#fafafa" stroke-width="4.1" fill="none" opacity="0.28"/>
<path d="M469.3 312.3 Q488.0 321.5 506.7 318.1" stroke="#121212" stroke-width="2.7" fill="none" opacity="0.25"/>
<path d="M467.7 320.6 Q488.0 327.1 508.4 325.1" stroke="#fafafa" stroke-width="4.3" fill="none" opacity="0.15"/>
<path d="M467.7 325.6 Q488.0 332.1 508.4 330.1" stroke="#121212" stroke-width="2.1" fill="none" opacity="0.40"/>
<path d="M470.9 329.3 Q488.7 340.3 506.5 338.6" stroke="#fafafa" stroke-width="4.3" fill="none" opacity="0.24"/>
<path d="M470.9 334.3 Q488.7 345.3 506.5 343.6" stroke="#121212" stroke-width="1.8" fill="none" opacity="0.59"/>
<path d="M472.4 342.0 Q492.2 351.7 511.9 347.1" stroke="#fafafa" stroke-width="4.0" fill="none" opacity="0.12"/>
<path d="M472.4 347.0 Q492.2 356.7 511.9 352.1" stroke="#121212" stroke-width="1.6" fill="none" opacity="0.38"/>
<path d="M472.7 360.1 Q489.9 368.0 507.2 355.7" stroke="#fafafa" stroke-width="3.5" fill="none" opacity="0.27"/>
<path d="M472.7 365.1 Q489.9 373.0 507.2 360.7" stroke="#121212" stroke-width="2.1" fill="none" opacity="0.58"/>
<path d="M472.5 376.1 Q490.5 378.7 508.5 366.7" stroke="#fafafa" stroke-width="4.6" fill="none" opacity="0.42"/>
<path d="M472.5 381.1 Q490.5 383.7 508.5 371.7" stroke="#121212" stroke-width="2.0" fill="none" opacity="0.43"/>
<path d="M469.6 385.9 Q489.9 388.8 510.2 382.0" stroke="#fafafa" stroke-width="5.5" fill="none" opacity="0.09"/>
<path d="M469.6 390.9 Q489.9 393.8 510.2 387.0" stroke="#121212" stroke-width="2.1" fill="none" opacity="0.25"/>
<path d="M474.5 399.5 Q489.9 401.1 505.3 391.1" stroke="#fafafa" stroke-width="3.3" fill="none" opacity="0.15"/>
<path d="M474.5 404.5 Q489.9 406.1 505.3 396.1" stroke="#121212" stroke-width="2.3" fill="none" opacity="0.25"/>
<path d="M476.7 405.0 Q492.7 414.3 508.8 411.8" stroke="#fafafa" stroke-width="3.2" fill="none" opacity="0.35"/>
<path d="M476.7 410.0 Q492.7 419.3 508.8 416.8" stroke="#121212" stroke-width="1.6" fill="none" opacity="0.58"/>
<path d="M474.2 423.8 Q494.2 424.3 514.1 415.1" stroke="#fafafa" stroke-width="5.4" fill="none" opacity="0.30"/>
<path d="M474.2 428.8 Q494.2 429.3 514.1 420.1" stroke="#121212" stroke-width="2.6" fill="none" opacity="0.31"/>
<path d="M474.8 430.1 Q492.0 437.2 509.3 431.8" stroke="#fafafa" stroke-width="4.0" fill="none" opacity="0.18"/>
<path d="M474.8 435.1 Q492.0 442.2 509.3 436.8" stroke="#121212" stroke-width="2.5" fill="none" opacity="0.23"/>
<path d="M478.4 443.9 Q494.3 448.9 510.2 444.0" stroke="#fafafa" stroke-width="4.8" fill="none" opacity="0.35"/>
<path d="M478.4 448.9 Q494.3 453.9 510.2 449.0" stroke="#121212" stroke-width="2.1" fill="none" opacity="0.36"/>
<path d="M472.7 452.5 Q493.4 468.5 514.0 462.3" stroke="#fafafa" stroke-width="6.3" fill="none" opacity="0.18"/>
<path d="M472.7 457.5 Q493.4 473.5 514.0 467.3" stroke="#121212" stroke-width="2.7" fill="none" opacity="0.44"/>
<path d="M479.5 466.8 Q498.0 477.9 516.6 468.0" stroke="#fafafa" stroke-width="3.3" fill="none" opacity="0.40"/>
<path d="M479.5 471.8 Q498.0 482.9 516.6 473.0" stroke="#121212" stroke-width="1.8" fill="none" opacity="0.30"/>
<path d="M476.2 483.6 Q493.6 489.2 510.9 475.5" stroke="#fafafa" stroke-width="5.3" fill="none" opacity="0.12"/>
<path d="M476.2 488.6 Q493.6 494.2 510.9 480.5" stroke="#121212" stroke-width="2.2" fill="none" opacity="0.46"/>
<path d="M477.4 493.0 Q493.0 503.6 508.7 490.9" stroke="#fafafa" stroke-width="4.5" fill="none" opacity="0.22"/>
<path d="M477.4 498.0 Q493.0 508.6 508.7 495.9" stroke="#121212" stroke-width="2.5" fill="none" opacity="0.50"/>
<path d="M477.5 507.3 Q495.6 512.3 513.6 501.1" stroke="#fafafa" stroke-width="6.3" fill="none" opacity="0.44"/>
<path d="M477.5 512.3 Q495.6 517.3 513.6 506.1" stroke="#121212" stroke-width="2.7" fill="none" opacity="0.60"/>
<path d="M482.5 513.4 Q498.5 525.5 514.5 517.7" stroke="#fafafa" stroke-width="6.3" fill="none" opacity="0.39"/>
<path d="M482.5 518.4 Q498.5 530.5 514.5 522.7" stroke="#121212" stroke-width="2.8" fill="none" opacity="0.31"/>
<line x1="501.2" y1="93.0" x2="514.6" y2="518.3" stroke="#1a1a1a" stroke-width="4.2" opacity="0.24"/>
<path d="M482.1 69.4 Q506.7 71.4 531.3 62.6" stroke="#fafafa" stroke-width="5.0" fill="none" opacity="0.16"/>
<path d="M482.1 74.4 Q506.7 76.4 531.3 67.6" stroke="#121212" stroke-width="2.0" fill="none" opacity="0.08"/>
<path d="M485.2 77.5 Q506.1 86.6 527.0 74.1" stroke="#fafafa" stroke-width="6.0" fill="none" opacity="0.19"/>
<path d="M485.2 82.5 Q506.1 91.6 527.0 79.1" stroke="#121212" stroke-width="1.9" fill="none" opacity="0.13"/>
<path d="M482.4 81.2 Q504.6 88.9 526.8 88.4" stroke="#fafafa" stroke-width="4.3" fill="none" opacity="0.08"/>
<path d="M482.4 86.2 Q504.6 93.9 526.8 93.4" stroke="#121212" stroke-width="2.9" fill="none" opacity="0.14"/>
<path d="M482.5 94.3 Q502.4 104.8 522.2 95.9" stroke="#fafafa" stroke-width="4.8" fill="none" opacity="0.17"/>
<path d="M482.5 99.3 Q502.4 109.8 522.2 100.9" stroke="#121212" stroke-width="1.9" fill="none" opacity="0.37"/>
<path d="M482.0 102.5 Q508.4 111.0 534.8 109.4" stroke="#fafafa" stroke-width="3.1" fill="none" opacity="0.34"/>
<path d="M482.0 107.5 Q508.4 116.0 534.8 114.4" stroke="#121212" stroke-width="2.7" fill="none" opacity="0.39"/>
<path d="M487.3 120.1 Q507.6 126.0 527.9 115.4" stroke="#fafafa" stroke-width="4.4" fill="none" opacity="0.15"/>
<path d="M487.3 125.1 Q507.6 131.0 527.9 120.4" stroke="#121212" stroke-width="2.6" fill="none" opacity="0.43"/>
<path d="M482.7 127.5 Q506.7 142.0 530.8 133.7" stroke="#fafafa" stroke-width="5.0" fill="none" opacity="0.20"/>
<path d="M482.7 132.5 Q506.7 147.0 530.8 138.7" stroke="#121212" stroke-width="2.9" fill="none" opacity="0.35"/>
<path d="M480.3 138.7 Q505.2 151.6 530.1 141.6" stroke="#fafafa" stroke-width="5.3" fill="none" opacity="0.43"/>
<path d="M480.3 143.7 Q505.2 156.6 530.1 146.6" stroke="#121212" stroke-width="2.7" fill="none" opacity="0.38"/>
<path d="M486.3 150.2 Q508.0 156.3 529.6 152.6" stroke="#fafafa" stroke-width="5.8" fill="none" opacity="0.17"/>
<path d="M486.3 155.2 Q508.0 161.3 529.6 157.6" stroke="#121212" stroke-width="2.5" fill="none" opacity="0.56"/>
<path d="M481.3 156.6 Q504.4 167.7 527.6 165.6" stroke="#fafafa" stroke-width="6.5" fill="none" opacity="0.24"/>
<path d="M481.3 161.6 Q504.4 172.7 527.6 170.6" stroke="#121212" stroke-width="2.7" fill="none" opacity="0.45"/>
<path d="M489.2 171.4 Q509.7 175.5 530.1 170.5" stroke="#fafafa" stroke-width="3.1" fill="none" opacity="0.26"/>
<path d="M489.2 176.4 Q509.7 180.5 530.1 175.5" stroke="#121212" stroke-width="2.1" fill="none" opacity="0.58"/>
<path d="M483.6 184.6 Q509.2 190.7 534.7 179.4" stroke="#fafafa" stroke-width="4.1" fill="none" opacity="0.26"/>
<path d="M483.6 189.6 Q509.2 195.7 534.7 184.4" stroke="#121212" stroke-width="2.1" fill="none" opacity="0.46"/>
<path d="M482.2 196.5 Q506.2 205.5 530.3 190.6" stroke="#fafafa" stroke-width="4.2" fill="none" opacity="0.08"/>
<path d="M482.2 201.5 Q506.2 210.5 530.3 195.6" stroke="#121212" stroke-width="1.6" fill="none" opacity="0.22"/>
<path d="M484.7 201.3 Q509.6 216.4 534.4 208.0" stroke="#fafafa" stroke-width="5.1" fill="none" opacity="0.29"/>
<path d="M484.7 206.3 Q509.6 221.4 534.4 213.0" stroke="#121212" stroke-width="1.5" fill="none" opacity="0.35"/>
<path d="M488.9 216.2 Q508.5 223.3 528.1 213.7" stroke="#fafafa" stroke-width="4.7" fill="none" opacity="0.23"/>
<path d="M488.9 221.2 Q508.5 228.3 528.1 218.7" stroke="#121212" stroke-width="1.7" fill="none" opacity="0.49"/>
<path d="M488.6 224.2 Q508.6 236.7 528.6 231.7" stroke="#fafafa" stroke-width="6.5" fill="none" opacity="0.36"/>
<path d="M488.6 229.2 Q508.6 241.7 528.6 236.7" stroke="#121212" stroke-width="1.6" fill="none" opacity="0.55"/>
<path d="M480.3 236.3 Q507.0 250.9 533.6 244.2" stroke="#fafafa" stroke-width="3.9" fill="none" opacity="0.29"/>
<path d="M480.3 241.3 Q507.0 255.9 533.6 249.2" stroke="#121212" stroke-width="2.1" fill="none" opacity="0.32"/>
<path d="M487.5 248.8 Q509.3 261.4 531.1 257.4" stroke="#fafafa" stroke-width="5.0" fill="none" opacity="0.42"/>
<path d="M487.5 253.8 Q509.3 266.4 531.1 262.4" stroke="#121212" stroke-width="2.3" fill="none" opacity="0.60"/>
<path d="M484.9 257.5 Q508.5 272.0 532.1 266.9" stroke="#fafafa" stroke-width="5.2" fill="none" opacity="0.26"/>
<path d="M484.9 262.5 Q508.5 277.0 532.1 271.9" stroke="#121212" stroke-width="2.5" fill="none" opacity="0.41"/>
<path d="M492.6 271.0 Q511.7 281.3 530.8 278.5" stroke="#fafafa" stroke-width="3.2" fill="none" opacity="0.37"/>
<path d="M492.6 276.0 Q511.7 286.3 530.8 283.5" stroke="#121212" stroke-width="1.5" fill="none" opacity="0.46"/>
<path d="M485.5 285.7 Q507.7 293.6 529.9 289.8" stroke="#fafafa" stroke-width="4.9" fill="none" opacity="0.30"/>
<path d="M485.5 290.7 Q507.7 298.6 529.9 294.8" stroke="#121212" stroke-width="2.0" fill="none" opacity="0.43"/>
<path d="M484.3 301.4 Q511.3 307.5 538.2 301.7" stroke="#fafafa" stroke-width="4.3" fill="none" opacity="0.21"/>
<path d="M484.3 306.4 Q511.3 312.5 538.2 306.7" stroke="#121212" stroke-width="2.7" fill="none" opacity="0.27"/>
<path d="M484.7 315.6 Q511.5 317.5 538.3 311.0" stroke="#fafafa" stroke-width="4.7" fill="none" opacity="0.43"/>
<path d="M484.7 320.6 Q511.5 322.5 538.3 316.0" stroke="#121212" stroke-width="1.7" fill="none" opacity="0.54"/>
<path d="M483.6 326.0 Q510.4 328.8 537.1 322.6" stroke="#fafafa" stroke-width="3.5" fill="none" opacity="0.13"/>
<path d="M483.6 331.0 Q510.4 333.8 537.1 327.6" stroke="#121212" stroke-width="2.0" fill="none" opacity="0.48"/>
<path d="M482.3 339.8 Q508.0 344.3 533.8 332.6" stroke="#fafafa" stroke-width="5.9" fill="none" opacity="0.38"/>
<path d="M482.3 344.8 Q508.0 349.3 533.8 337.6" stroke="#121212" stroke-width="1.8" fill="none" opacity="0.58"/>
<path d="M489.9 346.0 Q509.0 360.2 528.0 352.5" stroke="#fafafa" stroke-width="3.3" fill="none" opacity="0.36"/>
<path d="M489.9 351.0 Q509.0 365.2 528.0 357.5" stroke="#121212" stroke-width="2.7" fill="none" opacity="0.45"/>
<path d="M492.0 358.2 Q513.8 373.1 535.5 366.6" stroke="#fafafa" stroke-width="4.1" fill="none" opacity="0.33"/>
<path d="M492.0 363.2 Q513.8 378.1 535.5 371.6" stroke="#121212" stroke-width="2.5" fill="none" opacity="0.54"/>
<path d="M488.7 377.9 Q509.8 382.6 530.9 370.6" stroke="#fafafa" stroke-width="6.0" fill="none" opacity="0.41"/>
<path d="M488.7 382.9 Q509.8 387.6 530.9 375.6" stroke="#121212" stroke-width="1.9" fill="none" opacity="0.48"/>
<path d="M483.6 388.6 Q509.1 396.8 534.6 384.7" stroke="#fafafa" stroke-width="3.3" fill="none" opacity="0.18"/>
<path d="M483.6 393.6 Q509.1 401.8 534.6 389.7" stroke="#121212" stroke-width="2.7" fill="none" opacity="0.39"/>
<path d="M489.7 395.9 Q509.6 406.5 529.5 403.5" stroke="#fafafa" stroke-width="3.6" fill="none" opacity="0.11"/>
<path d="M489.7 400.9 Q509.6 411.5 529.5 408.5" stroke="#121212" stroke-width="2.6" fill="none" opacity="0.24"/>
<path d="M488.3 408.3 Q509.4 421.3 530.5 415.8" stroke="#fafafa" stroke-width="4.4" fill="none" opacity="0.25"/>
<path d="M488.3 413.3 Q509.4 426.3 530.5 420.8" stroke="#121212" stroke-width="1.5" fill="none" opacity="0.34"/>
<path d="M488.9 421.9 Q513.9 432.5 538.8 422.6" stroke="#fafafa" stroke-width="5.4" fill="none" opacity="0.13"/>
<path d="M488.9 426.9 Q513.9 437.5 538.8 427.6" stroke="#121212" stroke-width="2.1" fill="none" opacity="0.32"/>
<path d="M493.0 434.8 Q513.8 439.3 534.6 430.5" stroke="#fafafa" stroke-width="6.0" fill="none" opacity="0.32"/>
<path d="M493.0 439.8 Q513.8 444.3 534.6 435.5" stroke="#121212" stroke-width="2.2" fill="none" opacity="0.35"/>
<path d="M492.5 442.6 Q515.3 454.8 538.1 449.9" stroke="#fafafa" stroke-width="3.9" fill="none" opacity="0.18"/>
<path d="M492.5 447.6 Q515.3 459.8 538.1 454.9" stroke="#121212" stroke-width="1.7" fill="none" opacity="0.40"/>
<path d="M488.2 459.3 Q510.9 471.0 533.5 458.9" stroke="#fafafa" stroke-width="4.3" fill="none" opacity="0.39"/>
<path d="M488.2 464.3 Q510.9 476.0 533.5 463.9" stroke="#121212" stroke-width="2.8" fill="none" opacity="0.35"/>
<path d="M488.7 467.1 Q513.9 480.1 539.1 470.3" stroke="#fafafa" stroke-width="4.1" fill="none" opacity="0.27"/>
<path d="M488.7 472.1 Q513.9 485.1 539.1 475.3" stroke="#121212" stroke-width="1.9" fill="none" opacity="0.38"/>
<path d="M489.3 480.3 Q515.8 491.5 542.4 479.8" stroke="#fafafa" stroke-width="6.4" fill="none" opacity="0.13"/>
<path d="M489.3 485.3 Q515.8 496.5 542.4 484.8" stroke="#121212" stroke-width="2.9" fill="none" opacity="0.46"/>
<path d="M485.8 490.0 Q513.1 497.6 540.4 496.9" stroke="#fafafa" stroke-width="5.9" fill="none" opacity="0.22"/>
<path d="M485.8 495.0 Q513.1 502.6 540.4 501.9" stroke="#121212" stroke-width="2.7" fill="none" opacity="0.29"/>
<path d="M491.3 503.2 Q513.7 511.8 536.2 509.2" stroke="#fafafa" stroke-width="5.6" fill="none" opacity="0.11"/>
<path d="M491.3 508.2 Q513.7 516.8 536.2 514.2" stroke="#121212" stroke-width="3.0" fill="none" opacity="0.29"/>
<path d="M489.8 512.6 Q513.6 528.2 537.5 521.5" stroke="#fafafa" stroke-width="5.2" fill="none" opacity="0.22"/>
<path d="M489.8 517.6 Q513.6 533.2 537.5 526.5" stroke="#121212" stroke-width="1.7" fill="none" opacity="0.23"/>
<path d="M492.1 529.5 Q514.9 540.5 537.6 527.8" stroke="#fafafa" stroke-width="4.2" fill="none" opacity="0.23"/>
<path d="M492.1 534.5 Q514.9 545.5 537.6 532.8" stroke="#121212" stroke-width="1.8" fill="none" opacity="0.58"/>
<path d="M513.5 66.2 Q532.7 78.6 551.8 75.8" stroke="#fafafa" stroke-width="5.0" fill="none" opacity="0.16"/>
<path d="M513.5 71.2 Q532.7 83.6 551.8 80.8" stroke="#121212" stroke-width="1.6" fill="none" opacity="0.09"/>
<path d="M513.0 78.9 Q534.9 87.6 556.8 84.5" stroke="#fafafa" stroke-width="4.5" fill="none" opacity="0.28"/>
<path d="M513.0 83.9 Q534.9 92.6 556.8 89.5" stroke="#121212" stroke-width="2.3" fill="none" opacity="0.09"/>
<path d="M513.3 86.9 Q533.8 98.1 554.3 95.3" stroke="#fafafa" stroke-width="5.9" fill="none" opacity="0.19"/>
<path d="M513.3 91.9 Q533.8 103.1 554.3 100.3" stroke="#121212" stroke-width="1.6" fill="none" opacity="0.24"/>
<path d="M514.4 108.0 Q530.5 111.2 546.5 98.7" stroke="#fafafa" stroke-width="5.6" fill="none" opacity="0.31"/>
<path d="M514.4 113.0 Q530.5 116.2 546.5 103.7" stroke="#121212" stroke-width="1.9" fill="none" opacity="0.29"/>
<path d="M512.8 114.0 Q529.7 124.0 546.7 113.0" stroke="#fafafa" stroke-width="5.5" fill="none" opacity="0.21"/>
<path d="M512.8 119.0 Q529.7 129.0 546.7 118.0" stroke="#121212" stroke-width="2.7" fill="none" opacity="0.41"/>
<path d="M510.8 121.0 Q530.4 131.3 550.0 130.5" stroke="#fafafa" stroke-width="5.4" fill="none" opacity="0.28"/>
<path d="M510.8 126.0 Q530.4 136.3 550.0 135.5" stroke="#121212" stroke-width="2.5" fill="none" opacity="0.24"/>
<path d="M507.3 137.0 Q528.9 140.5 550.4 135.9" stroke="#fafafa" stroke-width="6.0" fill="none" opacity="0.37"/>
<path d="M507.3 142.0 Q528.9 145.5 550.4 140.9" stroke="#121212" stroke-width="2.6" fill="none" opacity="0.32"/>
<path d="M513.4 148.1 Q531.2 156.4 549.0 145.1" stroke="#fafafa" stroke-width="5.7" fill="none" opacity="0.29"/>
<path d="M513.4 153.1 Q531.2 161.4 549.0 150.1" stroke="#121212" stroke-width="2.7" fill="none" opacity="0.59"/>
<path d="M516.5 162.2 Q532.4 168.5 548.2 152.8" stroke="#fafafa" stroke-width="4.9" fill="none" opacity="0.22"/>
<path d="M516.5 167.2 Q532.4 173.5 548.2 157.8" stroke="#121212" stroke-width="2.7" fill="none" opacity="0.33"/>
<path d="M511.1 167.6 Q530.6 177.6 550.2 167.4" stroke="#fafafa" stroke-width="3.1" fill="none" opacity="0.37"/>
<path d="M511.1 172.6 Q530.6 182.6 550.2 172.4" stroke="#121212" stroke-width="1.8" fill="none" opacity="0.39"/>
<path d="M506.7 175.2 Q527.0 186.7 547.4 177.9" stroke="#fafafa" stroke-width="4.6" fill="none" opacity="0.35"/>
<path d="M506.7 180.2 Q527.0 191.7 547.4 182.9" stroke="#121212" stroke-width="2.5" fill="none" opacity="0.28"/>
<path d="M507.7 190.1 Q528.5 193.8 549.3 186.3" stroke="#fafafa" stroke-width="4.2" fill="none" opacity="0.12"/>
<path d="M507.7 195.1 Q528.5 198.8 549.3 191.3" stroke="#121212" stroke-width="2.0" fill="none" opacity="0.49"/>
<path d="M504.6 197.6 Q525.3 205.0 546.1 202.6" stroke="#fafafa" stroke-width="3.5" fill="none" opacity="0.12"/>
<path d="M504.6 202.6 Q525.3 210.0 546.1 207.6" stroke="#121212" stroke-width="1.9" fill="none" opacity="0.41"/>
<path d="M506.9 208.0 Q529.1 216.7 551.3 213.0" stroke="#fafafa" stroke-width="5.4" fill="none" opacity="0.29"/>
<path d="M506.9 213.0 Q529.1 221.7 551.3 218.0" stroke="#121212" stroke-width="1.9" fill="none" opacity="0.58"/>
<path d="M505.2 227.2 Q523.2 230.8 541.2 221.2" stroke="#fafafa" stroke-width="4.5" fill="none" opacity="0.41"/>
<path d="M505.2 232.2 Q523.2 235.8 541.2 226.2" stroke="#121212" stroke-width="1.5" fill="none" opacity="0.53"/>
<path d="M500.7 237.7 Q522.7 241.0 544.6 231.9" stroke="#fafafa" stroke-width="3.4" fill="none" opacity="0.22"/>
<path d="M500.7 242.7 Q522.7 246.0 544.6 236.9" stroke="#121212" stroke-width="1.7" fill="none" opacity="0.27"/>
<path d="M506.7 244.8 Q525.5 251.5 544.3 245.3" stroke="#fafafa" stroke-width="5.7" fill="none" opacity="0.35"/>
<path d="M506.7 249.8 Q525.5 256.5 544.3 250.3" stroke="#121212" stroke-width="2.0" fill="none" opacity="0.57"/>
<path d="M505.8 261.6 Q524.8 264.6 543.8 254.3" stroke="#fafafa" stroke-width="6.1" fill="none" opacity="0.31"/>
<path d="M505.8 266.6 Q524.8 269.6 543.8 259.3" stroke="#121212" stroke-width="1.6" fill="none" opacity="0.57"/>
<path d="M500.4 271.1 Q520.9 277.3 541.5 271.8" stroke="#fafafa" stroke-width="5.9" fill="none" opacity="0.21"/>
<path d="M500.4 276.1 Q520.9 282.3 541.5 276.8" stroke="#121212" stroke-width="2.2" fill="none" opacity="0.47"/>
<path d="M505.3 284.5 Q524.0 293.2 542.7 278.3" stroke="#fafafa" stroke-width="5.5" fill="none" opacity="0.10"/>
<path d="M505.3 289.5 Q524.0 298.2 542.7 283.3" stroke="#121212" stroke-width="1.9" fill="none" opacity="0.25"/>
<path d="M506.0 295.2 Q522.9 301.5 539.9 287.1" stroke="#fafafa" stroke-width="5.2" fill="none" opacity="0.40"/>
<path d="M506.0 300.2 Q522.9 306.5 539.9 292.1" stroke="#121212" stroke-width="1.7" fill="none" opacity="0.29"/>
<path d="M499.8 305.0 Q521.9 310.7 544.1 302.9" stroke="#fafafa" stroke-width="6.4" fill="none" opacity="0.21"/>
<path d="M499.8 310.0 Q521.9 315.7 544.1 307.9" stroke="#121212" stroke-width="2.9" fill="none" opacity="0.56"/>
<path d="M499.7 310.5 Q521.9 318.9 544.1 317.4" stroke="#fafafa" stroke-width="5.7" fill="none" opacity="0.36"/>
<path d="M499.7 315.5 Q521.9 323.9 544.1 322.4" stroke="#121212" stroke-width="2.4" fill="none" opacity="0.24"/>
<path d="M497.4 329.6 Q518.5 337.5 539.7 325.9" stroke="#fafafa" stroke-width="5.4" fill="none" opacity="0.23"/>
<path d="M497.4 334.6 Q518.5 342.5 539.7 330.9" stroke="#121212" stroke-width="2.6" fill="none" opacity="0.22"/>
<path d="M498.3 338.3 Q519.5 349.2 540.8 344.5" stroke="#fafafa" stroke-width="4.1" fill="none" opacity="0.28"/>
<path d="M498.3 343.3 Q519.5 354.2 540.8 349.5" stroke="#121212" stroke-width="1.5" fill="none" opacity="0.40"/>
<path d="M501.5 346.1 Q521.9 358.2 542.3 355.6" stroke="#fafafa" stroke-width="6.3" fill="none" opacity="0.43"/>
<path d="M501.5 351.1 Q521.9 363.2 542.3 360.6" stroke="#121212" stroke-width="1.6" fill="none" opacity="0.48"/>
<path d="M503.9 364.1 Q519.8 374.8 535.6 362.8" stroke="#fafafa" stroke-width="5.1" fill="none" opacity="0.38"/>
<path d="M503.9 369.1 Q519.8 379.8 535.6 367.8" stroke="#121212" stroke-width="1.9" fill="none" opacity="0.21"/>
<path d="M501.0 372.1 Q517.1 382.2 533.1 382.0" stroke="#fafafa" stroke-width="5.6" fill="none" opacity="0.16"/>
<path d="M501.0 377.1 Q517.1 387.2 533.1 387.0" stroke="#121212" stroke-width="1.7" fill="none" opacity="0.56"/>
<path d="M501.7 384.9 Q518.3 396.7 535.0 393.9" stroke="#fafafa" stroke-width="3.0" fill="none" opacity="0.24"/>
<path d="M501.7 389.9 Q518.3 401.7 535.0 398.9" stroke="#121212" stroke-width="1.6" fill="none" opacity="0.60"/>
<path d="M498.5 403.5 Q520.1 408.8 541.6 394.3" stroke="#fafafa" stroke-width="5.4" fill="none" opacity="0.26"/>
<path d="M498.5 408.5 Q520.1 413.8 541.6 399.3" stroke="#121212" stroke-width="2.2" fill="none" opacity="0.26"/>
<path d="M501.9 411.3 Q518.6 421.5 535.3 409.7" stroke="#fafafa" stroke-width="3.9" fill="none" opacity="0.17"/>
<path d="M501.9 416.3 Q518.6 426.5 535.3 414.7" stroke="#121212" stroke-width="2.2" fill="none" opacity="0.46"/>
<path d="M499.3 417.4 Q518.5 430.4 537.8 427.2" stroke="#fafafa" stroke-width="3.8" fill="none" opacity="0.09"/>
<path d="M499.3 422.4 Q518.5 435.4 537.8 432.2" stroke="#121212" stroke-width="2.0" fill="none" opacity="0.33"/>
<path d="M499.2 432.1 Q515.2 443.3 531.2 431.8" stroke="#fafafa" stroke-width="6.1" fill="none" opacity="0.34"/>
<path d="M499.2 437.1 Q515.2 448.3 531.2 436.8" stroke="#121212" stroke-width="2.6" fill="none" opacity="0.50"/>
<path d="M499.4 441.5 Q516.6 450.9 533.7 443.4" stroke="#fafafa" stroke-width="5.7" fill="none" opacity="0.14"/>
<path d="M499.4 446.5 Q516.6 455.9 533.7 448.4" stroke="#121212" stroke-width="2.0" fill="none" opacity="0.53"/>
<path d="M500.8 459.4 Q517.4 461.2 534.0 451.5" stroke="#fafafa" stroke-width="5.5" fill="none" opacity="0.36"/>
<path d="M500.8 464.4 Q517.4 466.2 534.0 456.5" stroke="#121212" stroke-width="2.5" fill="none" opacity="0.51"/>
<path d="M492.2 465.5 Q514.3 476.2 536.4 468.6" stroke="#fafafa" stroke-width="5.1" fill="none" opacity="0.26"/>
<path d="M492.2 470.5 Q514.3 481.2 536.4 473.6" stroke="#121212" stroke-width="2.6" fill="none" opacity="0.43"/>
<path d="M494.4 476.1 Q513.0 484.2 531.7 477.3" stroke="#fafafa" stroke-width="4.3" fill="none" opacity="0.22"/>
<path d="M494.4 481.1 Q513.0 489.2 531.7 482.3" stroke="#121212" stroke-width="2.1" fill="none" opacity="0.35"/>
<path d="M494.5 491.6 Q510.3 500.3 526.2 489.5" stroke="#fafafa" stroke-width="4.6" fill="none" opacity="0.30"/>
<path d="M494.5 496.6 Q510.3 505.3 526.2 494.5" stroke="#121212" stroke-width="2.1" fill="none" opacity="0.30"/>
<path d="M492.4 500.0 Q514.6 505.9 536.8 499.3" stroke="#fafafa" stroke-width="4.1" fill="none" opacity="0.10"/>
<path d="M492.4 505.0 Q514.6 510.9 536.8 504.3" stroke="#121212" stroke-width="2.8" fill="none" opacity="0.53"/>
<path d="M489.8 510.1 Q510.3 520.2 530.9 509.5" stroke="#fafafa" stroke-width="4.4" fill="none" opacity="0.17"/>
<path d="M489.8 515.1 Q510.3 525.2 530.9 514.5" stroke="#121212" stroke-width="2.7" fill="none" opacity="0.55"/>
<path d="M489.0 521.0 Q508.8 535.0 528.7 525.3" stroke="#fafafa" stroke-width="4.6" fill="none" opacity="0.13"/>
<path d="M489.0 526.0 Q508.8 540.0 528.7 530.3" stroke="#121212" stroke-width="1.6" fill="none" opacity="0.49"/>
<path d="M492.2 528.6 Q512.5 540.3 532.9 536.4" stroke="#fafafa" stroke-width="6.3" fill="none" opacity="0.31"/>
<path d="M492.2 533.6 Q512.5 545.3 532.9 541.4" stroke="#121212" stroke-width="1.6" fill="none" opacity="0.44"/>
<line x1="553.1" y1="93.0" x2="530.4" y2="532.8" stroke="#1a1a1a" stroke-width="6.7" opacity="0.33"/>
<path d="M540.4 66.6 Q556.7 72.6 573.1 65.4" stroke="#fafafa" stroke-width="5.8" fill="none" opacity="0.15"/>
<path d="M540.4 71.6 Q556.7 77.6 573.1 70.4" stroke="#121212" stroke-width="2.6" fill="none" opacity="0.12"/>
<path d="M544.7 83.6 Q559.6 88.6 574.6 75.8" stroke="#fafafa" stroke-width="4.4" fill="none" opacity="0.31"/>
<path d="M544.7 88.6 Q559.6 93.6 574.6 80.8" stroke="#121212" stroke-width="2.5" fill="none" opacity="0.13"/>
<path d="M537.9 90.8 Q554.2 94.3 570.5 87.0" stroke="#fafafa" stroke-width="5.2" fill="none" opacity="0.41"/>
<path d="M537.9 95.8 Q554.2 99.3 570.5 92.0" stroke="#121212" stroke-width="2.3" fill="none" opacity="0.16"/>
<path d="M536.9 103.2 Q554.5 106.1 572.0 98.4" stroke="#fafafa" stroke-width="4.5" fill="none" opacity="0.42"/>
<path d="M536.9 108.2 Q554.5 111.1 572.0 103.4" stroke="#121212" stroke-width="1.7" fill="none" opacity="0.20"/>
<path d="M538.6 107.9 Q553.6 117.6 568.6 113.1" stroke="#fafafa" stroke-width="4.4" fill="none" opacity="0.26"/>
<path d="M538.6 112.9 Q553.6 122.6 568.6 118.1" stroke="#121212" stroke-width="2.1" fill="none" opacity="0.45"/>
<path d="M535.8 119.2 Q554.2 130.0 572.5 128.8" stroke="#fafafa" stroke-width="4.8" fill="none" opacity="0.33"/>
<path d="M535.8 124.2 Q554.2 135.0 572.5 133.8" stroke="#121212" stroke-width="2.1" fill="none" opacity="0.31"/>
<path d="M541.3 134.1 Q556.4 143.3 571.5 133.3" stroke="#fafafa" stroke-width="4.8" fill="none" opacity="0.16"/>
<path d="M541.3 139.1 Q556.4 148.3 571.5 138.3" stroke="#121212" stroke-width="1.8" fill="none" opacity="0.33"/>
<path d="M540.6 146.7 Q553.7 155.8 566.8 145.4" stroke="#fafafa" stroke-width="3.2" fill="none" opacity="0.18"/>
<path d="M540.6 151.7 Q553.7 160.8 566.8 150.4" stroke="#121212" stroke-width="1.8" fill="none" opacity="0.53"/>
<path d="M537.3 160.0 Q551.8 164.2 566.3 155.6" stroke="#fafafa" stroke-width="4.2" fill="none" opacity="0.37"/>
<path d="M537.3 165.0 Q551.8 169.2 566.3 160.6" stroke="#121212" stroke-width="2.7" fill="none" opacity="0.48"/>
<path d="M539.3 174.6 Q553.1 175.6 566.8 167.9" stroke="#fafafa" stroke-width="3.9" fill="none" opacity="0.28"/>
<path d="M539.3 179.6 Q553.1 180.6 566.8 172.9" stroke="#121212" stroke-width="2.7" fill="none" opacity="0.43"/>
<path d="M531.3 184.0 Q550.0 192.4 568.7 180.8" stroke="#fafafa" stroke-width="3.2" fill="none" opacity="0.44"/>
<path d="M531.3 189.0 Q550.0 197.4 568.7 185.8" stroke="#121212" stroke-width="1.9" fill="none" opacity="0.54"/>
<path d="M536.8 194.0 Q552.0 203.1 567.1 190.0" stroke="#fafafa" stroke-width="3.4" fill="none" opacity="0.15"/>
<path d="M536.8 199.0 Q552.0 208.1 567.1 195.0" stroke="#121212" stroke-width="2.7" fill="none" opacity="0.59"/>
<path d="M536.8 208.3 Q551.5 210.4 566.2 200.1" stroke="#fafafa" stroke-width="6.4" fill="none" opacity="0.10"/>
<path d="M536.8 213.3 Q551.5 215.4 566.2 205.1" stroke="#121212" stroke-width="2.4" fill="none" opacity="0.34"/>
<path d="M531.1 217.5 Q549.5 220.1 567.9 210.8" stroke="#fafafa" stroke-width="5.2" fill="none" opacity="0.32"/>
<path d="M531.1 222.5 Q549.5 225.1 567.9 215.8" stroke="#121212" stroke-width="2.3" fill="none" opacity="0.27"/>
<path d="M532.8 227.4 Q546.8 233.4 560.9 227.6" stroke="#fafafa" stroke-width="4.7" fill="none" opacity="0.28"/>
<path d="M532.8 232.4 Q546.8 238.4 560.9 232.6" stroke="#121212" stroke-width="2.6" fill="none" opacity="0.56"/>
<path d="M528.0 240.7 Q545.8 243.0 563.7 237.0" stroke="#fafafa" stroke-width="3.5" fill="none" opacity="0.30"/>
<path d="M528.0 245.7 Q545.8 248.0 563.7 242.0" stroke="#121212" stroke-width="2.7" fill="none" opacity="0.25"/>
<path d="M533.1 247.5 Q550.1 254.2 567.1 251.2" stroke="#fafafa" stroke-width="5.8" fill="none" opacity="0.23"/>
<path d="M533.1 252.5 Q550.1 259.2 567.1 256.2" stroke="#121212" stroke-width="1.7" fill="none" opacity="0.46"/>
<path d="M531.3 263.6 Q545.3 267.1 559.3 256.2" stroke="#fafafa" stroke-width="4.3" fill="none" opacity="0.28"/>
<path d="M531.3 268.6 Q545.3 272.1 559.3 261.2" stroke="#121212" stroke-width="2.3" fill="none" opacity="0.36"/>
<path d="M529.4 269.3 Q544.3 284.4 559.3 276.6" stroke="#fafafa" stroke-width="6.2" fill="none" opacity="0.36"/>
<path d="M529.4 274.3 Q544.3 289.4 559.3 281.6" stroke="#121212" stroke-width="2.3" fill="none" opacity="0.52"/>
<path d="M529.3 281.0 Q543.9 289.6 558.4 288.5" stroke="#fafafa" stroke-width="4.1" fill="none" opacity="0.23"/>
<path d="M529.3 286.0 Q543.9 294.6 558.4 293.5" stroke="#121212" stroke-width="2.3" fill="none" opacity="0.24"/>
<path d="M529.7 299.1 Q547.3 308.4 564.9 295.5" stroke="#fafafa" stroke-width="3.5" fill="none" opacity="0.36"/>
<path d="M529.7 304.1 Q547.3 313.4 564.9 300.5" stroke="#121212" stroke-width="2.5" fill="none" opacity="0.35"/>
<path d="M525.0 304.9 Q542.9 315.7 560.7 311.1" stroke="#fafafa" stroke-width="4.2" fill="none" opacity="0.20"/>
<path d="M525.0 309.9 Q542.9 320.7 560.7 316.1" stroke="#121212" stroke-width="2.3" fill="none" opacity="0.50"/>
<path d="M526.3 317.8 Q543.4 328.7 560.4 325.1" stroke="#fafafa" stroke-width="5.7" fill="none" opacity="0.29"/>
<path d="M526.3 322.8 Q543.4 333.7 560.4 330.1" stroke="#121212" stroke-width="2.0" fill="none" opacity="0.31"/>
<path d="M530.5 337.9 Q545.3 339.5 560.2 331.8" stroke="#fafafa" stroke-width="6.4" fill="none" opacity="0.09"/>
<path d="M530.5 342.9 Q545.3 344.5 560.2 336.8" stroke="#121212" stroke-width="2.7" fill="none" opacity="0.41"/>
<path d="M527.7 350.7 Q543.2 355.1 558.6 342.5" stroke="#fafafa" stroke-width="6.2" fill="none" opacity="0.12"/>
<path d="M527.7 355.7 Q543.2 360.1 558.6 347.5" stroke="#121212" stroke-width="1.7" fill="none" opacity="0.47"/>
<path d="M527.1 363.3 Q544.1 370.3 561.1 354.4" stroke="#fafafa" stroke-width="3.0" fill="none" opacity="0.17"/>
<path d="M527.1 368.3 Q544.1 375.3 561.1 359.4" stroke="#121212" stroke-width="2.7" fill="none" opacity="0.26"/>
<path d="M529.3 366.5 Q543.3 378.7 557.3 374.5" stroke="#fafafa" stroke-width="5.6" fill="none" opacity="0.23"/>
<path d="M529.3 371.5 Q543.3 383.7 557.3 379.5" stroke="#121212" stroke-width="2.2" fill="none" opacity="0.31"/>
<path d="M525.7 382.0 Q542.6 390.7 559.6 386.6" stroke="#fafafa" stroke-width="4.7" fill="none" opacity="0.38"/>
<path d="M525.7 387.0 Q542.6 395.7 559.6 391.6" stroke="#121212" stroke-width="2.0" fill="none" opacity="0.55"/>
<path d="M523.7 396.4 Q540.0 407.2 556.3 397.0" stroke="#fafafa" stroke-width="6.4" fill="none" opacity="0.08"/>
<path d="M523.7 401.4 Q540.0 412.2 556.3 402.0" stroke="#121212" stroke-width="2.8" fill="none" opacity="0.49"/>
<path d="M527.9 406.0 Q541.8 414.9 555.7 410.3" stroke="#fafafa" stroke-width="5.9" fill="none" opacity="0.22"/>
<path d="M527.9 411.0 Q541.8 419.9 555.7 415.3" stroke="#121212" stroke-width="3.0" fill="none" opacity="0.46"/>
<path d="M523.4 419.2 Q536.9 426.0 550.4 415.6" stroke="#fafafa" stroke-width="3.9" fill="none" opacity="0.25"/>
<path d="M523.4 424.2 Q536.9 431.0 550.4 420.6" stroke="#121212" stroke-width="1.6" fill="none" opacity="0.56"/>
<path d="M523.2 429.6 Q538.9 437.1 554.5 431.6" stroke="#fafafa" stroke-width="4.2" fill="none" opacity="0.44"/>
<path d="M523.2 434.6 Q538.9 442.1 554.5 436.6" stroke="#121212" stroke-width="2.9" fill="none" opacity="0.49"/>
<path d="M521.5 447.5 Q535.3 450.5 549.0 440.0" stroke="#fafafa" stroke-width="4.5" fill="none" opacity="0.44"/>
<path d="M521.5 452.5 Q535.3 455.5 549.0 445.0" stroke="#121212" stroke-width="2.8" fill="none" opacity="0.58"/>
<path d="M522.4 458.3 Q535.6 460.0 548.8 449.4" stroke="#fafafa" stroke-width="4.8" fill="none" opacity="0.19"/>
<path d="M522.4 463.3 Q535.6 465.0 548.8 454.4" stroke="#121212" stroke-width="2.5" fill="none" opacity="0.42"/>
<path d="M518.2 463.7 Q535.5 475.3 552.7 468.0" stroke="#fafafa" stroke-width="4.6" fill="none" opacity="0.25"/>
<path d="M518.2 468.7 Q535.5 480.3 552.7 473.0" stroke="#121212" stroke-width="1.9" fill="none" opacity="0.22"/>
<path d="M522.6 473.4 Q536.8 488.0 550.9 480.9" stroke="#fafafa" stroke-width="6.0" fill="none" opacity="0.38"/>
<path d="M522.6 478.4 Q536.8 493.0 550.9 485.9" stroke="#121212" stroke-width="2.2" fill="none" opacity="0.27"/>
<path d="M518.2 492.4 Q536.9 492.4 555.6 482.6" stroke="#fafafa" stroke-width="4.2" fill="none" opacity="0.21"/>
<path d="M518.2 497.4 Q536.9 497.4 555.6 487.6" stroke="#121212" stroke-width="2.4" fill="none" opacity="0.24"/>
<path d="M515.6 502.7 Q533.9 507.3 552.1 498.8" stroke="#fafafa" stroke-width="3.6" fill="none" opacity="0.44"/>
<path d="M515.6 507.7 Q533.9 512.3 552.1 503.8" stroke="#121212" stroke-width="2.4" fill="none" opacity="0.53"/>
<path d="M517.3 505.7 Q534.6 521.9 551.9 514.4" stroke="#fafafa" stroke-width="3.4" fill="none" opacity="0.22"/>
<path d="M517.3 510.7 Q534.6 526.9 551.9 519.4" stroke="#121212" stroke-width="3.0" fill="none" opacity="0.41"/>
<path d="M518.9 526.2 Q532.1 535.4 545.3 521.5" stroke="#fafafa" stroke-width="5.0" fill="none" opacity="0.21"/>
<path d="M518.9 531.2 Q532.1 540.4 545.3 526.5" stroke="#121212" stroke-width="2.4" fill="none" opacity="0.57"/>
<path d="M520.6 542.4 Q535.2 548.1 549.7 532.7" stroke="#fafafa" stroke-width="4.5" fill="none" opacity="0.43"/>
<path d="M520.6 547.4 Q535.2 553.1 549.7 537.7" stroke="#121212" stroke-width="1.9" fill="none" opacity="0.35"/>
<line x1="573.4" y1="93.0" x2="549.5" y2="532.8" stroke="#1a1a1a" stroke-width="5.8" opacity="0.31"/>
<ellipse cx="186.0" cy="76.7" rx="10.7" ry="6.9" fill="#ffffff" opacity="0.27" transform="rotate(17 186.0 76.7)"/>
<ellipse cx="494.7" cy="284.4" rx="12.4" ry="4.7" fill="#ffffff" opacity="0.26" transform="rotate(20 494.7 284.4)"/>
<ellipse cx="357.7" cy="450.1" rx="9.6" ry="5.9" fill="#ffffff" opacity="0.26" transform="rotate(-30 357.7 450.1)"/>
<ellipse cx="286.8" cy="307.0" rx="11.2" ry="7.1" fill="#ffffff" opacity="0.17" transform="rotate(12 286.8 307.0)"/>
<ellipse cx="219.8" cy="315.8" rx="5.7" ry="6.4" fill="#ffffff" opacity="0.26" transform="rotate(29 219.8 315.8)"/>
<ellipse cx="70.4" cy="136.4" rx="11.8" ry="7.4" fill="#181818" opacity="0.13" transform="rotate(-40 70.4 136.4)"/>
<ellipse cx="451.9" cy="170.9" rx="7.9" ry="4.2" fill="#ffffff" opacity="0.22" transform="rotate(17 451.9 170.9)"/>
<ellipse cx="111.8" cy="40.1" rx="6.1" ry="4.2" fill="#181818" opacity="0.12" transform="rotate(34 111.8 40.1)"/>
<ellipse cx="526.6" cy="173.2" rx="13.0" ry="7.7" fill="#ffffff" opacity="0.26" transform="rotate(20 526.6 173.2)"/>
<ellipse cx="374.0" cy="173.0" rx="5.7" ry="3.5" fill="#ffffff" opacity="0.23" transform="rotate(17 374.0 173.0)"/>
<ellipse cx="299.6" cy="263.8" rx="10.7" ry="6.3" fill="#ffffff" opacity="0.17" transform="rotate(-24 299.6 263.8)"/>
<ellipse cx="201.6" cy="73.1" rx="8.5" ry="7.6" fill="#ffffff" opacity="0.16" transform="rotate(-28 201.6 73.1)"/>
<ellipse cx="297.3" cy="175.4" rx="9.4" ry="7.1" fill="#ffffff" opacity="0.15" transform="rotate(17 297.3 175.4)"/>
<ellipse cx="233.1" cy="348.3" rx="5.8" ry="4.7" fill="#ffffff" opacity="0.30" transform="rotate(-32 233.1 348.3)"/>
<ellipse cx="38.0" cy="62.9" rx="10.7" ry="6.2" fill="#ffffff" opacity="0.29" transform="rotate(19 38.0 62.9)"/>
<ellipse cx="0.8" cy="38.1" rx="8.7" ry="3.9" fill="#ffffff" opacity="0.30" transform="rotate(40 0.8 38.1)"/>
<ellipse cx="183.8" cy="173.7" rx="7.2" ry="6.1" fill="#ffffff" opacity="0.21" transform="rotate(-7 183.8 173.7)"/>
<ellipse cx="502.7" cy="510.4" rx="11.9" ry="5.5" fill="#181818" opacity="0.11" transform="rotate(-2 502.7 510.4)"/>
<ellipse cx="513.4" cy="520.1" rx="10.7" ry="4.8" fill="#ffffff" opacity="0.27" transform="rotate(-38 513.4 520.1)"/>
<ellipse cx="490.2" cy="392.9" rx="8.1" ry="5.9" fill="#181818" opacity="0.13" transform="rotate(40 490.2 392.9)"/>
<ellipse cx="248.0" cy="305.0" rx="8.2" ry="4.4" fill="#181818" opacity="0.28" transform="rotate(-38 248.0 305.0)"/>
<ellipse cx="482.2" cy="435.1" rx="8.7" ry="7.3" fill="#ffffff" opacity="0.26" transform="rotate(21 482.2 435.1)"/>
<ellipse cx="432.2" cy="421.5" rx="6.4" ry="4.9" fill="#ffffff" opacity="0.28" transform="rotate(28 432.2 421.5)"/>
<ellipse cx="442.8" cy="275.6" rx="7.6" ry="4.1" fill="#ffffff" opacity="0.24" transform="rotate(37 442.8 275.6)"/>
<ellipse cx="428.0" cy="310.3" rx="11.0" ry="7.6" fill="#181818" opacity="0.29" transform="rotate(-30 428.0 310.3)"/>
<ellipse cx="94.1" cy="124.3" rx="6.9" ry="4.7" fill="#ffffff" opacity="0.30" transform="rotate(-33 94.1 124.3)"/>
<ellipse cx="184.7" cy="355.3" rx="13.0" ry="5.5" fill="#181818" opacity="0.24" transform="rotate(26 184.7 355.3)"/>
<ellipse cx="3.8" cy="108.1" rx="5.9" ry="5.3" fill="#ffffff" opacity="0.29" transform="rotate(-11 3.8 108.1)"/>
<ellipse cx="393.7" cy="306.1" rx="12.4" ry="4.9" fill="#ffffff" opacity="0.12" transform="rotate(-27 393.7 306.1)"/>
<ellipse cx="166.2" cy="65.9" rx="11.8" ry="3.4" fill="#ffffff" opacity="0.24" transform="rotate(-36 166.2 65.9)"/>
<ellipse cx="441.0" cy="330.6" rx="9.6" ry="5.1" fill="#ffffff" opacity="0.15" transform="rotate(4 441.0 330.6)"/>
<ellipse cx="91.9" cy="141.1" rx="8.2" ry="7.3" fill="#181818" opacity="0.14" transform="rotate(-11 91.9 141.1)"/>
<ellipse cx="308.3" cy="340.4" rx="11.1" ry="5.8" fill="#181818" opacity="0.23" transform="rotate(29 308.3 340.4)"/>
<ellipse cx="59.7" cy="118.7" rx="9.8" ry="7.2" fill="#181818" opacity="0.13" transform="rotate(-20 59.7 118.7)"/>
<ellipse cx="3.3" cy="138.3" rx="11.4" ry="5.4" fill="#ffffff" opacity="0.26" transform="rotate(-9 3.3 138.3)"/>
<ellipse cx="140.6" cy="174.5" rx="4.2" ry="7.2" fill="#ffffff" opacity="0.25" transform="rotate(23 140.6 174.5)"/>
<ellipse cx="353.8" cy="347.3" rx="12.1" ry="5.3" fill="#ffffff" opacity="0.14" transform="rotate(21 353.8 347.3)"/>
<ellipse cx="267.6" cy="299.7" rx="4.0" ry="3.9" fill="#ffffff" opacity="0.21" transform="rotate(-16 267.6 299.7)"/>
<ellipse cx="335.6" cy="331.2" rx="8.8" ry="6.3" fill="#ffffff" opacity="0.14" transform="rotate(33 335.6 331.2)"/>
<ellipse cx="461.8" cy="483.3" rx="12.0" ry="3.6" fill="#ffffff" opacity="0.19" transform="rotate(-26 461.8 483.3)"/>
<ellipse cx="437.4" cy="444.6" rx="6.5" ry="4.0" fill="#ffffff" opacity="0.18" transform="rotate(-26 437.4 444.6)"/>
<ellipse cx="359.6" cy="124.8" rx="7.7" ry="5.1" fill="#ffffff" opacity="0.21" transform="rotate(-20 359.6 124.8)"/>
<ellipse cx="72.6" cy="148.4" rx="10.0" ry="3.7" fill="#181818" opacity="0.26" transform="rotate(-14 72.6 148.4)"/>
<ellipse cx="110.4" cy="98.7" rx="4.7" ry="4.8" fill="#ffffff" opacity="0.28" transform="rotate(-29 110.4 98.7)"/>
<ellipse cx="359.9" cy="306.8" rx="10.8" ry="3.5" fill="#181818" opacity="0.17" transform="rotate(35 359.9 306.8)"/>
<ellipse cx="301.8" cy="299.2" rx="12.9" ry="6.8" fill="#181818" opacity="0.21" transform="rotate(-35 301.8 299.2)"/>
<ellipse cx="518.3" cy="405.8" rx="5.5" ry="5.0" fill="#ffffff" opacity="0.28" transform="rotate(15 518.3 405.8)"/>
<ellipse cx="417.3" cy="118.1" rx="4.6" ry="6.9" fill="#181818" opacity="0.18" transform="rotate(-6 417.3 118.1)"/>
<ellipse cx="533.4" cy="427.2" rx="10.4" ry="7.3" fill="#ffffff" opacity="0.24" transform="rotate(-35 533.4 427.2)"/>
<ellipse cx="238.7" cy="190.9" rx="9.9" ry="3.8" fill="#ffffff" opacity="0.27" transform="rotate(-2 238.7 190.9)"/>
<ellipse cx="56.2" cy="258.5" rx="11.9" ry="5.2" fill="#ffffff" opacity="0.29" transform="rotate(21 56.2 258.5)"/>
<ellipse cx="267.0" cy="283.1" rx="9.6" ry="5.3" fill="#ffffff" opacity="0.23" transform="rotate(-29 267.0 283.1)"/>
<ellipse cx="518.1" cy="150.2" rx="11.0" ry="4.6" fill="#ffffff" opacity="0.18" transform="rotate(37 518.1 150.2)"/>
<ellipse cx="70.8" cy="110.1" rx="6.0" ry="4.7" fill="#ffffff" opacity="0.13" transform="rotate(32 70.8 110.1)"/>
<ellipse cx="234.5" cy="307.4" rx="9.8" ry="6.0" fill="#ffffff" opacity="0.27" transform="rotate(2 234.5 307.4)"/>
<ellipse cx="368.5" cy="384.7" rx="8.8" ry="5.9" fill="#ffffff" opacity="0.11" transform="rotate(-1 368.5 384.7)"/>
<ellipse cx="199.6" cy="343.4" rx="7.4" ry="5.5" fill="#ffffff" opacity="0.14" transform="rotate(26 199.6 343.4)"/>
<ellipse cx="477.3" cy="118.9" rx="5.6" ry="6.7" fill="#ffffff" opacity="0.21" transform="rotate(-14 477.3 118.9)"/>
<ellipse cx="529.0" cy="270.0" rx="10.4" ry="7.0" fill="#181818" opacity="0.12" transform="rotate(-28 529.0 270.0)"/>
<ellipse cx="255.2" cy="137.7" rx="12.2" ry="3.6" fill="#ffffff" opacity="0.27" transform="rotate(-15 255.2 137.7)"/>
<ellipse cx="80.6" cy="256.5" rx="4.1" ry="5.0" fill="#ffffff" opacity="0.24" transform="rotate(-10 80.6 256.5)"/>
<ellipse cx="271.8" cy="325.5" rx="12.6" ry="6.0" fill="#ffffff" opacity="0.11" transform="rotate(-19 271.8 325.5)"/>
<ellipse cx="487.1" cy="344.1" rx="8.6" ry="5.9" fill="#181818" opacity="0.19" transform="rotate(20 487.1 344.1)"/>
<ellipse cx="5.1" cy="111.9" rx="7.1" ry="4.4" fill="#181818" opacity="0.29" transform="rotate(-34 5.1 111.9)"/>
<ellipse cx="36.8" cy="207.5" rx="5.4" ry="6.9" fill="#ffffff" opacity="0.27" transform="rotate(-26 36.8 207.5)"/>
<ellipse cx="74.0" cy="270.3" rx="12.0" ry="5.3" fill="#ffffff" opacity="0.12" transform="rotate(18 74.0 270.3)"/>
<ellipse cx="172.9" cy="202.3" rx="5.7" ry="4.4" fill="#ffffff" opacity="0.30" transform="rotate(-39 172.9 202.3)"/>
<ellipse cx="412.4" cy="258.0" rx="10.8" ry="5.1" fill="#ffffff" opacity="0.29" transform="rotate(-12 412.4 258.0)"/>
<ellipse cx="125.7" cy="172.8" rx="4.7" ry="4.9" fill="#181818" opacity="0.29" transform="rotate(5 125.7 172.8)"/>
<ellipse cx="271.6" cy="253.0" rx="8.0" ry="4.6" fill="#181818" opacity="0.27" transform="rotate(-29 271.6 253.0)"/>
<ellipse cx="64.3" cy="56.7" rx="6.1" ry="6.0" fill="#ffffff" opacity="0.21" transform="rotate(-34 64.3 56.7)"/>
<ellipse cx="517.3" cy="461.6" rx="9.6" ry="7.0" fill="#ffffff" opacity="0.26" transform="rotate(-9 517.3 461.6)"/>
<ellipse cx="115.3" cy="69.2" rx="5.2" ry="6.8" fill="#181818" opacity="0.24" transform="rotate(-39 115.3 69.2)"/>
<ellipse cx="41.3" cy="93.7" rx="6.4" ry="7.3" fill="#181818" opacity="0.12" transform="rotate(3 41.3 93.7)"/>
<ellipse cx="478.9" cy="300.2" rx="11.5" ry="3.9" fill="#181818" opacity="0.14" transform="rotate(13 478.9 300.2)"/>
<ellipse cx="411.7" cy="276.2" rx="4.9" ry="3.9" fill="#ffffff" opacity="0.11" transform="rotate(-27 411.7 276.2)"/>
<ellipse cx="202.2" cy="213.0" rx="12.7" ry="5.9" fill="#ffffff" opacity="0.15" transform="rotate(32 202.2 213.0)"/>
<ellipse cx="362.2" cy="247.6" rx="12.9" ry="6.2" fill="#ffffff" opacity="0.14" transform="rotate(34 362.2 247.6)"/>
<ellipse cx="448.9" cy="311.2" rx="10.4" ry="3.1" fill="#ffffff" opacity="0.20" transform="rotate(0 448.9 311.2)"/>
<ellipse cx="285.0" cy="266.2" rx="12.2" ry="3.5" fill="#ffffff" opacity="0.12" transform="rotate(-24 285.0 266.2)"/>
<ellipse cx="272.4" cy="284.4" rx="7.5" ry="7.1" fill="#ffffff" opacity="0.15" transform="rotate(2 272.4 284.4)"/>
<ellipse cx="481.7" cy="501.0" rx="6.8" ry="5.9" fill="#ffffff" opacity="0.22" transform="rotate(-37 481.7 501.0)"/>
<ellipse cx="457.3" cy="362.6" rx="9.6" ry="4.3" fill="#ffffff" opacity="0.16" transform="rotate(8 457.3 362.6)"/>
<ellipse cx="363.5" cy="312.6" rx="5.1" ry="5.6" fill="#ffffff" opacity="0.27" transform="rotate(-2 363.5 312.6)"/>
<ellipse cx="341.7" cy="305.9" rx="9.0" ry="7.6" fill="#ffffff" opacity="0.19" transform="rotate(26 341.7 305.9)"/>
<ellipse cx="209.9" cy="171.8" rx="4.8" ry="3.1" fill="#ffffff" opacity="0.21" transform="rotate(5 209.9 171.8)"/>
<ellipse cx="495.1" cy="407.1" rx="7.5" ry="4.9" fill="#ffffff" opacity="0.18" transform="rotate(-27 495.1 407.1)"/>
<ellipse cx="348.4" cy="267.2" rx="7.4" ry="5.6" fill="#ffffff" opacity="0.10" transform="rotate(-22 348.4 267.2)"/>
<ellipse cx="23.6" cy="66.5" rx="8.9" ry="3.8" fill="#ffffff" opacity="0.24" transform="rotate(-29 23.6 66.5)"/>
<ellipse cx="220.1" cy="360.1" rx="11.8" ry="6.5" fill="#ffffff" opacity="0.10" transform="rotate(-32 220.1 360.1)"/>
<ellipse cx="499.7" cy="451.9" rx="8.0" ry="7.7" fill="#181818" opacity="0.22" transform="rotate(1 499.7 451.9)"/>
<ellipse cx="97.0" cy="177.3" rx="12.1" ry="6.6" fill="#ffffff" opacity="0.28" transform="rotate(-13 97.0 177.3)"/>
<ellipse cx="483.1" cy="410.2" rx="11.1" ry="5.9" fill="#ffffff" opacity="0.18" transform="rotate(6 483.1 410.2)"/>
<ellipse cx="376.0" cy="92.5" rx="10.6" ry="3.7" fill="#181818" opacity="0.21" transform="rotate(-8 376.0 92.5)"/>
<ellipse cx="353.7" cy="379.0" rx="9.1" ry="7.6" fill="#ffffff" opacity="0.16" transform="rotate(29 353.7 379.0)"/>
<ellipse cx="122.0" cy="84.3" rx="7.3" ry="4.9" fill="#ffffff" opacity="0.25" transform="rotate(21 122.0 84.3)"/>
<ellipse cx="518.8" cy="142.6" rx="6.8" ry="3.4" fill="#181818" opacity="0.20" transform="rotate(1 518.8 142.6)"/>
<ellipse cx="331.6" cy="257.6" rx="5.9" ry="5.9" fill="#181818" opacity="0.11" transform="rotate(20 331.6 257.6)"/>
<ellipse cx="68.8" cy="165.5" rx="9.1" ry="5.6" fill="#ffffff" opacity="0.24" transform="rotate(23 68.8 165.5)"/>
<ellipse cx="350.3" cy="360.8" rx="4.4" ry="8.0" fill="#ffffff" opacity="0.28" transform="rotate(7 350.3 360.8)"/>
<ellipse cx="347.7" cy="323.0" rx="9.9" ry="4.5" fill="#181818" opacity="0.26" transform="rotate(-12 347.7 323.0)"/>
<ellipse cx="135.9" cy="219.3" rx="9.0" ry="6.8" fill="#ffffff" opacity="0.21" transform="rotate(-6 135.9 219.3)"/>
<ellipse cx="261.6" cy="291.2" rx="4.6" ry="4.8" fill="#ffffff" opacity="0.24" transform="rotate(28 261.6 291.2)"/>
<ellipse cx="449.0" cy="428.7" rx="7.1" ry="7.7" fill="#ffffff" opacity="0.28" transform="rotate(3 449.0 428.7)"/>
<ellipse cx="147.7" cy="274.7" rx="4.9" ry="4.5" fill="#ffffff" opacity="0.21" transform="rotate(-25 147.7 274.7)"/>
<ellipse cx="511.0" cy="407.1" rx="12.6" ry="7.3" fill="#ffffff" opacity="0.27" transform="rotate(36 511.0 407.1)"/>
<ellipse cx="507.9" cy="345.0" rx="12.9" ry="4.6" fill="#ffffff" opacity="0.17" transform="rotate(6 507.9 345.0)"/>
<ellipse cx="478.0" cy="174.4" rx="11.1" ry="5.8" fill="#ffffff" opacity="0.25" transform="rotate(34 478.0 174.4)"/>
<ellipse cx="39.7" cy="40.5" rx="7.3" ry="5.4" fill="#181818" opacity="0.29" transform="rotate(-16 39.7 40.5)"/>
<ellipse cx="308.0" cy="110.9" rx="9.1" ry="6.7" fill="#ffffff" opacity="0.13" transform="rotate(7 308.0 110.9)"/>
<ellipse cx="441.1" cy="422.2" rx="10.5" ry="5.7" fill="#ffffff" opacity="0.26" transform="rotate(40 441.1 422.2)"/>
<ellipse cx="422.1" cy="297.8" rx="4.6" ry="5.4" fill="#ffffff" opacity="0.25" transform="rotate(-15 422.1 297.8)"/>
<ellipse cx="31.6" cy="32.9" rx="10.6" ry="5.9" fill="#ffffff" opacity="0.14" transform="rotate(9 31.6 32.9)"/>
<ellipse cx="295.3" cy="349.2" rx="8.3" ry="3.7" fill="#181818" opacity="0.13" transform="rotate(24 295.3 349.2)"/>
<ellipse cx="45.6" cy="216.9" rx="4.5" ry="7.7" fill="#ffffff" opacity="0.13" transform="rotate(-35 45.6 216.9)"/>
<ellipse cx="521.9" cy="293.6" rx="8.5" ry="3.5" fill="#ffffff" opacity="0.19" transform="rotate(13 521.9 293.6)"/>
<ellipse cx="274.2" cy="375.8" rx="12.3" ry="4.0" fill="#181818" opacity="0.17" transform="rotate(4 274.2 375.8)"/>
<ellipse cx="361.3" cy="194.6" rx="12.3" ry="4.1" fill="#ffffff" opacity="0.21" transform="rotate(-25 361.3 194.6)"/>
<ellipse cx="219.8" cy="378.1" rx="6.0" ry="5.9" fill="#ffffff" opacity="0.17" transform="rotate(38 219.8 378.1)"/>
<ellipse cx="348.4" cy="229.1" rx="6.7" ry="5.4" fill="#ffffff" opacity="0.17" transform="rotate(38 348.4 229.1)"/>
<ellipse cx="124.9" cy="131.2" rx="8.2" ry="6.5" fill="#ffffff" opacity="0.25" transform="rotate(-8 124.9 131.2)"/>
<ellipse cx="44.8" cy="39.1" rx="7.9" ry="6.0" fill="#ffffff" opacity="0.23" transform="rotate(16 44.8 39.1)"/>
<ellipse cx="395.1" cy="453.2" rx="12.5" ry="4.9" fill="#ffffff" opacity="0.23" transform="rotate(-29 395.1 453.2)"/>
<ellipse cx="482.9" cy="166.1" rx="12.9" ry="3.1" fill="#181818" opacity="0.27" transform="rotate(-32 482.9 166.1)"/>
<ellipse cx="366.9" cy="272.0" rx="12.7" ry="7.4" fill="#ffffff" opacity="0.29" transform="rotate(15 366.9 272.0)"/>
<ellipse cx="13.1" cy="69.2" rx="11.9" ry="6.1" fill="#ffffff" opacity="0.22" transform="rotate(15 13.1 69.2)"/>
<ellipse cx="356.5" cy="263.4" rx="5.1" ry="7.4" fill="#ffffff" opacity="0.21" transform="rotate(-3 356.5 263.4)"/>
<ellipse cx="441.8" cy="348.0" rx="11.5" ry="4.0" fill="#ffffff" opacity="0.23" transform="rotate(31 441.8 348.0)"/>
<ellipse cx="405.1" cy="348.2" rx="5.7" ry="4.5" fill="#ffffff" opacity="0.26" transform="rotate(-11 405.1 348.2)"/>
<ellipse cx="115.8" cy="73.9" rx="4.7" ry="6.5" fill="#181818" opacity="0.20" transform="rotate(-26 115.8 73.9)"/>
<ellipse cx="274.6" cy="170.9" rx="10.3" ry="3.2" fill="#ffffff" opacity="0.24" transform="rotate(30 274.6 170.9)"/>
<ellipse cx="49" cy="160" rx="11" ry="80" fill="#1a1a1a" opacity="0.60" filter="url(#bl8)"/>
<ellipse cx="95" cy="215" rx="30" ry="40" fill="#1a1a1a" opacity="0.30" filter="url(#bl8)"/>
<ellipse cx="118" cy="150" rx="6" ry="60" fill="#1a1a1a" opacity="0.35" filter="url(#bl8)"/></g></g>
<g clip-path="url(#fA)"><path d="M0.0 253.0 C5.2 254.0 20.5 254.8 31.0 259.0 C41.5 263.2 52.5 270.7 63.0 278.0 C73.5 285.3 83.7 295.7 94.0 303.0 C104.3 310.3 114.7 316.2 125.0 322.0 C135.3 327.8 145.5 331.2 156.0 338.0 C166.5 344.8 177.5 355.8 188.0 363.0 C198.5 370.2 208.7 374.8 219.0 381.0 C229.3 387.2 239.5 393.7 250.0 400.0 C260.5 406.3 271.5 412.7 282.0 419.0 C292.5 425.3 302.7 431.7 313.0 438.0 C323.3 444.3 333.7 450.8 344.0 457.0 C354.3 463.2 364.5 469.3 375.0 475.0 C385.5 480.7 396.5 486.8 407.0 491.0 C417.5 495.2 427.7 496.3 438.0 500.0 C448.3 503.7 458.5 508.8 469.0 513.0 C479.5 517.2 490.2 521.7 501.0 525.0 C511.8 528.3 528.5 531.7 534.0 533.0" stroke="#141414" stroke-width="70" fill="none" filter="url(#bl12)" opacity="0.85"/></g>
<g clip-path="url(#fA)"><path d="M0.0 0.0 L71.0 0.0 L80.0 17.0 L103.0 19.0 L112.0 11.0 L121.0 24.0 L159.0 21.0 L177.0 26.0 L196.0 47.0 L229.0 45.0 L233.0 56.0 L276.0 65.0 L317.0 78.0" stroke="#f0f0f0" stroke-width="26" fill="none" filter="url(#bl8)" opacity="0.45"/></g>
<path d="M0.0 253.0 L31.0 259.0 L63.0 278.0 L94.0 303.0 L125.0 322.0 L156.0 338.0 L188.0 363.0 L219.0 381.0 L250.0 400.0 L282.0 419.0 L313.0 438.0 L344.0 457.0 L375.0 475.0 L407.0 491.0 L438.0 500.0 L469.0 513.0 L501.0 525.0 L534.0 533.0 L534.0 534.0 L0.0 534.0 Z" fill="#151515" stroke="#151515" stroke-width="1.2"/>
<clipPath id="icp3"><rect x="319.3" y="0.0" width="214.4" height="207.7"/></clipPath>
<radialGradient id="ig3" cx="430.1" cy="97.5" r="193.0" gradientUnits="userSpaceOnUse"><stop offset="0" stop-color="#7a7a7a"/><stop offset="0.05" stop-color="#525252"/><stop offset="0.15" stop-color="#3a3a3a"/><stop offset="0.4" stop-color="#2c2c2c"/><stop offset="1" stop-color="#1e1e1e"/></radialGradient>
<rect x="319.3" y="0.0" width="214.4" height="207.7" fill="url(#ig3)" stroke="#111" stroke-width="1.2"/>
<g clip-path="url(#icp3)">
<circle cx="430.1" cy="97.5" r="36.0" fill="none" stroke="#6a6a6a" stroke-width="2.0" opacity="0.45"/>
<circle cx="430.1" cy="97.5" r="46.0" fill="none" stroke="#505050" stroke-width="1.5" opacity="0.30"/>
<circle cx="430.1" cy="97.5" r="55.0" fill="none" stroke="#5a5a5a" stroke-width="1.6" opacity="0.30"/>
<circle cx="430.1" cy="97.5" r="75.0" fill="none" stroke="#5a5a5a" stroke-width="2.0" opacity="0.35"/>
<circle cx="430.1" cy="97.5" r="90.0" fill="none" stroke="#4a4a4a" stroke-width="1.5" opacity="0.25"/>
<circle cx="461.7" cy="131.3" r="1.4" fill="#909090"/>
<circle cx="518.5" cy="104.8" r="1.2" fill="#b0b0b0"/>
<circle cx="519.3" cy="95.1" r="1.2" fill="#808080"/>
<circle cx="372.4" cy="28.5" r="1.0" fill="#d8d8d8"/>
<circle cx="383.5" cy="90.7" r="1.8" fill="#ffffff"/>
<circle cx="463.8" cy="88.3" r="0.8" fill="#b0b0b0"/>
<circle cx="425.6" cy="134.2" r="1.4" fill="#909090"/>
<circle cx="453.6" cy="26.6" r="1.2" fill="#d8d8d8"/>
<circle cx="465.4" cy="138.1" r="1.0" fill="#b0b0b0"/>
<circle cx="476.7" cy="37.6" r="1.2" fill="#808080"/>
<circle cx="356.6" cy="81.5" r="1.2" fill="#808080"/>
<circle cx="410.5" cy="54.5" r="0.8" fill="#b0b0b0"/>
<circle cx="477.1" cy="174.9" r="1.0" fill="#808080"/>
<circle cx="409.8" cy="9.6" r="1.0" fill="#808080"/>
<circle cx="480.2" cy="118.6" r="1.8" fill="#909090"/>
<circle cx="462.6" cy="111.9" r="1.0" fill="#ffffff"/>
<circle cx="382.9" cy="125.3" r="0.8" fill="#ffffff"/>
<circle cx="516.9" cy="122.7" r="1.8" fill="#808080"/>
<circle cx="478.7" cy="71.5" r="1.0" fill="#808080"/>
<circle cx="412.7" cy="141.7" r="0.8" fill="#ffffff"/>
<circle cx="515.6" cy="69.1" r="1.2" fill="#b0b0b0"/>
<circle cx="397.1" cy="14.5" r="1.0" fill="#b0b0b0"/>
<circle cx="475.0" cy="63.4" r="1.2" fill="#909090"/>
<circle cx="372.6" cy="147.4" r="1.4" fill="#808080"/>
<circle cx="464.0" cy="84.2" r="1.4" fill="#b0b0b0"/>
<circle cx="413.9" cy="23.8" r="1.0" fill="#909090"/>
<circle cx="377.6" cy="81.0" r="0.8" fill="#909090"/>
<circle cx="366.3" cy="160.1" r="1.4" fill="#d8d8d8"/>
<circle cx="412.1" cy="129.1" r="1.0" fill="#b0b0b0"/>
<circle cx="423.3" cy="7.1" r="0.8" fill="#808080"/>
<circle cx="467.1" cy="102.5" r="1.0" fill="#b0b0b0"/>
<circle cx="370.3" cy="53.2" r="1.0" fill="#b0b0b0"/>
<circle cx="399.2" cy="130.8" r="1.4" fill="#b0b0b0"/>
<circle cx="474.3" cy="131.7" r="0.8" fill="#808080"/>
<circle cx="437.9" cy="142.3" r="1.0" fill="#d8d8d8"/>
<circle cx="380.5" cy="118.9" r="1.8" fill="#ffffff"/>
<circle cx="464.6" cy="86.1" r="1.8" fill="#d8d8d8"/>
<circle cx="503.7" cy="78.9" r="0.8" fill="#b0b0b0"/>
<circle cx="385.2" cy="111.8" r="1.0" fill="#ffffff"/>
<circle cx="443.2" cy="131.1" r="1.4" fill="#d8d8d8"/>
<circle cx="455.7" cy="49.4" r="0.8" fill="#808080"/>
<circle cx="381.5" cy="123.7" r="1.4" fill="#b0b0b0"/>
<circle cx="365.5" cy="134.7" r="1.2" fill="#808080"/>
<circle cx="367.2" cy="135.7" r="1.0" fill="#ffffff"/>
<circle cx="485.7" cy="45.2" r="1.4" fill="#909090"/>
<circle cx="512.1" cy="57.2" r="1.0" fill="#ffffff"/>
<circle cx="390.6" cy="32.6" r="1.4" fill="#b0b0b0"/>
<circle cx="442.7" cy="186.1" r="0.8" fill="#808080"/>
<circle cx="431.9" cy="151.3" r="0.8" fill="#808080"/>
<circle cx="468.2" cy="69.7" r="1.4" fill="#ffffff"/>
<circle cx="456.2" cy="122.2" r="1.4" fill="#b0b0b0"/>
<circle cx="384.2" cy="90.2" r="1.2" fill="#ffffff"/>
<circle cx="492.8" cy="160.5" r="1.4" fill="#909090"/>
<circle cx="441.7" cy="131.1" r="1.4" fill="#ffffff"/>
<circle cx="423.4" cy="142.2" r="1.0" fill="#ffffff"/>
<circle cx="479.1" cy="40.2" r="0.8" fill="#b0b0b0"/>
<circle cx="385.5" cy="89.8" r="1.2" fill="#ffffff"/>
<circle cx="461.6" cy="30.0" r="0.8" fill="#d8d8d8"/>
<circle cx="461.8" cy="112.0" r="0.8" fill="#ffffff"/>
<circle cx="393.9" cy="179.9" r="1.0" fill="#ffffff"/>
<circle cx="388.1" cy="132.4" r="1.0" fill="#b0b0b0"/>
<circle cx="404.4" cy="145.1" r="0.8" fill="#d8d8d8"/>
<circle cx="415.2" cy="10.3" r="0.8" fill="#808080"/>
<circle cx="386.8" cy="108.4" r="1.8" fill="#808080"/>
<circle cx="502.7" cy="117.8" r="1.2" fill="#ffffff"/>
<circle cx="433.6" cy="42.2" r="1.0" fill="#909090"/>
<circle cx="432.4" cy="172.3" r="1.4" fill="#b0b0b0"/>
<circle cx="351.1" cy="137.8" r="1.2" fill="#d8d8d8"/>
<circle cx="403.8" cy="124.0" r="1.4" fill="#b0b0b0"/>
<circle cx="455.8" cy="122.6" r="1.8" fill="#808080"/>
<circle cx="422.4" cy="22.4" r="1.4" fill="#808080"/>
<circle cx="422.4" cy="61.4" r="1.2" fill="#d8d8d8"/>
<circle cx="475.1" cy="110.4" r="0.8" fill="#808080"/>
<circle cx="404.2" cy="123.2" r="0.8" fill="#b0b0b0"/>
<circle cx="456.0" cy="120.4" r="1.2" fill="#b0b0b0"/>
<circle cx="505.9" cy="144.8" r="1.4" fill="#808080"/>
<circle cx="501.1" cy="153.8" r="1.8" fill="#ffffff"/>
<circle cx="390.2" cy="176.7" r="1.4" fill="#d8d8d8"/>
<circle cx="445.1" cy="129.4" r="1.0" fill="#909090"/>
<circle cx="514.9" cy="65.5" r="1.0" fill="#b0b0b0"/>
<circle cx="377.3" cy="170.0" r="1.2" fill="#ffffff"/>
<circle cx="504.0" cy="84.9" r="1.2" fill="#d8d8d8"/>
<circle cx="433.0" cy="22.0" r="1.8" fill="#808080"/>
<circle cx="370.0" cy="140.6" r="1.0" fill="#d8d8d8"/>
<circle cx="394.3" cy="101.2" r="1.8" fill="#808080"/>
<circle cx="477.4" cy="38.9" r="1.0" fill="#b0b0b0"/>
<circle cx="385.4" cy="93.1" r="1.0" fill="#808080"/>
<circle cx="464.2" cy="53.7" r="1.4" fill="#808080"/>
<circle cx="500.3" cy="38.9" r="1.0" fill="#ffffff"/>
<circle cx="389.4" cy="134.4" r="1.0" fill="#808080"/>
<circle cx="396.6" cy="66.9" r="0.8" fill="#606060"/>
<circle cx="531.8" cy="99.6" r="1.3" fill="#7a7a7a"/>
<circle cx="419.7" cy="173.3" r="1.3" fill="#9a9a9a"/>
<circle cx="422.5" cy="149.7" r="1.0" fill="#9a9a9a"/>
<circle cx="419.5" cy="47.7" r="0.8" fill="#9a9a9a"/>
<circle cx="524.8" cy="177.4" r="0.8" fill="#7a7a7a"/>
<circle cx="485.6" cy="28.6" r="1.3" fill="#9a9a9a"/>
<circle cx="512.2" cy="53.0" r="0.8" fill="#c8c8c8"/>
<circle cx="358.6" cy="18.9" r="0.8" fill="#9a9a9a"/>
<circle cx="339.2" cy="173.2" r="1.0" fill="#9a9a9a"/>
<circle cx="395.8" cy="120.5" r="1.3" fill="#c8c8c8"/>
<circle cx="320.8" cy="69.5" r="1.0" fill="#606060"/>
<circle cx="423.5" cy="43.6" r="1.3" fill="#606060"/>
<circle cx="403.1" cy="113.1" r="0.8" fill="#c8c8c8"/>
<circle cx="335.6" cy="89.8" r="1.0" fill="#c8c8c8"/>
<circle cx="340.1" cy="195.5" r="1.0" fill="#c8c8c8"/>
<circle cx="481.7" cy="61.4" r="1.3" fill="#c8c8c8"/>
<circle cx="342.3" cy="196.2" r="1.0" fill="#9a9a9a"/>
<circle cx="462.3" cy="105.7" r="0.8" fill="#c8c8c8"/>
<circle cx="464.8" cy="117.6" r="0.8" fill="#7a7a7a"/>
<circle cx="357.7" cy="184.8" r="1.3" fill="#606060"/>
<circle cx="345.7" cy="193.5" r="0.8" fill="#c8c8c8"/>
<circle cx="457.6" cy="134.9" r="1.0" fill="#c8c8c8"/>
<circle cx="458.1" cy="95.1" r="1.0" fill="#7a7a7a"/>
<circle cx="470.6" cy="22.3" r="0.8" fill="#606060"/>
<circle cx="396.3" cy="55.2" r="1.0" fill="#9a9a9a"/>
<circle cx="506.4" cy="8.7" r="1.3" fill="#c8c8c8"/>
<circle cx="372.3" cy="159.7" r="1.0" fill="#c8c8c8"/>
<circle cx="521.9" cy="93.1" r="0.8" fill="#c8c8c8"/>
<circle cx="426.1" cy="206.8" r="0.8" fill="#c8c8c8"/>
<circle cx="445.8" cy="141.5" r="1.3" fill="#9a9a9a"/>
<circle cx="358.9" cy="39.3" r="1.0" fill="#606060"/>
<circle cx="494.2" cy="155.5" r="1.3" fill="#7a7a7a"/>
<circle cx="503.6" cy="165.8" r="1.3" fill="#7a7a7a"/>
<circle cx="441.2" cy="42.0" r="1.0" fill="#c8c8c8"/>
<circle cx="486.9" cy="6.2" r="1.0" fill="#606060"/>
<circle cx="522.8" cy="79.6" r="1.3" fill="#c8c8c8"/>
<circle cx="455.2" cy="202.9" r="1.3" fill="#c8c8c8"/>
<circle cx="511.3" cy="138.7" r="0.8" fill="#7a7a7a"/>
<circle cx="475.1" cy="0.5" r="1.3" fill="#7a7a7a"/>
<circle cx="424.8" cy="108.8" r="1.0" fill="#7a7a7a"/>
<circle cx="360.8" cy="110.0" r="0.8" fill="#606060"/>
<circle cx="343.2" cy="58.8" r="1.3" fill="#7a7a7a"/>
<circle cx="348.4" cy="164.6" r="1.3" fill="#9a9a9a"/>
<circle cx="324.8" cy="128.4" r="1.3" fill="#9a9a9a"/>
<circle cx="430.1" cy="97.5" r="12.6" fill="#d0d0d0" opacity="0.5" filter="url(#bl3)"/>
<circle cx="430.1" cy="97.5" r="9.0" fill="#fff"/>
</g>
<text x="17.7" y="49.6" font-size="49.5" font-family="Liberation Serif, serif" fill="#fff" >(a)</text>
<text x="21.5" y="148.4" font-size="45.5" font-family="Liberation Serif, serif" fill="#fff" >TiO<tspan font-size="35" dy="9">2</tspan></text>
<line x1="36.8" y1="256.0" x2="180.3" y2="48.1" stroke="#fff" stroke-width="1.6"/><polygon points="188.8,35.8 185.6,51.8 174.9,44.5" fill="#fff"/><polygon points="28.3,268.3 42.2,259.6 31.5,252.3" fill="#fff"/>
<text x="303.0" y="347.7" font-size="43.0" font-family="Liberation Sans, sans-serif" fill="#fff" transform="translate(303 0) scale(0.98 1) translate(-303 0)">void</text>
<line x1="349.2" y1="298.0" x2="349.2" y2="261.4" stroke="#fff" stroke-width="1.6"/><polygon points="349.2,248.4 355.2,262.4 343.2,262.4" fill="#fff"/>
<line x1="121.7" y1="385.0" x2="141.1" y2="353.8" stroke="#fff" stroke-width="1.6"/><polygon points="148.0,342.8 145.7,357.9 135.5,351.5" fill="#fff"/>
<text x="52.5" y="434.9" font-size="45.0" font-family="Liberation Sans, sans-serif" fill="#fff" transform="translate(52.5 0) scale(0.96 1) translate(-52.5 0)">interface</text>
<rect x="374.8" y="419.7" width="114.7" height="15.2" fill="#fff"/><rect x="374.8" y="424.7" width="113.2" height="4.4" fill="#000"/>
<text x="381.0" y="498.0" font-size="52.0" font-family="Liberation Serif, serif" fill="#fff" >1 μm</text>
<text x="12.0" y="510.6" font-size="45.5" font-family="Liberation Serif, serif" fill="#fff" >Ti6Al4V substrate</text>
</g>
<g clip-path="url(#cpB)">
<rect x="0" y="552" width="534" height="535" fill="#efefef"/>
<path d="M0.0 764.0 L29.5 762.0 L49.0 769.0 L64.0 749.5 L74.0 740.0 L88.0 737.0 L98.0 754.0 L118.0 769.0 L128.0 749.5 L147.0 742.0 L167.0 735.0 L187.0 730.0 L206.0 710.0 L226.0 690.5 L255.0 690.5 L285.0 685.6 L305.0 688.0 L322.0 695.5 L330.0 764.0 L354.0 769.0 L393.0 769.0 L422.0 779.0 L442.0 789.0 L462.0 779.0 L491.0 774.0 L534.0 779.0 L534.0 915.0 L501.0 919.5 L470.8 921.0 L440.7 918.0 L410.6 910.5 L380.6 898.0 L350.0 883.0 L320.0 868.0 L290.0 859.0 L260.0 856.0 L230.0 855.5 L200.0 858.0 L172.0 876.0 L147.0 890.0 L128.0 898.6 L98.0 897.0 L49.0 894.4 L0.0 892.0 Z" fill="url(#gB)"/>
<g clip-path="url(#fB)"><g filter="url(#bl1)"><ellipse cx="265" cy="797" rx="18" ry="8" fill="#101010" opacity="0.60" filter="url(#bl3)"/>
<ellipse cx="300" cy="800" rx="14" ry="7" fill="#101010" opacity="0.55" filter="url(#bl3)"/>
<ellipse cx="140" cy="830" rx="25" ry="30" fill="#101010" opacity="0.30" filter="url(#bl3)"/>
<ellipse cx="300" cy="845" rx="40" ry="20" fill="#202020" opacity="0.25" filter="url(#bl3)"/>
<ellipse cx="370" cy="795" rx="40" ry="20" fill="#ffffff" opacity="0.30" filter="url(#bl3)"/>
<ellipse cx="480" cy="805" rx="55" ry="25" fill="#ffffff" opacity="0.35" filter="url(#bl3)"/>
<ellipse cx="470" cy="790" rx="45" ry="18" fill="#ffffff" opacity="0.55" filter="url(#bl3)"/>
<ellipse cx="500" cy="820" rx="30" ry="30" fill="#ffffff" opacity="0.30" filter="url(#bl3)"/>
<ellipse cx="30" cy="812" rx="30" ry="12" fill="#ffffff" opacity="0.35" filter="url(#bl3)"/>
<ellipse cx="240" cy="770" rx="40" ry="20" fill="#ffffff" opacity="0.30" filter="url(#bl3)"/>
<ellipse cx="180" cy="865" rx="30" ry="15" fill="#202020" opacity="0.30" filter="url(#bl3)"/>
<ellipse cx="420" cy="890" rx="40" ry="15" fill="#202020" opacity="0.30" filter="url(#bl3)"/>
<ellipse cx="60" cy="875" rx="40" ry="12" fill="#202020" opacity="0.30" filter="url(#bl3)"/>
<ellipse cx="340" cy="780" rx="20" ry="20" fill="#303030" opacity="0.30" filter="url(#bl3)"/>
<ellipse cx="230" cy="720" rx="60" ry="25" fill="#ffffff" opacity="0.45" filter="url(#bl3)"/>
<ellipse cx="120" cy="760" rx="50" ry="15" fill="#ffffff" opacity="0.35" filter="url(#bl3)"/>
<polygon points="242.2,786.7 239.0,785.2 238.0,782.7 239.5,778.5 245.1,780.1 246.2,783.2" fill="#ffffff" opacity="0.18"/>
<polygon points="393.2,855.6 395.8,855.7 396.5,857.5 394.2,858.2" fill="#404040" opacity="0.16"/>
<polygon points="345.9,815.7 349.0,812.6 352.4,814.6 351.0,818.0" fill="#181818" opacity="0.29"/>
<polygon points="109.4,887.6 115.0,885.4 118.0,888.3 111.8,890.1" fill="#282828" opacity="0.56"/>
<polygon points="372.2,768.4 376.1,766.9 382.8,767.1 383.5,771.8 373.9,773.5" fill="#282828" opacity="0.09"/>
<polygon points="534.2,783.9 530.7,782.2 531.8,780.2 535.1,781.2" fill="#404040" opacity="0.16"/>
<polygon points="325.3,763.5 317.3,761.1 315.4,758.3 323.2,756.8 327.3,760.8" fill="#404040" opacity="0.22"/>
<polygon points="320.3,767.1 324.5,768.5 326.3,770.0 324.0,772.0 319.2,772.5 319.4,769.3" fill="#181818" opacity="0.24"/>
<polygon points="491.8,806.4 487.6,805.7 489.2,800.3 493.6,802.9" fill="#282828" opacity="0.17"/>
<polygon points="315.7,713.6 314.6,718.8 309.2,719.2 308.0,715.4 313.4,711.7" fill="#181818" opacity="0.16"/>
<polygon points="389.3,865.6 392.7,861.6 394.5,861.6 397.3,863.5 396.1,864.7 393.5,866.0" fill="#ffffff" opacity="0.28"/>
<polygon points="138.5,803.5 142.1,807.1 137.7,810.6 133.0,808.5 134.0,803.9" fill="#404040" opacity="0.29"/>
<polygon points="133.1,743.8 139.4,744.1 141.2,748.3 134.8,752.5 132.2,747.6" fill="#404040" opacity="0.15"/>
<polygon points="312.0,741.6 317.0,743.5 313.6,750.0 304.5,747.9" fill="#282828" opacity="0.18"/>
<polygon points="265.2,738.2 266.8,743.7 261.9,745.5 259.5,739.8" fill="#ffffff" opacity="0.30"/>
<polygon points="220.5,728.2 216.9,735.0 212.1,730.4 213.9,724.1" fill="#ffffff" opacity="0.14"/>
<polygon points="136.7,854.4 134.1,851.9 137.5,850.5 139.6,853.1" fill="#ffffff" opacity="0.20"/>
<polygon points="43.5,887.9 44.4,882.9 49.0,883.7 49.7,887.4" fill="#181818" opacity="0.35"/>
<polygon points="444.9,869.5 439.4,876.8 431.0,869.6 434.0,865.7" fill="#ffffff" opacity="0.13"/>
<polygon points="294.1,815.3 298.7,820.8 297.6,824.3 286.6,822.8 287.8,815.2" fill="#181818" opacity="0.23"/>
<polygon points="258.0,847.3 263.8,844.5 268.7,845.2 267.2,850.5 264.1,850.7 259.6,849.8" fill="#181818" opacity="0.35"/>
<polygon points="262.9,757.7 266.1,755.9 267.4,758.1 265.5,759.5" fill="#181818" opacity="0.26"/>
<polygon points="507.3,907.7 509.3,905.0 515.9,906.0 513.7,908.3 510.7,910.0" fill="#282828" opacity="0.37"/>
<polygon points="384.5,799.0 387.4,799.8 389.8,800.7 388.3,802.9 384.9,803.1 384.4,802.0" fill="#282828" opacity="0.24"/>
<polygon points="288.6,791.5 284.7,786.8 291.9,785.8 294.4,788.3" fill="#404040" opacity="0.32"/>
<polygon points="140.1,765.5 133.4,762.8 135.5,754.3 145.0,757.4" fill="#ffffff" opacity="0.17"/>
<polygon points="345.1,805.7 336.6,809.1 334.1,805.1 335.2,798.9 346.7,802.9" fill="#ffffff" opacity="0.26"/>
<polygon points="46.9,777.5 45.6,773.0 52.3,771.4 56.3,773.2 53.4,778.4" fill="#ffffff" opacity="0.18"/>
<polygon points="495.4,861.1 494.3,862.9 492.7,864.2 490.4,863.3 489.2,862.4 490.5,860.0" fill="#181818" opacity="0.23"/>
<polygon points="74.8,798.2 67.9,795.6 66.7,787.8 73.8,790.5 79.0,792.3" fill="#282828" opacity="0.28"/>
<polygon points="157.2,765.6 161.9,767.7 164.1,770.3 160.5,772.0 157.1,770.8" fill="#181818" opacity="0.19"/>
<polygon points="197.1,726.6 201.1,727.0 205.4,727.4 206.7,730.0 202.3,733.2 197.6,732.6" fill="#282828" opacity="0.16"/>
<polygon points="324.4,744.5 320.4,742.5 323.5,737.1 326.4,736.4 331.6,740.7 330.0,744.2" fill="#ffffff" opacity="0.17"/>
<polygon points="28.8,797.1 36.3,804.1 28.5,807.5 20.7,799.8" fill="#404040" opacity="0.32"/>
<polygon points="79.6,892.9 76.4,893.5 72.1,890.3 76.4,885.0 81.6,888.2" fill="#404040" opacity="0.22"/>
<polygon points="393.8,880.4 398.1,877.8 401.1,880.4 396.7,882.2" fill="#282828" opacity="0.43"/>
<polygon points="150.4,773.9 153.0,779.1 145.6,778.7 146.2,774.4" fill="#ffffff" opacity="0.19"/>
<polygon points="48.1,857.4 43.0,854.1 41.0,851.7 48.7,849.5 50.5,852.8" fill="#404040" opacity="0.46"/>
<polygon points="132.0,863.4 137.5,862.1 143.0,862.8 140.9,867.6 134.6,869.2" fill="#404040" opacity="0.46"/>
<polygon points="363.7,803.5 366.9,803.2 368.6,805.2 368.1,807.0 364.7,807.5 362.8,806.6" fill="#ffffff" opacity="0.10"/>
<polygon points="481.0,878.5 479.5,876.1 480.5,873.4 484.1,872.5 485.9,876.4" fill="#404040" opacity="0.41"/>
<polygon points="197.9,773.2 199.4,775.9 195.6,777.8 192.9,774.6 194.4,772.8" fill="#404040" opacity="0.25"/>
<polygon points="417.1,788.0 423.4,788.4 424.5,792.0 417.4,792.2" fill="#404040" opacity="0.09"/>
<polygon points="210.6,752.7 215.3,754.4 211.9,759.9 210.8,760.2 206.6,758.5 208.6,754.7" fill="#ffffff" opacity="0.23"/>
<polygon points="196.0,724.4 194.3,727.3 188.9,725.6 192.1,722.5" fill="#282828" opacity="0.19"/>
<polygon points="64.4,845.3 62.0,846.6 59.1,846.3 59.6,843.6 62.3,843.3" fill="#ffffff" opacity="0.12"/>
<polygon points="471.3,836.1 476.2,830.8 480.6,829.3 482.0,833.9 483.6,837.3 474.7,837.6" fill="#ffffff" opacity="0.29"/>
<polygon points="284.7,773.7 284.5,776.3 278.9,776.1 280.3,773.1" fill="#181818" opacity="0.31"/>
<polygon points="487.5,893.6 486.8,896.0 483.5,894.5 481.2,892.0 484.2,889.2 487.1,891.6" fill="#404040" opacity="0.52"/>
<polygon points="402.1,846.6 399.4,848.0 395.9,847.4 396.3,843.3 398.7,841.6 404.1,842.6" fill="#181818" opacity="0.36"/>
<polygon points="187.5,817.4 196.5,818.1 195.1,823.7 187.8,825.1" fill="#282828" opacity="0.37"/>
<polygon points="428.6,805.4 429.5,807.9 430.5,809.8 428.0,811.7 423.8,811.1 423.7,807.1" fill="#ffffff" opacity="0.14"/>
<polygon points="207.5,731.3 200.6,727.8 201.7,724.1 207.9,724.0" fill="#ffffff" opacity="0.11"/>
<polygon points="39.8,881.5 40.9,884.3 37.5,886.5 36.2,881.4" fill="#404040" opacity="0.23"/>
<polygon points="355.8,840.7 350.0,842.1 349.7,838.7 352.3,835.2 355.5,837.6" fill="#282828" opacity="0.19"/>
<polygon points="267.6,708.3 269.3,708.4 270.5,713.7 268.5,715.8 265.1,714.6 263.8,710.7" fill="#ffffff" opacity="0.30"/>
<polygon points="467.6,840.9 472.7,837.0 476.5,840.6 477.7,842.7 473.5,847.2 468.1,845.6" fill="#ffffff" opacity="0.13"/>
<polygon points="445.3,810.1 446.4,812.1 442.2,814.5 441.1,811.7" fill="#ffffff" opacity="0.10"/>
<polygon points="405.3,797.1 402.4,794.4 405.6,791.9 412.2,793.9 411.5,796.7 409.0,798.2" fill="#181818" opacity="0.11"/>
<polygon points="482.1,905.7 483.6,908.8 477.7,911.7 474.7,909.3 477.3,905.0" fill="#282828" opacity="0.47"/>
<polygon points="33.1,855.9 32.2,859.8 25.9,862.2 25.4,857.8 28.7,853.1" fill="#ffffff" opacity="0.24"/>
<polygon points="346.4,880.0 344.3,876.7 349.2,873.2 353.1,872.1 358.1,876.1 352.1,880.9" fill="#ffffff" opacity="0.30"/>
<polygon points="153.0,848.1 153.5,844.0 159.3,839.6 165.0,840.0 162.8,847.9 160.1,848.5" fill="#181818" opacity="0.17"/>
<polygon points="494.4,904.3 494.4,905.4 492.6,906.2 491.4,906.8 489.8,904.5 492.9,902.7" fill="#282828" opacity="0.52"/>
<polygon points="73.2,846.7 74.7,850.1 70.6,850.3 69.3,847.6" fill="#ffffff" opacity="0.18"/>
<polygon points="279.4,708.0 277.5,705.0 280.6,703.8 283.3,705.8" fill="#282828" opacity="0.23"/>
<polygon points="152.7,780.1 147.5,778.2 152.8,775.3 156.2,776.9" fill="#ffffff" opacity="0.10"/>
<polygon points="203.7,850.2 198.0,847.4 204.8,840.7 211.4,845.7 210.3,851.4" fill="#181818" opacity="0.20"/>
<polygon points="60.0,813.1 63.1,814.5 61.6,817.3 58.6,818.9 55.6,816.6 57.5,814.8" fill="#ffffff" opacity="0.20"/>
<polygon points="14.3,831.2 5.8,832.9 4.7,826.4 10.9,824.0" fill="#282828" opacity="0.32"/>
<polygon points="168.6,820.8 172.9,822.5 169.7,828.2 167.5,827.5 164.1,824.5 167.1,821.4" fill="#282828" opacity="0.37"/>
<polygon points="265.1,814.8 263.3,818.5 259.4,819.5 255.7,815.2 259.1,812.7 264.9,813.7" fill="#ffffff" opacity="0.11"/>
<polygon points="156.0,757.9 156.6,754.4 159.7,753.6 160.1,756.2" fill="#ffffff" opacity="0.17"/>
<polygon points="368.0,877.8 368.4,874.7 373.4,874.7 373.8,877.9" fill="#181818" opacity="0.34"/>
<polygon points="245.3,740.8 250.4,734.8 256.0,743.3 246.9,746.3" fill="#404040" opacity="0.25"/>
<polygon points="305.9,803.3 302.0,804.6 300.4,800.4 303.5,799.3 306.1,799.8" fill="#181818" opacity="0.25"/>
<polygon points="354.7,804.1 357.4,801.9 360.0,802.6 360.7,805.7 356.9,806.4 355.3,805.9" fill="#ffffff" opacity="0.19"/>
<polygon points="376.4,819.8 382.6,818.8 384.7,820.2 380.8,824.6 377.8,824.2" fill="#282828" opacity="0.17"/>
<polygon points="298.1,744.5 304.7,750.4 297.2,753.6 291.2,748.3" fill="#282828" opacity="0.16"/>
<polygon points="110.3,865.3 110.8,867.2 107.1,868.7 105.9,865.4 108.0,863.2" fill="#404040" opacity="0.24"/>
<polygon points="150.4,798.9 145.1,802.6 138.0,798.1 143.3,794.6 149.6,793.8" fill="#ffffff" opacity="0.15"/>
<polygon points="13.0,853.7 18.4,850.9 21.0,856.5 16.5,859.6 12.6,857.6" fill="#181818" opacity="0.36"/>
<polygon points="254.3,696.5 249.7,694.4 252.2,690.9 256.4,693.8" fill="#ffffff" opacity="0.14"/>
<polygon points="297.0,835.4 295.0,830.2 301.3,830.4 302.9,833.9" fill="#ffffff" opacity="0.15"/>
<polygon points="301.6,755.1 298.0,753.5 297.8,751.7 299.4,748.1 304.1,749.4 304.5,754.6" fill="#404040" opacity="0.27"/>
<polygon points="87.1,872.8 89.6,873.9 89.1,876.4 86.2,877.3 84.5,876.2 84.3,872.8" fill="#ffffff" opacity="0.09"/>
<polygon points="65.0,860.7 62.6,857.8 64.3,853.1 67.3,853.9 71.1,855.1 70.6,859.1" fill="#181818" opacity="0.19"/>
<polygon points="74.7,762.6 75.9,763.5 76.2,766.4 73.0,766.5 70.5,763.2" fill="#ffffff" opacity="0.27"/>
<polygon points="147.6,794.3 157.5,795.4 157.0,802.0 147.5,804.4 146.2,798.9" fill="#ffffff" opacity="0.25"/>
<polygon points="472.9,819.1 469.9,817.5 467.5,814.2 473.3,813.8 476.5,815.8" fill="#ffffff" opacity="0.14"/>
<polygon points="530.1,809.4 528.4,804.6 530.8,802.2 537.8,804.8 537.4,807.8 532.3,809.1" fill="#ffffff" opacity="0.19"/>
<polygon points="13.7,786.1 11.4,785.8 12.2,784.0 16.0,783.1 16.5,785.0 15.5,787.0" fill="#181818" opacity="0.13"/>
<polygon points="413.3,906.7 414.7,909.6 407.3,912.4 402.5,909.5 408.7,904.0" fill="#282828" opacity="0.35"/>
<polygon points="165.5,741.5 170.7,744.6 167.5,746.7 163.7,745.6" fill="#ffffff" opacity="0.21"/>
<polygon points="231.8,690.6 232.7,691.6 231.6,695.0 228.5,694.8 226.5,690.9 228.8,688.3" fill="#ffffff" opacity="0.17"/>
<polygon points="440.2,792.3 438.2,798.3 432.5,799.3 426.6,792.7 431.0,789.8 436.1,791.0" fill="#282828" opacity="0.21"/>
<polygon points="447.5,883.0 443.7,879.7 441.8,875.3 446.9,872.2 451.9,876.5 455.1,880.1" fill="#404040" opacity="0.30"/>
<polygon points="395.1,809.0 399.4,810.4 393.3,813.9 391.1,812.1" fill="#ffffff" opacity="0.30"/>
<polygon points="130.3,786.7 132.2,784.3 136.2,784.4 138.3,787.1 134.4,788.2" fill="#181818" opacity="0.24"/>
<polygon points="427.9,890.6 433.7,900.0 426.3,899.9 420.3,893.5" fill="#ffffff" opacity="0.20"/>
<polygon points="7.3,851.1 20.7,846.5 22.1,854.4 13.1,857.3" fill="#282828" opacity="0.17"/>
<polygon points="452.0,913.3 449.0,913.1 449.1,909.5 452.7,910.7" fill="#181818" opacity="0.45"/>
<polygon points="39.9,795.1 31.6,793.0 33.0,787.4 42.1,789.9" fill="#ffffff" opacity="0.27"/>
<polygon points="381.5,795.3 380.5,802.2 373.3,803.3 368.6,798.2 375.2,794.1" fill="#ffffff" opacity="0.14"/>
<polygon points="317.9,806.0 310.1,809.8 307.9,806.3 314.6,801.2" fill="#404040" opacity="0.36"/>
<polygon points="60.2,849.6 54.4,852.5 51.3,849.2 53.2,847.5 56.7,845.5" fill="#181818" opacity="0.17"/>
<polygon points="250.2,801.8 251.8,796.3 262.4,794.5 264.5,801.4 256.8,804.3" fill="#181818" opacity="0.45"/>
<polygon points="268.7,827.8 265.4,830.5 263.0,827.9 265.7,826.1" fill="#181818" opacity="0.44"/>
<polygon points="78.1,797.1 81.2,793.6 85.1,793.4 86.3,796.5 84.3,799.5 80.3,798.4" fill="#181818" opacity="0.13"/>
<polygon points="222.1,701.5 224.4,705.1 219.5,705.7 218.4,702.3" fill="#282828" opacity="0.09"/>
<polygon points="513.3,833.0 515.5,833.5 518.3,835.4 515.1,837.7 513.5,836.9 512.3,835.1" fill="#181818" opacity="0.31"/>
<polygon points="66.6,882.0 63.1,888.2 59.5,890.3 54.0,886.3 54.1,880.2 60.2,878.2" fill="#282828" opacity="0.25"/>
<polygon points="237.2,702.0 237.4,698.4 236.6,694.8 243.0,695.2 245.2,699.1 242.5,701.2" fill="#ffffff" opacity="0.09"/>
<polygon points="363.1,809.6 371.2,808.7 370.0,815.5 365.3,816.7" fill="#404040" opacity="0.27"/>
<polygon points="146.8,862.2 144.5,863.0 142.1,862.5 141.4,859.9 145.9,858.4 146.5,859.9" fill="#282828" opacity="0.30"/>
<polygon points="67.5,792.4 76.6,788.4 78.5,797.4 72.9,798.3" fill="#ffffff" opacity="0.22"/>
<polygon points="232.6,817.5 227.8,815.7 234.9,809.4 238.4,811.9 241.9,818.2" fill="#282828" opacity="0.39"/>
<polygon points="301.1,849.8 295.5,849.0 296.7,846.4 301.5,846.9" fill="#282828" opacity="0.30"/>
<polygon points="426.2,852.4 423.7,849.2 425.3,846.8 427.8,847.0 430.1,849.1 429.1,851.2" fill="#404040" opacity="0.33"/>
<polygon points="217.4,721.6 213.7,721.8 207.6,723.3 207.0,718.5 209.8,713.7 214.5,715.6" fill="#404040" opacity="0.11"/>
<polygon points="98.4,845.3 96.6,842.9 99.4,840.9 100.6,841.3 103.4,842.6 99.9,845.9" fill="#ffffff" opacity="0.19"/>
<polygon points="182.5,759.7 176.6,752.2 181.0,746.4 184.7,748.4 191.9,751.1 186.3,757.5" fill="#181818" opacity="0.25"/>
<polygon points="302.3,735.8 298.2,735.1 295.5,734.6 296.2,731.0 301.6,730.6 302.6,733.2" fill="#181818" opacity="0.15"/>
<polygon points="226.3,823.0 222.9,818.9 229.0,816.8 232.6,818.2 229.7,823.3" fill="#404040" opacity="0.24"/>
<polygon points="160.0,738.8 159.2,737.0 159.5,735.2 165.0,736.8 163.6,739.9" fill="#ffffff" opacity="0.29"/>
<polygon points="275.3,695.7 278.6,697.0 283.7,699.2 281.9,704.0 274.9,700.6" fill="#ffffff" opacity="0.12"/>
<polygon points="484.4,810.9 486.2,816.6 474.7,817.0 473.7,807.8" fill="#282828" opacity="0.29"/>
<polygon points="47.7,832.6 47.1,835.9 44.3,835.4 43.3,832.1 45.4,832.1" fill="#ffffff" opacity="0.09"/>
<polygon points="421.1,911.5 420.6,910.0 425.8,907.7 428.3,910.0 424.2,913.5" fill="#ffffff" opacity="0.17"/>
<polygon points="105.7,786.7 111.0,788.5 109.8,791.6 104.5,792.1" fill="#181818" opacity="0.24"/>
<polygon points="395.5,799.0 392.4,797.4 391.7,796.1 395.7,795.2 396.9,795.2 396.6,798.3" fill="#181818" opacity="0.19"/>
<polygon points="425.5,829.9 421.6,831.6 420.1,830.0 422.8,828.4" fill="#404040" opacity="0.34"/>
<polygon points="171.7,756.1 167.3,755.3 168.5,752.7 171.1,752.6" fill="#404040" opacity="0.13"/>
<polygon points="503.3,787.3 499.1,787.1 499.2,784.0 502.5,784.1 503.3,785.0" fill="#282828" opacity="0.18"/>
<polygon points="162.7,844.0 167.7,843.6 169.2,845.7 165.4,847.0 162.9,846.8" fill="#ffffff" opacity="0.19"/>
<polygon points="358.6,822.8 359.9,820.4 365.5,821.0 364.0,822.6" fill="#404040" opacity="0.13"/>
<polygon points="178.0,758.2 176.8,753.7 182.7,748.6 186.8,749.9 188.3,754.9 182.5,758.3" fill="#ffffff" opacity="0.15"/>
<polygon points="501.5,895.3 504.1,897.7 501.3,901.5 495.9,901.1 495.0,898.3" fill="#ffffff" opacity="0.12"/>
<polygon points="54.1,860.3 57.5,855.3 60.8,854.8 66.0,859.1 60.7,863.1 58.1,862.2" fill="#ffffff" opacity="0.22"/>
<polygon points="423.5,812.9 426.7,810.0 428.7,810.7 430.5,813.6 428.8,814.6 425.8,816.0" fill="#ffffff" opacity="0.26"/>
<polygon points="429.2,918.5 424.3,915.4 426.2,909.7 432.2,906.3 434.9,911.1 434.0,916.2" fill="#ffffff" opacity="0.23"/>
<polygon points="216.1,848.0 215.7,849.7 210.0,849.2 211.6,846.5 214.3,846.0" fill="#ffffff" opacity="0.29"/>
<polygon points="460.3,884.7 464.8,885.0 469.4,887.4 465.0,891.8 457.7,888.3" fill="#ffffff" opacity="0.27"/>
<polygon points="272.0,743.4 271.1,739.8 278.1,737.9 277.8,742.7" fill="#181818" opacity="0.10"/>
<polygon points="144.4,818.3 146.7,813.9 153.9,816.9 151.1,821.2" fill="#181818" opacity="0.15"/>
<polygon points="195.0,798.4 193.5,800.9 188.1,802.5 184.7,798.6 190.4,796.2" fill="#ffffff" opacity="0.22"/>
<polygon points="502.2,858.1 508.6,858.1 507.2,861.5 504.1,860.6" fill="#181818" opacity="0.29"/>
<polygon points="32.1,768.9 34.3,771.5 30.5,772.4 27.6,770.8 30.4,768.1" fill="#ffffff" opacity="0.29"/>
<polygon points="350.2,846.0 346.9,848.9 343.4,844.2 351.0,841.4" fill="#181818" opacity="0.17"/>
<polygon points="262.4,785.1 263.4,789.9 259.1,789.4 256.8,786.9" fill="#404040" opacity="0.17"/>
<polygon points="113.5,850.4 115.2,855.2 109.5,857.0 105.2,852.5 108.9,847.1" fill="#282828" opacity="0.24"/>
<polygon points="478.8,787.6 478.0,792.4 472.0,793.7 466.0,786.9 468.1,782.4 475.6,782.9" fill="#181818" opacity="0.19"/>
<polygon points="52.8,811.8 54.5,821.1 49.1,822.3 40.6,818.9 42.6,812.7 46.5,810.3" fill="#ffffff" opacity="0.15"/>
<polygon points="301.3,779.3 305.0,783.5 299.2,786.7 292.6,783.7 295.0,779.3" fill="#ffffff" opacity="0.11"/>
<polygon points="481.0,914.8 482.5,912.3 485.4,913.5 487.1,916.7 484.9,918.4 480.9,917.0" fill="#181818" opacity="0.42"/>
<polygon points="307.3,777.3 309.3,778.0 311.7,780.8 310.0,781.2 307.4,780.8" fill="#282828" opacity="0.31"/>
<polygon points="306.3,811.4 304.6,805.8 304.9,803.6 314.1,803.8 316.2,806.6 314.3,811.0" fill="#282828" opacity="0.21"/>
<polygon points="176.0,822.4 176.5,827.5 167.4,829.9 164.8,821.8" fill="#ffffff" opacity="0.25"/>
<polygon points="126.2,815.7 121.2,816.2 117.9,816.4 116.1,808.5 121.7,808.8 123.4,809.5" fill="#404040" opacity="0.27"/>
<polygon points="366.8,792.7 370.6,787.2 376.6,789.5 373.7,793.8" fill="#404040" opacity="0.11"/>
<polygon points="162.3,820.9 165.0,818.4 167.8,818.9 168.3,820.9 167.2,822.6 164.3,822.6" fill="#181818" opacity="0.18"/>
<polygon points="283.3,822.6 282.6,820.9 285.1,819.5 286.9,821.9 286.0,824.1" fill="#ffffff" opacity="0.13"/>
<polygon points="56.9,833.6 45.0,836.5 40.3,829.6 52.5,825.3" fill="#404040" opacity="0.40"/>
<polygon points="33.0,892.8 38.8,888.5 45.5,889.8 44.6,897.3" fill="#181818" opacity="0.51"/>
<polygon points="133.3,822.1 135.4,827.7 128.8,827.5 125.4,825.8 125.2,819.5 131.3,819.8" fill="#ffffff" opacity="0.22"/>
<polygon points="101.9,869.2 100.3,870.3 98.4,868.1 98.3,866.9 100.8,866.3 103.6,868.2" fill="#181818" opacity="0.18"/>
<polygon points="19.7,837.3 21.2,832.5 26.3,833.7 27.7,839.9" fill="#404040" opacity="0.20"/>
<polygon points="203.3,844.5 204.9,844.4 207.5,849.1 205.7,851.2 200.2,852.4 198.4,847.6" fill="#181818" opacity="0.57"/>
<polygon points="499.8,867.3 503.7,865.2 506.6,867.0 508.1,868.5 502.7,871.9 498.5,869.8" fill="#181818" opacity="0.30"/>
<polygon points="387.9,773.7 388.6,777.4 384.1,777.5 384.8,772.9" fill="#ffffff" opacity="0.11"/>
<polygon points="312.6,733.7 316.0,730.6 318.5,730.5 318.6,732.7 318.6,736.0 315.3,736.0" fill="#282828" opacity="0.11"/>
<polygon points="502.1,834.4 501.2,838.4 496.3,838.9 496.3,836.4 498.5,832.8" fill="#ffffff" opacity="0.27"/>
<polygon points="417.6,867.8 424.0,872.0 421.5,875.0 414.1,874.0 414.1,870.2" fill="#ffffff" opacity="0.12"/>
<polygon points="536.8,895.8 533.5,896.8 529.3,896.1 530.3,891.9 534.4,889.0 535.7,891.2" fill="#404040" opacity="0.21"/>
<polygon points="268.0,786.2 275.5,789.0 273.7,793.3 269.6,794.1 265.1,787.9" fill="#282828" opacity="0.19"/>
<polygon points="94.4,821.0 91.1,818.5 93.6,814.2 97.3,816.0 99.1,818.5" fill="#404040" opacity="0.23"/>
<polygon points="229.1,830.4 226.5,835.6 220.3,832.7 221.2,827.8 222.5,825.9 227.5,827.1" fill="#181818" opacity="0.38"/>
<polygon points="16.6,782.4 19.0,784.1 16.7,786.1 14.2,786.2 12.4,783.7 13.7,782.0" fill="#404040" opacity="0.14"/>
<polygon points="341.3,820.5 336.5,821.0 332.3,819.6 336.6,815.4 340.2,814.8 343.8,816.6" fill="#282828" opacity="0.35"/>
<polygon points="364.2,884.4 363.9,882.0 365.5,879.9 368.5,881.4 368.5,882.8 365.6,884.1" fill="#282828" opacity="0.20"/>
<polygon points="6.0,875.9 7.7,876.4 7.7,879.0 7.5,879.9 4.5,878.6 2.8,876.3" fill="#181818" opacity="0.23"/>
<polygon points="179.9,792.6 173.6,793.8 172.0,786.6 173.4,785.0 179.0,785.3 185.6,788.7" fill="#ffffff" opacity="0.25"/>
<polygon points="520.1,894.8 515.5,893.8 518.4,888.1 523.2,887.5 524.5,893.1" fill="#404040" opacity="0.35"/>
<polygon points="65.9,767.2 59.3,766.4 57.9,763.2 65.4,759.0 69.4,765.8" fill="#282828" opacity="0.15"/>
<polygon points="413.9,832.6 424.6,833.7 421.4,841.0 412.8,839.4" fill="#282828" opacity="0.35"/>
<polygon points="131.5,790.6 136.3,791.2 138.5,794.9 134.4,796.2 131.0,796.3" fill="#181818" opacity="0.31"/>
<polygon points="507.6,891.6 504.1,892.8 501.3,892.0 501.3,887.7 503.7,887.6" fill="#ffffff" opacity="0.26"/>
<polygon points="315.9,751.7 317.8,748.4 321.8,748.7 321.6,751.3" fill="#282828" opacity="0.20"/>
<polygon points="50.5,815.0 56.6,821.7 51.0,825.5 42.7,820.3" fill="#282828" opacity="0.26"/>
<polygon points="383.9,856.6 382.9,858.6 379.5,860.2 378.6,856.1" fill="#282828" opacity="0.17"/>
<polygon points="58.4,806.2 53.8,807.7 52.7,804.8 55.8,803.5" fill="#282828" opacity="0.23"/>
<polygon points="130.7,845.5 138.6,842.6 141.6,842.6 139.9,848.6 136.2,851.0 133.4,846.8" fill="#181818" opacity="0.34"/>
<polygon points="66.8,770.7 65.7,776.8 59.8,776.3 59.9,770.7" fill="#181818" opacity="0.25"/>
<polygon points="429.5,850.4 422.6,851.4 417.9,850.1 421.3,841.0 424.0,842.7 429.9,846.5" fill="#ffffff" opacity="0.27"/>
<polygon points="71.4,834.8 69.6,831.3 75.2,831.0 75.9,833.3" fill="#ffffff" opacity="0.16"/>
<polygon points="51.2,872.2 51.9,876.9 47.2,878.9 42.5,874.1 47.0,871.1" fill="#282828" opacity="0.29"/>
<polygon points="483.9,785.3 484.9,786.8 482.5,789.2 479.4,786.8 480.9,785.2" fill="#ffffff" opacity="0.15"/>
<polygon points="386.7,813.7 390.0,812.3 393.8,813.8 392.6,816.5 389.4,816.3" fill="#181818" opacity="0.28"/>
<polygon points="161.6,778.3 161.8,782.3 161.7,785.6 154.5,784.1 152.4,780.6 156.9,776.6" fill="#181818" opacity="0.28"/>
<polygon points="450.5,903.2 450.3,907.9 445.5,909.0 442.4,906.8 442.6,902.1 445.0,902.4" fill="#ffffff" opacity="0.23"/>
<polygon points="316.3,846.3 310.0,852.2 307.4,849.3 306.1,843.4 310.2,841.6" fill="#282828" opacity="0.21"/>
<polygon points="285.6,689.3 286.4,694.7 280.9,695.4 276.9,691.3 281.0,687.6" fill="#282828" opacity="0.09"/>
<polygon points="502.1,912.2 498.4,910.0 500.3,906.9 505.6,907.4" fill="#ffffff" opacity="0.26"/>
<polygon points="530.0,907.5 532.4,908.8 527.1,911.1 525.7,908.5" fill="#ffffff" opacity="0.22"/>
<polygon points="403.5,840.4 410.3,840.0 417.1,844.9 412.2,849.0 405.7,848.2 405.7,844.1" fill="#404040" opacity="0.29"/>
<polygon points="389.8,878.3 393.7,879.4 392.9,880.9 390.8,881.8 387.8,880.7 388.1,879.4" fill="#ffffff" opacity="0.09"/>
<polygon points="217.6,852.7 212.8,848.7 215.1,843.0 219.6,846.3" fill="#282828" opacity="0.45"/>
<polygon points="428.5,873.5 428.0,870.1 433.3,869.0 432.7,873.9" fill="#ffffff" opacity="0.12"/>
<polygon points="428.9,908.5 434.8,908.4 436.3,911.5 429.4,913.6" fill="#ffffff" opacity="0.30"/>
<polygon points="256.9,725.5 253.1,721.4 258.1,719.7 261.8,721.5 263.0,723.6 260.9,726.3" fill="#404040" opacity="0.28"/>
<polygon points="223.7,826.4 222.3,821.1 229.4,820.1 229.4,825.2" fill="#404040" opacity="0.23"/>
<polygon points="222.4,842.6 216.9,843.8 211.4,842.8 213.6,835.6 220.4,836.6 223.8,838.5" fill="#ffffff" opacity="0.25"/>
<polygon points="203.2,754.8 208.7,755.9 205.5,761.4 200.2,756.1" fill="#ffffff" opacity="0.09"/>
<polygon points="108.8,863.4 112.8,861.5 115.6,862.6 116.5,864.2 113.5,867.6 107.9,864.7" fill="#ffffff" opacity="0.28"/>
<polygon points="234.5,691.9 241.9,693.1 242.2,697.8 237.8,699.0 234.4,696.1" fill="#ffffff" opacity="0.09"/>
<polygon points="478.7,828.2 472.3,828.8 471.3,825.3 476.7,825.6" fill="#ffffff" opacity="0.16"/>
<polygon points="209.5,858.7 204.9,858.3 206.6,855.3 210.5,855.4" fill="#181818" opacity="0.27"/>
<polygon points="192.0,810.8 193.3,812.0 190.9,814.0 188.6,814.7 186.0,811.0 188.3,810.5" fill="#181818" opacity="0.35"/>
<polygon points="366.9,774.6 359.8,769.9 363.3,765.7 372.0,767.2" fill="#ffffff" opacity="0.27"/>
<polygon points="136.4,865.6 140.9,863.6 141.9,864.9 143.0,867.5 140.5,868.8 137.3,868.2" fill="#282828" opacity="0.46"/>
<polygon points="31.1,776.8 29.8,782.9 21.5,779.5 21.4,775.8 30.4,772.3" fill="#ffffff" opacity="0.27"/>
<polygon points="227.7,848.3 226.6,851.2 223.1,853.3 218.7,850.7 218.1,846.0 223.3,846.0" fill="#282828" opacity="0.23"/>
<polygon points="263.5,807.7 266.1,810.2 264.2,814.4 259.9,813.1 261.2,809.7" fill="#ffffff" opacity="0.15"/>
<polygon points="325.3,764.5 333.1,762.5 333.0,766.7 329.3,769.2" fill="#ffffff" opacity="0.29"/>
<polygon points="268.5,819.3 274.9,820.5 272.2,824.7 266.8,824.6" fill="#ffffff" opacity="0.11"/>
<polygon points="234.5,801.5 237.0,799.8 241.4,801.6 241.8,803.2 239.2,806.5 232.7,804.2" fill="#ffffff" opacity="0.28"/>
<polygon points="246.6,722.2 253.9,722.3 252.4,730.7 244.6,728.0" fill="#181818" opacity="0.25"/>
<polygon points="137.4,775.5 136.7,774.3 138.9,772.3 141.1,771.2 142.7,773.7 140.9,775.9" fill="#ffffff" opacity="0.26"/>
<polygon points="399.3,804.7 406.8,805.9 408.8,812.1 400.1,814.3" fill="#181818" opacity="0.27"/>
<polygon points="463.1,878.9 463.7,882.2 459.4,882.4 459.5,879.6" fill="#181818" opacity="0.23"/>
<polygon points="62.5,813.4 63.1,810.4 66.1,809.2 68.3,811.8 68.5,813.7 65.8,815.7" fill="#ffffff" opacity="0.29"/>
<polygon points="363.1,865.9 363.8,863.6 367.5,863.8 368.9,865.2 367.6,867.0 364.7,868.4" fill="#ffffff" opacity="0.18"/>
<polygon points="381.4,791.5 384.4,789.2 388.9,794.4 383.9,796.8 379.3,794.4" fill="#ffffff" opacity="0.30"/>
<polygon points="336.0,827.1 338.5,824.5 340.6,825.2 340.5,827.2 340.2,829.3 337.1,828.9" fill="#ffffff" opacity="0.20"/>
<polygon points="122.9,803.5 120.7,808.5 114.8,808.5 117.5,803.2" fill="#ffffff" opacity="0.18"/>
<polygon points="285.9,764.8 291.1,764.4 291.3,767.1 289.4,770.1 286.7,769.8 283.1,767.5" fill="#404040" opacity="0.28"/>
<polygon points="246.4,791.0 255.4,793.8 255.0,799.6 250.1,801.1 242.9,798.0 243.6,795.2" fill="#181818" opacity="0.21"/>
<polygon points="491.4,837.1 488.4,839.3 485.6,838.2 488.9,836.4" fill="#181818" opacity="0.31"/>
<polygon points="85.9,734.5 93.0,735.3 93.8,738.0 91.1,742.5 84.1,743.2 82.4,741.3" fill="#282828" opacity="0.13"/>
<polygon points="429.0,821.0 425.6,818.8 431.3,815.9 432.8,819.5" fill="#ffffff" opacity="0.10"/>
<polygon points="258.9,719.5 264.7,724.3 252.6,725.8 252.5,720.3" fill="#ffffff" opacity="0.14"/>
<polygon points="461.0,852.0 464.8,856.1 462.6,860.8 457.0,859.9 457.4,854.0" fill="#404040" opacity="0.29"/>
<polygon points="432.1,910.6 433.7,907.6 440.5,908.1 438.3,911.6" fill="#181818" opacity="0.37"/>
<polygon points="427.6,819.3 422.5,823.7 418.3,821.3 419.2,816.2 425.3,815.3" fill="#ffffff" opacity="0.18"/>
<polygon points="223.3,790.7 224.6,786.2 233.4,785.2 231.5,792.7" fill="#282828" opacity="0.18"/>
<polygon points="85.9,829.9 88.4,822.6 97.8,824.6 93.9,832.4" fill="#282828" opacity="0.19"/>
<polygon points="267.4,755.0 268.6,761.6 263.3,763.0 260.5,759.8 259.9,756.6" fill="#ffffff" opacity="0.21"/>
<polygon points="128.5,844.8 126.8,838.0 134.4,834.0 139.6,841.5" fill="#404040" opacity="0.24"/>
<polygon points="406.4,884.6 408.5,881.7 414.0,883.4 414.6,886.6 407.6,887.5" fill="#ffffff" opacity="0.29"/>
<polygon points="414.1,784.6 424.3,785.1 423.0,792.4 412.8,789.7" fill="#ffffff" opacity="0.10"/>
<polygon points="486.3,883.4 484.6,887.6 481.7,888.1 479.4,886.2 478.7,884.2 484.0,882.3" fill="#282828" opacity="0.44"/>
<polygon points="395.0,781.9 397.7,775.8 402.8,777.8 404.2,781.4 400.1,784.0" fill="#ffffff" opacity="0.16"/>
<polygon points="75.1,779.7 76.4,776.9 80.6,775.4 83.2,777.6 83.2,781.5 81.4,782.5" fill="#181818" opacity="0.23"/>
<polygon points="80.7,801.7 80.4,796.7 86.6,796.7 84.3,802.0" fill="#282828" opacity="0.18"/>
<polygon points="453.8,908.2 448.6,912.7 442.9,906.5 447.8,902.7" fill="#ffffff" opacity="0.17"/>
<polygon points="22.6,773.5 24.7,769.8 33.0,772.0 31.9,776.1" fill="#ffffff" opacity="0.15"/>
<polygon points="358.1,874.5 362.2,877.1 363.6,880.2 358.2,884.3 351.9,883.1 352.3,876.6" fill="#282828" opacity="0.43"/>
<polygon points="488.9,844.7 488.9,842.5 494.4,841.6 495.7,844.0 493.6,846.9 491.3,848.6" fill="#404040" opacity="0.25"/>
<polygon points="502.2,921.6 499.2,920.0 499.8,918.1 504.0,918.8" fill="#404040" opacity="0.29"/>
<polygon points="158.8,854.7 151.1,858.2 148.2,854.3 151.5,852.2 155.8,851.5" fill="#282828" opacity="0.28"/>
<polygon points="214.4,802.9 212.4,798.1 219.8,796.5 224.1,804.3 218.1,807.4" fill="#404040" opacity="0.36"/>
<polygon points="520.2,830.1 521.8,832.5 515.5,835.8 512.0,833.0 516.7,828.3" fill="#282828" opacity="0.11"/>
<polygon points="24.9,877.3 27.2,878.6 27.6,880.5 27.1,881.3 23.8,881.4 22.9,879.3" fill="#282828" opacity="0.37"/>
<polygon points="38.2,788.7 34.0,796.7 27.9,792.8 29.8,784.4" fill="#ffffff" opacity="0.23"/>
<polygon points="322.5,721.6 316.0,718.8 315.0,714.3 315.9,711.1 324.2,712.2 328.0,717.0" fill="#ffffff" opacity="0.12"/>
<polygon points="209.2,829.2 206.9,830.5 204.0,830.2 203.6,828.0 205.6,826.9" fill="#282828" opacity="0.16"/>
<polygon points="429.6,859.1 433.0,855.7 441.7,859.0 438.4,864.7 430.5,866.2" fill="#ffffff" opacity="0.20"/>
<polygon points="190.2,732.9 188.6,740.1 180.5,740.4 175.9,734.4 180.5,732.5 189.3,728.2" fill="#ffffff" opacity="0.22"/>
<polygon points="353.6,882.0 349.8,878.7 356.2,874.4 363.5,880.4" fill="#181818" opacity="0.43"/>
<polygon points="286.6,697.3 291.2,694.5 291.8,699.9 288.5,700.9" fill="#ffffff" opacity="0.20"/>
<polygon points="524.6,904.7 527.6,908.1 526.0,910.3 520.1,909.9 520.4,904.3" fill="#282828" opacity="0.49"/>
<polygon points="284.4,748.9 279.0,745.0 281.9,740.5 286.1,741.9 286.0,746.1" fill="#181818" opacity="0.16"/>
<polygon points="487.3,824.6 489.9,821.6 491.7,823.0 491.0,825.0" fill="#ffffff" opacity="0.10"/>
<polygon points="254.2,830.5 256.7,832.0 257.6,836.0 253.5,837.4 251.2,834.1" fill="#404040" opacity="0.20"/>
<polygon points="424.4,855.0 419.1,857.5 417.5,856.2 415.9,853.3 419.3,851.0 424.6,851.6" fill="#ffffff" opacity="0.08"/>
<polygon points="110.3,844.6 111.4,840.8 115.6,840.2 116.7,841.8 118.3,845.9 113.8,845.7" fill="#404040" opacity="0.41"/>
<polygon points="295.8,798.3 292.4,800.4 290.8,799.3 288.7,796.6 291.2,794.7 293.3,795.4" fill="#181818" opacity="0.14"/>
<polygon points="47.1,780.4 43.9,779.7 39.5,774.1 43.2,770.8 49.9,771.5" fill="#ffffff" opacity="0.10"/>
<polygon points="253.0,731.5 251.9,727.6 256.8,725.6 260.5,727.6 258.9,731.4" fill="#ffffff" opacity="0.27"/>
<polygon points="272.7,824.7 267.2,830.2 263.0,828.0 261.1,824.1 261.4,821.2 267.6,820.6" fill="#181818" opacity="0.42"/>
<polygon points="269.9,747.0 264.5,747.4 258.7,741.6 263.5,737.9 272.1,741.5" fill="#282828" opacity="0.21"/>
<polygon points="233.5,823.6 235.2,825.0 232.2,826.8 229.1,825.2 229.2,823.7" fill="#181818" opacity="0.52"/>
<polygon points="157.2,827.1 159.7,830.0 153.1,831.6 152.8,828.6" fill="#ffffff" opacity="0.14"/>
<polygon points="90.7,785.3 91.6,782.5 93.8,782.6 93.7,785.4" fill="#ffffff" opacity="0.15"/>
<polygon points="406.8,843.2 398.3,847.0 395.4,847.1 393.7,839.7 399.4,839.1 403.9,838.4" fill="#282828" opacity="0.17"/>
<polygon points="392.5,785.0 381.1,784.7 382.1,779.6 384.5,776.5 392.3,777.1 395.6,781.8" fill="#282828" opacity="0.10"/>
<polygon points="508.3,792.3 515.6,795.7 513.8,800.7 503.9,799.9" fill="#181818" opacity="0.25"/>
<polygon points="386.4,786.7 380.7,788.8 377.0,783.0 383.9,781.2" fill="#ffffff" opacity="0.11"/>
<polygon points="416.0,782.1 425.5,779.3 425.8,784.3 420.7,788.2 417.6,786.7" fill="#282828" opacity="0.13"/>
<polygon points="14.0,804.1 17.4,807.0 16.3,810.4 12.2,807.7" fill="#181818" opacity="0.16"/>
<polygon points="471.8,791.7 470.0,787.8 472.1,784.4 476.4,786.3 475.8,789.8" fill="#282828" opacity="0.10"/>
<polygon points="527.1,874.0 533.6,871.1 540.5,877.0 533.7,880.5 526.1,880.9 526.3,878.8" fill="#ffffff" opacity="0.16"/>
<polygon points="510.7,890.8 509.6,889.5 510.8,887.0 512.6,886.8 513.8,888.3 513.2,889.9" fill="#ffffff" opacity="0.23"/>
<polygon points="219.8,702.6 213.5,705.9 209.2,701.7 213.2,698.0" fill="#ffffff" opacity="0.26"/>
<polygon points="174.4,842.7 181.3,840.0 186.6,842.6 184.4,846.1 176.7,845.7" fill="#282828" opacity="0.41"/>
<polygon points="212.5,753.9 208.5,759.4 201.1,756.7 207.8,749.9" fill="#ffffff" opacity="0.25"/>
<polygon points="509.2,886.3 512.4,886.1 515.9,889.8 509.1,893.4 504.8,889.6" fill="#282828" opacity="0.41"/>
<polygon points="389.4,870.4 388.0,864.5 397.6,865.3 395.2,869.9" fill="#282828" opacity="0.17"/>
<polygon points="27.8,850.6 28.0,854.3 25.4,855.0 22.1,852.8 24.1,850.0" fill="#282828" opacity="0.20"/>
<polygon points="383.4,817.1 375.7,813.1 380.0,807.9 387.9,814.5" fill="#ffffff" opacity="0.16"/>
<polygon points="301.5,855.2 302.2,861.8 297.8,862.6 287.2,860.5 288.6,855.7 293.6,854.4" fill="#ffffff" opacity="0.10"/>
<polygon points="179.7,764.5 179.9,769.7 172.8,769.8 171.2,766.2 174.6,761.7 179.6,761.8" fill="#ffffff" opacity="0.22"/>
<polygon points="347.4,769.6 350.5,768.9 352.5,770.0 353.9,772.6 350.8,773.6 345.8,773.3" fill="#404040" opacity="0.12"/>
<polygon points="420.3,863.5 420.5,868.2 415.7,869.9 414.1,866.7" fill="#ffffff" opacity="0.13"/>
<polygon points="5.5,789.9 7.8,796.9 -1.7,794.7 -0.6,789.9" fill="#ffffff" opacity="0.25"/>
<polygon points="507.6,907.7 501.6,908.2 496.8,909.7 495.3,903.4 498.3,900.6 506.5,902.2" fill="#ffffff" opacity="0.25"/>
<polygon points="512.6,905.6 505.5,905.3 506.6,899.6 514.9,898.6" fill="#181818" opacity="0.33"/>
<polygon points="458.0,855.9 460.0,854.6 463.6,855.5 462.7,856.7 461.5,859.4 459.5,859.2" fill="#ffffff" opacity="0.17"/>
<polygon points="410.1,790.1 406.8,798.6 400.6,800.0 397.9,793.0 402.3,790.7" fill="#404040" opacity="0.15"/>
<polygon points="450.3,830.7 444.9,826.2 455.8,822.6 459.9,828.7" fill="#ffffff" opacity="0.09"/>
<polygon points="180.1,796.0 181.4,793.6 184.8,794.9 182.9,796.7" fill="#181818" opacity="0.34"/>
<polygon points="342.0,775.0 347.2,776.3 346.2,778.3 343.3,781.3 339.2,778.2" fill="#ffffff" opacity="0.23"/>
<polygon points="508.6,874.6 513.3,871.8 518.3,871.4 522.1,876.0 518.9,878.3 512.6,881.0" fill="#404040" opacity="0.27"/>
<polygon points="260.5,769.4 257.6,765.4 258.6,760.4 262.4,760.7 268.7,762.1 267.0,769.5" fill="#ffffff" opacity="0.25"/>
<polygon points="444.2,908.2 446.1,906.9 448.5,908.3 447.2,909.9 444.4,910.5" fill="#282828" opacity="0.41"/>
<polygon points="380.9,821.9 378.2,825.6 372.2,825.3 372.0,821.1 375.6,817.4 379.4,817.0" fill="#181818" opacity="0.33"/>
<polygon points="116.2,771.3 121.2,769.2 126.8,775.9 119.4,780.3 114.6,777.0" fill="#ffffff" opacity="0.28"/>
<polygon points="217.4,840.9 217.9,835.2 226.2,836.6 228.6,840.1 225.7,844.1 219.8,843.9" fill="#ffffff" opacity="0.12"/>
<polygon points="287.0,813.8 282.9,812.9 281.4,810.4 283.8,807.6 286.2,809.9" fill="#181818" opacity="0.20"/>
<polygon points="331.9,764.8 329.0,766.2 324.3,762.9 325.7,759.0 331.9,758.2 335.1,761.8" fill="#ffffff" opacity="0.22"/>
<polygon points="250.5,797.9 248.6,796.5 251.6,794.8 253.7,795.6" fill="#181818" opacity="0.16"/>
<polygon points="189.4,767.6 196.5,769.4 196.5,773.3 188.2,772.4" fill="#404040" opacity="0.21"/>
<polygon points="407.9,890.4 406.3,889.2 406.0,887.1 407.3,886.6 409.0,888.4" fill="#282828" opacity="0.30"/>
<polygon points="69.6,760.1 70.4,765.8 66.3,767.2 63.3,763.6 67.0,759.3" fill="#ffffff" opacity="0.29"/>
<polygon points="256.2,844.3 257.2,842.6 258.6,841.4 260.8,843.7 258.9,845.7" fill="#ffffff" opacity="0.29"/>
<polygon points="224.0,806.2 224.5,811.2 217.7,812.1 217.4,806.8" fill="#181818" opacity="0.27"/>
<polygon points="229.8,819.1 225.7,814.9 229.0,813.5 233.1,813.6 234.8,815.9 233.9,819.1" fill="#282828" opacity="0.27"/>
<polygon points="204.7,854.4 206.4,856.1 206.6,857.5 202.8,858.3 201.2,856.1" fill="#181818" opacity="0.43"/>
<polygon points="334.1,840.1 341.3,841.2 340.6,844.0 335.4,845.4" fill="#181818" opacity="0.30"/>
<polygon points="69.4,856.2 69.8,852.6 73.0,850.7 76.9,853.3 76.5,855.1 72.2,857.4" fill="#ffffff" opacity="0.13"/>
<polygon points="35.6,831.8 37.6,829.8 40.0,830.7 39.9,833.9 37.4,834.1" fill="#404040" opacity="0.25"/>
<polygon points="246.8,735.8 244.4,737.6 242.5,737.7 240.2,735.1 242.1,732.0 245.1,733.2" fill="#282828" opacity="0.26"/>
<polygon points="470.3,880.4 467.6,874.9 472.3,872.3 475.5,877.9" fill="#404040" opacity="0.40"/>
<polygon points="458.9,906.5 463.0,906.9 465.9,906.5 463.4,912.2 458.9,913.2 456.1,910.1" fill="#282828" opacity="0.43"/>
<polygon points="398.2,789.8 407.9,786.8 413.2,794.5 403.2,798.6" fill="#ffffff" opacity="0.17"/>
<polygon points="505.4,914.2 510.5,913.2 512.5,921.1 504.0,920.4" fill="#404040" opacity="0.55"/>
<polygon points="427.1,890.1 430.4,895.2 429.7,898.2 426.5,900.7 420.9,897.0 419.8,893.0" fill="#181818" opacity="0.39"/>
<polygon points="526.2,876.8 518.5,874.5 520.9,869.8 525.4,869.7 527.9,873.5" fill="#404040" opacity="0.20"/>
<polygon points="423.5,817.3 418.3,820.0 414.9,817.6 416.1,814.0 419.9,812.8" fill="#181818" opacity="0.29"/>
<polygon points="188.9,732.9 185.3,728.9 189.7,723.3 195.2,728.3" fill="#404040" opacity="0.14"/>
<polygon points="484.8,843.1 481.1,843.3 480.4,838.8 484.0,837.8 489.5,839.3 488.9,840.9" fill="#ffffff" opacity="0.20"/>
<polygon points="376.8,832.2 370.6,834.7 367.9,831.4 372.7,827.7" fill="#181818" opacity="0.34"/>
<polygon points="306.7,784.4 312.2,790.9 310.9,796.2 301.4,793.4" fill="#ffffff" opacity="0.24"/>
<polygon points="212.3,843.3 213.8,842.3 217.3,843.2 217.4,844.2 214.6,846.8 213.4,845.5" fill="#181818" opacity="0.37"/>
<polygon points="195.5,848.4 189.3,845.5 189.9,840.5 196.8,839.8 201.1,840.0 200.2,845.9" fill="#ffffff" opacity="0.29"/>
<polygon points="484.5,882.4 480.5,885.0 477.9,883.4 481.5,879.8" fill="#282828" opacity="0.47"/>
<polygon points="413.7,796.9 411.0,791.8 417.8,787.4 421.8,791.8 418.3,797.5" fill="#ffffff" opacity="0.12"/>
<polygon points="366.7,788.3 361.7,783.8 367.8,779.6 373.1,779.1 374.2,782.8 372.0,789.9" fill="#ffffff" opacity="0.17"/>
<polygon points="384.3,846.6 383.9,843.1 390.8,842.7 390.2,845.9" fill="#282828" opacity="0.22"/>
<polygon points="197.4,790.3 196.6,792.6 193.5,792.3 189.9,791.3 192.5,788.8 195.1,788.6" fill="#404040" opacity="0.18"/>
<polygon points="279.2,715.7 279.6,718.3 275.4,719.4 274.6,715.6" fill="#181818" opacity="0.27"/>
<polygon points="455.5,827.4 458.9,831.3 455.7,836.2 450.5,831.3" fill="#181818" opacity="0.15"/>
<polygon points="334.9,811.9 328.4,808.9 330.9,804.9 337.0,805.3" fill="#ffffff" opacity="0.22"/>
<polygon points="97.2,873.1 98.6,870.5 103.9,869.4 107.7,873.0 105.2,876.4 98.5,875.1" fill="#282828" opacity="0.30"/>
<polygon points="350.2,823.0 353.5,822.1 353.7,825.5 350.9,826.3 348.3,826.0 348.7,822.7" fill="#404040" opacity="0.19"/>
<polygon points="215.1,740.5 217.6,743.0 214.2,746.1 210.0,744.2 211.7,739.9" fill="#ffffff" opacity="0.27"/>
<polygon points="523.6,851.9 532.2,849.6 534.3,853.8 526.4,856.7 523.3,853.7" fill="#181818" opacity="0.13"/>
<polygon points="173.7,766.1 168.9,762.8 172.0,759.2 177.3,762.4" fill="#282828" opacity="0.12"/>
<polygon points="91.0,862.7 96.5,864.7 97.1,870.5 92.2,871.1 88.1,869.7 88.8,863.5" fill="#282828" opacity="0.20"/>
<polygon points="299.7,798.2 305.4,798.1 306.5,804.5 296.5,805.9" fill="#181818" opacity="0.24"/>
<polygon points="53.9,781.1 56.3,781.4 58.2,781.9 58.2,783.3 56.2,785.3 54.9,784.2" fill="#404040" opacity="0.24"/>
<polygon points="536.3,854.4 531.8,860.0 524.8,855.9 525.0,853.7 531.1,848.6 535.4,852.8" fill="#ffffff" opacity="0.13"/>
<polygon points="493.0,847.8 492.0,849.8 489.4,850.3 487.1,847.7 488.5,846.6 492.1,846.2" fill="#ffffff" opacity="0.17"/>
<polygon points="143.8,866.9 147.0,868.3 147.7,869.5 144.8,870.2 141.2,869.4 143.2,867.6" fill="#ffffff" opacity="0.20"/>
<polygon points="8.5,789.0 12.5,789.0 14.0,790.9 12.2,793.2 8.5,792.7 7.2,791.6" fill="#ffffff" opacity="0.29"/>
<polygon points="241.1,710.1 245.3,710.5 244.0,712.8 241.3,715.0 239.8,711.1" fill="#ffffff" opacity="0.08"/>
<polygon points="135.0,753.7 141.5,755.8 139.6,762.2 129.0,758.4" fill="#ffffff" opacity="0.30"/>
<polygon points="461.4,846.5 459.0,841.3 466.6,839.4 465.4,846.2" fill="#ffffff" opacity="0.08"/>
<polygon points="109.2,832.2 102.6,832.0 103.4,823.8 113.8,828.4" fill="#282828" opacity="0.32"/>
<polygon points="375.8,854.4 373.0,853.6 375.2,849.8 378.6,847.5 381.1,850.1 380.8,854.3" fill="#ffffff" opacity="0.19"/>
<polygon points="211.7,765.8 205.5,768.2 205.2,764.1 208.7,761.6" fill="#404040" opacity="0.15"/>
<polygon points="517.4,886.8 520.7,884.4 527.5,888.3 526.0,891.8 520.9,893.0" fill="#181818" opacity="0.50"/>
<polygon points="286.5,732.3 290.6,727.7 294.6,730.3 293.7,734.8" fill="#181818" opacity="0.13"/>
<polygon points="242.2,812.2 237.8,807.6 242.2,802.9 252.2,808.9" fill="#404040" opacity="0.44"/>
<polygon points="317.1,729.7 312.7,729.2 314.7,724.8 318.9,725.7 320.5,728.4" fill="#ffffff" opacity="0.19"/>
<polygon points="161.7,808.7 165.2,808.0 167.6,808.6 167.0,811.1 164.2,812.8" fill="#282828" opacity="0.14"/>
<polygon points="399.8,897.8 395.1,898.9 392.0,896.4 395.0,891.5 401.1,894.1" fill="#181818" opacity="0.45"/>
<polygon points="248.6,731.7 247.7,727.2 256.2,726.5 254.5,731.6" fill="#404040" opacity="0.22"/>
<polygon points="512.3,816.2 507.9,811.1 512.8,804.5 518.2,807.3 520.1,815.1" fill="#282828" opacity="0.20"/>
<polygon points="479.2,906.9 472.9,910.7 465.0,909.6 464.1,904.7 470.6,900.8 476.5,902.2" fill="#181818" opacity="0.17"/>
<polygon points="311.8,765.3 309.4,764.3 308.2,761.4 309.6,759.1 314.1,760.7 314.6,764.4" fill="#ffffff" opacity="0.11"/>
<polygon points="488.1,915.0 491.4,911.6 495.4,913.5 494.4,918.2 487.4,919.9" fill="#404040" opacity="0.55"/>
<polygon points="177.0,780.4 178.1,783.9 175.6,786.2 172.3,784.0 171.5,781.6 172.3,780.2" fill="#404040" opacity="0.15"/>
<polygon points="97.1,809.9 97.5,807.3 97.3,802.2 103.6,801.0 105.4,805.6 105.8,810.3" fill="#282828" opacity="0.34"/>
<polygon points="299.6,690.2 307.3,696.5 296.5,698.3 293.4,694.8" fill="#ffffff" opacity="0.17"/>
<polygon points="350.7,870.2 357.0,866.8 361.9,872.0 352.3,875.4" fill="#404040" opacity="0.32"/>
<polygon points="389.3,867.7 388.0,866.4 389.8,862.2 393.8,861.6 395.6,865.6 394.9,869.3" fill="#ffffff" opacity="0.29"/>
<polygon points="372.8,776.4 371.6,772.8 376.3,772.6 378.9,775.6 374.3,777.4" fill="#ffffff" opacity="0.12"/>
<polygon points="512.5,787.7 518.0,793.5 514.6,799.0 506.1,798.7 505.1,791.8 507.3,786.6" fill="#282828" opacity="0.12"/>
<polygon points="459.6,825.8 461.4,825.8 464.0,827.6 463.2,830.2 459.4,829.9 458.2,827.9" fill="#404040" opacity="0.18"/>
<polygon points="31.1,830.0 31.2,832.9 27.5,832.6 25.3,830.1 24.9,828.6 28.2,827.8" fill="#ffffff" opacity="0.17"/>
<polygon points="14.2,853.1 8.0,850.4 14.1,845.8 20.8,847.5" fill="#282828" opacity="0.21"/>
<polygon points="35.4,826.7 32.4,829.4 29.7,826.3 33.6,824.4" fill="#282828" opacity="0.16"/>
<polygon points="382.1,885.4 386.5,889.9 380.7,894.0 375.3,895.0 371.8,886.5 376.0,884.2" fill="#404040" opacity="0.25"/>
<polygon points="395.0,893.2 388.8,888.8 390.8,885.8 399.9,889.5" fill="#404040" opacity="0.18"/>
<polygon points="161.8,748.2 166.6,747.6 171.3,751.1 167.6,754.3 162.7,753.9 161.2,752.3" fill="#ffffff" opacity="0.24"/>
<polygon points="27.8,866.3 27.5,868.9 23.9,869.5 23.3,866.5" fill="#181818" opacity="0.49"/>
<polygon points="478.7,785.9 475.1,792.3 471.9,791.4 465.5,788.7 467.1,784.0 475.0,783.7" fill="#282828" opacity="0.10"/>
<polygon points="142.9,833.7 147.7,833.0 147.5,835.3 143.3,837.1" fill="#404040" opacity="0.43"/>
<polygon points="303.0,800.5 298.2,802.5 294.3,794.0 300.1,791.8 304.8,794.8 307.2,796.3" fill="#282828" opacity="0.43"/>
<polygon points="498.0,875.3 499.2,871.9 506.1,871.3 508.0,876.8 506.2,877.9 499.9,879.4" fill="#ffffff" opacity="0.25"/>
<polygon points="486.3,807.1 481.7,805.2 482.6,801.3 487.2,800.4 489.4,802.2 489.1,804.6" fill="#181818" opacity="0.27"/>
<polygon points="399.7,894.5 403.5,895.4 407.1,897.3 402.8,900.8 397.7,899.9 398.1,896.4" fill="#404040" opacity="0.28"/>
<polygon points="286.6,743.4 284.6,742.4 287.7,737.9 293.3,740.8 293.4,743.6" fill="#404040" opacity="0.12"/>
<polygon points="31.1,821.7 26.4,825.8 23.1,826.4 19.3,825.1 21.0,821.3 24.4,819.9" fill="#181818" opacity="0.13"/>
<polygon points="162.4,756.7 157.3,752.0 160.5,748.7 169.7,755.5" fill="#282828" opacity="0.12"/>
<polygon points="250.8,788.5 246.6,787.6 247.7,784.5 250.6,784.8" fill="#282828" opacity="0.36"/>
<polygon points="416.1,840.5 418.3,835.6 425.5,835.5 423.7,842.9" fill="#404040" opacity="0.32"/>
<polygon points="192.0,796.8 197.8,796.1 201.7,801.9 201.5,805.8 192.7,803.0" fill="#ffffff" opacity="0.20"/>
<polygon points="474.2,913.1 473.5,916.9 471.1,918.8 465.7,915.8 469.3,909.5" fill="#404040" opacity="0.24"/>
<polygon points="371.1,803.9 369.7,807.4 361.5,807.0 360.7,802.6 365.0,800.8" fill="#282828" opacity="0.28"/>
<polygon points="111.4,798.2 117.2,798.8 116.3,805.4 113.1,806.2 106.9,804.9 106.8,802.0" fill="#ffffff" opacity="0.14"/>
<polygon points="468.1,805.2 467.0,801.6 471.0,802.0 470.6,804.8" fill="#ffffff" opacity="0.14"/>
<polygon points="186.9,830.2 184.2,834.1 178.4,833.0 177.8,829.6 178.6,823.9 185.5,826.8" fill="#ffffff" opacity="0.22"/>
<polygon points="340.6,792.8 344.9,795.6 344.6,803.2 333.1,800.6 330.3,795.8" fill="#282828" opacity="0.18"/>
<polygon points="384.8,866.7 390.5,862.0 398.5,867.2 392.0,872.8" fill="#404040" opacity="0.48"/>
<polygon points="192.0,751.2 192.2,759.3 184.9,759.5 185.7,750.6" fill="#ffffff" opacity="0.11"/>
<polygon points="470.1,903.8 471.8,904.1 471.3,906.8 470.2,907.4 467.8,905.4 468.0,905.0" fill="#181818" opacity="0.55"/>
<polygon points="281.6,732.8 288.4,728.3 291.4,733.7 285.9,737.7" fill="#181818" opacity="0.11"/>
<polygon points="147.1,793.2 148.5,796.8 146.1,797.6 142.6,796.8 142.6,792.5" fill="#ffffff" opacity="0.22"/>
<polygon points="278.7,846.5 276.1,845.6 276.9,839.7 282.6,837.4 286.5,840.8 286.5,847.8" fill="#282828" opacity="0.35"/>
<polygon points="140.5,795.6 140.8,803.7 131.5,801.9 129.6,795.6" fill="#282828" opacity="0.32"/>
<polygon points="5.3,829.5 3.1,830.4 0.7,830.1 -2.8,828.9 -0.8,825.2 4.2,825.9" fill="#282828" opacity="0.26"/>
<polygon points="69.7,839.4 75.0,838.9 76.5,848.3 66.8,845.0" fill="#282828" opacity="0.15"/>
<polygon points="390.2,795.6 388.3,791.1 391.9,787.9 399.6,787.9 401.4,793.3 393.2,798.4" fill="#404040" opacity="0.19"/>
<polygon points="418.6,830.1 419.8,826.5 428.5,825.7 430.0,828.0 428.0,832.3 424.8,833.6" fill="#181818" opacity="0.29"/>
<polygon points="371.3,859.9 369.5,861.5 367.2,862.2 364.8,859.8 366.4,858.8 368.8,857.5" fill="#181818" opacity="0.44"/>
<polygon points="96.4,896.3 93.9,897.4 91.7,895.8 95.2,894.5" fill="#ffffff" opacity="0.12"/>
<polygon points="152.6,863.9 152.3,865.4 149.3,867.3 148.2,864.2 148.6,862.6 150.8,862.8" fill="#181818" opacity="0.17"/>
<polygon points="106.3,799.5 105.7,802.1 98.3,801.7 97.0,796.4 104.6,794.9" fill="#404040" opacity="0.31"/>
<polygon points="407.8,830.5 401.8,835.8 395.3,831.9 402.1,827.7" fill="#ffffff" opacity="0.14"/>
<polygon points="183.5,813.8 179.3,814.5 178.5,810.8 180.7,808.5 183.6,811.2" fill="#282828" opacity="0.32"/>
<polygon points="121.2,858.2 121.9,855.7 124.7,855.8 127.5,857.1 123.3,859.2" fill="#181818" opacity="0.26"/>
<polygon points="463.2,831.1 461.3,838.6 459.6,841.7 451.7,839.1 449.5,834.9 456.3,830.7" fill="#ffffff" opacity="0.16"/>
<polygon points="108.0,887.7 103.5,889.6 98.7,887.0 102.6,883.5 106.3,885.5" fill="#ffffff" opacity="0.15"/>
<polygon points="408.4,841.8 404.5,837.7 412.0,833.6 418.1,837.5 416.2,843.9" fill="#181818" opacity="0.16"/>
<polygon points="390.7,860.9 398.9,862.9 391.9,868.8 387.5,865.0" fill="#ffffff" opacity="0.13"/>
<polygon points="293.4,825.8 292.2,822.5 298.7,819.8 303.6,821.4 302.6,826.7 298.1,827.1" fill="#ffffff" opacity="0.30"/>
<polygon points="438.8,899.5 437.9,895.4 439.8,894.6 445.4,893.9 445.5,895.7 443.4,898.3" fill="#282828" opacity="0.21"/>
<polygon points="110.0,865.8 107.3,865.8 105.4,862.7 107.2,861.6 111.7,862.9" fill="#282828" opacity="0.41"/>
<polygon points="470.3,801.0 476.2,805.9 471.7,812.6 465.0,811.1 460.7,806.2" fill="#ffffff" opacity="0.23"/>
<polygon points="295.1,846.4 287.9,840.3 293.8,836.0 300.2,839.3" fill="#181818" opacity="0.43"/>
<polygon points="125.0,804.6 116.6,801.9 115.8,799.1 120.8,794.0 123.2,794.2 129.1,798.8" fill="#181818" opacity="0.26"/>
<polygon points="511.8,835.7 509.6,827.9 517.3,822.4 520.6,829.1 519.8,835.2" fill="#ffffff" opacity="0.14"/>
<polygon points="384.1,861.9 381.0,865.9 375.1,865.7 379.9,859.1" fill="#181818" opacity="0.17"/>
<polygon points="285.0,854.3 278.9,855.0 279.8,850.7 286.6,850.8" fill="#ffffff" opacity="0.11"/>
<polygon points="529.0,880.8 534.2,880.0 534.9,882.5 533.7,884.7 531.5,886.9 528.0,883.9" fill="#181818" opacity="0.31"/>
<polygon points="373.3,788.9 375.0,787.3 376.5,789.1 375.9,790.6 374.5,791.0 372.4,789.6" fill="#ffffff" opacity="0.21"/>
<polygon points="371.8,893.0 380.2,889.7 384.2,894.3 381.8,897.7 378.4,899.1 374.2,898.3" fill="#282828" opacity="0.36"/>
<polygon points="103.7,850.2 109.2,847.7 112.7,851.3 109.8,853.7 105.9,854.4" fill="#181818" opacity="0.32"/>
<polygon points="213.7,854.0 213.9,849.9 219.9,849.3 225.9,854.7 223.1,856.5 218.0,859.2" fill="#404040" opacity="0.34"/>
<polygon points="366.6,841.5 368.3,844.7 364.8,847.0 361.1,845.8 361.7,842.4 364.9,841.0" fill="#ffffff" opacity="0.16"/>
<polygon points="84.4,833.1 87.4,832.6 88.7,834.3 87.0,836.2 85.1,836.0" fill="#ffffff" opacity="0.28"/>
<polygon points="336.0,793.6 331.7,788.4 332.9,786.1 340.4,784.8 340.6,788.5" fill="#ffffff" opacity="0.13"/>
<polygon points="459.2,793.1 451.8,793.8 448.8,786.4 452.5,785.4 458.5,789.0" fill="#ffffff" opacity="0.26"/>
<polygon points="16.0,839.1 18.2,841.1 18.5,843.4 15.2,844.3 13.2,842.8 13.0,841.2" fill="#282828" opacity="0.21"/>
<polygon points="382.5,828.8 387.9,827.7 391.6,829.9 391.7,832.3 384.1,833.9 383.0,830.2" fill="#ffffff" opacity="0.23"/>
<polygon points="69.9,807.5 71.5,810.1 70.1,811.9 66.9,812.1 66.9,810.6 67.4,808.2" fill="#ffffff" opacity="0.23"/>
<polygon points="154.8,739.3 156.8,736.7 159.9,735.5 162.4,737.7 158.4,739.9" fill="#181818" opacity="0.12"/>
<polygon points="250.4,724.7 253.0,721.5 259.4,721.0 261.1,728.6 256.1,729.7" fill="#282828" opacity="0.17"/>
<polygon points="363.7,807.4 366.0,814.3 362.9,817.3 353.9,813.9 358.3,805.3" fill="#ffffff" opacity="0.18"/>
<polygon points="324.1,853.3 329.2,856.8 328.0,859.1 324.1,860.4 320.4,858.1 321.0,854.7" fill="#181818" opacity="0.39"/>
<polygon points="60.7,824.7 65.6,829.6 57.3,833.7 52.8,828.6" fill="#404040" opacity="0.29"/>
<polygon points="103.9,774.3 102.7,772.0 105.7,766.4 110.8,767.6 111.3,774.2" fill="#404040" opacity="0.09"/>
<polygon points="325.5,747.0 320.5,743.1 323.7,740.6 327.8,738.8 331.0,744.4" fill="#282828" opacity="0.20"/>
<polygon points="344.1,796.8 347.7,801.5 344.4,802.8 339.6,800.4 341.5,796.8" fill="#404040" opacity="0.30"/>
<polygon points="173.2,876.9 169.3,874.1 172.2,872.2 175.8,874.6" fill="#ffffff" opacity="0.21"/>
<polygon points="66.5,805.3 62.8,807.4 61.0,804.5 64.5,802.9" fill="#404040" opacity="0.34"/>
<polygon points="492.9,802.3 497.4,802.1 499.3,807.6 494.2,811.1 489.8,808.9" fill="#ffffff" opacity="0.29"/>
<polygon points="474.4,819.1 471.4,817.0 472.3,815.3 477.3,816.4" fill="#ffffff" opacity="0.29"/>
<polygon points="523.6,834.1 519.1,834.5 518.2,829.7 524.7,828.0 529.3,833.1" fill="#ffffff" opacity="0.09"/>
<polygon points="105.9,785.1 109.9,780.0 121.0,781.2 122.1,784.3 112.4,788.9" fill="#ffffff" opacity="0.10"/>
<polygon points="127.8,854.5 126.6,858.2 121.8,857.6 121.5,853.4" fill="#181818" opacity="0.30"/>
<polygon points="205.6,722.3 204.0,727.5 199.4,727.2 198.2,722.9 201.7,720.8" fill="#ffffff" opacity="0.13"/>
<polygon points="351.7,868.1 349.5,866.7 350.1,863.1 355.9,862.9 357.5,866.8" fill="#282828" opacity="0.24"/>
<polygon points="448.5,840.6 444.2,843.6 441.7,841.9 442.5,838.0 446.2,837.5 449.5,838.8" fill="#ffffff" opacity="0.28"/>
<polygon points="112.4,785.9 117.0,784.4 120.8,789.0 115.4,792.6 110.1,793.3 108.3,786.0" fill="#282828" opacity="0.12"/>
<polygon points="131.9,857.3 129.0,855.1 132.8,853.0 135.8,855.4" fill="#282828" opacity="0.28"/>
<polygon points="9.1,867.8 12.3,867.7 13.1,870.2 9.0,870.7" fill="#ffffff" opacity="0.13"/>
<polygon points="381.8,782.5 377.2,781.3 373.7,779.5 375.8,775.4 383.4,775.7" fill="#181818" opacity="0.14"/>
<polygon points="123.0,780.1 126.0,785.7 117.1,790.3 112.6,785.2 117.8,780.0" fill="#404040" opacity="0.26"/>
<polygon points="246.2,730.1 251.6,730.3 249.0,735.6 241.1,735.7 239.6,731.2" fill="#181818" opacity="0.16"/>
<polygon points="519.8,873.7 519.6,870.9 526.5,870.2 526.6,876.0 522.1,876.3" fill="#404040" opacity="0.20"/>
<polygon points="304.9,810.5 307.3,803.7 308.8,801.7 315.4,806.7 315.3,811.1 309.6,810.3" fill="#282828" opacity="0.31"/>
<polygon points="213.2,708.3 218.8,712.6 213.7,716.8 209.6,715.7 205.7,710.0 210.4,705.9" fill="#ffffff" opacity="0.30"/>
<polygon points="422.8,857.1 424.2,854.7 426.7,856.3 426.7,857.9 424.1,859.3 422.6,857.7" fill="#282828" opacity="0.24"/>
<polygon points="66.0,867.1 66.0,862.2 69.4,860.1 73.6,859.8 74.3,865.6 69.6,866.4" fill="#282828" opacity="0.47"/>
<polygon points="499.9,904.8 494.5,903.2 497.3,899.6 501.8,901.5" fill="#181818" opacity="0.40"/>
<polygon points="24.3,891.8 30.7,888.0 38.4,889.5 36.1,896.4 30.4,897.9" fill="#404040" opacity="0.48"/>
<polygon points="431.2,884.6 428.7,881.6 431.7,878.9 434.3,882.3" fill="#282828" opacity="0.50"/>
<polygon points="271.5,717.3 275.8,718.3 275.0,721.5 270.2,721.7" fill="#ffffff" opacity="0.26"/>
<polygon points="521.3,896.3 526.7,898.3 525.2,902.6 519.7,902.9" fill="#181818" opacity="0.22"/>
<polygon points="306.8,734.2 311.0,731.9 315.5,737.3 315.0,741.5 309.4,743.7 305.1,737.0" fill="#404040" opacity="0.18"/>
<polygon points="258.3,693.1 258.7,689.6 262.3,690.8 259.8,693.7" fill="#282828" opacity="0.19"/>
<polygon points="253.0,846.8 255.1,843.3 262.8,843.8 264.9,847.8 256.3,853.2" fill="#181818" opacity="0.51"/>
<polygon points="95.3,861.4 95.0,853.1 99.4,854.9 104.1,858.6 100.1,862.2" fill="#282828" opacity="0.45"/>
<polygon points="144.4,829.1 142.0,822.0 152.1,820.7 156.8,823.9 148.6,830.9" fill="#181818" opacity="0.35"/>
<polygon points="179.9,859.8 181.3,862.5 177.7,862.4 177.2,861.0" fill="#181818" opacity="0.46"/>
<polygon points="405.4,899.4 410.8,902.2 403.4,906.7 397.1,905.6 399.4,899.0" fill="#181818" opacity="0.54"/>
<polygon points="192.4,859.9 191.1,860.9 187.6,859.5 188.9,858.3 191.7,858.1" fill="#181818" opacity="0.41"/>
<polygon points="509.0,886.3 508.5,882.6 510.9,879.5 514.3,882.9 515.1,885.0" fill="#404040" opacity="0.32"/>
<polygon points="159.2,746.2 162.7,746.8 162.7,751.9 156.4,749.7" fill="#282828" opacity="0.13"/>
<polygon points="379.3,771.3 383.9,779.1 373.8,779.5 369.2,771.3" fill="#ffffff" opacity="0.23"/>
<polygon points="345.7,849.4 352.9,852.2 351.4,859.4 343.4,857.9 339.8,852.2" fill="#282828" opacity="0.26"/>
<polygon points="208.5,782.3 208.8,787.3 204.5,789.9 200.7,785.1 203.7,782.4" fill="#ffffff" opacity="0.30"/>
<polygon points="468.4,848.2 481.1,846.8 479.0,853.5 471.7,856.0" fill="#404040" opacity="0.40"/>
<polygon points="84.8,789.0 85.6,790.9 83.2,791.8 81.2,789.1 81.9,788.2" fill="#181818" opacity="0.24"/>
<polygon points="173.6,822.3 178.5,824.5 180.3,828.8 175.9,832.7 170.0,827.7 170.5,826.0" fill="#181818" opacity="0.21"/>
<polygon points="30.9,814.0 25.7,819.8 21.1,817.7 18.5,811.0 21.9,807.6 29.0,807.2" fill="#ffffff" opacity="0.18"/>
<polygon points="159.5,864.0 159.8,866.4 157.3,867.4 154.4,865.8 155.8,864.3" fill="#181818" opacity="0.45"/>
<polygon points="275.2,724.3 271.3,724.2 272.4,717.3 277.3,718.1" fill="#ffffff" opacity="0.10"/>
<polygon points="89.1,845.3 83.3,843.9 84.5,839.8 88.6,837.9 90.2,840.0 92.4,844.0" fill="#ffffff" opacity="0.20"/>
<polygon points="466.6,851.7 469.1,853.4 469.9,855.6 466.8,856.1 464.2,854.2" fill="#282828" opacity="0.18"/>
<polygon points="336.3,782.0 335.4,779.3 342.5,775.2 345.2,779.7 346.8,783.7 340.0,786.1" fill="#282828" opacity="0.24"/>
<polygon points="60.8,887.0 65.0,885.9 68.3,889.6 60.8,891.2" fill="#ffffff" opacity="0.23"/>
<polygon points="316.0,744.8 323.3,743.2 328.1,745.2 323.6,748.6 319.0,747.9" fill="#282828" opacity="0.28"/>
<polygon points="267.6,794.2 270.6,798.0 266.6,800.1 263.0,796.7" fill="#ffffff" opacity="0.18"/>
<polygon points="507.0,850.4 500.8,848.4 499.9,846.9 504.7,841.7 509.5,845.5 509.5,848.7" fill="#282828" opacity="0.15"/>
<polygon points="495.6,779.3 492.3,776.7 498.3,773.3 501.9,772.4 504.4,775.0 498.4,778.6" fill="#ffffff" opacity="0.22"/>
<polygon points="168.0,872.2 169.4,868.7 174.2,868.1 176.9,873.0 170.0,874.3" fill="#404040" opacity="0.36"/></g></g>
<g filter="url(#bl1)"><ellipse cx="416.7" cy="856.3" rx="15" ry="13" fill="#f4f4f4"/><ellipse cx="80.5" cy="845.7" rx="12" ry="11" fill="#ececec"/><ellipse cx="57.5" cy="832" rx="8" ry="7" fill="#e0e0e0"/><ellipse cx="161" cy="788" rx="8" ry="4.5" fill="#e8e8e8"/></g>
<g clip-path="url(#fB)"><path d="M0.0 764.0 L29.5 762.0 L49.0 769.0 L64.0 749.5 L74.0 740.0 L88.0 737.0 L98.0 754.0 L118.0 769.0 L128.0 749.5 L147.0 742.0 L167.0 735.0 L187.0 730.0 L206.0 710.0 L226.0 690.5 L255.0 690.5 L285.0 685.6 L305.0 688.0 L322.0 695.5 L330.0 764.0 L354.0 769.0 L393.0 769.0 L422.0 779.0 L442.0 789.0 L462.0 779.0 L491.0 774.0 L534.0 779.0" stroke="#f0f0f0" stroke-width="24" fill="none" filter="url(#bl8)" opacity="0.5"/></g>
<path d="M0.0 892.0 L49.0 894.4 L98.0 897.0 L128.0 898.6 L147.0 890.0 L172.0 876.0 L200.0 858.0 L230.0 855.5 L260.0 856.0 L290.0 859.0 L320.0 868.0 L350.0 883.0 L380.6 898.0 L410.6 910.5 L440.7 918.0 L470.8 921.0 L501.0 919.5 L534.0 915.0 L534.0 1087.0 L0.0 1087.0 Z" fill="#2a2a2a" stroke="#2a2a2a" stroke-width="1.2"/>
<clipPath id="icp5"><rect x="324.4" y="553.6" width="208.8" height="210.6"/></clipPath>
<radialGradient id="ig5" cx="428.3" cy="659.3" r="189.5" gradientUnits="userSpaceOnUse"><stop offset="0" stop-color="#7a7a7a"/><stop offset="0.05" stop-color="#525252"/><stop offset="0.15" stop-color="#3a3a3a"/><stop offset="0.4" stop-color="#2c2c2c"/><stop offset="1" stop-color="#1e1e1e"/></radialGradient>
<rect x="324.4" y="553.6" width="208.8" height="210.6" fill="url(#ig5)" stroke="#111" stroke-width="1.2"/>
<g clip-path="url(#icp5)">
<circle cx="428.3" cy="659.3" r="39.0" fill="none" stroke="#8a8a8a" stroke-width="2.2" opacity="0.60"/>
<circle cx="428.3" cy="659.3" r="59.0" fill="none" stroke="#6a6a6a" stroke-width="1.8" opacity="0.40"/>
<circle cx="428.3" cy="659.3" r="72.0" fill="none" stroke="#5a5a5a" stroke-width="1.5" opacity="0.30"/>
<circle cx="428.3" cy="659.3" r="83.0" fill="none" stroke="#6a6a6a" stroke-width="2.0" opacity="0.40"/>
<circle cx="428.3" cy="659.3" r="95.0" fill="none" stroke="#5a5a5a" stroke-width="1.8" opacity="0.35"/>
<circle cx="428.3" cy="659.3" r="108.0" fill="none" stroke="#505050" stroke-width="1.6" opacity="0.30"/>
<circle cx="428.3" cy="659.3" r="121.0" fill="none" stroke="#4a4a4a" stroke-width="1.6" opacity="0.28"/>
<circle cx="428.3" cy="659.3" r="135.0" fill="none" stroke="#444" stroke-width="1.5" opacity="0.25"/>
<circle cx="455.1" cy="567.4" r="1.8" fill="#808080"/>
<circle cx="434.8" cy="619.8" r="1.0" fill="#ffffff"/>
<circle cx="358.8" cy="673.0" r="1.0" fill="#909090"/>
<circle cx="487.3" cy="664.2" r="1.0" fill="#909090"/>
<circle cx="491.6" cy="589.7" r="1.2" fill="#d8d8d8"/>
<circle cx="385.5" cy="620.3" r="1.0" fill="#d8d8d8"/>
<circle cx="468.7" cy="660.6" r="1.0" fill="#d8d8d8"/>
<circle cx="497.6" cy="642.2" r="1.4" fill="#d8d8d8"/>
<circle cx="401.6" cy="591.0" r="1.2" fill="#b0b0b0"/>
<circle cx="447.7" cy="692.6" r="1.0" fill="#b0b0b0"/>
<circle cx="452.3" cy="606.0" r="1.4" fill="#ffffff"/>
<circle cx="362.7" cy="743.5" r="1.0" fill="#909090"/>
<circle cx="322.8" cy="677.7" r="1.0" fill="#ffffff"/>
<circle cx="523.7" cy="673.1" r="1.8" fill="#b0b0b0"/>
<circle cx="456.4" cy="543.1" r="1.0" fill="#909090"/>
<circle cx="418.1" cy="621.8" r="1.4" fill="#d8d8d8"/>
<circle cx="482.3" cy="633.7" r="1.2" fill="#b0b0b0"/>
<circle cx="427.7" cy="768.5" r="1.2" fill="#ffffff"/>
<circle cx="534.5" cy="684.2" r="0.8" fill="#d8d8d8"/>
<circle cx="358.1" cy="741.4" r="1.0" fill="#b0b0b0"/>
<circle cx="335.9" cy="632.4" r="1.0" fill="#b0b0b0"/>
<circle cx="511.2" cy="703.7" r="1.0" fill="#b0b0b0"/>
<circle cx="556.1" cy="699.5" r="1.4" fill="#808080"/>
<circle cx="421.2" cy="539.9" r="1.0" fill="#b0b0b0"/>
<circle cx="510.9" cy="766.7" r="1.8" fill="#ffffff"/>
<circle cx="464.2" cy="788.9" r="1.8" fill="#808080"/>
<circle cx="445.4" cy="589.0" r="0.8" fill="#d8d8d8"/>
<circle cx="540.8" cy="702.8" r="1.2" fill="#b0b0b0"/>
<circle cx="500.2" cy="659.0" r="1.0" fill="#808080"/>
<circle cx="377.2" cy="532.9" r="1.0" fill="#909090"/>
<circle cx="350.7" cy="712.9" r="1.0" fill="#ffffff"/>
<circle cx="308.8" cy="635.1" r="1.0" fill="#909090"/>
<circle cx="321.4" cy="664.8" r="1.4" fill="#808080"/>
<circle cx="458.2" cy="556.9" r="1.0" fill="#808080"/>
<circle cx="402.3" cy="689.4" r="1.8" fill="#b0b0b0"/>
<circle cx="561.6" cy="643.3" r="1.8" fill="#b0b0b0"/>
<circle cx="333.5" cy="606.7" r="0.8" fill="#909090"/>
<circle cx="414.3" cy="752.7" r="1.0" fill="#808080"/>
<circle cx="361.9" cy="574.7" r="1.8" fill="#909090"/>
<circle cx="479.4" cy="755.9" r="1.8" fill="#909090"/>
<circle cx="319.6" cy="646.9" r="1.4" fill="#d8d8d8"/>
<circle cx="505.9" cy="627.1" r="1.2" fill="#b0b0b0"/>
<circle cx="421.0" cy="600.1" r="1.0" fill="#808080"/>
<circle cx="314.6" cy="619.8" r="1.8" fill="#b0b0b0"/>
<circle cx="395.7" cy="639.6" r="1.4" fill="#d8d8d8"/>
<circle cx="463.7" cy="735.2" r="1.8" fill="#ffffff"/>
<circle cx="497.2" cy="777.1" r="1.0" fill="#ffffff"/>
<circle cx="319.5" cy="671.2" r="1.4" fill="#ffffff"/>
<circle cx="340.0" cy="741.9" r="1.4" fill="#ffffff"/>
<circle cx="495.8" cy="612.3" r="0.8" fill="#b0b0b0"/>
<circle cx="503.8" cy="563.0" r="0.8" fill="#808080"/>
<circle cx="324.2" cy="625.5" r="1.0" fill="#ffffff"/>
<circle cx="377.6" cy="739.8" r="1.4" fill="#b0b0b0"/>
<circle cx="333.1" cy="712.3" r="1.4" fill="#808080"/>
<circle cx="488.0" cy="749.2" r="1.2" fill="#808080"/>
<circle cx="561.9" cy="632.1" r="1.4" fill="#ffffff"/>
<circle cx="370.9" cy="566.7" r="1.2" fill="#ffffff"/>
<circle cx="347.2" cy="587.7" r="1.0" fill="#b0b0b0"/>
<circle cx="547.8" cy="641.7" r="1.2" fill="#b0b0b0"/>
<circle cx="329.0" cy="752.8" r="1.0" fill="#808080"/>
<circle cx="398.3" cy="750.2" r="1.0" fill="#909090"/>
<circle cx="466.6" cy="655.5" r="1.2" fill="#b0b0b0"/>
<circle cx="480.1" cy="709.2" r="1.4" fill="#909090"/>
<circle cx="444.6" cy="578.5" r="1.2" fill="#ffffff"/>
<circle cx="408.2" cy="792.9" r="1.2" fill="#ffffff"/>
<circle cx="474.5" cy="590.4" r="1.8" fill="#b0b0b0"/>
<circle cx="523.2" cy="654.8" r="1.4" fill="#808080"/>
<circle cx="468.7" cy="700.3" r="1.0" fill="#808080"/>
<circle cx="415.6" cy="551.7" r="0.8" fill="#909090"/>
<circle cx="424.9" cy="551.8" r="1.4" fill="#d8d8d8"/>
<circle cx="392.9" cy="647.0" r="1.8" fill="#ffffff"/>
<circle cx="442.8" cy="579.0" r="1.2" fill="#808080"/>
<circle cx="502.1" cy="545.0" r="1.2" fill="#909090"/>
<circle cx="346.1" cy="677.6" r="0.8" fill="#b0b0b0"/>
<circle cx="392.2" cy="675.5" r="1.0" fill="#909090"/>
<circle cx="335.2" cy="672.0" r="1.4" fill="#909090"/>
<circle cx="331.8" cy="708.0" r="1.4" fill="#ffffff"/>
<circle cx="421.9" cy="718.6" r="0.8" fill="#ffffff"/>
<circle cx="393.5" cy="675.8" r="0.8" fill="#909090"/>
<circle cx="501.4" cy="547.4" r="1.0" fill="#808080"/>
<circle cx="467.8" cy="703.9" r="1.0" fill="#909090"/>
<circle cx="456.4" cy="724.6" r="1.0" fill="#ffffff"/>
<circle cx="491.8" cy="710.6" r="1.2" fill="#ffffff"/>
<circle cx="344.9" cy="616.6" r="1.8" fill="#909090"/>
<circle cx="487.5" cy="697.6" r="1.8" fill="#808080"/>
<circle cx="553.3" cy="608.5" r="1.0" fill="#ffffff"/>
<circle cx="470.6" cy="718.3" r="1.8" fill="#808080"/>
<circle cx="337.7" cy="626.8" r="1.4" fill="#d8d8d8"/>
<circle cx="436.7" cy="752.6" r="1.0" fill="#808080"/>
<circle cx="476.0" cy="604.1" r="1.2" fill="#909090"/>
<circle cx="498.7" cy="667.6" r="1.0" fill="#ffffff"/>
<circle cx="455.0" cy="686.0" r="1.4" fill="#909090"/>
<circle cx="347.9" cy="678.5" r="1.0" fill="#ffffff"/>
<circle cx="399.0" cy="685.2" r="1.0" fill="#909090"/>
<circle cx="500.7" cy="701.4" r="1.8" fill="#909090"/>
<circle cx="370.3" cy="601.4" r="1.0" fill="#d8d8d8"/>
<circle cx="356.9" cy="597.4" r="1.0" fill="#909090"/>
<circle cx="486.8" cy="554.6" r="1.8" fill="#b0b0b0"/>
<circle cx="349.0" cy="752.5" r="0.8" fill="#808080"/>
<circle cx="362.0" cy="710.4" r="0.8" fill="#ffffff"/>
<circle cx="441.1" cy="695.2" r="1.2" fill="#909090"/>
<circle cx="323.7" cy="679.1" r="1.4" fill="#909090"/>
<circle cx="515.7" cy="722.6" r="1.0" fill="#d8d8d8"/>
<circle cx="384.2" cy="697.9" r="1.2" fill="#d8d8d8"/>
<circle cx="467.4" cy="574.0" r="1.0" fill="#d8d8d8"/>
<circle cx="466.5" cy="667.1" r="1.0" fill="#b0b0b0"/>
<circle cx="410.1" cy="624.2" r="1.2" fill="#d8d8d8"/>
<circle cx="401.4" cy="712.8" r="1.2" fill="#d8d8d8"/>
<circle cx="412.8" cy="590.4" r="1.4" fill="#d8d8d8"/>
<circle cx="478.7" cy="628.0" r="1.8" fill="#b0b0b0"/>
<circle cx="367.7" cy="731.2" r="0.8" fill="#909090"/>
<circle cx="461.1" cy="724.3" r="1.0" fill="#ffffff"/>
<circle cx="412.5" cy="780.0" r="1.2" fill="#ffffff"/>
<circle cx="313.5" cy="732.0" r="0.8" fill="#ffffff"/>
<circle cx="405.5" cy="552.4" r="1.0" fill="#909090"/>
<circle cx="485.2" cy="679.3" r="1.0" fill="#ffffff"/>
<circle cx="553.5" cy="709.0" r="1.0" fill="#909090"/>
<circle cx="555.8" cy="701.9" r="0.8" fill="#d8d8d8"/>
<circle cx="382.2" cy="603.2" r="1.0" fill="#808080"/>
<circle cx="396.4" cy="734.6" r="0.8" fill="#ffffff"/>
<circle cx="473.2" cy="602.7" r="1.0" fill="#808080"/>
<circle cx="404.0" cy="689.6" r="1.2" fill="#808080"/>
<circle cx="509.6" cy="749.0" r="0.8" fill="#b0b0b0"/>
<circle cx="564.5" cy="659.0" r="1.4" fill="#ffffff"/>
<circle cx="489.2" cy="696.7" r="1.0" fill="#909090"/>
<circle cx="324.2" cy="634.8" r="1.2" fill="#d8d8d8"/>
<circle cx="487.0" cy="647.3" r="1.8" fill="#d8d8d8"/>
<circle cx="399.7" cy="570.1" r="0.8" fill="#d8d8d8"/>
<circle cx="500.6" cy="596.0" r="0.8" fill="#909090"/>
<circle cx="441.3" cy="552.4" r="0.8" fill="#b0b0b0"/>
<circle cx="360.8" cy="685.0" r="1.8" fill="#ffffff"/>
<circle cx="423.9" cy="698.7" r="1.2" fill="#808080"/>
<circle cx="403.5" cy="726.3" r="1.0" fill="#b0b0b0"/>
<circle cx="398.3" cy="791.5" r="0.8" fill="#808080"/>
<circle cx="464.0" cy="671.1" r="1.0" fill="#b0b0b0"/>
<circle cx="544.2" cy="621.0" r="1.4" fill="#ffffff"/>
<circle cx="486.9" cy="718.2" r="1.0" fill="#b0b0b0"/>
<circle cx="336.4" cy="605.4" r="1.0" fill="#ffffff"/>
<circle cx="473.5" cy="743.0" r="1.8" fill="#d8d8d8"/>
<circle cx="303.8" cy="713.6" r="1.2" fill="#ffffff"/>
<circle cx="520.8" cy="604.6" r="1.2" fill="#808080"/>
<circle cx="542.8" cy="695.3" r="1.8" fill="#d8d8d8"/>
<circle cx="316.0" cy="581.9" r="0.8" fill="#d8d8d8"/>
<circle cx="460.3" cy="776.6" r="0.8" fill="#ffffff"/>
<circle cx="489.4" cy="603.2" r="1.2" fill="#909090"/>
<circle cx="464.1" cy="585.4" r="1.0" fill="#808080"/>
<circle cx="452.2" cy="553.2" r="1.0" fill="#b0b0b0"/>
<circle cx="384.7" cy="587.6" r="0.8" fill="#808080"/>
<circle cx="512.2" cy="764.7" r="1.0" fill="#909090"/>
<circle cx="486.2" cy="764.0" r="0.8" fill="#b0b0b0"/>
<circle cx="431.0" cy="575.5" r="1.2" fill="#909090"/>
<circle cx="385.6" cy="701.3" r="0.8" fill="#ffffff"/>
<circle cx="500.5" cy="669.4" r="1.8" fill="#ffffff"/>
<circle cx="333.3" cy="658.6" r="1.4" fill="#909090"/>
<circle cx="482.9" cy="534.3" r="1.8" fill="#808080"/>
<circle cx="440.1" cy="622.0" r="1.0" fill="#808080"/>
<circle cx="389.1" cy="653.8" r="1.0" fill="#b0b0b0"/>
<circle cx="436.9" cy="602.4" r="1.4" fill="#808080"/>
<circle cx="537.0" cy="607.5" r="1.0" fill="#d8d8d8"/>
<circle cx="477.3" cy="689.7" r="1.0" fill="#b0b0b0"/>
<circle cx="497.8" cy="704.6" r="0.8" fill="#d8d8d8"/>
<circle cx="323.0" cy="629.5" r="1.2" fill="#ffffff"/>
<circle cx="428.9" cy="538.7" r="1.4" fill="#d8d8d8"/>
<circle cx="511.7" cy="727.4" r="1.8" fill="#808080"/>
<circle cx="515.0" cy="722.4" r="1.0" fill="#b0b0b0"/>
<circle cx="512.9" cy="704.4" r="1.0" fill="#ffffff"/>
<circle cx="447.6" cy="779.6" r="0.8" fill="#808080"/>
<circle cx="320.6" cy="713.9" r="1.4" fill="#808080"/>
<circle cx="412.5" cy="740.2" r="1.4" fill="#b0b0b0"/>
<circle cx="470.8" cy="717.1" r="1.0" fill="#808080"/>
<circle cx="440.3" cy="672.2" r="1.0" fill="#7a7a7a"/>
<circle cx="392.5" cy="575.1" r="1.3" fill="#c8c8c8"/>
<circle cx="476.6" cy="566.5" r="1.0" fill="#7a7a7a"/>
<circle cx="498.7" cy="755.2" r="1.0" fill="#7a7a7a"/>
<circle cx="502.0" cy="689.5" r="0.8" fill="#606060"/>
<circle cx="499.8" cy="553.9" r="1.3" fill="#7a7a7a"/>
<circle cx="347.7" cy="624.3" r="1.0" fill="#9a9a9a"/>
<circle cx="444.5" cy="646.5" r="1.0" fill="#7a7a7a"/>
<circle cx="473.3" cy="748.2" r="1.3" fill="#9a9a9a"/>
<circle cx="400.7" cy="725.1" r="0.8" fill="#7a7a7a"/>
<circle cx="392.1" cy="590.0" r="1.3" fill="#9a9a9a"/>
<circle cx="375.7" cy="751.9" r="1.0" fill="#606060"/>
<circle cx="325.6" cy="760.1" r="1.0" fill="#7a7a7a"/>
<circle cx="467.2" cy="658.0" r="1.0" fill="#9a9a9a"/>
<circle cx="426.9" cy="751.1" r="1.3" fill="#c8c8c8"/>
<circle cx="327.7" cy="724.1" r="1.0" fill="#7a7a7a"/>
<circle cx="516.2" cy="634.1" r="1.0" fill="#606060"/>
<circle cx="458.6" cy="714.9" r="0.8" fill="#9a9a9a"/>
<circle cx="386.2" cy="624.6" r="0.8" fill="#606060"/>
<circle cx="334.9" cy="642.2" r="0.8" fill="#c8c8c8"/>
<circle cx="463.5" cy="569.1" r="1.0" fill="#9a9a9a"/>
<circle cx="439.9" cy="644.7" r="0.8" fill="#606060"/>
<circle cx="503.0" cy="605.2" r="1.0" fill="#c8c8c8"/>
<circle cx="351.3" cy="571.2" r="0.8" fill="#c8c8c8"/>
<circle cx="493.7" cy="558.1" r="1.3" fill="#606060"/>
<circle cx="524.2" cy="736.4" r="0.8" fill="#9a9a9a"/>
<circle cx="527.3" cy="594.4" r="1.0" fill="#9a9a9a"/>
<circle cx="422.9" cy="571.6" r="1.0" fill="#606060"/>
<circle cx="430.4" cy="564.8" r="1.0" fill="#606060"/>
<circle cx="504.0" cy="751.5" r="1.3" fill="#9a9a9a"/>
<circle cx="369.4" cy="642.4" r="1.3" fill="#606060"/>
<circle cx="494.0" cy="727.1" r="1.0" fill="#606060"/>
<circle cx="327.5" cy="725.4" r="0.8" fill="#c8c8c8"/>
<circle cx="355.3" cy="718.1" r="1.0" fill="#9a9a9a"/>
<circle cx="532.0" cy="599.2" r="1.0" fill="#7a7a7a"/>
<circle cx="381.0" cy="652.5" r="1.0" fill="#9a9a9a"/>
<circle cx="463.6" cy="579.6" r="0.8" fill="#606060"/>
<circle cx="340.5" cy="698.4" r="0.8" fill="#606060"/>
<circle cx="509.3" cy="595.0" r="0.8" fill="#606060"/>
<circle cx="525.0" cy="679.7" r="0.8" fill="#606060"/>
<circle cx="373.8" cy="747.4" r="1.3" fill="#9a9a9a"/>
<circle cx="327.4" cy="724.7" r="0.8" fill="#c8c8c8"/>
<circle cx="351.8" cy="691.3" r="1.0" fill="#7a7a7a"/>
<circle cx="356.1" cy="662.8" r="1.3" fill="#9a9a9a"/>
<circle cx="383.6" cy="575.9" r="1.0" fill="#c8c8c8"/>
<circle cx="387.8" cy="744.5" r="1.3" fill="#606060"/>
<circle cx="526.1" cy="604.3" r="1.3" fill="#7a7a7a"/>
<circle cx="379.3" cy="668.5" r="1.3" fill="#606060"/>
<circle cx="352.3" cy="654.9" r="1.3" fill="#9a9a9a"/>
<circle cx="326.1" cy="716.0" r="1.0" fill="#7a7a7a"/>
<circle cx="429.7" cy="682.2" r="1.0" fill="#9a9a9a"/>
<circle cx="492.4" cy="603.8" r="1.3" fill="#606060"/>
<circle cx="509.0" cy="717.1" r="1.3" fill="#c8c8c8"/>
<circle cx="416.2" cy="575.2" r="0.8" fill="#c8c8c8"/>
<circle cx="443.1" cy="611.7" r="1.3" fill="#606060"/>
<circle cx="530.7" cy="617.2" r="0.8" fill="#9a9a9a"/>
<circle cx="459.0" cy="565.2" r="0.8" fill="#606060"/>
<circle cx="345.0" cy="661.7" r="1.3" fill="#c8c8c8"/>
<circle cx="497.6" cy="582.7" r="1.0" fill="#9a9a9a"/>
<circle cx="427.6" cy="672.8" r="0.8" fill="#606060"/>
<circle cx="333.2" cy="709.9" r="0.8" fill="#c8c8c8"/>
<circle cx="509.2" cy="632.4" r="1.0" fill="#c8c8c8"/>
<circle cx="494.6" cy="655.5" r="0.8" fill="#9a9a9a"/>
<circle cx="379.1" cy="728.2" r="1.3" fill="#c8c8c8"/>
<circle cx="405.5" cy="686.0" r="0.8" fill="#c8c8c8"/>
<circle cx="448.0" cy="737.9" r="0.8" fill="#7a7a7a"/>
<circle cx="442.5" cy="743.5" r="1.0" fill="#9a9a9a"/>
<circle cx="326.4" cy="562.7" r="1.3" fill="#606060"/>
<circle cx="465.1" cy="690.4" r="0.8" fill="#606060"/>
<circle cx="348.9" cy="705.5" r="1.3" fill="#606060"/>
<circle cx="452.2" cy="600.3" r="1.3" fill="#9a9a9a"/>
<circle cx="471.8" cy="705.1" r="1.3" fill="#9a9a9a"/>
<circle cx="333.3" cy="704.3" r="1.0" fill="#9a9a9a"/>
<circle cx="524.1" cy="696.8" r="1.0" fill="#9a9a9a"/>
<circle cx="409.0" cy="617.9" r="1.0" fill="#c8c8c8"/>
<circle cx="386.8" cy="738.7" r="1.0" fill="#606060"/>
<circle cx="421.6" cy="586.3" r="0.8" fill="#c8c8c8"/>
<circle cx="390.1" cy="682.4" r="1.0" fill="#9a9a9a"/>
<circle cx="355.8" cy="762.9" r="1.3" fill="#606060"/>
<circle cx="415.8" cy="662.7" r="1.0" fill="#7a7a7a"/>
<circle cx="365.5" cy="746.3" r="0.8" fill="#606060"/>
<circle cx="519.7" cy="626.1" r="0.8" fill="#7a7a7a"/>
<circle cx="415.0" cy="672.2" r="1.3" fill="#7a7a7a"/>
<circle cx="440.3" cy="693.1" r="1.0" fill="#c8c8c8"/>
<circle cx="498.9" cy="615.4" r="0.8" fill="#7a7a7a"/>
<circle cx="428.3" cy="659.3" r="11.9" fill="#d0d0d0" opacity="0.5" filter="url(#bl3)"/>
<circle cx="428.3" cy="659.3" r="8.5" fill="#fff"/>
</g>
<text x="18" y="609.8" font-size="48.5" font-family="Liberation Serif, serif" fill="#000">(b)</text>
<text x="42.0" y="830.8" font-size="42.0" font-family="Liberation Serif, serif" fill="#fff" opacity="0.92">TiO<tspan font-size="32" dy="9">2</tspan></text>
<line x1="132.2" y1="763.2" x2="132.2" y2="882.3" stroke="#fff" stroke-width="1.6"/><polygon points="132.2,896.3 125.2,882.3 139.2,882.3" fill="#fff"/><polygon points="132.2,749.2 125.2,763.2 139.2,763.2" fill="#fff"/>
<line x1="96.1" y1="935.4" x2="96.1" y2="914.0" stroke="#fff" stroke-width="1.6"/><polygon points="96.1,901.0 103.1,915.0 89.1,915.0" fill="#fff"/>
<text x="19.5" y="971.0" font-size="44.5" font-family="Liberation Sans, sans-serif" fill="#fff" transform="translate(19.5 0) scale(0.95 1) translate(-19.5 0)">interface</text>
<line x1="377.5" y1="915.0" x2="401.2" y2="884.6" stroke="#fff" stroke-width="1.6"/><polygon points="409.2,874.4 405.3,889.1 395.9,881.7" fill="#fff"/>
<text x="298.0" y="940.6" font-size="43.0" font-family="Liberation Sans, sans-serif" fill="#fff" transform="translate(298 0) scale(0.95 1) translate(-298 0)">void</text>
<rect x="373.9" y="973.3" width="112.6" height="15.2" fill="#fff"/><rect x="373.9" y="978.3" width="111.1" height="4.4" fill="#000"/>
<text x="380.0" y="1050.4" font-size="50.0" font-family="Liberation Serif, serif" fill="#fff" >1 μm</text>
<text x="27.5" y="1057.0" font-size="44.3" font-family="Liberation Serif, serif" fill="#fff" >TiNbSn substrate</text>
</g>
<line x1="857.0" y1="163.5" x2="857.0" y2="963" stroke="#808080" stroke-width="2" stroke-dasharray="2 3.65"/>
<line x1="887.7" y1="163.5" x2="887.7" y2="963" stroke="#808080" stroke-width="2" stroke-dasharray="2 3.65"/>
<line x1="1029.7" y1="163.5" x2="1029.7" y2="963" stroke="#808080" stroke-width="2" stroke-dasharray="2 3.65"/>
<line x1="1068.7" y1="163.5" x2="1068.7" y2="963" stroke="#808080" stroke-width="2" stroke-dasharray="2 3.65"/>
<line x1="1078.7" y1="163.5" x2="1078.7" y2="963" stroke="#808080" stroke-width="2" stroke-dasharray="2 3.65"/>
<line x1="1112.2" y1="163.5" x2="1112.2" y2="963" stroke="#808080" stroke-width="2" stroke-dasharray="2 3.65"/>
<line x1="1231.7" y1="163.5" x2="1231.7" y2="963" stroke="#808080" stroke-width="2" stroke-dasharray="2 3.65"/>
<line x1="1324.0" y1="163.5" x2="1324.0" y2="963" stroke="#808080" stroke-width="2" stroke-dasharray="2 3.65"/>
<line x1="1330.6" y1="163.5" x2="1330.6" y2="963" stroke="#808080" stroke-width="2" stroke-dasharray="2 3.65"/>
<line x1="1345.1" y1="163.5" x2="1345.1" y2="963" stroke="#808080" stroke-width="2" stroke-dasharray="2 3.65"/>
<line x1="1359.2" y1="163.5" x2="1359.2" y2="963" stroke="#808080" stroke-width="2" stroke-dasharray="2 3.65"/>
<line x1="1462.6" y1="163.5" x2="1462.6" y2="963" stroke="#808080" stroke-width="2" stroke-dasharray="2 3.65"/>
<line x1="1474.0" y1="163.5" x2="1474.0" y2="963" stroke="#808080" stroke-width="2" stroke-dasharray="2 3.65"/>
<line x1="1559.5" y1="163.5" x2="1559.5" y2="963" stroke="#808080" stroke-width="2" stroke-dasharray="2 3.65"/>
<line x1="1578.2" y1="163.5" x2="1578.2" y2="963" stroke="#808080" stroke-width="2" stroke-dasharray="2 3.65"/>
<line x1="1595.9" y1="163.5" x2="1595.9" y2="963" stroke="#808080" stroke-width="2" stroke-dasharray="2 3.65"/>
<line x1="1676.6" y1="163.5" x2="1676.6" y2="963" stroke="#808080" stroke-width="2" stroke-dasharray="2 3.65"/>
<line x1="1686.9" y1="163.5" x2="1686.9" y2="963" stroke="#808080" stroke-width="2" stroke-dasharray="2 3.65"/>
<rect x="1411.4" y="176.4" width="322" height="130.6" fill="#fff" stroke="#000" stroke-width="2"/>
<line x1="1416.4" y1="210.6" x2="1532" y2="210.6" stroke="#00f" stroke-width="1.8"/>
<line x1="1416.4" y1="272.9" x2="1532" y2="272.9" stroke="#f00" stroke-width="1.8"/>
<text x="1545" y="228.1" font-size="51" font-family="Liberation Serif, serif">TiNbSn</text>
<text x="1545" y="289.6" font-size="51" font-family="Liberation Serif, serif">Ti6Al4V</text>
<path d="M773.0 525.9 C774.5 526.8 778.5 529.1 782.0 531.3 C785.5 533.5 789.9 536.5 793.9 539.0 C797.9 541.5 801.9 543.9 805.9 546.2 C809.9 548.5 813.8 550.7 817.8 552.8 C821.8 554.9 825.8 557.1 829.8 558.8 C833.8 560.5 837.7 562.0 841.7 563.2 C845.7 564.4 850.9 565.3 853.7 565.9 C856.5 566.5 857.1 566.7 858.5 566.8 C859.9 566.9 860.9 566.9 862.1 566.5 C863.3 566.1 864.6 565.0 865.7 564.4 C866.9 563.8 868.0 563.0 869.0 562.9 C870.0 562.8 870.6 563.4 871.6 563.9 C872.6 564.4 874.1 565.6 875.2 565.7 C876.3 565.8 877.3 566.0 878.2 564.7 C879.1 563.5 879.8 561.7 880.6 558.2 C881.4 554.7 882.3 549.6 883.0 543.8 C883.7 538.0 884.4 529.7 885.0 523.5 C885.6 517.3 886.2 510.1 886.6 506.7 C887.0 503.3 887.1 503.0 887.5 503.2 C887.9 503.4 888.2 504.5 888.7 507.9 C889.2 511.3 889.7 517.5 890.2 523.5 C890.8 529.5 891.3 537.0 892.0 543.8 C892.7 550.6 893.6 559.1 894.4 564.1 C895.2 569.1 895.6 570.8 896.8 573.7 C898.0 576.6 899.7 579.4 901.5 581.5 C903.3 583.6 905.5 585.0 907.5 586.3 C909.5 587.6 911.3 588.3 913.5 589.3 C915.7 590.3 918.0 591.2 920.7 592.2 C923.5 593.2 927.8 594.5 930.0 595.2 C932.2 595.9 931.8 596.0 934.0 596.6 C936.2 597.2 940.1 598.1 943.1 598.9 C946.1 599.7 949.1 600.5 952.1 601.2 C955.1 601.9 958.2 602.6 961.2 603.2 C964.2 603.8 967.2 604.4 970.2 605.0 C973.2 605.6 976.6 606.4 979.3 606.9 C982.0 607.4 984.7 608.1 986.5 608.1 C988.3 608.1 988.4 607.1 990.1 606.9 C991.8 606.7 994.5 606.6 996.5 607.0 C998.5 607.4 999.9 609.1 1001.9 609.3 C1003.9 609.5 1006.2 609.1 1008.2 608.4 C1010.2 607.7 1012.1 606.6 1013.6 605.2 C1015.1 603.8 1016.3 602.4 1017.3 599.8 C1018.3 597.2 1019.0 593.4 1019.5 589.8 C1020.0 586.2 1020.1 583.1 1020.4 578.1 C1020.7 573.1 1020.6 583.9 1021.3 560.0 C1022.0 536.1 1023.4 478.3 1024.4 435.0 C1025.4 391.7 1026.7 330.8 1027.4 300.0 C1028.1 269.2 1028.0 264.9 1028.4 250.0 C1028.8 235.1 1029.2 210.5 1029.6 210.5 C1030.0 210.5 1030.5 235.1 1030.9 250.0 C1031.3 264.9 1031.2 269.2 1031.9 300.0 C1032.6 330.8 1033.8 391.7 1034.8 435.0 C1035.8 478.3 1037.0 536.1 1037.6 560.0 C1038.2 583.9 1038.0 572.1 1038.5 578.1 C1039.0 584.1 1039.6 591.5 1040.3 596.2 C1041.0 600.9 1041.5 603.4 1042.6 606.1 C1043.7 608.8 1045.6 610.9 1047.1 612.5 C1048.6 614.1 1050.1 614.7 1051.6 615.6 C1053.1 616.5 1054.7 617.3 1056.2 617.9 C1057.7 618.5 1058.6 618.7 1060.7 619.2 C1062.8 619.7 1067.0 621.0 1068.8 621.1 C1070.6 621.2 1070.0 621.1 1071.5 619.7 C1073.0 618.3 1076.4 613.5 1077.9 612.9 C1079.4 612.3 1079.4 614.6 1080.6 616.1 C1081.8 617.6 1083.6 620.8 1085.2 622.1 C1086.8 623.4 1088.0 623.6 1090.3 624.0 C1092.6 624.4 1097.1 624.9 1099.3 624.4 C1101.5 623.9 1102.1 623.1 1103.2 620.8 C1104.3 618.5 1105.0 615.6 1105.8 610.5 C1106.5 605.4 1107.1 598.1 1107.7 589.9 C1108.3 581.7 1108.9 570.5 1109.6 561.5 C1110.2 552.5 1111.0 541.9 1111.6 535.8 C1112.2 529.7 1112.6 525.2 1113.1 524.8 C1113.6 524.4 1114.2 527.1 1114.8 533.2 C1115.4 539.3 1116.1 552.0 1116.7 561.5 C1117.3 571.0 1117.8 580.9 1118.6 589.9 C1119.3 598.9 1120.2 609.6 1121.2 615.6 C1122.2 621.6 1122.7 623.8 1124.4 625.9 C1126.1 628.0 1127.5 627.6 1131.5 628.5 C1135.5 629.4 1144.1 631.3 1148.3 631.1 C1152.5 630.9 1154.1 627.1 1156.7 627.2 C1159.3 627.3 1160.4 630.7 1163.7 631.7 C1167.0 632.7 1171.2 632.9 1176.6 633.4 C1182.0 633.9 1188.4 634.2 1195.9 634.7 C1203.4 635.2 1214.4 636.0 1221.7 636.5 C1229.0 637.0 1231.4 637.1 1240.0 637.5 C1248.6 637.9 1263.9 638.7 1273.1 638.9 C1282.3 639.1 1289.7 639.0 1295.2 638.5 C1300.7 638.0 1303.3 637.3 1306.2 635.8 C1309.1 634.3 1311.2 634.4 1312.8 629.7 C1314.4 625.0 1315.2 618.6 1316.1 607.6 C1317.0 596.6 1317.5 580.0 1318.3 563.5 C1319.0 547.0 1319.8 526.7 1320.6 508.3 C1321.3 489.9 1322.2 464.7 1322.8 453.1 C1323.4 441.5 1323.8 438.8 1324.3 438.8 C1324.8 438.8 1325.5 441.5 1326.1 453.1 C1326.7 464.7 1327.2 489.9 1327.8 508.3 C1328.3 526.7 1328.8 547.0 1329.4 563.5 C1330.0 580.0 1330.7 596.9 1331.6 607.6 C1332.5 618.3 1333.6 623.0 1334.9 627.5 C1336.2 632.0 1337.3 632.9 1339.3 634.5 C1341.3 636.1 1344.8 637.5 1347.0 637.4 C1349.2 637.3 1350.9 636.5 1352.6 634.1 C1354.3 631.7 1355.7 625.6 1357.0 623.0 C1358.3 620.4 1359.2 618.2 1360.3 618.6 C1361.4 619.0 1362.3 622.3 1363.6 625.3 C1364.9 628.2 1365.8 633.7 1368.0 636.3 C1370.2 638.9 1371.5 639.7 1376.8 640.7 C1382.1 641.8 1392.4 642.2 1400.0 642.6 C1407.6 643.0 1416.0 643.4 1422.6 643.3 C1429.2 643.2 1435.3 642.6 1439.6 642.1 C1443.9 641.6 1446.1 641.2 1448.6 640.1 C1451.0 639.0 1452.8 637.9 1454.3 635.6 C1455.8 633.3 1456.7 631.2 1457.7 626.5 C1458.7 621.8 1459.7 612.9 1460.5 607.3 C1461.3 601.6 1462.0 596.2 1462.7 592.6 C1463.4 589.0 1464.0 585.2 1464.7 585.8 C1465.4 586.4 1466.0 591.5 1466.7 596.0 C1467.4 600.5 1468.2 607.7 1469.0 613.0 C1469.8 618.3 1470.9 624.0 1471.8 627.7 C1472.7 631.4 1473.7 634.0 1474.6 635.0 C1475.5 636.0 1476.4 634.5 1477.4 633.9 C1478.4 633.3 1479.8 631.5 1480.8 631.6 C1481.8 631.7 1482.3 632.9 1483.7 634.4 C1485.1 635.9 1487.2 639.3 1489.3 640.7 C1491.4 642.1 1493.5 642.4 1496.1 642.6 C1498.7 642.8 1502.3 642.0 1505.1 642.1 C1507.9 642.2 1508.9 643.2 1513.1 643.5 C1517.2 643.8 1524.7 644.2 1530.0 644.1 C1535.3 644.0 1541.1 644.0 1544.7 642.9 C1548.3 641.8 1549.6 640.9 1551.5 637.8 C1553.4 634.7 1554.7 629.0 1556.0 624.3 C1557.3 619.6 1558.4 613.0 1559.4 609.6 C1560.4 606.2 1561.2 603.5 1562.2 603.7 C1563.2 603.9 1563.9 607.1 1565.1 610.7 C1566.3 614.3 1568.3 624.6 1569.6 625.4 C1570.9 626.1 1572.0 620.1 1573.0 615.2 C1574.0 610.3 1575.0 600.3 1575.8 596.0 C1576.6 591.7 1577.0 589.4 1577.7 589.4 C1578.5 589.4 1579.4 591.3 1580.3 596.0 C1581.2 600.7 1582.2 610.5 1583.2 617.5 C1584.2 624.5 1585.2 633.5 1586.5 637.8 C1587.8 642.1 1588.8 642.3 1591.1 643.5 C1593.3 644.7 1597.3 644.7 1600.0 645.0 C1602.7 645.3 1604.4 645.5 1607.1 645.3 C1609.8 645.1 1612.9 643.5 1616.0 643.6 C1619.1 643.7 1620.0 645.2 1625.8 645.6 C1631.6 646.0 1642.8 645.9 1651.0 645.9 C1659.2 645.9 1670.2 646.6 1675.2 645.6 C1680.2 644.6 1678.9 641.4 1680.8 639.9 C1682.7 638.4 1684.5 636.1 1686.4 636.4 C1688.3 636.7 1690.1 640.1 1692.0 641.7 C1693.9 643.3 1692.0 645.1 1697.6 645.9 C1703.2 646.6 1719.7 646.4 1725.6 646.2 C1731.5 646.1 1730.8 645.5 1733.1 645.0 C1735.4 644.5 1737.4 643.0 1739.6 643.1 C1741.8 643.2 1743.9 644.9 1746.1 645.4 C1748.3 645.9 1751.8 646.2 1753.0 646.4" fill="none" stroke="#00f" stroke-width="2.2" stroke-linejoin="round"/>
<path d="M773.3 809.9 C776.4 811.7 785.3 817.2 792.1 820.9 C798.9 824.6 807.9 829.2 814.1 831.9 C820.4 834.5 825.6 836.4 829.6 836.8 C833.6 837.2 835.8 836.7 838.4 834.2 C841.0 831.7 843.1 830.3 845.0 822.0 C846.9 813.7 848.2 800.0 849.5 784.5 C850.8 769.0 851.8 747.7 852.8 729.3 C853.8 710.9 854.8 687.9 855.6 674.1 C856.4 660.3 857.1 646.6 857.8 646.6 C858.5 646.6 859.2 660.3 860.0 674.1 C860.8 687.9 861.7 710.9 862.7 729.3 C863.7 747.7 864.7 768.0 866.0 784.5 C867.3 801.0 868.4 817.9 870.4 828.6 C872.4 839.3 875.3 844.1 878.1 848.5 C880.9 852.9 884.1 853.6 887.0 855.1 C889.9 856.6 893.3 856.8 895.7 857.7 C898.1 858.6 898.5 858.5 901.3 860.5 C904.1 862.5 909.2 867.2 912.6 869.6 C916.0 872.0 917.9 873.2 921.7 874.7 C925.5 876.2 930.1 877.4 935.2 878.8 C940.3 880.2 946.6 881.7 952.2 883.1 C957.9 884.5 963.5 886.2 969.1 887.4 C974.8 888.6 980.4 889.2 986.1 890.1 C991.8 891.0 998.4 892.0 1003.1 892.5 C1007.8 893.0 1010.6 893.3 1014.4 893.3 C1018.2 893.3 1022.5 892.8 1025.7 892.4 C1028.9 892.0 1031.3 892.0 1033.6 891.1 C1035.8 890.2 1037.3 888.6 1039.2 887.1 C1041.1 885.6 1043.5 883.1 1044.9 882.2 C1046.3 881.4 1046.2 881.6 1047.7 882.0 C1049.2 882.4 1052.1 884.7 1053.9 884.3 C1055.7 883.9 1057.2 882.5 1058.5 879.7 C1059.8 876.9 1060.8 871.8 1061.8 867.3 C1062.8 862.8 1063.8 856.2 1064.7 852.6 C1065.6 849.0 1066.2 845.8 1066.9 845.8 C1067.7 845.8 1068.4 848.6 1069.2 852.6 C1070.0 856.6 1071.0 864.0 1072.0 869.6 C1073.0 875.2 1074.1 882.2 1075.4 886.5 C1076.7 890.8 1078.2 893.3 1079.9 895.6 C1081.6 897.9 1083.2 898.8 1085.6 900.1 C1087.9 901.4 1090.3 902.3 1094.0 903.4 C1097.7 904.5 1104.6 906.4 1107.6 906.8 C1110.6 907.2 1109.5 906.9 1112.1 906.0 C1114.7 905.1 1120.4 901.9 1123.4 901.7 C1126.4 901.6 1127.6 903.6 1130.2 905.1 C1132.8 906.6 1135.5 909.5 1139.3 910.7 C1143.1 911.9 1146.8 911.8 1152.8 912.4 C1158.8 913.0 1167.9 913.9 1175.4 914.4 C1183.0 914.9 1192.4 915.4 1198.1 915.5 C1203.8 915.6 1206.2 915.7 1209.4 915.3 C1212.6 914.9 1215.2 914.7 1217.3 913.0 C1219.4 911.3 1220.5 910.6 1221.8 905.1 C1223.1 899.6 1224.2 888.1 1225.2 880.2 C1226.2 872.3 1227.1 863.0 1228.0 857.6 C1228.9 852.2 1229.8 848.0 1230.8 848.0 C1231.8 848.0 1232.8 851.3 1233.7 857.6 C1234.7 863.9 1235.5 877.8 1236.5 885.9 C1237.5 894.0 1238.8 901.6 1239.9 906.2 C1241.0 910.8 1240.8 911.7 1243.3 913.6 C1245.8 915.5 1250.8 916.6 1254.6 917.5 C1258.4 918.4 1260.8 918.5 1265.9 918.9 C1271.0 919.3 1279.8 919.7 1285.0 919.8 C1290.2 919.9 1292.9 919.9 1297.0 919.5 C1301.1 919.1 1306.0 918.5 1309.4 917.6 C1312.8 916.7 1315.2 915.5 1317.3 913.9 C1319.4 912.2 1320.6 910.4 1321.8 907.7 C1323.0 905.0 1323.8 901.5 1324.7 897.5 C1325.7 893.5 1326.7 888.0 1327.5 883.9 C1328.3 879.8 1329.0 875.0 1329.7 872.6 C1330.4 870.2 1330.7 869.4 1331.4 869.8 C1332.1 870.2 1332.9 872.4 1333.7 874.9 C1334.5 877.4 1335.6 882.7 1336.5 885.0 C1337.4 887.3 1338.2 889.2 1339.0 888.8 C1339.8 888.4 1340.8 885.2 1341.6 882.8 C1342.4 880.4 1343.2 875.9 1343.9 874.3 C1344.6 872.7 1344.9 872.7 1345.6 873.2 C1346.2 873.7 1347.0 874.4 1347.8 877.1 C1348.5 879.8 1349.2 885.5 1350.1 889.6 C1350.9 893.8 1351.8 898.6 1352.9 902.0 C1354.0 905.4 1355.3 907.6 1356.9 909.9 C1358.5 912.2 1360.2 914.0 1362.5 915.6 C1364.8 917.2 1367.2 918.4 1370.4 919.5 C1373.6 920.6 1376.1 921.4 1381.8 922.1 C1387.5 922.8 1396.9 923.4 1404.4 923.7 C1411.9 924.0 1420.4 924.2 1427.0 924.1 C1433.6 924.0 1439.2 923.6 1443.9 922.9 C1448.6 922.2 1452.2 921.1 1455.2 920.1 C1458.2 919.1 1460.1 918.0 1462.0 916.7 C1463.9 915.4 1465.2 914.3 1466.5 912.2 C1467.8 910.1 1468.8 906.9 1469.9 904.3 C1471.0 901.7 1472.2 897.1 1473.3 896.6 C1474.4 896.1 1475.3 898.9 1476.3 901.5 C1477.3 904.1 1478.1 909.4 1479.3 912.0 C1480.5 914.6 1481.6 915.5 1483.6 917.1 C1485.6 918.7 1487.8 920.5 1491.2 921.8 C1494.6 923.0 1499.7 924.0 1503.9 924.6 C1508.1 925.2 1510.9 925.2 1516.6 925.2 C1522.2 925.2 1532.1 925.2 1537.8 924.9 C1543.5 924.6 1546.9 923.9 1550.6 923.5 C1554.3 923.1 1557.4 922.8 1559.9 922.4 C1562.4 922.0 1563.8 922.1 1565.8 921.4 C1567.8 920.7 1570.2 918.9 1571.8 918.0 C1573.4 917.1 1574.2 916.2 1575.6 916.3 C1577.0 916.4 1578.4 917.6 1580.2 918.4 C1582.0 919.2 1584.9 920.9 1586.6 921.0 C1588.3 921.1 1588.9 919.8 1590.4 918.8 C1591.9 917.8 1594.1 914.9 1595.5 914.8 C1596.9 914.7 1597.8 916.7 1598.9 918.0 C1600.0 919.3 1600.9 921.5 1602.3 922.6 C1603.7 923.8 1603.3 924.2 1607.4 924.9 C1611.5 925.5 1619.5 926.2 1627.0 926.5 C1634.5 926.8 1646.5 926.6 1652.4 926.4 C1658.3 926.2 1659.8 925.8 1662.6 925.1 C1665.4 924.4 1667.6 923.5 1669.4 922.1 C1671.2 920.8 1672.3 918.5 1673.6 917.0 C1674.9 915.5 1675.9 913.1 1677.0 912.8 C1678.1 912.4 1679.1 913.5 1680.4 914.9 C1681.7 916.2 1682.9 919.7 1684.6 920.9 C1686.3 922.1 1688.9 921.5 1690.6 922.1 C1692.3 922.7 1693.0 923.6 1694.8 924.3 C1696.6 925.0 1697.4 926.0 1701.6 926.5 C1705.8 927.0 1711.6 927.0 1720.2 927.2 C1728.8 927.4 1747.5 927.5 1753.0 927.6" fill="none" stroke="#f00" stroke-width="2.2" stroke-linejoin="round"/>
<rect x="772.3" y="161.1" width="981.3" height="803.5" fill="none" stroke="#000" stroke-width="3.1"/>
<line x1="772.3" y1="964" x2="772.3" y2="949.6" stroke="#000" stroke-width="2.9"/>
<text x="772.3" y="1006.3" font-size="33" text-anchor="middle" font-family="Liberation Serif, serif">20</text>
<line x1="854.1" y1="964" x2="854.1" y2="957" stroke="#000" stroke-width="2.9"/>
<line x1="935.8" y1="964" x2="935.8" y2="949.6" stroke="#000" stroke-width="2.9"/>
<text x="935.8" y="1006.3" font-size="33" text-anchor="middle" font-family="Liberation Serif, serif">30</text>
<line x1="1017.6" y1="964" x2="1017.6" y2="957" stroke="#000" stroke-width="2.9"/>
<line x1="1099.4" y1="964" x2="1099.4" y2="949.6" stroke="#000" stroke-width="2.9"/>
<text x="1099.4" y="1006.3" font-size="33" text-anchor="middle" font-family="Liberation Serif, serif">40</text>
<line x1="1181.2" y1="964" x2="1181.2" y2="957" stroke="#000" stroke-width="2.9"/>
<line x1="1263.0" y1="964" x2="1263.0" y2="949.6" stroke="#000" stroke-width="2.9"/>
<text x="1263.0" y="1006.3" font-size="33" text-anchor="middle" font-family="Liberation Serif, serif">50</text>
<line x1="1344.7" y1="964" x2="1344.7" y2="957" stroke="#000" stroke-width="2.9"/>
<line x1="1426.5" y1="964" x2="1426.5" y2="949.6" stroke="#000" stroke-width="2.9"/>
<text x="1426.5" y="1006.3" font-size="33" text-anchor="middle" font-family="Liberation Serif, serif">60</text>
<line x1="1508.3" y1="964" x2="1508.3" y2="957" stroke="#000" stroke-width="2.9"/>
<line x1="1590.0" y1="964" x2="1590.0" y2="949.6" stroke="#000" stroke-width="2.9"/>
<text x="1590.0" y="1006.3" font-size="33" text-anchor="middle" font-family="Liberation Serif, serif">70</text>
<line x1="1671.8" y1="964" x2="1671.8" y2="957" stroke="#000" stroke-width="2.9"/>
<line x1="1753.6" y1="964" x2="1753.6" y2="949.6" stroke="#000" stroke-width="2.9"/>
<text x="1753.6" y="1006.3" font-size="33" text-anchor="middle" font-family="Liberation Serif, serif">80</text>
<line x1="772.5" y1="964.6" x2="786.7" y2="964.6" stroke="#000" stroke-width="2.9"/>
<text x="757" y="975.6" font-size="33" text-anchor="end" font-family="Liberation Serif, serif">0</text>
<line x1="772.5" y1="884.2" x2="779.5" y2="884.2" stroke="#000" stroke-width="2.9"/>
<line x1="772.5" y1="803.9" x2="786.7" y2="803.9" stroke="#000" stroke-width="2.9"/>
<text x="757" y="814.9" font-size="33" text-anchor="end" font-family="Liberation Serif, serif">50k</text>
<line x1="772.5" y1="723.5" x2="779.5" y2="723.5" stroke="#000" stroke-width="2.9"/>
<line x1="772.5" y1="643.2" x2="786.7" y2="643.2" stroke="#000" stroke-width="2.9"/>
<text x="757" y="654.2" font-size="33" text-anchor="end" font-family="Liberation Serif, serif">100k</text>
<line x1="772.5" y1="562.9" x2="779.5" y2="562.9" stroke="#000" stroke-width="2.9"/>
<line x1="772.5" y1="482.5" x2="786.7" y2="482.5" stroke="#000" stroke-width="2.9"/>
<text x="757" y="493.5" font-size="33" text-anchor="end" font-family="Liberation Serif, serif">150k</text>
<line x1="772.5" y1="402.1" x2="779.5" y2="402.1" stroke="#000" stroke-width="2.9"/>
<line x1="772.5" y1="321.8" x2="786.7" y2="321.8" stroke="#000" stroke-width="2.9"/>
<text x="757" y="332.8" font-size="33" text-anchor="end" font-family="Liberation Serif, serif">200k</text>
<line x1="772.5" y1="241.5" x2="779.5" y2="241.5" stroke="#000" stroke-width="2.9"/>
<line x1="772.5" y1="161.1" x2="786.7" y2="161.1" stroke="#000" stroke-width="2.9"/>
<text x="757" y="172.1" font-size="33" text-anchor="end" font-family="Liberation Serif, serif">250k</text>
<text transform="translate(868.2 148.6) rotate(-90)" font-size="33.3" font-family="Liberation Serif, serif">A101</text>
<text transform="translate(901.8 148.9) rotate(-90)" font-size="33.3" font-family="Liberation Serif, serif">R110</text>
<text transform="translate(1038.5 148.8) rotate(-90)" font-size="33.3" font-family="Liberation Serif, serif">R101</text>
<text transform="translate(1073.7 112.3) rotate(-90)" font-size="33.3" font-family="Liberation Serif, serif">A004</text>
<text transform="translate(1101.8 112.9) rotate(-90)" font-size="33.3" font-family="Liberation Serif, serif">R200</text>
<text transform="translate(1136.9 150.6) rotate(-90)" font-size="33.3" font-family="Liberation Serif, serif">R111</text>
<text transform="translate(1241.3 150.6) rotate(-90)" font-size="33.3" font-family="Liberation Serif, serif">A200</text>
<text transform="translate(1313.6 110.5) rotate(-90)" font-size="33.3" font-family="Liberation Serif, serif">R211</text>
<text transform="translate(1345.9 112.3) rotate(-90)" font-size="33.3" font-family="Liberation Serif, serif">A105</text>
<text transform="translate(1370.5 112.3) rotate(-90)" font-size="33.3" font-family="Liberation Serif, serif">A211</text>
<text transform="translate(1395.0 110.5) rotate(-90)" font-size="33.3" font-family="Liberation Serif, serif">R220</text>
<text transform="translate(1464.9 151.2) rotate(-90)" font-size="33.3" font-family="Liberation Serif, serif">R002</text>
<text transform="translate(1496.9 151.0) rotate(-90)" font-size="33.3" font-family="Liberation Serif, serif">A204</text>
<text transform="translate(1566.1 151.0) rotate(-90)" font-size="33.3" font-family="Liberation Serif, serif">A116</text>
<text transform="translate(1590.7 151.0) rotate(-90)" font-size="33.3" font-family="Liberation Serif, serif">R301</text>
<text transform="translate(1616.9 151.0) rotate(-90)" font-size="33.3" font-family="Liberation Serif, serif">A220</text>
<text transform="translate(1683.3 151.0) rotate(-90)" font-size="33.3" font-family="Liberation Serif, serif">A215</text>
<text transform="translate(1713.3 151.0) rotate(-90)" font-size="33.3" font-family="Liberation Serif, serif">R202</text>
<line x1="1063.0" y1="111.9" x2="1064.9" y2="126.8" stroke="#000" stroke-width="2"/><polygon points="1067.4,146.6 1059.2,125.5 1070.1,124.1" fill="#000"/>
<line x1="1090.8" y1="111.9" x2="1087.7" y2="128.2" stroke="#000" stroke-width="2"/><polygon points="1083.9,147.8 1082.7,125.2 1093.5,127.2" fill="#000"/>
<line x1="1304.7" y1="117.3" x2="1310.5" y2="132.2" stroke="#000" stroke-width="2"/><polygon points="1317.8,150.8 1304.7,132.3 1314.9,128.3" fill="#000"/>
<line x1="1334.6" y1="117.3" x2="1332.0" y2="132.9" stroke="#000" stroke-width="2"/><polygon points="1328.6,152.6 1326.9,130.0 1337.7,131.8" fill="#000"/>
<line x1="1361.5" y1="117.3" x2="1352.0" y2="137.5" stroke="#000" stroke-width="2"/><polygon points="1343.5,155.6 1347.9,133.3 1357.8,138.0" fill="#000"/>
<line x1="1382.4" y1="117.3" x2="1370.8" y2="134.8" stroke="#000" stroke-width="2"/><polygon points="1359.7,151.4 1367.3,130.0 1376.5,136.1" fill="#000"/>
<text x="660.9" y="55.3" font-size="49" font-family="Liberation Serif, serif">(c)</text>
<text transform="translate(659.6 856.3) rotate(-90)" font-size="58" font-family="Liberation Serif, serif">Intensity / arbitary unit</text>
<text x="1075.5" y="1073.3" font-size="59.4" font-family="Liberation Serif, serif">CuKα 2θ / degree</text>
</svg></div></body></html>
